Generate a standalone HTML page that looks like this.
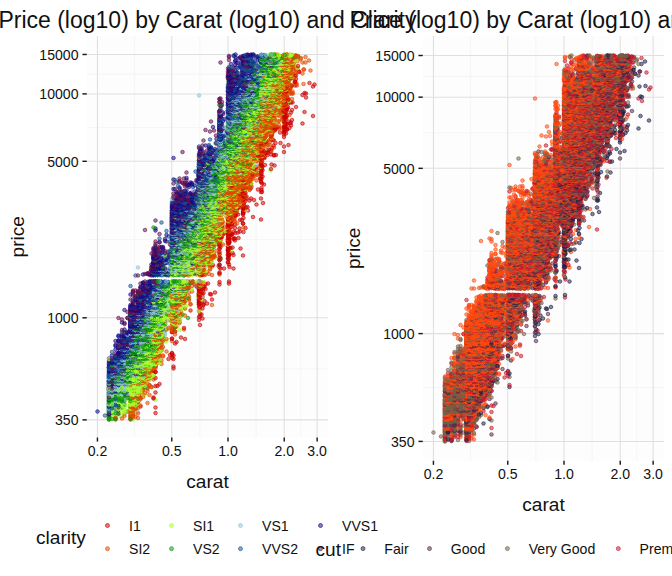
<!DOCTYPE html>
<html><head><meta charset="utf-8"><title>Price by Carat</title>
<style>
html,body{margin:0;padding:0;background:#fff;overflow:hidden}
svg{display:block;font-family:"Liberation Sans",sans-serif}
.tt{font-size:23px;fill:#111}
.ax{font-size:19.1px;fill:#111}
.tk{font-size:14.1px;fill:#111}
.lg{fill-opacity:.52;stroke-opacity:.7;stroke-width:.9}
.a0{marker:url(#a0)}.a1{marker:url(#a1)}.a2{marker:url(#a2)}.a3{marker:url(#a3)}.a4{marker:url(#a4)}.a5{marker:url(#a5)}.a6{marker:url(#a6)}.a7{marker:url(#a7)}.b0{marker:url(#b0)}.b1{marker:url(#b1)}.b2{marker:url(#b2)}.b3{marker:url(#b3)}.b4{marker:url(#b4)}.pt{fill-opacity:.52;stroke-opacity:.7;stroke-width:1.8}
</style></head><body>
<svg width="672" height="576" viewBox="0 0 672 576">
<rect width="672" height="576" fill="#fff"/>
<text class="tt" x="207.4" y="27.5" text-anchor="middle">Price (log10) by Carat (log10) and Clarity</text>
<text class="tt" x="543.8" y="27.5" text-anchor="middle">Price (log10) by Carat (log10) and Cut</text>
<rect x="87.0" y="36.0" width="241.0" height="401.5" fill="#fdfdfd"/>
<line x1="134.60" x2="134.60" y1="36.0" y2="437.5" stroke="#f0f0f0" stroke-width="0.6"/>
<line x1="199.88" x2="199.88" y1="36.0" y2="437.5" stroke="#f0f0f0" stroke-width="0.6"/>
<line x1="256.12" x2="256.12" y1="36.0" y2="437.5" stroke="#f0f0f0" stroke-width="0.6"/>
<line x1="300.68" x2="300.68" y1="36.0" y2="437.5" stroke="#f0f0f0" stroke-width="0.6"/>
<line y1="368.84" y2="368.84" x1="87.0" x2="328.0" stroke="#f0f0f0" stroke-width="0.6"/>
<line y1="239.55" y2="239.55" x1="87.0" x2="328.0" stroke="#f0f0f0" stroke-width="0.6"/>
<line y1="127.60" y2="127.60" x1="87.0" x2="328.0" stroke="#f0f0f0" stroke-width="0.6"/>
<line y1="74.19" y2="74.19" x1="87.0" x2="328.0" stroke="#f0f0f0" stroke-width="0.6"/>
<line x1="97.43" x2="97.43" y1="36.0" y2="437.5" stroke="#dfdfdf" stroke-width="1.05"/>
<line x1="97.43" x2="97.43" y1="437.5" y2="441.6" stroke="#1a1a1a" stroke-width="1.45"/>
<text class="tk" x="97.43" y="455.70" text-anchor="middle">0.2</text>
<line x1="171.77" x2="171.77" y1="36.0" y2="437.5" stroke="#dfdfdf" stroke-width="1.05"/>
<line x1="171.77" x2="171.77" y1="437.5" y2="441.6" stroke="#1a1a1a" stroke-width="1.45"/>
<text class="tk" x="171.77" y="455.70" text-anchor="middle">0.5</text>
<line x1="228.00" x2="228.00" y1="36.0" y2="437.5" stroke="#dfdfdf" stroke-width="1.05"/>
<line x1="228.00" x2="228.00" y1="437.5" y2="441.6" stroke="#1a1a1a" stroke-width="1.45"/>
<text class="tk" x="228.00" y="455.70" text-anchor="middle">1.0</text>
<line x1="284.23" x2="284.23" y1="36.0" y2="437.5" stroke="#dfdfdf" stroke-width="1.05"/>
<line x1="284.23" x2="284.23" y1="437.5" y2="441.6" stroke="#1a1a1a" stroke-width="1.45"/>
<text class="tk" x="284.23" y="455.70" text-anchor="middle">2.0</text>
<line x1="317.13" x2="317.13" y1="36.0" y2="437.5" stroke="#dfdfdf" stroke-width="1.05"/>
<line x1="317.13" x2="317.13" y1="437.5" y2="441.6" stroke="#1a1a1a" stroke-width="1.45"/>
<text class="tk" x="317.13" y="455.70" text-anchor="middle">3.0</text>
<line y1="419.88" y2="419.88" x1="87.0" x2="328.0" stroke="#dfdfdf" stroke-width="1.05"/>
<line y1="419.88" y2="419.88" x1="82.4" x2="86.8" stroke="#1a1a1a" stroke-width="1.45"/>
<text class="tk" x="78.50" y="425.08" text-anchor="end">350</text>
<line y1="317.80" y2="317.80" x1="87.0" x2="328.0" stroke="#dfdfdf" stroke-width="1.05"/>
<line y1="317.80" y2="317.80" x1="82.4" x2="86.8" stroke="#1a1a1a" stroke-width="1.45"/>
<text class="tk" x="78.50" y="323.00" text-anchor="end">1000</text>
<line y1="161.30" y2="161.30" x1="87.0" x2="328.0" stroke="#dfdfdf" stroke-width="1.05"/>
<line y1="161.30" y2="161.30" x1="82.4" x2="86.8" stroke="#1a1a1a" stroke-width="1.45"/>
<text class="tk" x="78.50" y="166.50" text-anchor="end">5000</text>
<line y1="93.90" y2="93.90" x1="87.0" x2="328.0" stroke="#dfdfdf" stroke-width="1.05"/>
<line y1="93.90" y2="93.90" x1="82.4" x2="86.8" stroke="#1a1a1a" stroke-width="1.45"/>
<text class="tk" x="78.50" y="99.10" text-anchor="end">10000</text>
<line y1="54.47" y2="54.47" x1="87.0" x2="328.0" stroke="#dfdfdf" stroke-width="1.05"/>
<line y1="54.47" y2="54.47" x1="82.4" x2="86.8" stroke="#1a1a1a" stroke-width="1.45"/>
<text class="tk" x="78.50" y="59.67" text-anchor="end">15000</text>
<text class="ax" x="207.50" y="487.70" text-anchor="middle">carat</text>
<text class="ax" transform="translate(24.00,236.75) rotate(-90)" text-anchor="middle">price</text>
<rect x="423.0" y="36.0" width="241.0" height="424.75" fill="#fdfdfd"/>
<line x1="470.60" x2="470.60" y1="36.0" y2="460.75" stroke="#f0f0f0" stroke-width="0.6"/>
<line x1="535.88" x2="535.88" y1="36.0" y2="460.75" stroke="#f0f0f0" stroke-width="0.6"/>
<line x1="592.12" x2="592.12" y1="36.0" y2="460.75" stroke="#f0f0f0" stroke-width="0.6"/>
<line x1="636.68" x2="636.68" y1="36.0" y2="460.75" stroke="#f0f0f0" stroke-width="0.6"/>
<line y1="387.50" y2="387.50" x1="423.0" x2="664.0" stroke="#f0f0f0" stroke-width="0.6"/>
<line y1="250.96" y2="250.96" x1="423.0" x2="664.0" stroke="#f0f0f0" stroke-width="0.6"/>
<line y1="132.74" y2="132.74" x1="423.0" x2="664.0" stroke="#f0f0f0" stroke-width="0.6"/>
<line y1="76.33" y2="76.33" x1="423.0" x2="664.0" stroke="#f0f0f0" stroke-width="0.6"/>
<line x1="433.43" x2="433.43" y1="36.0" y2="460.75" stroke="#dfdfdf" stroke-width="1.05"/>
<line x1="433.43" x2="433.43" y1="460.75" y2="464.85" stroke="#1a1a1a" stroke-width="1.45"/>
<text class="tk" x="433.43" y="478.95" text-anchor="middle">0.2</text>
<line x1="507.77" x2="507.77" y1="36.0" y2="460.75" stroke="#dfdfdf" stroke-width="1.05"/>
<line x1="507.77" x2="507.77" y1="460.75" y2="464.85" stroke="#1a1a1a" stroke-width="1.45"/>
<text class="tk" x="507.77" y="478.95" text-anchor="middle">0.5</text>
<line x1="564.00" x2="564.00" y1="36.0" y2="460.75" stroke="#dfdfdf" stroke-width="1.05"/>
<line x1="564.00" x2="564.00" y1="460.75" y2="464.85" stroke="#1a1a1a" stroke-width="1.45"/>
<text class="tk" x="564.00" y="478.95" text-anchor="middle">1.0</text>
<line x1="620.23" x2="620.23" y1="36.0" y2="460.75" stroke="#dfdfdf" stroke-width="1.05"/>
<line x1="620.23" x2="620.23" y1="460.75" y2="464.85" stroke="#1a1a1a" stroke-width="1.45"/>
<text class="tk" x="620.23" y="478.95" text-anchor="middle">2.0</text>
<line x1="653.13" x2="653.13" y1="36.0" y2="460.75" stroke="#dfdfdf" stroke-width="1.05"/>
<line x1="653.13" x2="653.13" y1="460.75" y2="464.85" stroke="#1a1a1a" stroke-width="1.45"/>
<text class="tk" x="653.13" y="478.95" text-anchor="middle">3.0</text>
<line y1="441.41" y2="441.41" x1="423.0" x2="664.0" stroke="#dfdfdf" stroke-width="1.05"/>
<line y1="441.41" y2="441.41" x1="418.4" x2="422.8" stroke="#1a1a1a" stroke-width="1.45"/>
<text class="tk" x="414.50" y="446.61" text-anchor="end">350</text>
<line y1="333.60" y2="333.60" x1="423.0" x2="664.0" stroke="#dfdfdf" stroke-width="1.05"/>
<line y1="333.60" y2="333.60" x1="418.4" x2="422.8" stroke="#1a1a1a" stroke-width="1.45"/>
<text class="tk" x="414.50" y="338.80" text-anchor="end">1000</text>
<line y1="168.33" y2="168.33" x1="423.0" x2="664.0" stroke="#dfdfdf" stroke-width="1.05"/>
<line y1="168.33" y2="168.33" x1="418.4" x2="422.8" stroke="#1a1a1a" stroke-width="1.45"/>
<text class="tk" x="414.50" y="173.53" text-anchor="end">5000</text>
<line y1="97.15" y2="97.15" x1="423.0" x2="664.0" stroke="#dfdfdf" stroke-width="1.05"/>
<line y1="97.15" y2="97.15" x1="418.4" x2="422.8" stroke="#1a1a1a" stroke-width="1.45"/>
<text class="tk" x="414.50" y="102.35" text-anchor="end">10000</text>
<line y1="55.51" y2="55.51" x1="423.0" x2="664.0" stroke="#dfdfdf" stroke-width="1.05"/>
<line y1="55.51" y2="55.51" x1="418.4" x2="422.8" stroke="#1a1a1a" stroke-width="1.45"/>
<text class="tk" x="414.50" y="60.71" text-anchor="end">15000</text>
<text class="ax" x="543.50" y="510.95" text-anchor="middle">carat</text>
<text class="ax" transform="translate(360.00,248.38) rotate(-90)" text-anchor="middle">price</text>
<defs>
<marker id="a0" markerUnits="userSpaceOnUse" markerWidth="16" markerHeight="16" refX="8" refY="8"><circle cx="8" cy="8" r="3.6" fill="#cc0000" stroke="#cc0000" class="pt"/></marker>
<marker id="a1" markerUnits="userSpaceOnUse" markerWidth="16" markerHeight="16" refX="8" refY="8"><circle cx="8" cy="8" r="3.6" fill="#e14a00" stroke="#e14a00" class="pt"/></marker>
<marker id="a2" markerUnits="userSpaceOnUse" markerWidth="16" markerHeight="16" refX="8" refY="8"><circle cx="8" cy="8" r="3.6" fill="#a5ff30" stroke="#a5ff30" class="pt"/></marker>
<marker id="a3" markerUnits="userSpaceOnUse" markerWidth="16" markerHeight="16" refX="8" refY="8"><circle cx="8" cy="8" r="3.6" fill="#109810" stroke="#109810" class="pt"/></marker>
<marker id="a4" markerUnits="userSpaceOnUse" markerWidth="16" markerHeight="16" refX="8" refY="8"><circle cx="8" cy="8" r="3.6" fill="#92c1d8" stroke="#92c1d8" class="pt"/></marker>
<marker id="a5" markerUnits="userSpaceOnUse" markerWidth="16" markerHeight="16" refX="8" refY="8"><circle cx="8" cy="8" r="3.6" fill="#155595" stroke="#155595" class="pt"/></marker>
<marker id="a6" markerUnits="userSpaceOnUse" markerWidth="16" markerHeight="16" refX="8" refY="8"><circle cx="8" cy="8" r="3.6" fill="#150a88" stroke="#150a88" class="pt"/></marker>
<marker id="a7" markerUnits="userSpaceOnUse" markerWidth="16" markerHeight="16" refX="8" refY="8"><circle cx="8" cy="8" r="3.6" fill="#66104f" stroke="#66104f" class="pt"/></marker>
<marker id="b0" markerUnits="userSpaceOnUse" markerWidth="16" markerHeight="16" refX="8" refY="8"><circle cx="8" cy="8" r="3.6" fill="#1c2048" stroke="#1c2048" class="pt"/></marker>
<marker id="b1" markerUnits="userSpaceOnUse" markerWidth="16" markerHeight="16" refX="8" refY="8"><circle cx="8" cy="8" r="3.6" fill="#562a48" stroke="#562a48" class="pt"/></marker>
<marker id="b2" markerUnits="userSpaceOnUse" markerWidth="16" markerHeight="16" refX="8" refY="8"><circle cx="8" cy="8" r="3.6" fill="#716249" stroke="#716249" class="pt"/></marker>
<marker id="b3" markerUnits="userSpaceOnUse" markerWidth="16" markerHeight="16" refX="8" refY="8"><circle cx="8" cy="8" r="3.6" fill="#c4182c" stroke="#c4182c" class="pt"/></marker>
<marker id="b4" markerUnits="userSpaceOnUse" markerWidth="16" markerHeight="16" refX="8" refY="8"><circle cx="8" cy="8" r="3.6" fill="#ff4a12" stroke="#ff4a12" class="pt"/></marker>
</defs>
<g fill="none" stroke="none" transform="scale(0.5)">
<path class=a2 d="M218 837l0 0 0 1 6-10 0 7 7-7 0 1 0 2 0 1 0 6 6-11 0 5 7 0 17 2 5-2 0 7 5-11"/>
<path class=a4 d="M218 827l0 1 0 3 13 6 6-9"/>
<path class=a5 d="M210 831l27-4"/>
<path class=a1 d="M218 833l13 2 0 3 0 1 6-12 7 10 5-10 0 5 12-5 0 4 0 0 0 2 0 2 0 3 0 1 5-12 0 0 0 1 0 3 0 0 0 4 5-1 5 2"/>
<path class=a3 d="M218 829l0 3 0 1 0 2 0 1 0 1 0 2 0 0 6-1 7 0 30 0"/>
<path class=a3 d="M218 818l0 3 0 3 0 0 0 0 6-6 0 2 0 2 0 4 7-8 0 1 0 2 0 5 6 0 18-3 6-2 0 4"/>
<path class=a6 d="M195 823l23-5 0 2 0 8 19-8"/>
<path class=a2 d="M218 819l0 5 6-5 0 0 0 2 0 1 0 1 13-4 7 0 0 6 5-6 0 2 0 4 12-7 0 1 0 0 0 2 0 1 0 1 0 2 5-6 0 1 0 1 0 2"/>
<path class=a4 d="M218 821l13-2 40 4 5 1"/>
<path class=a1 d="M261 819l0 2 0 2 0 3 5-5 0 2 5-5 5 9"/>
<path class=a5 d="M218 823l0 3"/>
<path class=a3 d="M218 811l0 1 0 1 0 2 0 1 0 1 6-5 0 0 0 3 7 2 6-5 0 1 0 0 7 2 17 0"/>
<path class=a4 d="M218 811l0 1 0 4 0 1 6-5 7 3 6 1 34-1"/>
<path class=a5 d="M218 815l6 2"/>
<path class=a2 d="M237 811l0 4 0 1 0 0 0 1 7-6 5 2 0 3 12-3 0 0 0 1 0 2 0 2 5-6 0 2 0 2 0 1 5 0"/>
<path class=a0 d="M281 813l30 2 0 11"/>
<path class=a7 d="M218 829l19-14"/>
<path class=a1 d="M261 813l0 1 5-3 0 2 0 1 0 1 0 2 5-5 0 1 0 4 0 0 5-1 5-5"/>
<path class=a6 d="M218 808l0 5 6-3"/>
<path class=a4 d="M218 808l13-3"/>
<path class=a3 d="M218 808l6-3 0 2 0 1 0 0 0 2 7-4 0 0 0 2 0 1 6 0 0 0 12 0 12 0 5-2"/>
<path class=a5 d="M218 807l0 2 6 2 7-2 0 1 6 1 7-6"/>
<path class=a1 d="M261 805l0 0 0 3 0 2 0 0 5-4 0 2 0 1 0 1 5-3 0 1 5-3 0 1 0 2 0 1 19-3"/>
<path class=a2 d="M218 809l6 0 13-5 7 2 0 2 11 2 6-5 0 2 0 0 0 1 0 0 0 2 5-5 0 2 0 0 0 2 5 2 5-4"/>
<path class=a5 d="M218 802l13-2 0 2 45 1"/>
<path class=a4 d="M218 800l0 0 0 0 0 3 0 1 6-4 0 1 0 1 0 1 0 1 0 0 7-2 0 0 6 0 7-1 0 2 37-4"/>
<path class=a1 d="M261 801l0 1 5-1 0 1 5 0 5 0 0 1 0 0"/>
<path class=a2 d="M224 802l13-3 0 3 0 2 24-3 0 0 0 1 5-3 0 1 0 2 0 0 0 0 5-2 0 4 5-4 0 1 35-1"/>
<path class=a3 d="M218 800l0 2 0 2 0 0 6-3 13-2 0 2 7-1 0 1 0 2 5-1 12 0 5-2"/>
<path class=a0 d="M307 795l0 2"/>
<path class=a1 d="M261 795l0 3 5-2 0 0 5-2 0 3 0 2 0 0 5-3 0 1 5 0 0 0"/>
<path class=a2 d="M231 797l0 1 13-4 0 1 11 2 6-2 0 0 0 1 0 1 0 2 5 0 5-2 0 1 5-3"/>
<path class=a4 d="M218 797l0 0 6-3 0 0 0 1 0 2 7-1 0 1"/>
<path class=a6 d="M218 794l0 6 6-3"/>
<path class=a3 d="M218 797l0 1 6-2 0 2 0 1 0 0 7-4 0 1 0 2 6-2 0 1 7-2 0 2 0 0 11-1 6 1 0 1 5-2 10 1"/>
<path class=a5 d="M218 794l13 4"/>
<path class=a5 d="M224 792l20 0 5 0"/>
<path class=a2 d="M231 790l6 3 7 1 5-4 6 3 6-1 0 0 5-2 0 1 0 1 0 2 5-1 0 1 5-3 14-1"/>
<path class=a3 d="M218 790l0 0 0 0 0 2 0 2 6-4 0 2 7 0 6-2 0 1 0 3 0 0 7 0 5-3 0 0 6 3 6-4"/>
<path class=a4 d="M218 792l6-2 0 2 13-2 24 0 5 4"/>
<path class=a1 d="M261 790l0 2 5 1 0 1 0 0 5-4 0 1 0 2 0 0 5-2 0 0 0 1 0 1 0 1 5-4 0 1 0 0 0 3 5 0"/>
<path class=a6 d="M218 786l19 1 0 2"/>
<path class=a1 d="M271 787l0 1 10-2 0 2 5 1 13 1"/>
<path class=a3 d="M218 786l0 2 0 1 6-3 0 3 7-2 0 0 0 2 0 0 6-2 0 1 0 1 7-2 5 1 0 1 6 1 11-3 5 2 0 0"/>
<path class=a2 d="M224 787l0 3 13-1 7-1 0 1 17-3 0 1 0 1 0 0 0 0 5-1 0 1 0 1 0 0 0 1 5-3 0 1 5-1 0 0 0 1 0 1 10 0"/>
<path class=a7 d="M218 786l0 8 37-5"/>
<path class=a4 d="M218 788l6-1 0 2 0 0 20-2 0 1 11 0"/>
<path class=a1 d="M255 784l6 1 5-3 5 1 0 2 5-3 0 3 0 1 5-4 0 0 9 4 5-4"/>
<path class=a4 d="M218 782l0 0 0 0 0 2 0 0 13-1 0 2 6-3 0 2 0 1 7 0 17-1 10 1"/>
<path class=a2 d="M231 785l13-2 5 0 12-1 0 3 0 1 5-4 0 0 0 2 0 0 0 1 0 1 5-1 5 0 5-3"/>
<path class=a6 d="M224 782l13 0"/>
<path class=a7 d="M224 783l0 2"/>
<path class=a3 d="M224 783l0 1 7-2 6 1 0 2 7-2 0 1 5-1 0 2 6-3"/>
<path class=a5 d="M218 784l6 1 7-2 0 1 18 4 6-6"/>
<path class=a7 d="M218 779l0 1 31-1"/>
<path class=a3 d="M224 781l13-2 0 0 0 2 7-1 0 0 5-1 6 2 6-3 5 0 0 2 10-2"/>
<path class=a5 d="M218 780l6-1 0 1 7 0 0 1"/>
<path class=a6 d="M224 779l7 2 0 0"/>
<path class=a4 d="M218 781l6-2 0 2 7-2 0 0 6 1 0 1 24-3 0 0"/>
<path class=a1 d="M266 781l5-3 0 1 0 1 0 1 10-2 5 0 0 1"/>
<path class=a2 d="M237 780l7-1 5 3 6-2 6 0 0 0 0 0 0 2 0 0 5-3 0 0 0 1 5-1 0 1 5-2 0 2 0 2 0 0 0 0 5 0"/>
<path class=a3 d="M218 775l0 0 0 3 6-1 13-2 7 0 0 1 5 1 12-1 5 0 10 0 19 0"/>
<path class=a5 d="M218 778l0 0 0 0 6-3 13 1"/>
<path class=a6 d="M218 775l6 0 42 1"/>
<path class=a1 d="M276 776l0 1 5-2 0 1 5-1 0 1 9 1"/>
<path class=a2 d="M218 778l19-3 0 1 7 1 11-2 0 2 6-1 0 0 5 1 5-2 0 0 0 1 0 0 0 0 5 0 0 0 0 1 0 1 5 0"/>
<path class=a4 d="M224 776l0 1 7-2 0 0 0 1 0 1 6-2 0 2 7-2 0 3 5 0 0 0 22-3"/>
<path class=a1 d="M261 774l5 1 15-3 5 1 13-2 4 3 0 0"/>
<path class=a3 d="M218 772l6-1 0 1 0 0 7 1 0 0 6-1 7-1 0 2 0 1 11-3 11 3 5 0 10-2 9 2"/>
<path class=a5 d="M224 772l0 1 7 1 13-4"/>
<path class=a7 d="M218 772l6 0 0 5"/>
<path class=a2 d="M218 772l19 2 7 0 5 0 0 1 6-1 6-2 0 0 0 2 0 0 5-2 0 0 0 1 0 2 5-3 0 2 5-2 0 1 0 0 5-2 0 2 0 1 9-2"/>
<path class=a4 d="M231 773l6-3 0 3 7-1 5 0 0 2 12-2"/>
<path class=a0 d="M311 772l0 13 4-13"/>
<path class=a3 d="M224 769l13 1 7-2 0 0 0 1 5-1 6 0 16 0 10 1"/>
<path class=a4 d="M218 769l13 0 0 1 0 0 0 0 6-2 0 1 7 0 5 1"/>
<path class=a5 d="M218 769l0 1 0 0 13-2 0 1 6-1 24 0"/>
<path class=a2 d="M244 770l17-2 0 0 0 2 0 0 5-2 0 0 0 0 0 2 0 0 0 0 5-2 0 0 0 2 0 0 0 0 5 0 0 0 0 0 5-1 0 0 5-1 0 1"/>
<path class=a6 d="M218 768l6 0 0 1 13 1 12-2"/>
<path class=a1 d="M261 770l15-2 0 0 0 0 23 2"/>
<path class=a6 d="M218 767l6-2 0 1"/>
<path class=a7 d="M218 770l6-4 0 1 7-1"/>
<path class=a3 d="M218 765l0 2 13-2 0 1 6-1 0 0 0 0 0 2 7-1 5-1 6 1 6 0 10-2 5 3"/>
<path class=a5 d="M231 766l18 0 0 1"/>
<path class=a2 d="M237 767l18-1 6 0 0 0 5 0 0 1 5-2 0 1 0 0 5-1 0 2 5-2 0 0 0 1 0 1 5-2 0 1 0 1"/>
<path class=a4 d="M218 767l13-1 6 1 7-2 0 2 0 0 5-3 0 3 6-1 21 0 5-1"/>
<path class=a1 d="M266 764l0 2 5 0 5-1 5 2 5-2 0 1 9 1"/>
<path class=a6 d="M218 762l0 1 0 1 6-1 0 1 7-1"/>
<path class=a4 d="M224 763l7-2 0 1 13-1 5 1 6 1 6-1 0 2 20-2 0 2"/>
<path class=a2 d="M237 762l12 0 12 0 0 2 5-2 0 0 0 2 0 0 5-2 0 0 0 0 0 2 5-2 0 0 5 0 5 1 0 1 0 0 4 0"/>
<path class=a1 d="M261 762l20 1 5-1 4-1 0 3 5-3"/>
<path class=a3 d="M218 763l6 0 7 1 6-1 7-1 0 2 5-3 0 1 6-1 0 3 6 0 5-2 10 0 5 0"/>
<path class=a5 d="M218 764l13-2 6 0 7 0"/>
<path class=a3 d="M224 760l7 1 6-2 0 1 18-1 0 0 0 1 0 1 6-3 0 2 0 0 5-2 0 2 5 0 5-2 10 3"/>
<path class=a6 d="M218 761l6 0 37-1"/>
<path class=a5 d="M218 760l0 1 6-2 0 0 0 2 7-2 0 0 0 1 6 1 7-2 0 0 0 2 5-2 0 1 22 0"/>
<path class=a1 d="M281 759l5 0 0 2 0 0 4-2 0 1 5-1 12 0"/>
<path class=a7 d="M224 764l25-4"/>
<path class=a4 d="M231 759l6 0 0 1 7 1 11-2"/>
<path class=a2 d="M266 758l0 2 0 0 5 0 5-2 0 3 0 0 0 0 5 0 9-2 5 2 4-1"/>
<path class=a5 d="M218 755l0 1 0 1 0 0 6 0 7-1 13 1 5 1"/>
<path class=a3 d="M224 757l0 1 7-2 0 1 6-1 0 0 0 1 0 1 7-2 5-1 0 3 12 0 10-1 0 1 5-1 5 0 0 1"/>
<path class=a6 d="M218 756l6 1 20 0 11-2"/>
<path class=a1 d="M276 758l5 0 9-3 0 3 5 0 4-1"/>
<path class=a0 d="M311 756l8 12"/>
<path class=a2 d="M255 757l6-1 0 0 0 2 5-2 0 0 0 1 0 1 5-2 0 0 0 2 0 0 5-1 5-1 0 1 9 1 5-2"/>
<path class=a4 d="M218 757l19-2 0 1 12 0 12 0 15 1"/>
<path class=a6 d="M218 753l6 2"/>
<path class=a7 d="M224 752l7 3 50-2"/>
<path class=a1 d="M276 753l5 1 0 1 9-3 0 2 0 0 5-2 0 1 12 1"/>
<path class=a5 d="M218 752l0 1 6-1 0 2"/>
<path class=a4 d="M231 753l6 0 7-1 0 1 0 1 17-2 5 0"/>
<path class=a3 d="M224 754l13-1 0 0 0 2 7-3 5 1 0 1 6-1 0 2 6-1 5-2 0 2 5 0 5 0 0 1 10-3 4 0"/>
<path class=a2 d="M249 753l12 1 0 0 5-2 0 2 0 0 5 0 0 0 5-2 0 1 0 1 5-2 0 3 5-3 0 2 0 1 0 0 13 0 4-2"/>
<path class=a2 d="M261 750l0 0 0 2 5-2 5 0 0 0 5 0 0 0 0 0 5 0 0 0 0 2 5 0 4-2 0 0 0 1 0 0 5 1 4-1 4 1 4-2"/>
<path class=a6 d="M218 750l6 1 0 1 7-1"/>
<path class=a3 d="M218 750l13 0 6 0 0 2 7-1 5-1 0 1 0 1 6 0 0 0 0 0 6-2 0 2 5-2 5 0 0 2 15 0"/>
<path class=a4 d="M224 750l0 2 7-2 6 0 7 0 0 1 5 1 17-2 5 2 0 0 15 0 0 0"/>
<path class=a5 d="M218 750l0 1"/>
<path class=a1 d="M281 750l14 1 0 0 4 1"/>
<path class=a4 d="M224 749l7-2 0 2 6-2 0 2 7-2 5 1 6-1 6 1 0 0 5 0 0 0 20-1 4 0"/>
<path class=a1 d="M281 749l5-2 4 1 9-1 0 2"/>
<path class=a2 d="M255 748l6-2 5 2 5-1 0 1 5-1 0 1 5 1 5-2 0 1 9 1 4 0 8 0"/>
<path class=a6 d="M224 749l7-2 13 1 5 1 32-1"/>
<path class=a5 d="M218 748l6 0 0 1 7 0 6-2 7 0 0 2 42-1"/>
<path class=a3 d="M231 748l6-1 0 1 0 1 7 0 5-2 0 2 12-3 0 2 10 0 5 0 0 0 10 1 4-1"/>
<path class=a3 d="M231 744l13 1 11 0 0 0 0 0 6-1 5 0 0 0 0 2 10-1 0 1 0 0 5-1 14 0 0 1"/>
<path class=a2 d="M249 745l12 1 5 0 5-2 0 0 0 2 0 0 5-2 0 0 5 1 0 1 0 0 0 0 0 0 5-2 0 1 4-1 0 1 5 1 12-1"/>
<path class=a6 d="M231 746l6-1"/>
<path class=a5 d="M218 746l0 0 6-2 0 2 13-1 0 1 12-1 12-1 5 2"/>
<path class=a7 d="M231 745l13 1 27 2"/>
<path class=a4 d="M224 745l20-1 0 1 5 1 12-2 5 0 5 0"/>
<path class=a1 d="M286 745l4 0 0 1 9-1"/>
<path class=a4 d="M231 742l0 1 6-2 0 0 7 1 5-1 0 2 12-1 0 0 5 0"/>
<path class=a5 d="M237 744l7-1 5-2 0 1 6-1 0 1"/>
<path class=a2 d="M266 742l5 0 0 0 0 0 5 0 0 0 0 1 5-1 0 1 5-2 0 0 0 1 0 1 4-1 0 1 5-1 4-1"/>
<path class=a3 d="M244 741l0 2 5-2 0 1 6 0 6 0 5 0 15 1 5 0 4 0"/>
<path class=a1 d="M290 741l9 0 0 1 4-1 4 0 0 1"/>
<path class=a7 d="M224 742l0 0 7 0 13 0"/>
<path class=a6 d="M218 742l0 2 6-3 0 2 7-1"/>
<path class=a0 d="M307 741l4 3 0 0"/>
<path class=a6 d="M218 740l6 0"/>
<path class=a4 d="M237 739l0 0 7-1 0 2 17-2 0 2 10-1 15 0 9 0"/>
<path class=a3 d="M249 738l0 1 0 0 6 0 0 0 6-1 0 2 0 0 5-2 0 0 0 0 0 2 0 0 5-1 0 1 5-1 0 1 5-2 0 2 5-1 4 0 5 1"/>
<path class=a2 d="M255 740l6-2 5 3 5-3 0 2 0 0 5-2 0 1 0 1 0 0 5-2 0 0 0 2 5-1 0 1 4-2 5 1"/>
<path class=a1 d="M281 740l9-1 17 0"/>
<path class=a5 d="M224 740l0 0 7-1 6 2 7-3 0 1"/>
<path class=a4 d="M218 736l13 1 6-1 12-1 6 1 35 1 5-2"/>
<path class=a2 d="M271 736l0 0 0 0 10 0 0 0 5 0 0 1 4 1 5-2 0 1 4 1 0 0 4-2 0 0"/>
<path class=a3 d="M218 735l31 0 0 2 12-1 0 0 0 0 5 0 0 0 10 0 0 0 10 1"/>
<path class=a6 d="M218 736l6-1 0 2 7-1 0 1 6-2 12 2"/>
<path class=a5 d="M218 738l6-3 0 1 0 1 7-2 0 1 0 1 6-1 0 1 7 1 22-2 15 0"/>
<path class=a7 d="M224 737l0 3 52-4"/>
<path class=a1 d="M295 737l4-2 4 2 0 0 4 0 4-1"/>
<path class=a3 d="M244 735l5-3 6 2 0 1 6-1 0 0 5-2 0 2 0 0 5 0 0 0 0 0 10 0 5-1 4 0 0 1"/>
<path class=a7 d="M231 733l6 2 12 0"/>
<path class=a6 d="M218 732l0 2 0 0 26 1 5-3"/>
<path class=a2 d="M261 734l5 0 10 0 0 1 5-1 0 0 5-2 0 2 0 1 4-2 0 2 5-2 0 1 4-1 0 1 0 1 4-2 0 0 0 1 4 0"/>
<path class=a0 d="M347 733l0 4"/>
<path class=a4 d="M237 735l7-1 5-1 6 0 31 2"/>
<path class=a5 d="M218 735l19-2 0 0 39 2"/>
<path class=a1 d="M290 735l9-2 8 0 0 2 4-2 0 0"/>
<path class=a6 d="M231 732l6-2 7 1 0 0 0 1 0 0"/>
<path class=a1 d="M295 731l0 1 0 0 4 0 4-1 4-1 4 2"/>
<path class=a5 d="M224 731l7 1 6 0 12-2 0 1 27 1 5 0"/>
<path class=a3 d="M224 730l20 1 0 1 17 0 5-2 0 2 0 0 5-2 5 0 5 2 5-2 0 1 4 1"/>
<path class=a2 d="M271 732l0 0 5-2 0 2 5-2 0 1 5 0 4-1 0 1 5-1 0 1 4-1 0 1 0 1 4-2 0 1"/>
<path class=a4 d="M231 731l18-1 6 0 6 2 0 0 5-2 0 0 5 2 5 0 5 0 5 0"/>
<path class=a7 d="M231 729l0 0"/>
<path class=a1 d="M281 730l30-2 0 2 0 0 12-2"/>
<path class=a4 d="M224 730l7-1 13 0 5 1 6 0 6 0 0 0 10-2"/>
<path class=a5 d="M218 729l6 1 13 0 7-1 17 1 5-2"/>
<path class=a6 d="M218 728l26 1 5 0 6-1"/>
<path class=a3 d="M224 730l25 0 12-2 0 0 0 0 5 0 0 0 5 0 0 2 19-2 9 2 8-1 0 1"/>
<path class=a2 d="M271 728l0 2 5-2 0 0 0 1 0 1 5-2 0 1 0 0 5 0 4-1 0 0 0 1 0 0 5-1 0 1 0 0 4-1 4 1 0 1 8-2 0 1"/>
<path class=a7 d="M218 725l48 1 20 0"/>
<path class=a6 d="M224 725l0 2 7-1 0 0 0 1 6-1 0 0 0 1 7 0 22-1"/>
<path class=a1 d="M307 725l0 1 4-1 4 1"/>
<path class=a5 d="M224 725l7 2 6-1 7 1 5-2 27 1 0 0"/>
<path class=a3 d="M255 726l6 0 0 0 10 0 5 0 5 0 9 1 5-2 0 2 4-2 0 2 0 0"/>
<path class=a2 d="M266 726l5 0 0 0 10-1 0 1 0 0 5 0 0 1 4-2 5 0 0 2 4-2 0 2 4 0 0 0 4 0 0 0 4 0 8-1"/>
<path class=a4 d="M237 725l7 0 5 0 0 2 12-1"/>
<path class=a1 d="M290 722l0 1 9 0 8-1 0 1 0 1 4 0"/>
<path class=a3 d="M249 722l6 2 0 1 6-1 0 0 10-2 0 0 0 3 0 0 5-1 0 0 0 0 5-1 0 2 14-3"/>
<path class=a5 d="M231 722l6 1 0 0 7 0"/>
<path class=a2 d="M266 724l10-2 5 1 5-1 0 0 0 2 0 0 4-2 0 2 0 1 5-2 0 2 4-3 0 1 0 2 4-1 4 0 12 0"/>
<path class=a7 d="M255 723l6 1"/>
<path class=a4 d="M237 723l12 0 17 1 5-2 0 3 5-3 5 3 5-1"/>
<path class=a6 d="M224 722l0 3 7-2 0 0 13 1 22 0"/>
<path class=a4 d="M249 722l6-1 11-1 0 2 0 0 5-1 10 0"/>
<path class=a7 d="M237 721l12 0"/>
<path class=a1 d="M281 722l5-1 17 0 8 0 0 0 0 0 4 0 8 0"/>
<path class=a6 d="M218 722l6-1 13 0 7 1"/>
<path class=a3 d="M244 721l0 0 11 1 6-2 0 0 0 2 0 0 5-2 0 0 0 2 5-2 0 0 5 0 0 0 0 2 5-2 0 0 5 1 0 1 13-2 8 1"/>
<path class=a5 d="M231 722l6-2 7 1 5 0 0 0 12-1 0 2"/>
<path class=a2 d="M276 720l10 0 4 0 0 1 0 0 5 0 0 0 0 1 4-2 0 1 8 0"/>
<path class=a6 d="M218 717l13 0 0 1 13 0 11 2 11-2"/>
<path class=a1 d="M303 718l4 2 4-2 0 1"/>
<path class=a2 d="M218 718l53 0 5 0 5 0 5 0 0 0 0 0 9 0 0 0 0 1 4-1 0 0 0 1 4-1 4 0 0 0 4 1 8-1"/>
<path class=a7 d="M237 718l7-1 32 1"/>
<path class=a4 d="M231 719l13-1 0 2 5-1 0 1 0 0 6-2 0 0 6 0 5 0 5 0 10 0"/>
<path class=a3 d="M255 720l6-2 0 0 5 0 5 0 5 0 5 0 9 0 0 0"/>
<path class=a5 d="M224 720l7-2 0 0 6 0 0 1 53-1"/>
<path class=a0 d="M337 718l10 0"/>
<path class=a7 d="M224 717l13-1 12 0"/>
<path class=a1 d="M295 715l4 0 0 2 4-1 4 0 0 1 4-1 4-1"/>
<path class=a4 d="M244 715l5 0 0 1 0 0 6 0 0 1 6-1 0 0 5 0 5 0 0 0 19-1 5 1 4 1 12-2"/>
<path class=a5 d="M244 717l5-1"/>
<path class=a2 d="M276 715l0 1 5-1 9 0 0 1 0 1 5 0 4-1 12 0"/>
<path class=a3 d="M261 716l5 0 0 0 5 0 5-1 0 1 0 0 5 0 0 0 0 0 5 0 0 1 0 0 4 0 5-2 0 2"/>
<path class=a6 d="M231 715l0 1 6-1 7-1 5 1 6 0"/>
<path class=a4 d="M244 712l17 2 0 0 5 0 0 0 5 0 5-2 0 0 5 0"/>
<path class=a3 d="M255 714l11-2 0 2 10-2 5 0 5 0 0 0 0 2 0 0 4-1 0 1 5 0 4-2 0 1"/>
<path class=a5 d="M231 714l6 0 0 0 7 0 5-2 6 2 6 0"/>
<path class=a2 d="M271 714l5 0 5 0 0 0 5 0 4-2 0 0 5 0 0 1 4 1 0 0 8-2 0 2 0 0 8-1"/>
<path class=a1 d="M295 712l12 1 0 1 4-1 0 0 0 1 8-1 7 0"/>
<path class=a6 d="M231 713l6-1 0 0 7 0 5 1 6-1 16 2"/>
<path class=a2 d="M271 712l10-2 5 0 4 0 5 1 4 0 4 0 0 1 4-2 0 2 8-2"/>
<path class=a6 d="M224 711l13 1 7 0 0 0 5-2"/>
<path class=a7 d="M231 712l13-2 17 2"/>
<path class=a5 d="M231 711l6-1 0 1 7 0 5 0 0 0 0 1 6-2 6 0 10 0 32 1"/>
<path class=a1 d="M295 711l4 1 8-1 0 1 4-2 0 1 8 0 7 0"/>
<path class=a0 d="M340 710l4 1 0 5 3-5"/>
<path class=a4 d="M255 710l6 2 0 0 5-2 5 0 0 2 5-2 5 2"/>
<path class=a3 d="M255 710l6 0 0 0 5 2 0 0 5-2 0 2 10-2 5 2 4-2 21 1"/>
<path class=a4 d="M249 710l17-2 0 0 0 2 5-2 24 2"/>
<path class=a2 d="M266 710l10-2 5 0 5 0 0 0 0 2 4-2 5 0 0 1 4-1 0 1 0 0 4-1 0 1 4 1 4-1 0 0"/>
<path class=a3 d="M249 707l12 1 0 0 15 0 0 0 0 2 0 0 5-2 0 0 0 2 5-2 0 2 4-2 0 0 0 2"/>
<path class=a7 d="M237 710l7-1 11 0 6-1 10 0"/>
<path class=a6 d="M237 709l7-2 0 3 5-3 0 3 6-3 11 1 5 0"/>
<path class=a1 d="M295 709l12-2 4 1 0 0 4-1 0 2 0 0 4 0"/>
<path class=a5 d="M237 706l7 2 5-3 6 2 6-1"/>
<path class=a4 d="M249 706l6 0 11 0 5 0 5 0 0 0 5 0"/>
<path class=a7 d="M231 707l6-1 0 0 49 0"/>
<path class=a6 d="M237 706l0 0 0 0 12-2 0 1 22 1 10-2 22 2"/>
<path class=a0 d="M344 706l0 1"/>
<path class=a1 d="M307 707l8-1"/>
<path class=a2 d="M286 704l0 2 4 0 0 1 0 0 5-2 0 1 0 0 4-2 0 2 0 0 4-1 0 0 4 1 0 0 4 0 0 0 4-1 0 0"/>
<path class=a3 d="M261 706l0 0 5 0 0 0 5 0 5 0 5-2 0 2 0 0 5-1 0 1 13 0 4-1 0 1"/>
<path class=a4 d="M249 702l12 0 0 2 0 0 5-2 0 2 10-2 0 2 0 0 5-2 0 2 5 0 4 0 5-1"/>
<path class=a7 d="M271 704l24-1"/>
<path class=a6 d="M244 703l5 1 6 0 26-2"/>
<path class=a1 d="M307 702l0 0 0 0 0 2 12-2 14 1"/>
<path class=a3 d="M261 702l0 0 0 2 5 0 5-2 0 2 5-2 0 0 5 0 9 0 9 1"/>
<path class=a2 d="M276 704l10-2 0 0 4 0 0 2 0 0 5-2 0 2 0 0 4-2 0 2 0 0 8 0 4-1 0 0 4 1 4-2 0 1"/>
<path class=a5 d="M224 704l31-2 11 2 5 0 15-2"/>
<path class=a1 d="M299 700l0 1 8-1 4-1 0 1 0 0 0 0 4 1 0 1 8-2 0 1"/>
<path class=a2 d="M276 700l14 1 0 0 5-1 4 0 0 2 4 0 4-1 8-2 0 1 4 2 4-1"/>
<path class=a6 d="M249 701l12-1 5 2"/>
<path class=a5 d="M244 700l0 0 5-1 6 3 6-2 0 0 15 0"/>
<path class=a3 d="M266 700l0 0 0 0 0 2 5-2 0 0 0 2 0 0 5-2 5 0 0 0 5 0 4 2 5-2 4-1 4 2 4 0 4-1"/>
<path class=a7 d="M244 700l5 0"/>
<path class=a4 d="M249 700l22 0 10 1 5-1 0 0 4 2 5-3"/>
<path class=a6 d="M231 699l6-2 7 0 0 0 17 1"/>
<path class=a1 d="M307 698l8 0"/>
<path class=a2 d="M266 698l10 0 5 0 5 0 4 0 0 0 5-1 0 1 4-1 0 0 0 1 4 0 0 1 4-1 4 0 0 1 12-2"/>
<path class=a7 d="M244 698l11-1 16 1"/>
<path class=a5 d="M244 697l0 1 0 0 5-1 0 1 6 0 0 0 6 0 5 0 5 0 10 0"/>
<path class=a3 d="M261 698l10 0 5 0 10-1 0 0 0 0 0 1 0 1 4-2 0 0 0 1 5 1 4-1 4-1 0 1 4 0 4-1"/>
<path class=a4 d="M255 698l11 0 10 0 5 0 26-1"/>
<path class=a5 d="M244 695l5 1 12 0 5-2 0 2 0 0"/>
<path class=a7 d="M237 696l12-2 6 0 0 1 16 1"/>
<path class=a3 d="M261 696l10 0 0 0 10-2 0 0 0 0 0 2 5-2 4 0 0 1 0 1 5 0 0 1 4-1 4-1"/>
<path class=a2 d="M281 696l9-2 5 0 0 0 4 1 4 1 4-1 4-1 0 0 8 1"/>
<path class=a4 d="M261 694l0 2 5 0 10 0 0 0 5 0 26-1 16 1"/>
<path class=a1 d="M307 694l0 2 0 0 4 0 4-1 0 1 8 0"/>
<path class=a6 d="M237 695l0 1 0 0 7-2 5 1 6 0 0 2 21-1 23-1"/>
<path class=a7 d="M237 692l0 2 12-1 12 1 15 0"/>
<path class=a4 d="M261 694l5-2 0 0 0 0 5 2 0 0 5-2 0 0 5 0 0 0 9 0 13 1 0 0"/>
<path class=a2 d="M271 692l5 2 10 0 4-2 5 0 0 1 0 0 4 0 0 1 8-1 4 0 0 0 0 1"/>
<path class=a1 d="M307 693l12-1 0 1 0 0 7 1"/>
<path class=a3 d="M261 692l0 0 5 2 5-2 5 0 0 2 5-2 5 0 0 1 0 1 9 0 4-2 0 0 4 2 4-2 4 1"/>
<path class=a5 d="M237 692l29 2 5-2 0 2 15-2 4 0"/>
<path class=a6 d="M231 692l30 0"/>
<path class=a5 d="M244 690l5-1 6 0 6 1 0 0 5 0 5 0 44-1"/>
<path class=a4 d="M255 692l11-2 5 0 10 0 0 0 0 1 5-3 0 3 9 0 4-3 4 3"/>
<path class=a6 d="M231 690l18 1 12-1 5 0 10 0"/>
<path class=a7 d="M237 689l18 1"/>
<path class=a1 d="M307 690l8 1 4 0 4-2"/>
<path class=a2 d="M290 690l0 1 5-2 0 0 0 1 0 1 4 0 4-2 0 2 4-1 0 1 4-3 0 2 0 0 4-1 0 2 0 0"/>
<path class=a3 d="M271 691l5-1 0 0 5-1 5 1 0 1 4-3 0 2 9 1 0 0 4 0 4-2 4 1"/>
<path class=a5 d="M255 687l6 1 5 0 0 0 5 0 32 0"/>
<path class=a4 d="M261 688l15-2 0 0 0 2 0 0 5 0 5-2 0 2 4-2 13 0 0 1"/>
<path class=a2 d="M271 688l15 0 4-2 9 0 0 0 0 0 0 2 0 0 8-2 0 2 4 0 8-1 4-1"/>
<path class=a6 d="M255 688l0 0 6 0 5 0 37 0"/>
<path class=a7 d="M244 688l11 0 31-1"/>
<path class=a3 d="M271 686l0 2 5 0 5 0 5-1 4 1 0 0 5-2 0 1 0 1 8-2 8 1 0 1 4-2 0 1"/>
<path class=a1 d="M307 687l0 1 4-2 0 1 4 1 8-1"/>
<path class=a3 d="M261 684l0 2 10-2 0 2 0 0 5-2 5 0 0 0 0 1 0 1 9-2 0 1 0 0 0 1 5-2 0 1 0 1 4-2 4 0 4 2 4-2 4 1"/>
<path class=a1 d="M307 684l16 0"/>
<path class=a6 d="M244 685l0 0 17-1 0 0 0 2 5-2 0 0 0 2 10 0"/>
<path class=a2 d="M286 684l9 0 4 0 0 0 4 1 4-1 0 0 4 0 0 0 4 0 0 1"/>
<path class=a5 d="M266 686l0 0 10-2 27 0"/>
<path class=a7 d="M249 686l6-2 21 0 5 2 5-1"/>
<path class=a0 d="M350 687l3-3"/>
<path class=a4 d="M261 686l5-2 5 0 0 0 10 2 5-1"/>
<path class=a3 d="M271 682l0 0 5 0 10 0 4 0 5 0 0 0 0 0 4 0 0 0 4 1 0 0 12 0"/>
<path class=a1 d="M311 682l8 1 7-2 18 1"/>
<path class=a7 d="M244 683l17-1 29 0 9 1"/>
<path class=a4 d="M261 682l5 0 5 0 5 0 5 1 0 0 0 0 5-1 0 1 4-1 13-1"/>
<path class=a2 d="M303 681l0 2 4 0 0 0 0 0 4 0 0 0 4-1 0 1 4 0 11 0 3-1"/>
<path class=a6 d="M231 682l6 0 0 1 12-1 0 0 0 2 6-3 0 3"/>
<path class=a5 d="M249 681l0 2 6-1 6 0 5 0 0 0 10 0 27-1"/>
<path class=a2 d="M299 680l0 0 4-1 0 1 4 1 0 0 0 0 4-1 4-1 8 1"/>
<path class=a4 d="M266 680l5 0 0 0 5 0 5 0 0 0 5 0 4-2 0 2 0 1 5-2 0 1 12-2 16 3"/>
<path class=a3 d="M261 680l15-1 0 1 5-2 0 0 0 1 0 1 5 0 4 0 5-2 0 2 0 0 4 0 4-1 8 0"/>
<path class=a5 d="M266 680l0 0 5 0 5 0 10 0 4-1"/>
<path class=a7 d="M244 680l11-1 6 1 0 0"/>
<path class=a1 d="M311 679l0 1 0 0 0 0 4 0 4-2 4 2 3 1"/>
<path class=a6 d="M237 681l18-1 21-2"/>
<path class=a6 d="M244 677l17 1"/>
<path class=a4 d="M266 678l10-2 5 0 14 1 4-1 4 2"/>
<path class=a2 d="M299 678l4-2 0 1 4-1 0 2 4-2 0 1 4-1 0 0 4 0 0 0"/>
<path class=a5 d="M255 678l6-2 0 2 5-2 0 2 10-2 0 0 0 2 10-1 0 0 0 0 0 1"/>
<path class=a0 d="M344 677l0 1 26 0"/>
<path class=a7 d="M249 677l0 1 12 0 5 0 15-2 5 2 9-1 4-1"/>
<path class=a1 d="M307 677l0 1 4-1 8-1 14 2"/>
<path class=a3 d="M271 676l0 2 0 0 0 0 10-2 5 2 4-2 0 0 0 2 5-1 0 1 4 0 0 0"/>
<path class=a7 d="M261 674l5 0"/>
<path class=a6 d="M255 674l0 2 6-2 0 0 0 2 5-2 0 2 5 0 10-2 34 0"/>
<path class=a5 d="M244 674l11 1 6 1 5 0 5-2 0 2 5-2 10 0"/>
<path class=a2 d="M295 674l4 0 0 0 0 2 4 0 4-2 0 2 4-2 0 0 0 0 4 2 11-1"/>
<path class=a1 d="M307 674l8 1 0 0 4-1 4 2"/>
<path class=a4 d="M266 674l5 0 0 0 5 0 5 0 9 1 5-1 8 1 16-1"/>
<path class=a3 d="M276 674l5 1 5-1 0 0 4 0 0 0 0 2 5-2 4 0 8 0 8 1 4 0 0 0"/>
<path class=a4 d="M266 673l5-1 5 0 5 0 5 0 4 0 5 1 8-1 0 0"/>
<path class=a6 d="M237 671l0 2 7-1 5-1 0 2 0 0 12-1 0 0 5 0 5 0 5 0 5 0"/>
<path class=a7 d="M295 673l12-1"/>
<path class=a1 d="M307 671l0 0 4 1 12 0 3 1"/>
<path class=a5 d="M261 672l5 0 5 0 5 0"/>
<path class=a3 d="M286 671l0 1 0 0 4 0 0 0 5 1 4-1 0 0 0 1 4-2 0 0 0 2 4-1 4 0 4 0 11-1"/>
<path class=a2 d="M281 672l22-1 4 0 0 1 4 0 4 0 0 1 4-2 0 2 0 0 4-2 0 2"/>
<path class=a5 d="M255 670l6 0 5 0 5 0 5-2 5 0 5 2 4-2 0 1"/>
<path class=a2 d="M290 670l5 0 4 0 8-2 4 0 0 3 4-3 0 1 4 1 7-1"/>
<path class=a1 d="M311 668l0 2 0 0 39-1"/>
<path class=a6 d="M244 669l11 1 6 0 0 0 5-2 0 1 0 1 5 0 10-2 14 2"/>
<path class=a4 d="M255 670l21 0 5-2 0 2 5 1 4-3 0 2 5 0 4-2 0 2 0 0 31-1"/>
<path class=a3 d="M271 670l5-2 0 2 0 1 5-1 0 0 9 0 5-2 0 0 0 1 4-1 0 0 16 1 4 1"/>
<path class=a3 d="M276 668l5-2 5 1 4-1 0 1 0 0 5-1 0 1 8 1 0 0 4-2 4 1 8 0"/>
<path class=a2 d="M299 666l0 0 0 0 8 0 0 0 0 2 4-2 0 1 4-1 0 1 4 1 0 0"/>
<path class=a1 d="M307 668l4 0"/>
<path class=a5 d="M255 666l6 0 0 2 5 0 5-2 0 0 0 2 0 0 5-1 5-1 38 0 0 2"/>
<path class=a7 d="M266 670l15-4"/>
<path class=a6 d="M255 666l0 0 6 0 0 2 5-2"/>
<path class=a4 d="M261 666l0 2 10 0 5-2 0 1 10-1 0 0 0 2 0 0 0 0 9-2 8 1 0 0 0 1 27-1"/>
<path class=a3 d="M266 666l10-2 5 0 5 0 0 0 4 0 5-1 4 1 4 0 0 0 4 0"/>
<path class=a4 d="M266 664l5 2 5-2 5 0 9 0 5 0 0 0 4 0 0 0"/>
<path class=a2 d="M295 664l8 0 4 0 4 0 0 0 4 0 0 0 0 1 0 1 4-2 0 0 4 0 0 1 0 0"/>
<path class=a5 d="M244 664l5 2 17-2 0 2 5-2 0 0 15 0 4 0"/>
<path class=a1 d="M307 664l4 0 8 0 0 2 4-2 21 0 0 0 6 0"/>
<path class=a6 d="M255 664l6 0 0 0 0 0 5 0 5 0 5 0 5 0"/>
<path class=a0 d="M344 664l18 11"/>
<path class=a5 d="M261 662l5 0 5-2 0 2 0 0 5 0 0 0 5-2 5 0 4 2 5 0 4 0"/>
<path class=a7 d="M249 665l12-5 0 2 5 0 5 0"/>
<path class=a1 d="M311 660l4 0 0 2 29-2 3 1"/>
<path class=a3 d="M286 660l0 2 4-2 0 2 0 1 5 0 4 0 31-3"/>
<path class=a4 d="M271 660l10 0 0 2 0 0 0 0 5 0 0 0 17 0 12 0"/>
<path class=a2 d="M299 663l4-1 0 1 4-1 0 0 0 0 4-2 0 2 0 0 0 0 12-2 0 2 3-1 24 2 9-3"/>
<path class=a6 d="M261 660l0 2 5 0 10 0 10-1 29 1"/>
<path class=a5 d="M266 660l0 0 0 0 10-2 5 0 5 0 4 0"/>
<path class=a7 d="M244 660l17-2 0 2 20-2"/>
<path class=a6 d="M249 659l17-1 0 0"/>
<path class=a2 d="M271 660l28-1 8 1 0 0 0 0 4 0 4-2 0 2 4-1 14 0 4-1"/>
<path class=a4 d="M266 658l5 0 5 0 0 2 5-2 9 2 5 0 8-1 0 0 12-1"/>
<path class=a3 d="M276 660l0 0 5 0 5-2 4 0 0 2 5-2 0 0 0 1 0 1 0 0 4-1 0 1 0 0 0 0 4 0 12-2"/>
<path class=a1 d="M315 660l4-1 4 1 0 0 10-1 11-1 0 2 24-1"/>
<path class=a6 d="M261 658l0 0 10-2 0 1 0 1 5 0 5-1 5 0"/>
<path class=a7 d="M261 656l10 1 19 1"/>
<path class=a2 d="M295 656l4 1 8-1 0 2 0 0 0 0 4 0 0 0 4-2 0 1 4 0 0 0 0 1 4-2 3 1 4-1"/>
<path class=a4 d="M261 656l15 0 10 2 4-2 9 0 4 1 8-1 0 0 0 2 4-2"/>
<path class=a5 d="M261 656l5 0 0 0 0 1 10 0 5-1 5 1 4-1 36 2"/>
<path class=a1 d="M319 656l25 1 0 1"/>
<path class=a3 d="M271 658l10-1 5 0 9-1 0 1 4-1 0 2 4-2 0 2 4-2 0 0"/>
<path class=a6 d="M261 654l0 0 5 0 5 0 0 1 5-1 0 2 10-2 4 1 13-1"/>
<path class=a4 d="M281 654l5 0 4 0 5 0 8 1 12-1 22 1"/>
<path class=a1 d="M323 656l14 0 13-2 0 0"/>
<path class=a5 d="M261 655l10-1 5 0 5 0 0 0 22 1 4-1"/>
<path class=a0 d="M350 663l18-7"/>
<path class=a3 d="M266 654l10 0 10 0 4 0 0 2 5-1 0 0 4-1 0 1 0 0 20-2 31 2"/>
<path class=a2 d="M303 653l4 1 0 0 4 0 0 0 0 0 0 2 4-2 0 0 0 0 4 0 0 0 0 1 0 0 4-1 0 2 0 0 3-3"/>
<path class=a7 d="M266 654l10-1 23-1 4-1"/>
<path class=a2 d="M307 652l4 0 4-1 0 2 4-2 0 0 0 1 4 1 3-2 0 1"/>
<path class=a5 d="M266 652l5 0 5 0 5-1 0 1 0 0 9 0 5 0 0 0"/>
<path class=a3 d="M286 653l4-1 5 0 0 1 4-2 0 1 4-1 0 1 4 0 0 0 4 0 4-1 4 2 4 0"/>
<path class=a4 d="M281 651l5 1 0 1 4-1 5-1 4 1 0 0 4 0 12-1 0 1"/>
<path class=a6 d="M261 651l0 1 0 0 0 0 5 0 0 1 5-1 0 0 5 1 5-1 22-1"/>
<path class=a1 d="M311 652l33 0 9 1"/>
<path class=a5 d="M266 650l0 0 5-2 0 2 5 0 0 0 10-2 0 2 4-1 0 1 5-1"/>
<path class=a1 d="M311 650l19-1 14 0 6 0"/>
<path class=a4 d="M276 648l0 2 10-2 0 2 4-1 5 2 4-1 4-1 4 1 4-1"/>
<path class=a2 d="M303 649l4 1 4 0 0 0 4-2 0 0 4 1 0 0 4-1 0 1 3-1 0 2 24-1 3 0"/>
<path class=a6 d="M261 650l0 0 5 0 5 0 0 0 10-1 0 1"/>
<path class=a7 d="M266 648l20 0 0 2"/>
<path class=a3 d="M281 649l0 1 9 0 0 0 5-2 4 0 8 0 0 2 4-1 8 0"/>
<path class=a2 d="M303 647l4 1 4 0 4-2 4 2 0 0 4-2 0 0 0 2 27-1"/>
<path class=a3 d="M271 647l19-1 9 2 8-2 0 2 4-2 4 0 0 2 8-1 7 1"/>
<path class=a5 d="M261 648l10-2 0 2 5-2 0 1 10 0 0 0"/>
<path class=a6 d="M261 646l0 1 0 0 0 1 5-2 0 0 0 0 0 2 0 0 5 0 5-1 0 1 0 0 5-1 14 1"/>
<path class=a7 d="M249 646l0 2 12 0 20-2 5 1"/>
<path class=a4 d="M271 646l10 1 9 1 5-1 0 0 0 0 4 0 0 1 4 0 8-1 4-1 4 1"/>
<path class=a6 d="M244 645l17-1 0 1 5-1 5 0 15 1 9 0"/>
<path class=a1 d="M330 645l14 0 3 0 3 1 0 0 9 0"/>
<path class=a5 d="M261 645l10-1 0 0 5 0 5 0 0 0 0 0 5 0 0 1 9-1 28 0"/>
<path class=a4 d="M290 644l9 0 0 0 0 2 4 0 8-2 8 1 0 0"/>
<path class=a2 d="M307 644l0 0 8 0 0 0 0 0 8 0 3 1 4 1 14-1 3 0 0 1"/>
<path class=a3 d="M266 644l29 1 4-1 0 2 4-1 0 1 0 0 0 0 4 0 0 0 4-2 0 0 0 2 8-2 7 2 0 0 4-1"/>
<path class=a3 d="M290 644l9-2 0 1 4-1 0 0 4 2 4-2 4 1 0 0 4-1 4 0 3 1"/>
<path class=a6 d="M261 642l0 0 5 2 5-2 10 1 0 0 0 0 9 0 0 1 17-2"/>
<path class=a4 d="M286 642l9 1 0 0 8-1"/>
<path class=a2 d="M307 642l0 0 4 0 0 0 4 1 4-1 0 1 4 0 0 0 10 1 11-1 0 0"/>
<path class=a1 d="M330 642l14 0 3 0 3 1 9 1"/>
<path class=a7 d="M261 642l5 1 0 0 5-1 5 2"/>
<path class=a5 d="M266 642l5 0 5 0 0 0 0 1 0 1 10-2 0 0 4 1 0 0 5-1 4 1 48 0"/>
<path class=a1 d="M340 640l4 0 3 2 3 0 6-2 3 0"/>
<path class=a0 d="M398 640l2 10"/>
<path class=a2 d="M307 640l4 0 0 0 8 0 0 0 0 1 4 0 0 0 3-1 0 1 18-1 9 0 6 2"/>
<path class=a7 d="M266 641l5 0 19-1"/>
<path class=a6 d="M261 640l0 1 5-1 10 0 5 0 14 0"/>
<path class=a4 d="M281 640l0 1 5-1 9 0 0 1 4-1 0 1 4 0 0 0 12-1 0 0 18 1 14-1"/>
<path class=a5 d="M261 641l5-1 5 1 0 0 5-1 0 1 10 0 0 0 9-1 4 0"/>
<path class=a3 d="M290 640l0 1 13-1 4 0 0 0 4 0 4 0 8 2"/>
<path class=a1 d="M311 638l15-1 18 1 9 0 3 0"/>
<path class=a4 d="M290 639l0 0 5 0 4-1 4 0 0 1 0 0"/>
<path class=a6 d="M261 637l0 0 0 2 5-1 0 1 5-1 0 0 0 0 5 1 0 0 10 0 13-1 31-1"/>
<path class=a5 d="M276 639l5-1 5 1 0 0 4-1"/>
<path class=a3 d="M290 639l5-2 0 2 4-1 4 0 4 0 0 1 4 0 4-1 0 1 4 0"/>
<path class=a2 d="M290 637l17 1 4 0 4 1 4 0 4 0 0 0 3-1 0 1 0 0 18-2 12 0"/>
<path class=a7 d="M244 639l17-1 0 0 0 1 5 0 15-1 0 1"/>
<path class=a3 d="M290 635l17 1 4 1 4-1 0 0 4 0 0 0 4 1 53-1"/>
<path class=a6 d="M255 636l11 0 0 1 5-2 0 1 5 0 5 1 5 0"/>
<path class=a5 d="M261 635l0 0 5 1 5 0 0 0 10 0 0 0 5 1 17-1"/>
<path class=a2 d="M311 636l4 1 4-2 0 1 4 0 0 0 0 1 3-2 4 0 0 2 7-1 3 0 4 0 6 0"/>
<path class=a7 d="M237 636l18 0 6-1 15 1 19 1 12-1"/>
<path class=a4 d="M276 637l10-1 9 1 4-1 0 0 0 1 8-1 4 1 36-1"/>
<path class=a1 d="M344 637l0 0 3-2 0 1"/>
<path class=a5 d="M266 634l10-1 0 1 5 0 0 0 5 0 17 0"/>
<path class=a7 d="M266 634l5 0 0 0 5 0 23 0 4-1"/>
<path class=a6 d="M261 633l5 1 10-1 10 1"/>
<path class=a4 d="M261 633l29 1 5 0 0 0 0 0 20 0"/>
<path class=a1 d="M323 634l24-1 0 0 0 1 3-1 0 1"/>
<path class=a3 d="M276 634l5 0 5 0 4 0 5-1 4 1 0 0 4 0 4 0 0 0 4 0 0 0 4 0 4-1 0 1 4 0"/>
<path class=a0 d="M398 634l2-1 5 4"/>
<path class=a2 d="M303 634l4 0 4 0 4 0 4 0 4 0 3 0 0 0 0 0 4 0 14 0 3-1 15 0"/>
<path class=a7 d="M261 630l0 2 10 1 5 0 5 0 14-2 4-1"/>
<path class=a1 d="M344 632l6 0 12-1 8 0"/>
<path class=a6 d="M261 631l5 0 0 2 0 0 5-2 0 0 0 2 10-1 5 0 0 0 4 0 5 1 4-1"/>
<path class=a3 d="M290 632l9 0 4-1 4 1 0 0 0 0 4 0 0 0 0 0 4 0 4-1 0 1 0 1 4-2 3 0 27 1"/>
<path class=a4 d="M295 633l4-1 4-1 0 1"/>
<path class=a5 d="M266 632l5 0 10 1 5-1 4 0 5-1"/>
<path class=a2 d="M303 633l12-3 0 1 0 2 0 0 15-1 0 0 3 0 11 0 21-1"/>
<path class=a2 d="M281 629l26 1 12 0 7-1 0 0 7 0 0 0 11 1"/>
<path class=a3 d="M290 630l0 0 9 0 8 0 0 0 4 0 0 0 0 0 4-1 0 1 4-1 0 0 0 1 4-1 0 1 24 0 3-1"/>
<path class=a5 d="M276 629l0 1 5 0 0 0 5 0 9 0 8-1"/>
<path class=a7 d="M261 630l20 0"/>
<path class=a4 d="M276 630l14-1 0 1 5-1 4 0 0 1 4 0 16-1"/>
<path class=a6 d="M261 629l5 0 0 1 0 0 5-1 0 1 5 0 10-1 0 0 0 1 0 0 13-1"/>
<path class=a1 d="M323 629l14 1 7 0 3-1 3 0"/>
<path class=a7 d="M261 627l5 1 5 0 0 0 5-1 5 1 9-1"/>
<path class=a6 d="M261 629l5-2 0 2 10 0 19-2 0 0"/>
<path class=a1 d="M344 626l6 1 6 0"/>
<path class=a4 d="M276 628l5 0 14-1 4 0 4 1 0 0 12-2"/>
<path class=a2 d="M311 626l0 2 8-2 4 1 0 1 0 0 3-1 0 1 4-1 0 0 14 0 0 1 3-2 3 1"/>
<path class=a3 d="M261 628l34 0 4 1 8-1 0 0 0 0 4 0 0 0 4-2 0 2 18 0 32 1"/>
<path class=a5 d="M266 627l5-1 15 1 0 1 4-2 0 1 0 1 9-1 16-1 0 2"/>
<path class=a0 d="M400 628l3 1"/>
<path class=a2 d="M319 625l4 0 0 0 3 1 0 0 18-1 3 0 0 0 3 0 3 0"/>
<path class=a3 d="M286 626l17 0 4 0 4 0 0 0 4-1 0 0 4 0 28 1 0 0"/>
<path class=a6 d="M276 626l0 0 5-2 0 2 0 0 14-1 16 0 8 1"/>
<path class=a1 d="M319 624l18 2 7-1 0 1 3-1 9-1 0 1 3 1 0 0"/>
<path class=a4 d="M290 625l5 0 4 1 4 0 4 0 0 0 8 0 4 0 7 0 18-2"/>
<path class=a5 d="M271 625l0 1 10-2 42 1"/>
<path class=a7 d="M261 625l5 0 0 1 5 0 5-2 5 2 5 0 4-2 9 1"/>
<path class=a6 d="M266 622l0 0 5 2 0 0 5 0 0 0 5 0 5-1 0 0 0 1 4-2 13 0 4 2"/>
<path class=a1 d="M344 623l6 0 12 0"/>
<path class=a5 d="M266 623l0 1 0 0 10 0 0 0 5-2 0 2 5-1 0 1 0 0 4-1 0 1 5-2 0 2 4 0 0 0 4-2 16 1"/>
<path class=a3 d="M307 624l4-1 15-1"/>
<path class=a2 d="M311 624l15-2 11 1 0 1 16-1 0 0"/>
<path class=a7 d="M255 624l6 0 0 0 10-2 0 1 0 0 10 0 9-1"/>
<path class=a4 d="M295 623l8 0 0 1 4 0 4-1 0 1 15-1 11 0 19 1"/>
<path class=a0 d="M381 621l17 1"/>
<path class=a1 d="M344 621l0 1 0 0 3-2 0 1 6 0 0 0 0 1"/>
<path class=a7 d="M261 622l5-2 0 1 5-1 5 1 5-1"/>
<path class=a5 d="M281 621l5-1 4 1 0 0 0 0 5 1 4-1 16 1"/>
<path class=a3 d="M307 622l4 0 4-1 0 1 4-2 0 2 4-1 0 1 7-1 17 1"/>
<path class=a6 d="M266 621l5 0 5 0 0 1 5 0 14-1 4 1 4-1 12 1"/>
<path class=a2 d="M319 622l7-1 0 1 18 0 3 0 0 0 9-1 42 1"/>
<path class=a4 d="M295 622l4 0 0 0 4-1 4 1 0 0 8-1 11 0 4 0"/>
<path class=a2 d="M307 620l0 0 0 0 8-2 0 2 4 0 7-1 4 1 14-2 0 2 3-1 0 0 0 1 3-1 0 1 12-1 8-1"/>
<path class=a5 d="M281 619l5 0 17 0 0 1"/>
<path class=a3 d="M299 620l12 0 0 0 4-2 0 0 4 1 0 1 4-1 0 1 0 0 0 0 14-1"/>
<path class=a4 d="M286 620l4-1 5 0 4 0 12 1 33-1"/>
<path class=a7 d="M261 619l0 1 15-1 5 0 5 1 4-1"/>
<path class=a6 d="M249 620l12-1 5 0 5-1 0 2 5-1 0 0 5 0 5 0 13-1 0 1 0 1"/>
<path class=a1 d="M347 619l3 0 3 0"/>
<path class=a1 d="M344 617l3 0 0 1 6-1 17 0"/>
<path class=a0 d="M359 617l46 0"/>
<path class=a5 d="M286 617l13-1 4 1 4 1 4-2 15 2"/>
<path class=a3 d="M303 618l4 0 8-1 4 0 0 0 0 1 7 0 18 0 6 0"/>
<path class=a6 d="M261 618l10-1 0 0 0 1 5-2 5 1 5 0 4 1 5-1 4 0"/>
<path class=a7 d="M271 618l5-1 5 0 5 0 4 0"/>
<path class=a2 d="M307 618l4 0 4-1 8 1 3-2 0 1 0 1 4-1 7 0 7 0 3-1 3 2"/>
<path class=a4 d="M295 616l0 2 4-1 4 1 8 0 0 0 8 0 4-2 0 1 30 0 3 1"/>
<path class=a7 d="M261 615l0 1 5-1 5 1 0 0 5-1 0 0 5-1 5 1 4 0 5 1"/>
<path class=a5 d="M276 614l5 1 9 1 5-1 4 1 8-1 0 1"/>
<path class=a2 d="M315 614l4 1 4 1 3 0 4-1 0 1 3-1 0 1 11 0 3-2 9 0 3 1 3 0 0 0"/>
<path class=a6 d="M276 616l5-1 0 1 5-2 0 1 4 1 5-1 4 0 0 0 20 1"/>
<path class=a4 d="M290 616l13-1 4-1 0 2 8 0 4-1"/>
<path class=a0 d="M398 614l2 1"/>
<path class=a1 d="M344 614l0 1 3-1 6 2"/>
<path class=a3 d="M307 616l4 0 0 0 8-1 4-1 0 1"/>
<path class=a3 d="M303 614l8 0 4-2 0 0 0 2 4-2 0 1 4 1 30-1"/>
<path class=a7 d="M266 613l5 1 5-2 5 1 18-1 12 0"/>
<path class=a4 d="M295 614l4-1 4 0 8 1 12-1 10 1 11 0"/>
<path class=a2 d="M319 613l7-1 0 2 14-1 4 0 0 0 3 0 0 1 3-1 12 0"/>
<path class=a1 d="M344 613l3 1 3-1 3 0 0 1"/>
<path class=a5 d="M261 613l10 1 5-1 5 0 0 0 5 1 4-2 0 1 0 1 9 0 4-1 4 1 4 0 4 0"/>
<path class=a6 d="M261 613l5 0 5 1 5-2 10 2 0 0 4 0 5-1 8 0"/>
<path class=a6 d="M271 610l5 1 0 1 0 0 5 0 14 0 8-1"/>
<path class=a4 d="M303 611l4-1 0 0 4 2 4-2 4 1 0 0 7 0 11 1"/>
<path class=a1 d="M344 610l3 0 0 2 9-1 6-1 62 0"/>
<path class=a7 d="M266 610l0 0 0 2 5-1 0 0 24 1"/>
<path class=a5 d="M266 610l15 1 9 0 0 0 5 0 0 0 4 0 27 0"/>
<path class=a2 d="M315 610l4 0 4 1 0 1 3-2 4 0 0 1 14-1 3 1 3 1 6-2 0 1 6 1 8-1 3 1"/>
<path class=a3 d="M307 612l0 0 0 0 4 0 4-2 0 2 8 0 7 0 0 0"/>
<path class=a5 d="M266 609l15 0 5-1 0 0 0 2 9-1 0 1 28-1"/>
<path class=a0 d="M398 609l0 0 9 0 0 1"/>
<path class=a7 d="M271 609l10 0 5 1 4 0 54-1"/>
<path class=a2 d="M326 609l21 1"/>
<path class=a3 d="M311 610l4-2 4 1 0 0 4-1 7 1 14 0 0 0 3 0 0 1 9-1"/>
<path class=a1 d="M344 610l3 0 3 0 0 0 0 0 0 0 3-2 6 2 22-2 0 1"/>
<path class=a4 d="M290 608l13 1 4 1 4 0 0 0 45-2"/>
<path class=a6 d="M261 610l5-1 0 0 5 0 5 0 0 1 5-1 5-1 0 2 4-2 5 1 4 1 0 0 4-1"/>
<path class=a2 d="M307 608l4 0 8-1 11 0 14 0 3 0 0 0 3 0 3 0 12 1"/>
<path class=a1 d="M353 607l3 0 0 1 3 0 3-1"/>
<path class=a6 d="M276 607l10 0 0 1 4 0 5 0 4 0 4-2"/>
<path class=a7 d="M271 607l0 1 5-1 14 1 9 0 4-1"/>
<path class=a4 d="M295 608l4-1 0 1 8 0 0 0 4-2 0 0 0 2 0 0 4 0 4-1 14 1"/>
<path class=a5 d="M281 607l0 0 22 1 12-2 4 2"/>
<path class=a3 d="M299 608l16-2 0 2 4 0 4-2 0 1 0 1 3 0 0 0 18-1 0 0 6 1"/>
<path class=a0 d="M398 607l5 0 11 0"/>
<path class=a2 d="M295 606l12 0 30-2 7 1 0 0 3 0 0 0 15 0 3 0"/>
<path class=a7 d="M266 606l5-1 10-1 5 0 0 2 4-1 9 1 8 0 4 0"/>
<path class=a4 d="M271 605l24 1 16-2 12 1 7-1 35 2"/>
<path class=a5 d="M276 606l5-1 9 0 5-1 0 1 4 0 0 0 0 0 4 0 0 1 12 0"/>
<path class=a6 d="M266 605l10-1 0 0 0 2 5 0 9-1 5-1 8 1 0 0 50 0"/>
<path class=a0 d="M398 605l0 0"/>
<path class=a1 d="M344 605l3 0 3-1 0 1 9 0 9 1"/>
<path class=a3 d="M307 606l12-1 0 0 7 0 0 0 21 1 3-1"/>
<path class=a3 d="M307 604l0 0 4-2 0 1 0 1 0 0 4-1 0 1 4-1 0 1 4-1 0 1 3-1 0 1 4-1 0 0 10 0 4 0"/>
<path class=a0 d="M398 602l0 1 2 1"/>
<path class=a6 d="M276 603l0 1 5 0 5-1 0 0 0 1 13-1 4 1 20-1"/>
<path class=a2 d="M307 604l8 0 29-1 6-1 0 1 15 1"/>
<path class=a4 d="M290 603l9 0 27 0"/>
<path class=a5 d="M290 603l5 0 20 1"/>
<path class=a7 d="M266 603l10 0 5-1 0 1 9 0 9 0 16 1 8 0 30-1"/>
<path class=a1 d="M353 603l0 0 0 1 3-2 0 1 0 1 3-1 3 1 8-1"/>
<path class=a6 d="M276 600l0 0 10 1 9 0 4 0"/>
<path class=a7 d="M276 601l10 0 0 0 13 0 0 0"/>
<path class=a5 d="M281 601l9 1 5 0 24-1 11-1"/>
<path class=a1 d="M347 602l3-1 0 0 0 1 6 0 3-2 3 2 3-1 5 1 8-1"/>
<path class=a3 d="M311 602l4-1 0 1 4-1 4 1 7-1 14 0 0 1"/>
<path class=a4 d="M307 601l0 0 0 1 0 0 4-2 8 1 0 1 4-1 0 0 24 0 9 1"/>
<path class=a2 d="M307 602l12 0 4-1 3 0 18 0 3 1 0 0 0 0 3-2 3 0 0 1 0 1 3-2 3 2 3 0"/>
<path class=a4 d="M295 599l8 0 4-1 0 0 4 2 4-2 8 1 21-1 3 1 9 0"/>
<path class=a3 d="M295 600l16 0 4 0 11 0 4-1 29-1"/>
<path class=a5 d="M266 599l20 0 13 0 4 1 12-2 0 2 4-2 7 1 4 0 10-1"/>
<path class=a0 d="M398 599l0 0 0 1 11 2 15-3"/>
<path class=a2 d="M319 598l11 1 3 1 11 0 3-1 3-1 0 1 6 0 6 0 3 0 11 0 27 0"/>
<path class=a1 d="M350 599l6 0 6-1 0 2 6-1 0 0 10-1"/>
<path class=a6 d="M271 599l0 1 10-1 5 0 0 0 9 0 0 1 12 0"/>
<path class=a7 d="M261 599l20 0 22 0"/>
<path class=a6 d="M276 597l5-1 5 2 9-1 4 0 0 1 8-2 4 1 0 1"/>
<path class=a4 d="M307 597l4 1 4 0 8 0 14-1"/>
<path class=a1 d="M344 596l0 2 6-2 3 2 0 0 3-1"/>
<path class=a2 d="M319 598l7-1 11 1 7-2 0 2 3-1 0 1 3-2 3 0 0 2 3-1 0 1 9-1"/>
<path class=a7 d="M290 597l0 0 9 0 4-1 62 2"/>
<path class=a3 d="M281 598l26-2 4 0 8 0 0 0 0 1 4 0 0 0 7-1 0 1 17 0"/>
<path class=a5 d="M281 596l14 1 4 0 0 1 4-1 0 1 4 0 4 0 4-2 38 2"/>
<path class=a7 d="M271 595l0 1 5-1 0 1 10-1 9 1 8-1"/>
<path class=a2 d="M340 595l4 0 0 1 3-2 0 0 0 1 0 1 3-2 6 1 0 0 9 1"/>
<path class=a0 d="M398 596l2 1"/>
<path class=a5 d="M276 595l5-1 0 2 5-2 0 2 4-1 0 1 5-2 0 1 4 0 0 1 12-2"/>
<path class=a4 d="M295 596l8-1 16 0 4 0 0 1 10 0"/>
<path class=a1 d="M344 594l0 0 6 2 3-2 0 1 0 0 3 0 3 1 39-1"/>
<path class=a3 d="M311 594l0 2 4 0 0 0 4-2 0 1 4 0 3-1 0 1 0 1 50 0"/>
<path class=a6 d="M286 595l4 1 9 0"/>
<path class=a3 d="M290 593l17 1 0 0 4 0 4-2 0 2 4-1 4 0 3 0 7 0 29 0"/>
<path class=a4 d="M307 594l4-2 8 1 7 0 7 1 14-1"/>
<path class=a2 d="M323 593l24 0 3 1 3-1 6 1 3 0 34-1"/>
<path class=a0 d="M398 594l2-1 5 1"/>
<path class=a7 d="M271 592l0 1 44 0 0 1"/>
<path class=a5 d="M286 594l17-2 4 0 4 0 45 1 3-1 3 1"/>
<path class=a6 d="M276 594l5 0 0 0 5-1 4 0 9-1 0 1 4 0 12 1"/>
<path class=a1 d="M347 592l3 1 0 0 0 0 0 1 3-2 0 0 3 0 3 1 0 0 9 0 0 0 10 0"/>
<path class=a5 d="M281 591l9 0 9 0 0 0 4 1 41-2"/>
<path class=a6 d="M281 592l5-1 0 1 0 0 4-2 17 0 0 2 0 0 12-2"/>
<path class=a3 d="M303 591l0 1 8-2 4 1 4 0 4 0 3-1 0 2 4-2 3 1 7 0 4 1 21-1"/>
<path class=a2 d="M319 591l4 1 3-2 18 0 0 0 0 2 3-2 3 0 0 1 3 0 3 0 3-1"/>
<path class=a7 d="M266 591l24-1 5 0 12 0 16 0"/>
<path class=a4 d="M311 590l0 2 4-1 0 0 4 1 28-2 58 2"/>
<path class=a1 d="M344 592l9-1 9-1 0 1 3 1 33 0 0 0"/>
<path class=a0 d="M398 589l0 1 2-1 0 3 22-3"/>
<path class=a3 d="M276 589l39 0 4 0 4 1 3-1 39 0 5 0"/>
<path class=a4 d="M311 588l0 2 4-1 4 1 4-1 3 0 0 0 4-1 29 1"/>
<path class=a7 d="M276 589l10 1 17-1 20 1"/>
<path class=a2 d="M347 589l0 0 0 1 3-2 0 2 3-1 0 0 0 0 3 0 0 0 0 1 3 0 3-1 3 0 8 0"/>
<path class=a6 d="M261 589l20 0 5 0 0 0 4 1 5 0 0 0 4-2 4 2 12-1"/>
<path class=a1 d="M344 588l6 0 0 0 12 1 8 0 0 1"/>
<path class=a5 d="M299 590l8 0 4-2 8 1 34 1"/>
<path class=a2 d="M323 587l17 0 4 0 0 0 0 0 0 1 3 0 3-2 3 1 0 1 3-2 0 2 3 0 3-1 3 1 3 0"/>
<path class=a1 d="M344 588l15-1 39 0 5 0 2 1"/>
<path class=a0 d="M398 587l0 0 0 1 2-1 20 1"/>
<path class=a4 d="M307 588l4 0 8-1 7 0 0 0"/>
<path class=a6 d="M290 587l5 0 0 1 4 0 4-1 27 1"/>
<path class=a5 d="M290 587l0 0 9-1 0 1 0 0 0 1 4-1 0 1 4 0 19 0"/>
<path class=a3 d="M307 588l8-1 4 0 4-1 0 1 7 0 3 1 26-2"/>
<path class=a7 d="M266 587l15-1 0 1 34-1 18 1"/>
<path class=a2 d="M344 585l3 0 3 0 0 1 3-1 0 0 3 1 0 0 9-1 0 0"/>
<path class=a1 d="M347 586l0 0 0 0 3-1 0 0 6 0 0 1 3 0 3-1 16 0 20 0 2 1 3 0"/>
<path class=a6 d="M276 585l19 0 0 1 4-1 12 1"/>
<path class=a0 d="M403 585l4 1 23-1"/>
<path class=a5 d="M286 586l21 0 4 0 4 0 38-1"/>
<path class=a4 d="M307 585l0 0 0 1 8-1 0 0 4 0 0 0 0 1 14 0 14-1 15 1"/>
<path class=a7 d="M281 585l0 1 26 0"/>
<path class=a3 d="M311 586l12-1 0 0 3 0 0 0 7 1 4 0 13 0 12 0 8-1"/>
<path class=a7 d="M266 583l0 1 10 0 0 0 10 0 0 0 9 0 0 0 8 0"/>
<path class=a4 d="M307 582l0 2 4 0 0 0 4 0 8-1 7 0 29 0 0 1"/>
<path class=a3 d="M319 584l4 0 3-2 4 1 10 0 4 1 18-2 0 1"/>
<path class=a1 d="M350 583l6 1 6 0 3-1 19 0"/>
<path class=a2 d="M323 583l21 1 3 0 3-2 0 1 3-1 0 1 3-1 0 2 3-1 3 1 3-1 0 2 3-2 2 1"/>
<path class=a5 d="M295 584l4 0 0 0 8-2 4 0 0 2 8 0 4-1 10-1"/>
<path class=a6 d="M295 584l4-1 0 1 20-1"/>
<path class=a6 d="M290 581l9 0 0 0 0 0 16 0 8-1 3 2 0 0 21-2 0 2"/>
<path class=a2 d="M319 581l25 1 3-1 0 1 3-2 6 1 3 1 3-1 0 1 3-1"/>
<path class=a3 d="M311 582l0 0 4 0 0 0 4 0 11-1 3 0 11 0 0 1 21-1 0 1 5 0"/>
<path class=a1 d="M356 581l3 0 0 0 9 0 0 0 32 0 5 0"/>
<path class=a0 d="M398 582l2-1 0 3"/>
<path class=a5 d="M299 582l12-2 8 1 4 0 3-1 18 2"/>
<path class=a7 d="M266 581l5 0 5 1 19 0 31-1"/>
<path class=a4 d="M307 580l0 2 4-1 4-1 0 2 11-2 4 2 17 0"/>
<path class=a4 d="M307 578l0 2 0 0 8-1 4 1 4-2 0 2 36-1 6 1"/>
<path class=a7 d="M286 580l4 0"/>
<path class=a1 d="M350 580l3 0 3-1 3 0 6 0 0 1 33-2 2 1 0 1"/>
<path class=a0 d="M398 579l0 1 5-1"/>
<path class=a3 d="M323 578l0 1 7 1 3 0 11 0 3-2 0 0 3 0 9 1"/>
<path class=a2 d="M330 579l3 1 11 0 3 0 3-2 3 2 0 0 3-1 0 1 6-2 0 1 0 1 8 0 0 0 11-1"/>
<path class=a6 d="M286 579l9 0 4 0 0 0 0 1 4-1 4-1 4 2"/>
<path class=a5 d="M303 579l12 1 4-1 0 1 31 0"/>
<path class=a0 d="M407 577l4 1"/>
<path class=a4 d="M315 578l4-1 4 0 0 1 7-1 3 0"/>
<path class=a1 d="M353 578l6 0 9-1 0 1"/>
<path class=a2 d="M344 577l0 1 0 0 3-1 0 1 3-1 0 1 3 0 3-1 3 0 0 1 3-1 0 1 0 0 3-1 19 1"/>
<path class=a7 d="M281 577l14 1 4 0 4-1 8 1 4-1"/>
<path class=a3 d="M326 577l0 0 4 0 3 0 11 1 6-1 3-1 0 2 9 0 3-1 8 0"/>
<path class=a5 d="M307 578l4-1 0 1 4-1 0 0 0 1 4 0 37 0 12 0 8-1"/>
<path class=a6 d="M286 578l9-1 4 0 12 1 33-1"/>
<path class=a3 d="M299 574l12 2 4-1 11 0 4 1 14-1 0 0 6 1 9-2"/>
<path class=a6 d="M299 574l0 1 4 1 4 0 4-1 0 0 33 1 21 0"/>
<path class=a1 d="M362 574l8 2 8 0"/>
<path class=a5 d="M307 576l0 0 4-1 0 1 4-1 4 0 0 1"/>
<path class=a0 d="M398 576l0 0 2-2"/>
<path class=a4 d="M315 575l4 0 0 1 0 0 7 0 4-1 3 0 0 1"/>
<path class=a7 d="M281 575l9 0 33-1 3 0"/>
<path class=a2 d="M326 575l11 1 7-1 3 1 0 0 3-1 0 0 0 0 3-1 0 2 0 0 0 0 0 0 3 0 3-1 3 0 0 0 6 1"/>
<path class=a2 d="M344 572l3 1 0 0 0 1 3-2 6 1 0 0 0 0 3-1 0 1 0 1 14-1"/>
<path class=a7 d="M290 573l9 0 4 0 4 1 86-1"/>
<path class=a0 d="M398 573l0 0 9 0 2 0"/>
<path class=a3 d="M323 573l0 0 3 1 4 0 0 0 7-1 13-1 18 2"/>
<path class=a1 d="M353 572l6 1 3 0 0 0 3 1 3 0 5-1 0 1 3-1 22 1 0 0"/>
<path class=a5 d="M295 573l4 1 4-1 4 1 8-1 4 1"/>
<path class=a4 d="M315 573l4 0 7-1 21 2 15-1"/>
<path class=a6 d="M281 574l9-1 9 0 4 0 0 1 4 0 12-1 7-1 21 2"/>
<path class=a2 d="M344 570l0 2 3 0 3-1 3 0 0 1 0 0 3-1 3 0 3 0 3 0 0 1 3 0 30 0"/>
<path class=a6 d="M295 571l4 1 8-2 0 2 16 0 10-1"/>
<path class=a3 d="M315 572l8-1 7 0 7 0 10-1 3 2 9-1 6 0 0 0 35 1"/>
<path class=a1 d="M362 570l8 2 6-1 8 1 14-1"/>
<path class=a4 d="M315 571l4 0 25 1 6-1 3-1 3 0 47 1"/>
<path class=a7 d="M286 571l9 1 4-1 8-1 0 2 4-2 0 2 4-1"/>
<path class=a5 d="M261 572l34 0 4-1 8 1 4-1 0 0 0 1 0 0 12 0"/>
<path class=a4 d="M315 569l8-1 7 1 10 0"/>
<path class=a6 d="M286 570l13-1 0 0 4 0 0 1 4 0 19-1"/>
<path class=a3 d="M307 568l8 2 8-1 3 0 0 0 4-1 3 1 0 1 4-1 3 0 4 1 3 0 3-2 9 0 17 0"/>
<path class=a1 d="M362 568l14 1 2 0 11-1 11 1 3 1"/>
<path class=a7 d="M299 569l60-1"/>
<path class=a0 d="M398 572l13-4 28 1"/>
<path class=a2 d="M344 568l0 2 3 0 3-2 0 2 3-1 0 1 3-2 0 1 0 1 3 0 3 0 3-2 3 1 0 0 32 1"/>
<path class=a5 d="M295 568l16 0 0 0 4 0 0 0 4 1 4 1 10-1"/>
<path class=a4 d="M323 566l10 1 4 1 10 0 15-2 6 1 8-1 24 1"/>
<path class=a1 d="M344 568l15-2 0 2 6-1 3 0 10 0 11 1 9-1 0 0 2 0 0 1 3-1 2 1"/>
<path class=a3 d="M319 567l0 0 4-1 10 1 4 1 0 0 7 0 9 0 9-1 6 1 5-2 5 1"/>
<path class=a7 d="M281 567l5 0 4 1 9 0"/>
<path class=a2 d="M347 568l0 0 3 0 3 0 3-2 3 0 6 0 5 1 0 0 0 0 6 0"/>
<path class=a6 d="M295 567l4 0 16-1"/>
<path class=a5 d="M307 566l0 2 0 0 4 0 8-1 4-1 42 1"/>
<path class=a0 d="M416 567l42 0"/>
<path class=a6 d="M286 565l0 1 13-1 0 0 0 1 4-1 0 0 0 1 8 0"/>
<path class=a1 d="M362 566l6-1 2-1 8 2 20 0 5-1 0 0 0 1 0 0 4 0"/>
<path class=a2 d="M344 566l3 0 3 0 3 0 0 0 3 0 0 0 9-1 5 0 0 1 6 0"/>
<path class=a3 d="M326 566l18 0 0 0 3 0 0 0 6 0 6 0 3-2 6 1 5 1 5-1 3 1"/>
<path class=a5 d="M307 566l4 0 4-1 0 1 4-1 7 0 11 0"/>
<path class=a4 d="M307 566l8-2 8 1 7 0 3 0 17 1 0 0 15-2"/>
<path class=a7 d="M311 566l4 0"/>
<path class=a2 d="M344 564l0 0 0 0 3 0 0 0 3 0 6 0 0 0 6 0 3-1 0 1 42 0"/>
<path class=a7 d="M299 563l4 0 4 1 8-1 4 1"/>
<path class=a4 d="M307 564l8 0 11-1 24 1 9 0 3 0"/>
<path class=a1 d="M353 564l3 0 3 0 0 0 9 0 18 0 12 0 0 0 2 0 0 0 0 0"/>
<path class=a0 d="M398 563l0 1 0 1 41-1"/>
<path class=a3 d="M319 564l31 0 3 0 0 0 20 0 13-1"/>
<path class=a6 d="M299 564l4-1 0 1 4 0 16 0 0 0"/>
<path class=a5 d="M295 564l8 0 8 0 0 0 0 0 12 0 0 0 7 0 3 0 4 0 10 0"/>
<path class=a6 d="M299 563l8 0 4 0 0 0 8 0"/>
<path class=a5 d="M271 551l36 0 0 12 8 0 4 0 11 0"/>
<path class=a1 d="M344 563l6 0 9 0 6 0 8 0 3 0 2-12 3 12 5 0 12 0 2 0"/>
<path class=a4 d="M319 563l4-12 10 12 11 0 21 0 8 0 27 0"/>
<path class=a7 d="M276 551l14 12 13-12 4 12 4 0"/>
<path class=a2 d="M344 563l3 0 3 0 3 0 0 0 3 0 0 0 0 0 3 0 3 0 0 0 0 0 6-12 0 12 0 0 0 0 5 0 20 0"/>
<path class=a3 d="M315 563l22-12 10 12 0 0 3 0 3 0 6 0"/>
<path class=a6 d="M315 550l8-1 55 0"/>
<path class=a2 d="M344 550l0 0 0 0 3 0 3 0 3 0 0 0 0 0 3 0 0 0 3 0 3 0 0 0 14-1 0 2 2-1 6 0 21 0"/>
<path class=a7 d="M299 550l16 0"/>
<path class=a1 d="M347 550l21 0 2 0 23-1 7 0 0 2 3-1 2 0 4 0 15 0"/>
<path class=a4 d="M326 550l0 0 4 0 20 0 9 0 3 0"/>
<path class=a3 d="M311 550l0 0 19-1 17 1 3 0 6 0 3 0 6 0 3 1"/>
<path class=a0 d="M403 550l2-1 53 14"/>
<path class=a5 d="M307 550l0 0 4 0 4 0 4 0 4 0 3-1 0 1 7 0 0 0"/>
<path class=a4 d="M319 548l4 0 3 1 33-1 3 0 6 0"/>
<path class=a3 d="M330 548l10 0 13 0 12 1 3-1 10 0"/>
<path class=a2 d="M347 548l3 0 0 0 3 0 0 0 3 0 0 0 3 0 3 0 0 1 3 0 5-1 0 0 3 0 0 1 3 0 2-1 6 1 5-1 9 0 0 0 2 1"/>
<path class=a5 d="M307 549l8-1 0 0 18 1 4 0 28-1 3 0"/>
<path class=a7 d="M290 548l25 0"/>
<path class=a1 d="M359 548l14 1 3 0 22-1 2 1 11 0 7-1 21 1"/>
<path class=a6 d="M286 549l13-1 4 1 4 0 0 0 4-1 0 0 26 1"/>
<path class=a2 d="M347 548l0 0 3 0 3-2 3 0 9 1 3 0 2-1 0 1 6 0 10 0"/>
<path class=a5 d="M315 547l0 0 4 1 7-2 0 1 36-1"/>
<path class=a6 d="M295 547l4 1 16-1 4 0 4 0 7 1 38-2 2 2 19-1"/>
<path class=a4 d="M323 547l0 0 21 1 9-2 6 0 6 0 5 1"/>
<path class=a1 d="M359 547l6 0 8 0 0 1 8-2 0 2 17-2 0 0 2 0 0 1 3-1 0 1 2-1 0 1 0 0"/>
<path class=a3 d="M337 548l7 0 0 0 12 0"/>
<path class=a7 d="M295 547l0 1 16 0 8-1 0 1 11-2"/>
<path class=a0 d="M398 546l5 2 36-1"/>
<path class=a3 d="M344 546l3 0 0 0 0 0 3 0 6-1 0 1 3 0 0 0 3 0 6-1 0 1 0 0 8 0 2 0 20 0"/>
<path class=a7 d="M299 545l24 0 3 1 47 0"/>
<path class=a4 d="M326 546l7-1 4 1 13 0 9 0 14 0"/>
<path class=a6 d="M307 546l4 0 8 0 25 0 29 0"/>
<path class=a1 d="M365 545l0 1 11-1 24 1 3 0 2-1"/>
<path class=a5 d="M307 546l0 0 4 0 0 0 8-1 0 1 4-1 7 0 7 0 25 1"/>
<path class=a2 d="M344 546l6 0 3 0 3 0 6-1 8 1 6-1 5 1 3 0 14-1 2 0 0 0"/>
<path class=a6 d="M311 544l0 0 4 0 4 0 11 0"/>
<path class=a4 d="M307 544l16 0 30 0 9 0"/>
<path class=a3 d="M330 545l7-2 7 1 0 0 3 0 0 0 0 0 6-1 0 1 3 0 0 0 6 0 3-1 5 1"/>
<path class=a5 d="M311 543l0 2 4-2 0 1 58-1 5 0"/>
<path class=a1 d="M370 545l28-2 0 0 2 0 3 0 0 0 0 1 2 0 9 0"/>
<path class=a7 d="M307 544l0 1 8-1 11-1 24 0"/>
<path class=a2 d="M344 544l6 0 0 0 0 0 3 0 3-1 3 1 3-1 0 0 0 0 3 1 3-1 0 1 5 1 8-1 3 0 14 0"/>
<path class=a3 d="M353 543l6-1 0 1 9-1 5 0"/>
<path class=a5 d="M307 542l8-1 0 1 4-1 0 2 4 0 3 0 7-2 14 1"/>
<path class=a7 d="M307 543l26 0"/>
<path class=a2 d="M344 542l3 0 3 1 6 0 0 0 14 0 6-1 2 1 15 0 10-1 2 0 6 0"/>
<path class=a0 d="M400 541l39 4"/>
<path class=a1 d="M376 542l22 0 2 0 0 0 0 1 3-1"/>
<path class=a6 d="M307 542l4 0 0 1 0 0 4-1 0 0 4 0 0 0 0 1 4-1 7 0 7 0 22 1 11-1"/>
<path class=a4 d="M344 542l0 0 3 0 3 1 3 0 12 0 5-2 0 0 6 1 2-1 3 0"/>
<path class=a6 d="M303 540l0 0 4 1 8-1 4 0 7 0 30 1 30-2"/>
<path class=a3 d="M344 540l0 1 6-1 3 0 3 0 3 0 3 1 6 0 8-1 8-1"/>
<path class=a5 d="M307 540l16 1 3 0 4-2 3 1 17 0 9 0"/>
<path class=a4 d="M311 540l8 0 7-1 4 2 10 0 7-1 12 0 6 0 3-1"/>
<path class=a7 d="M311 541l36-1 3 0 6 0"/>
<path class=a1 d="M376 540l29-1 0 1 2 0"/>
<path class=a2 d="M344 540l3 0 3-1 3 1 0 1 3-1 6 0 0 0 3 0 0 0 8 0 5 0 3 0 8 1 9-1 0 1 0 0 2 0"/>
<path class=a1 d="M384 538l14 0 0 0 2 1 0 0 5-1 2 1 13 0"/>
<path class=a7 d="M303 538l0 1 4-1"/>
<path class=a3 d="M344 538l3 0 6 0 3 0 0 1 9-1 5 0 0 1 6-1 5 0 0 1 3 0"/>
<path class=a6 d="M307 538l0 1 4-1 0 0 0 1 4-1 4 0 11 1"/>
<path class=a2 d="M344 538l0 0 6 0 3 0 6 0 3 0 0 0 3 0 0 1 3-1 2 1 6-1 2 1 3-1 3 0 14 1 2 0"/>
<path class=a4 d="M333 538l14 0 3 0 3 0 6 1 0 0 9 0"/>
<path class=a5 d="M311 538l12 0 3 0 21 0 15 0"/>
<path class=a3 d="M315 537l29-1 0 0 9 0 3 0 0 1 3-1 0 1 3 0 0 0 3 0 35-1 0 1"/>
<path class=a0 d="M441 537l7 0 19 0"/>
<path class=a4 d="M330 536l17 0 3 0 3 1 17-1"/>
<path class=a6 d="M307 537l0 0 4 0 0 0 4-1 4 1"/>
<path class=a1 d="M373 536l11 0 12 1 2-1 0 1 2-1 3 0 0 1 17 0"/>
<path class=a7 d="M307 537l8 0 15 0 17-1 26 1"/>
<path class=a5 d="M323 536l17 1"/>
<path class=a2 d="M344 536l6 0 3 0 3 1 3 0 3-1 3 1 0 0 3-1 0 1 2 0 3 0 3 0 2 0 3-1 17 0 5 1"/>
<path class=a3 d="M347 536l3-2 0 0 3 0 6 0 3 0 6 0"/>
<path class=a6 d="M307 534l4 0 0 1 4 0 4 1 0 0 4-1 3 1 0 0 52-1"/>
<path class=a2 d="M350 536l3-2 6 1 3-1 3 0 0 1 0 0 3 0 2 1 3-2 0 0 5 2 6-1 14-1 0 1 5 0 0 1 4-1"/>
<path class=a4 d="M276 535l68-1 6 0 6 0 0 0 3 0 3 1 11 1"/>
<path class=a5 d="M311 534l33 0 12 0 14 1"/>
<path class=a1 d="M384 535l0 1 2-1 12-1 2 0 0 1 3 0 2 1 2-1 2 0"/>
<path class=a7 d="M303 534l4 1"/>
<path class=a7 d="M303 534l4 0 4-1 8 0"/>
<path class=a2 d="M344 534l3 0 0 0 6 0 3-2 6 0 3 1 0 0 3 0 0 0 2 0 0 0 8 0 15-1 7 2 3-1 0 1 2-1 0 0 13 0"/>
<path class=a6 d="M311 533l4 0 4 0 0 1 4-1 0 1"/>
<path class=a1 d="M381 532l19 0 5 1 2 0 0 1 17-1"/>
<path class=a4 d="M340 533l7 0 56 0"/>
<path class=a0 d="M439 535l20-1"/>
<path class=a5 d="M323 533l3-1 27 1 17 0 21 0"/>
<path class=a3 d="M326 534l21-1 0 0 0 1 3-2 6 1 0 0 3-1 3 0 0 1 3 0 8 0 23 0 2-1 0 0"/>
<path class=a6 d="M307 530l0 1 0 1 0 0 0 0 4-2 4 1 4 1 49-1"/>
<path class=a3 d="M344 532l9-2 0 2 0 0 6-2 0 0 0 2 6-1 11 0 2-1"/>
<path class=a1 d="M373 531l11 0 9 0 5-1 2 1 0 0 0 1 0 0 3-2 0 1 17 1 4-2 13 2"/>
<path class=a4 d="M344 532l0 0 6 0 20-2 6 1 8 1"/>
<path class=a7 d="M311 530l0 0"/>
<path class=a2 d="M359 532l3-2 3 1 3 0 0 0 0 1 2-1 0 0 3 0 0 0 8 1 3 0 5-1 0 0 9-1 0 2 5-1 2 1 6 0"/>
<path class=a6 d="M303 529l12 0 4 1 4 0 21 0"/>
<path class=a5 d="M307 529l4 0 0 0 4 1 32-1 0 1 3 2"/>
<path class=a3 d="M344 530l0 0 3-1 3 1 3-1 0 0 0 1 3 0 9-1 5 0 11 0"/>
<path class=a7 d="M307 530l4 0 8-1 7 0 81 1 32 0"/>
<path class=a4 d="M347 529l3 1 3 0 3 0 9 0 16 0 3 0"/>
<path class=a0 d="M426 530l13-1 19 0"/>
<path class=a2 d="M347 530l0 0 3 0 6 0 3-1 0 0 0 1 3 0 0 0 3-1 3 0 5 0 0 1 11-1 16 1"/>
<path class=a1 d="M384 529l9 1 0 0 5-1 0 1 11-1 9 1"/>
<path class=a7 d="M307 527l0 1 4 0 15-1"/>
<path class=a3 d="M344 528l9 0 3 0 6-1 0 1 6-1 5 1"/>
<path class=a2 d="M344 528l6 0 0 0 6 0 3-1 3 2 8-2 3 0 0 0 3 0 0 2 2-1 0 0 22 0 5-1 2 1 17-1"/>
<path class=a1 d="M368 529l28-2 2 0 0 1 0 1 2-2 0 1 0 0 3 0 2 0 0 0 2 0 9-1 4 0"/>
<path class=a5 d="M315 527l0 1 0 0 8 0 7-1 10 0 22 1 24-1"/>
<path class=a6 d="M307 528l12-1 4 0 47 0"/>
<path class=a4 d="M344 529l6-1 6 0 3 0 9 1 2 0"/>
<path class=a1 d="M368 525l30 1 2 0 0 1 3-2 0 1 0 1 2-2 2 0 0 1 2 0 9 0"/>
<path class=a4 d="M344 526l0 0 3 0 6-1 0 1 0 0 3 0 17 1 30 0"/>
<path class=a3 d="M347 526l3 0 0 0 3 0 9 0 3 0 33 0"/>
<path class=a5 d="M311 525l12 1 21 0 3 0 9 0"/>
<path class=a2 d="M350 526l6 1 6-1 3-1 0 1 0 0 3 0 0 1 8-1 15-1 9 1 0 0 5 0 4-1 5 1 0 0 6 0"/>
<path class=a7 d="M315 527l4-1 0 0 4-1"/>
<path class=a6 d="M311 525l22 1 32-1 5 0 14 1"/>
<path class=a1 d="M376 524l24 0 0 0 3-1 0 1 2 0 2 0 0 0 9 0"/>
<path class=a5 d="M315 525l32-1 12 0"/>
<path class=a3 d="M344 524l0 0 3 0 0 0 3 0 3 1 0 0 9 0 3-1 11 0 13 1 9-1"/>
<path class=a4 d="M330 524l20 0 6 1 0 0 6 0 6-1 2-1 3 2"/>
<path class=a0 d="M456 524l0 1"/>
<path class=a6 d="M307 525l0 0 0 0 4 0 4-1 0 0 4 0 0 0 4 0 7 1 14-1 12 1 3-1"/>
<path class=a2 d="M350 524l9 0 3 0 6 0 0 1 2-1 3 0 3 1 2-1 8 0 12 0 0 0 5 0"/>
<path class=a1 d="M398 522l0 0 0 0 2 1 3 0 2-1 0 0 2 1 2 0 7 0"/>
<path class=a5 d="M311 522l4 0 29 0 3 0 3 0 9 0"/>
<path class=a4 d="M330 523l17-1 6 0 9 0 0 0 0 0 0 0 8 1 3 0"/>
<path class=a6 d="M315 522l4 1 65 0"/>
<path class=a3 d="M344 522l3 0 3 0 0 0 3 0 0 0 3 0 0 1 3-1 6 1 0 0 3 0 2-1 6 1"/>
<path class=a7 d="M307 522l8 1 8 2 36-2"/>
<path class=a2 d="M344 522l12 0 6 1 3 0 3-1 5 0 0 1 0 0 3-1 0 1 2 0 6 0 21 0 6-1 0 1"/>
<path class=a7 d="M311 521l0 0 15 0 27-1 6 0 6 0"/>
<path class=a1 d="M400 520l0 0 0 0 5 0 0 0 17 2"/>
<path class=a5 d="M319 521l11 0 7 0 33 0 16 0"/>
<path class=a6 d="M315 521l0 1 4-2 0 0 4 1 7-1 17 1"/>
<path class=a2 d="M359 521l9 0 0 0 10-1 6 1 7 0 0 1 7-2 0 1 5-1 2 0 2 1 0 0 17 1"/>
<path class=a3 d="M311 521l33-1 3 1 3-1 0 1 3-1 0 0 3 0 9 1 3 0 8-1 5 1 22-1 4 1"/>
<path class=a4 d="M347 520l9 1 0 0 6 1 8-2 0 1 6 0"/>
<path class=a6 d="M315 519l4-1 4 1 10 0 48-1"/>
<path class=a2 d="M359 519l0 0 0 1 3-2 3 1 3-1 2 2 6-1 0 0 2-1 0 1 0 0 3 0 5 1 12 0 5-2 0 1 0 0 4 1 7 0 25-1"/>
<path class=a0 d="M439 520l0 0 19-2"/>
<path class=a4 d="M344 519l0 0 15 0 3 0 49 0"/>
<path class=a1 d="M398 518l2 0 3 2 2 0 2-1 9 1"/>
<path class=a7 d="M311 519l0 1"/>
<path class=a3 d="M344 518l0 2 0 0 3-1 0 0 9-1 0 0 0 1 6 0 3 0 0 1 5 0 3-1 32 0 4-1"/>
<path class=a5 d="M307 519l4 1 29-2 10 2"/>
<path class=a6 d="M307 517l4 1 15-1 55 0"/>
<path class=a7 d="M307 517l4 1 4 0"/>
<path class=a3 d="M347 517l0 0 0 1 3 0 15-1 3 1 2-1 3 1 3-1 22 1 11-1"/>
<path class=a5 d="M315 517l11 1 24-1 0 1 0 0 3 0 15-1"/>
<path class=a2 d="M365 517l0 1 3 0 2-1 0 1 3-1 3 1 2 0 3-1 5 0 3 0 0 0 2 0 2 0 7 1 7-1 9 1"/>
<path class=a1 d="M393 518l7 0 5-1 0 0 2 1 4-1 11 1"/>
<path class=a4 d="M350 517l0 0 3 1 0 0 6-1 3 0 16 1 20 0"/>
<path class=a0 d="M441 518l15-1 0 0"/>
<path class=a4 d="M344 516l0 0 3 0 6 0 0 0 3-1 0 1 0 0 12 0 5 0 0 0 5-1 3 1"/>
<path class=a2 d="M344 516l18-1 0 0 8 1 3-1 8 1 0 0 3-1 5 1 11 0 7 0 9 0 14 0"/>
<path class=a3 d="M359 516l6-1 0 1 3 0 2-1 0 1 6 0 2 0 6 1 14-1 0 0 43 0"/>
<path class=a1 d="M386 516l12 0 2 0 0 0 3 0 0 0 0 0 4 0 0 0 19 0"/>
<path class=a6 d="M307 516l4 0 0 0 0 0 12 0 10 0 29 0"/>
<path class=a5 d="M319 516l34 0 3 0 3 0"/>
<path class=a6 d="M307 514l0 1 4-1 4 0 0 1 15-1 10 0 13 0 12 1"/>
<path class=a1 d="M381 515l15-1 0 0 2 0 2 0 0 0 3 0 0 0 2 1 0 0 4-1 0 0 2 0 9 0"/>
<path class=a5 d="M311 514l45 1"/>
<path class=a2 d="M347 514l6 0 9 0 3 0 3 0 0 0 0 1 5-1 3 0 0 0 17 0 3 1 2 0 0 0 2-1 3 1 2 0"/>
<path class=a4 d="M344 514l0 0 6 0 28 0 0 0"/>
<path class=a3 d="M344 514l3 0 0 0 3 0 0 0 3 0 3 1 3-1 0 0 0 1 6-1 13 1"/>
<path class=a2 d="M359 512l6 0 5 0 0 0 6 1 2-1 3 0 0 1 19-1 3 1 2-1 0 0"/>
<path class=a1 d="M398 512l2 0 0 0 5 1 6 0 5 0 4-1 2 0 4 0 0 1 2 0 2 0"/>
<path class=a7 d="M311 513l0 0 39 0 36 2"/>
<path class=a4 d="M330 513l14-1 3 1 3-1 0 1 6-1 3 0 9 0 0 0 2 0 3 1 13 0"/>
<path class=a6 d="M315 513l0 0 32 0 26 0"/>
<path class=a5 d="M333 513l20-1 9 0 0 1"/>
<path class=a3 d="M344 512l3 1 6-1 0 0 3 0 6 0 6 0 5 1 5-1 3 1 5 0 12-1 5 0"/>
<path class=a5 d="M330 510l3 1 56 1 25-1"/>
<path class=a2 d="M311 511l57 0 2 0 0 0 0 0 11 0 0 0 17 1 2-2 0 0 5 1 0 1 4-1 2 0"/>
<path class=a0 d="M439 515l17-4 2 0 0 0 28 0"/>
<path class=a4 d="M350 511l6-1 3 1 0 1 6-1"/>
<path class=a7 d="M311 510l4 1 4 1"/>
<path class=a6 d="M307 512l0 0 4-1 29 0 53 0"/>
<path class=a1 d="M400 510l3 0 0 0 0 2 4-1 2 0 2-1 0 0 9 1 2 1 6-1"/>
<path class=a3 d="M344 510l0 2 6-1 3-1 0 0 3 0 0 2 3-1 3-1 0 1 0 0 6 0 5 1 30-2"/>
<path class=a0 d="M439 509l17 0 2 0 9 1"/>
<path class=a5 d="M330 510l10-1 16 0 9 1 0 0 8-1"/>
<path class=a4 d="M347 510l21 0 23 0 16 0 4-1 5 1"/>
<path class=a7 d="M307 509l4 1 26 0"/>
<path class=a1 d="M376 509l17 1 5 0 0 0 7 0 19 0 4-1"/>
<path class=a2 d="M330 510l29 0 11-1 0 0 3 1 0 0 3-1 0 1 8-1 0 0 5 0 4 0 5 1 7-1 2 0 7 0 0 1"/>
<path class=a3 d="M344 510l3 0 6 0 3 0 9-1 8 0 0 0 3 0 0 1 2-1 0 0 13 1 31-1"/>
<path class=a6 d="M311 509l33 1 3 0 3 0"/>
<path class=a2 d="M356 507l6 1 0 0 6 0 2-1 6 1 2 1 3-1 5 0 5 0 12-1 0 1 0 0 2 0 11 0"/>
<path class=a1 d="M365 508l5 0 23 0 5 0 0 0 2 0 0 0 0 0 3 0 4 0 0 0 13 0 2 0 17-1"/>
<path class=a6 d="M353 508l0 0 54 1"/>
<path class=a5 d="M347 508l9 0 3 0 3-1 36 1"/>
<path class=a4 d="M344 508l3 0 3 0 0 0 9 1 22-1"/>
<path class=a3 d="M344 509l0 0 6-1 3 0 3 1 3-1 3-1 0 2 3-2 0 1 16 0 15-1 9 1 2 0"/>
<path class=a7 d="M311 507l8 1 28 0"/>
<path class=a3 d="M344 506l0 0 3 0 0 1 3-1 3 0 6 0 9 1 5 0 5 0 27 0 4-1"/>
<path class=a0 d="M456 505l9 1"/>
<path class=a2 d="M353 506l6 0 14 1 11 0 16-1 0 0 3 1 0 0 2-1 0 1 2-1 0 0 0 1 2-1"/>
<path class=a5 d="M319 507l4 0 33-1 3 0 6-1 5 2"/>
<path class=a6 d="M330 506l17 0 15 0 3 1"/>
<path class=a1 d="M391 507l7-1 0 0 2 0 5 0 4 1 5-1 6-1 6 1"/>
<path class=a7 d="M303 507l8-2 54 2"/>
<path class=a4 d="M344 506l6 0 0 0 3 0 3 1 12-1 0 0 2 1 3-1 25 0"/>
<path class=a5 d="M353 505l28 0"/>
<path class=a2 d="M356 504l6 0 3 1 3 0 5-1 3 1 15 0 5-1 2 0 2 0 5 1 0 0 4 0 13 0 4-1"/>
<path class=a6 d="M311 504l12 1 21-1 0 0 18 0 6 0 32 0"/>
<path class=a1 d="M398 504l0 0 2 0 3 0 0 0 0 0 4 1 4 0 3-1 2 1 2-1"/>
<path class=a3 d="M344 504l6 0 0 0 6 0 6 0 6 1 2 0 3 0 8 0"/>
<path class=a4 d="M347 504l0 0 0 1 3-1 3 0 0 1 3 0 3 0 6-1 5 0 0 1 3 0"/>
<path class=a0 d="M439 504l19 1 1-1"/>
<path class=a4 d="M347 502l0 1 3-1 0 1 3-1 3 0 3 1 3 0 0 0 11-1 3 1 0 0 8-1 19 0 2 1"/>
<path class=a6 d="M337 503l7-1 0 1 3-1 6 1 15-1"/>
<path class=a2 d="M359 503l3-1 3 0 0 1 5-1 0 1 3 0 3 0 2 0 8-1 0 2 12-2 5 1 0 0 4 0 2 0 5 0 8 0"/>
<path class=a1 d="M389 502l11 0 5 2 2-1 2-1 2 1 3 0 6 0 13-1"/>
<path class=a7 d="M307 505l12-2 0 1"/>
<path class=a3 d="M344 503l9-1 3 1 3-1 9 1 5 0 5 0 31-1 2 1"/>
<path class=a7 d="M307 501l23 1"/>
<path class=a6 d="M311 501l39 0"/>
<path class=a2 d="M368 501l5 1 3 0 2-1 0 1 6 0 2-1 3 0 0 0 2 1 9-1 3 0 0 0 4 1 0 0 2-1 53 0"/>
<path class=a3 d="M350 501l0 1 0 0 6-1 3 0 6 0 3 0 0 1 2-1 3 1 5-1 13 0 7 1 7 0 2-1 4 0 7 0"/>
<path class=a5 d="M340 503l16-1 51 0"/>
<path class=a4 d="M347 501l9 1 6-1 3 1 5 0 11-1 5 0 12 1"/>
<path class=a1 d="M389 501l11 1 0 0 3-1 2 0 0 1 4-1 5 0 0 0 8 1 2-1"/>
<path class=a3 d="M353 499l0 1 3 0 3-1 0 1 0 0 3-1 3 0 0 1 3-1 0 1 2-1 3 1 3-1 24 1 7-1"/>
<path class=a4 d="M344 500l0 0 3 0 15 0 6-1 2 1 3 0 5-1 3 1 15 0 2 0 18 0"/>
<path class=a1 d="M398 500l2 1 5-1 2-1 17 1"/>
<path class=a5 d="M353 500l17 0"/>
<path class=a7 d="M315 499l0 0 11 1 18 0 18 0 6-1"/>
<path class=a2 d="M347 500l18-1 0 1 5-1 0 0 6 1 2-1 3 1 5-1 5 1 2-1 3 0 2 1 7-1 2 1 15 0"/>
<path class=a0 d="M456 500l0 0 0 1"/>
<path class=a4 d="M344 498l3 0 0 0 3 0 0 0 3 0 3 0 3 0 3 0 0 1 16-1 8 0"/>
<path class=a3 d="M356 498l0 0 17 0 3 0 5 0 8 0 0 0 11 0 3 0"/>
<path class=a1 d="M398 498l2 0 3 0 0 0 2 0 0 0 9 0 6-1 0 1 2 0 0 0 17-1"/>
<path class=a6 d="M307 498l19 0 18 0 0 0 9 0 0 2 6-2 6 0"/>
<path class=a0 d="M439 498l17 0 25-1"/>
<path class=a2 d="M370 498l6 0 2 0 0 0 6 0 5 0 0 0 2 0 0 0 5 0 2 0 0 0 2 0 7-1"/>
<path class=a5 d="M347 498l3 0"/>
<path class=a1 d="M398 496l2 0 0 0 3 0 0 0 2 0 0 0 2 0 0 1 2-1 0 1 2-1 3 1 2-1"/>
<path class=a7 d="M307 496l4 2"/>
<path class=a4 d="M344 497l3-1 0 1 3 0 3 0 3-1 0 0 3 1 3-1 3 0 5 1 3 0 5-1"/>
<path class=a5 d="M353 497l12 0 5-1"/>
<path class=a6 d="M347 496l6 1 3-1"/>
<path class=a3 d="M344 497l0 0 6 0 0 0 9 0 3-1 0 0 6 0 8 1 0 0"/>
<path class=a2 d="M359 497l6 0 3 0 0 0 5 0 8-1 15 0 2 0 0 0 2 0 3 0 2 0 6 0 0 0 7 0"/>
<path class=a5 d="M311 494l33 0 65 2"/>
<path class=a4 d="M350 494l3 0 0 0 9 0 16 1 42 0"/>
<path class=a3 d="M347 495l12-1 0 1 0 0 3 0 6 0 8-1 10 2 5-1 9-1 9 1"/>
<path class=a0 d="M458 495l0 1 3 0 4-1"/>
<path class=a1 d="M403 495l2-1 0 1 2 0 4-1 3 1 2 0 4 0 2 0 0 1"/>
<path class=a6 d="M311 496l15-2 30 2 6-1 3 0"/>
<path class=a7 d="M319 494l0 2 7 0 27-2 15 0"/>
<path class=a2 d="M365 495l5 0 0 0 6 0 13-1 4 1 5-1 0 0 5 1 4 0 0 0 7-1 0 1 2 1 2-2 4 0 2 1"/>
<path class=a6 d="M323 494l21-1 24 1"/>
<path class=a0 d="M441 494l15-1 0 0"/>
<path class=a4 d="M347 494l3 0 9-1 0 0 6 1 3-1 0 0 2 0 21 0 9 1"/>
<path class=a7 d="M350 494l34 0"/>
<path class=a1 d="M398 494l5-1 2-1 0 2 2 0 2 0 2-1 3 0 4 0 2 0 0 0 6-1"/>
<path class=a2 d="M381 493l3 1 5-1 0 1 11 0 3-1 0 1 4-1 2 1 5-1 2 0 2-1 2 1 4 0"/>
<path class=a3 d="M344 493l0 1 3-2 0 1 0 1 18-1 3 0 2-1 0 1 6 0 2 0 0 0 29 0 7 0 14 1"/>
<path class=a6 d="M344 492l6 0 3 0"/>
<path class=a7 d="M311 491l89 1"/>
<path class=a2 d="M356 492l17-1 3 1 8 0 14 0 2 0 0 0 5 0 2-1 11 0 2 1 2 0 4-1"/>
<path class=a4 d="M347 492l3 0 0 0 3 0 3 0 0 0 3 0 3-1 0 1 11-1 3 0 2 0 0 1 20 0"/>
<path class=a3 d="M353 491l0 1 12 0 0 0 3 0 2-1 0 0 6 0 0 1 10-1 7 1 5 0 5-1 11 0 8 0"/>
<path class=a1 d="M403 492l2 0 0 0 11-1 2 1 2-1 0 0 4 1"/>
<path class=a5 d="M344 494l3-3 6 0 9 0 27 0"/>
<path class=a1 d="M378 490l6 0 14 0 5 0 0 1 2-1 2 0 2 0 2 0 0 0 3 0 4 0 2-1 2 1 2 0"/>
<path class=a3 d="M356 490l0 0 3 0 3 1 3-2 0 1 0 0 8 0 5 0 6-1 2 1 10 1 4-1 9 0"/>
<path class=a4 d="M344 490l3 1 3-1 0 1 9-1 11 0 0 0 8 0 18 0 11 1 4-1"/>
<path class=a5 d="M344 491l0 0 6-1 3 0 3 0 3 0 14 1"/>
<path class=a2 d="M396 490l2 0 0 0 2 0 0 0 5 1 4-1 2-1 0 1 3 0 10 0 6 0"/>
<path class=a5 d="M344 488l3 0 3 0 0 0 6 0 0 1 0 0 6-1 3 0 26 0"/>
<path class=a2 d="M365 489l26-1 7 0 2 0 5 0 2 0 2 1 2-1 24 0 21 1"/>
<path class=a4 d="M350 488l3 0 0 0 6 0 3 0 6 1 2 0 3 0 8 0 41 0"/>
<path class=a7 d="M340 489l13-1 23 0 52 1"/>
<path class=a1 d="M400 488l3 0 2 1 2-1 2 1 7 0 14 0 7 0 5 0 4 0"/>
<path class=a3 d="M347 488l12 0 0 1 9-1 0 1 2 0 3-1 3 0 2 1 6-1 9 1 14 0 2 0"/>
<path class=a6 d="M344 488l3 0 0 2 58-1"/>
<path class=a5 d="M344 486l0 0 6 1 23 0"/>
<path class=a6 d="M347 486l58 1"/>
<path class=a4 d="M344 488l6-1 3 0 0 0 0 1 6-1 3 0 0 1 6-2 13 1 3 1 14 0 2-1"/>
<path class=a1 d="M400 487l0 1 5-1 0 1 4-1 2 0 3 0 6 0 2 0 8 0 9 0 0 1"/>
<path class=a2 d="M389 487l9 1 5 0 0 0 4-2 0 1 2 0 13-1 10 0 9 0"/>
<path class=a3 d="M365 487l0 0 0 0 3 0 2-1 3 2 3 0 5-1 3 1 2 0 5-1 2 0 7 0 11 0 0 1"/>
<path class=a7 d="M311 488l59-1"/>
<path class=a0 d="M439 488l0 4 17-5"/>
<path class=a2 d="M365 485l8 1 3-1 2 1 3 0 3 0 2-1 7 0 5 1 5 0 6-1 0 1 5 0"/>
<path class=a6 d="M344 486l3-1 0 1 3-1 9 1"/>
<path class=a5 d="M347 486l6-1 9 0 11 0 18 0 18 0"/>
<path class=a7 d="M350 486l3-1 0 0"/>
<path class=a4 d="M356 486l3 0 3-1 0 1 0 0 3-1 5 0 3 0 5 1 3 0"/>
<path class=a3 d="M356 486l0 0 12 0 2-1 0 1 6 0 8-1 0 0 5 0 0 1 14 0 8-1"/>
<path class=a1 d="M398 486l0 0 5 0 4 0 13 0 6-1 13 0"/>
<path class=a0 d="M439 485l19 0 0 1 0 0"/>
<path class=a3 d="M344 485l12-1 3 0 9 0 5 0 0 0 0 0 20 1 7-1"/>
<path class=a2 d="M378 484l20 0 0 0 2 0 0 0 3 0 0 0 0 0 2 0 2 0 2 0 2 0 9 0 6 1"/>
<path class=a4 d="M350 484l6 0 0 0 3 0 0 1 3-2 0 2 3-1 0 0 3 0 2 0 8 0 20 0 7 0"/>
<path class=a1 d="M403 484l2 1 2-1 7 0 2 0 2 0 4 0 17-1"/>
<path class=a6 d="M319 484l25 1 0 0 3-1 3 0 36 1 3-1"/>
<path class=a5 d="M347 484l18-1 3 1 46 0 4 0"/>
<path class=a0 d="M456 484l3 0"/>
<path class=a2 d="M398 482l0 0 2 1 5-1 2 0 2 1 13 0 6 0"/>
<path class=a7 d="M311 483l8 2 14-2 26-1 44 1 2 0"/>
<path class=a4 d="M344 482l9 1 3 0 0 0 3 0 3 0 0 0 6-1 0 0 2 0 8 0 3 0 5 0 0 1 14 0 16 0"/>
<path class=a5 d="M340 483l4 0 3-1 9 1 9-1 28 0 31 1"/>
<path class=a3 d="M347 482l0 0 3 0 9 1 11 0 8 0 3-1 0 1 5-1 19 1"/>
<path class=a1 d="M398 482l5 0 6 1 11 0 0 0 6-1 9 1 4 0 17 0"/>
<path class=a0 d="M456 483l2-1"/>
<path class=a6 d="M353 482l0 1 25-1"/>
<path class=a6 d="M330 482l14-2 3 1 6-1 0 0 6 0 9 1 0 1 16 0 16 0"/>
<path class=a2 d="M373 481l5 1 8 0 5 0 14-2 0 1 4 0 2 0 0 0 0 0 7 0 14 1"/>
<path class=a0 d="M439 481l17 0 0 1 2-1 12 0"/>
<path class=a4 d="M344 481l6-1 3 1 12 0 0 0 11 0 31 0"/>
<path class=a3 d="M344 482l21 0 3-1 2 0 3 1 3-1 0 0 2 1 8-1 19-1 9 1 2 0 4 1 2 0 2-1 9 0"/>
<path class=a5 d="M344 481l12 0 64 0"/>
<path class=a1 d="M403 481l6 0 2 1 28-1 2 0"/>
<path class=a7 d="M350 481l9-1"/>
<path class=a0 d="M441 480l15-1 0 0"/>
<path class=a5 d="M347 480l3-1 18 0 30 1 0 0"/>
<path class=a1 d="M400 480l3 0 2-1 0 0 4 1 2-1 3 0 2 1 0 0 2-1 2 0 2 0 4 0 2 0 0 0 4 0 24 0"/>
<path class=a2 d="M398 480l2 0 0 0 3 0 2-1 4 1 5-1 6 0 2 0 0 1 4 0 2-1 13 1"/>
<path class=a3 d="M347 480l6-1 3 1 0 0 3 0 3 0 6-1 5 1 5 0 36 0"/>
<path class=a4 d="M350 479l6 0 9 0 3 0 2 0 0 1 3-1 41 1"/>
<path class=a6 d="M350 480l6-1 6 1"/>
<path class=a4 d="M344 479l3-1 6 1 6-1 0 0 3 1 22-1 0 0 0 1 19-1"/>
<path class=a6 d="M330 478l20 1 9-1 14 0 3-1"/>
<path class=a7 d="M344 479l3 0 29 0 5-1"/>
<path class=a1 d="M398 478l5 0 4-1 0 1 4 0 3 0 0 0 2-1 0 2 2 0 2-2 6 0"/>
<path class=a3 d="M362 478l3 0 0 1 5-1 0 0 19-1 11 1 3 0"/>
<path class=a0 d="M459 478l8 0"/>
<path class=a2 d="M381 477l5 1 3 1 9-1 0 0 2 0 0 0 7-1 0 1 0 0 4 0 5-1 2 1 2 1 6 0 13-1"/>
<path class=a5 d="M344 478l3 1 6-1 12 0"/>
<path class=a1 d="M407 477l2-1 2 1 3 0 6 0 0 0 8 0 2 0 2 0 7-1 19 0"/>
<path class=a3 d="M356 477l9 0 3 0 0 0 2 0 0 0 0 0 3-1 0 1 5-1 0 1 3 0 45-1 2 1"/>
<path class=a2 d="M381 476l15 1 13 0 0 0 2 0 3 0 8 0"/>
<path class=a6 d="M344 476l0 1 3-1 0 1 6 0 3 0 68-1 0 1"/>
<path class=a5 d="M319 477l31 0 3 0 3-1 47 0"/>
<path class=a0 d="M456 476l12 1 2 0 7-1"/>
<path class=a4 d="M350 477l3 0 6-1 0 0 0 0 14 0 3 0 2 0 11 1 35 0"/>
<path class=a1 d="M409 475l2 1 7-1 4 1 0 0 2 0"/>
<path class=a5 d="M344 475l0 1 6 0 6 0 6 0"/>
<path class=a0 d="M458 475l0 1 0 0"/>
<path class=a2 d="M365 476l21 0 5 0 7 0 2 0 3 0 2 0 0 0 2-1 2 0 7 1 2-1 2 1 6 0 11-1"/>
<path class=a3 d="M359 475l3 0 3 0 3 0 8 1 5 0 3-1 5 1 9 0 2 0 0 0 3-1 0 1 2 0 6-1 5 1"/>
<path class=a6 d="M347 476l3-1 12 0 14 0 17 0"/>
<path class=a4 d="M350 475l3 0 0 0 3 0 0 0 6 1 3 0 21-1 12 1 22-1"/>
<path class=a1 d="M400 475l5-1 9-1 6 1 2-1 4 0 7 1 6 1 0 0 3-1"/>
<path class=a2 d="M353 474l28 0 3 0 5 1 7-1 2 0 0 1 2-1 3 1 2-1 2 0 0 0 13-1 2 0 2 1 0 0"/>
<path class=a0 d="M439 474l3 1 2-1"/>
<path class=a6 d="M344 474l3 0 3 0 9 1 14-1 27 0"/>
<path class=a3 d="M370 474l3 0 3 0 2 0 0 0 8 0 3 0 9 0 5 0 2 0 4 0 5-1 16 1"/>
<path class=a4 d="M373 474l5 0 15-1"/>
<path class=a7 d="M347 474l12 0 9 3 46-3"/>
<path class=a5 d="M344 474l3 0 18 0 3 0 2-1 6 1"/>
<path class=a6 d="M344 473l9 0 12-1"/>
<path class=a4 d="M347 473l9 0 3 0 0 0 3 0 6-1 5 0 13 0 12 0 24 0"/>
<path class=a1 d="M398 472l7 1 4 0 2-1 0 1 5 0 8 0 2 0 6 0 5 0"/>
<path class=a3 d="M344 473l9-1 0 1 20-1 0 1 3-1 5 1 24-1 2 0 0 1 19-1"/>
<path class=a0 d="M458 473l0 0"/>
<path class=a7 d="M359 473l22-1"/>
<path class=a5 d="M337 473l7 0 3-1 3 1 0 0 0 0 18-1 0 0 2 1"/>
<path class=a2 d="M370 473l8 0 25-1 0 1 0 0 4-1 2 0 0 1 5 0 2-1 4 1 0 0 8 0"/>
<path class=a7 d="M350 471l3-1 20 1"/>
<path class=a6 d="M356 471l3 0 14 0"/>
<path class=a1 d="M400 470l0 2 9 0 2 0 7-1 2 0 2 0 6 0 0 0 5 1 6-1 0 1"/>
<path class=a4 d="M347 470l0 2 3-1 3-1 0 2 3-1 9-1 16 1 24 1"/>
<path class=a2 d="M386 471l7 0 0 0 5 1 2 0 11-1 9-1 2 2"/>
<path class=a3 d="M350 471l9 0 3 0 0 0 3 1 3-1 2 0 3-1 3 1 2 1 3-1 3 0 0 0 16 1 11-1 13 1"/>
<path class=a0 d="M456 472l2-2"/>
<path class=a5 d="M356 471l3 0 3 0 3 0 42 0 2 0 28 0"/>
<path class=a0 d="M439 470l17 0 5 0 3 0"/>
<path class=a1 d="M403 470l2 0 4 0 5 0 0 0 4 0 4-1 2 1 15 0 2 0 3-1 14 1"/>
<path class=a4 d="M359 469l9 1 0 0 10 0 3-1 3 0"/>
<path class=a2 d="M378 470l11 0 4 0 5 0 0 0 2 0 3 0 2 0 0 0 11 0 17 0 2 0 4 0 0 0"/>
<path class=a6 d="M333 470l11 0 0 0 3 0 3-1 6 1"/>
<path class=a3 d="M368 469l8 1 13-1 0 1 0 0 9 0 2 0 3 0 17 0 6 0 2-1"/>
<path class=a5 d="M344 470l3 0 18-1 0 1 3 0 8 0"/>
<path class=a6 d="M344 469l3-1 9 0 3 0 11 1 0 0 11 0"/>
<path class=a5 d="M344 468l3 0 0 0 3 0 0 0 3 1 0 0 3-1 3 1 3-1 8 0 3 0"/>
<path class=a1 d="M400 468l9 0 2 1 5 0 8 0 22 0"/>
<path class=a0 d="M458 469l1-1"/>
<path class=a2 d="M398 468l2 0 0 0 3 1 2-1 2 0 0 0 0 1 2-1 0 0 2 1 5 0 8 0 2-1 2 0 7 1 6-1"/>
<path class=a3 d="M362 468l3 0 0 0 8 0 3 0 0 1 5 0 22 0 11 0 21-1"/>
<path class=a7 d="M319 468l34 1"/>
<path class=a4 d="M368 468l5 0 3 1 29-1 11 0"/>
<path class=a3 d="M362 467l3 0 0 0 3 0 2 0 3 1 3-1 2 0 8 1 3-1 14 1 2 0 6-1 11 1"/>
<path class=a7 d="M350 467l26 0"/>
<path class=a5 d="M344 467l3 0 0 0 3 0 6 0 6 1 16 0 55-1"/>
<path class=a1 d="M418 467l0 0 0 1 2 0 0 0 2-1 8 0 2 1 3-1 4 1"/>
<path class=a6 d="M356 467l3 0 3 0 8 0"/>
<path class=a0 d="M448 467l8 0 0 0 6 1 2 0"/>
<path class=a4 d="M344 468l6-1 3 0 6 0 14 0 8 0 8 1 7-1"/>
<path class=a2 d="M381 467l17 1 0 0 9-1 0 0 0 0 2 0 2 0 3 0"/>
<path class=a5 d="M344 465l0 1 0 0 9 0 3 0 3 0 11-1"/>
<path class=a4 d="M359 465l0 1 3 1 8-2 8 1 6-1 0 1 0 0 14 0 26 0 8 0"/>
<path class=a0 d="M456 465l0 1 15 0 5-1"/>
<path class=a2 d="M398 466l0 0 2 0 3 0 0 0 0 0 2 0 2-1 9 1 0 1 16-1 10-1"/>
<path class=a1 d="M409 466l7-1 6 1 6-1 0 1 11-1"/>
<path class=a6 d="M347 466l6 0 6 0 6 0"/>
<path class=a7 d="M350 465l41 1"/>
<path class=a3 d="M350 465l20 1 6 0 0 1 8-2 2 1 14 0 0 1 5-1 0 0 4 0 7 0 2-1 6 1"/>
<path class=a3 d="M368 465l13 0 3 0 5 0 9-1 0 0 5 0 2 1 4 0 2-1 7 0"/>
<path class=a7 d="M344 464l0 1 3-1"/>
<path class=a1 d="M407 464l9 1 4 0 19-1 0 1"/>
<path class=a5 d="M347 464l0 0 0 0 3 1 3-1 0 0 3 1 6-1 11 1 53-1"/>
<path class=a2 d="M391 465l5 0 2-1 2 0 0 0 3 0 0 0 2 0 0 0 2 0 2 0 0 0 2 1 0 0 3-1 14 1 4 0"/>
<path class=a0 d="M458 465l1-1 28 0"/>
<path class=a4 d="M353 464l3 1 6-1 0 1 6 0 8 0 20 0 4-1"/>
<path class=a6 d="M356 464l12 1 50 0"/>
<path class=a0 d="M456 463l2 0 10 0 12 0"/>
<path class=a6 d="M344 463l3 0 0 0 6 0 6-1 6 1 0 0 16 0 26 0"/>
<path class=a4 d="M353 464l6-1 11 0 14 1 12-2"/>
<path class=a7 d="M344 463l18 1 14-2"/>
<path class=a1 d="M405 463l6 0 3 0 0 0 4 0 2 0 8 0 13-1 17 1"/>
<path class=a3 d="M356 463l12-1 5 2 5-1 0 0 6-1 0 1 12 0 7 0 2-1 2 2 13-2"/>
<path class=a5 d="M350 463l0 0 0 0 6-1 6 1"/>
<path class=a2 d="M370 464l11 0 22-1 2-1 2 1 2-1 0 0 2 0 7 0 2 0 10 2 2-1 9 1"/>
<path class=a7 d="M356 462l12-1 5 1 18 0"/>
<path class=a6 d="M311 461l54 0 3 1 8-1 5 0 5 1 23 0"/>
<path class=a1 d="M409 461l9 1 6 0 6-1 5 1 4 0 0 0 12-1 8 1"/>
<path class=a3 d="M378 462l3 0 5 0 3-1 14 1 15 0 21 0"/>
<path class=a2 d="M391 462l7 0 0 0 2 0 0 0 0 0 9-1 2 1 3 0 4 0 2-1 0 1 6-1 0 0 4 0 11 1 10 0"/>
<path class=a5 d="M333 462l20-1 0 1 6 0 0 0 0 0 14 0 8-1 17 1"/>
<path class=a4 d="M353 461l12 0 3 1 2-1 8 1 3 0"/>
<path class=a6 d="M344 460l0 0 3 0 0 1 3-1 0 1 6-1"/>
<path class=a7 d="M290 460l57 0 3 1 3-1 12 0"/>
<path class=a1 d="M398 460l5 0 19 0 2 0 8 0 0 0 7 1 19-1 0 0"/>
<path class=a4 d="M356 460l6 0 0 1 6-1 37 1 4-1"/>
<path class=a5 d="M344 460l3 0 0 0 12 0 3 1 3-1 0 0 13 0 22 0"/>
<path class=a2 d="M384 460l14 0 0 0 2 0 0 0 5 0 0 1 2 0 0 0 2 0 2-1 0 0 0 1 5-1 4 0"/>
<path class=a0 d="M456 461l2-1"/>
<path class=a3 d="M356 460l20 0 8 1 2 0 5 0 12-1 0 0 4 0"/>
<path class=a2 d="M384 459l2 0 5 0 14 0 2 0 2-1 5 1 2 0 2 0 2 1 2 0 2 0 8-2 0 1 7 0"/>
<path class=a3 d="M359 458l6 1 3 0 13 1 5-2 0 1 10 1 9-2 2 0 0 1 2 0 11-1 4 2"/>
<path class=a1 d="M405 458l6 0 0 0 3 2 2-1 8 0 2-1 13 1 2 0 1 1 2-1 14 0"/>
<path class=a4 d="M356 459l17 1 3-2 27 0"/>
<path class=a7 d="M353 459l17 0 3 0"/>
<path class=a5 d="M344 458l9 0 0 1 3 0 12 0 5-1"/>
<path class=a6 d="M344 458l3 0 9 0 3 0 3 1 0 0 0 0"/>
<path class=a6 d="M311 457l45 0 3 0 0 1 3 0 3-1 0 0 11 1 48-1"/>
<path class=a5 d="M344 457l6 1 12 0 6-1 2 0 3 0"/>
<path class=a4 d="M350 458l0 0 18-1 5 0 3 0 2 0 8 1 5-1 5 0 22 1"/>
<path class=a1 d="M398 458l18-1 6 1 0 0 2-1 2 0 13 1 19-1"/>
<path class=a0 d="M439 457l17 1"/>
<path class=a2 d="M386 457l12 1 0 0 2 0 0 0 3 0 2-1 4 0 9 0 0 1 0 0 4-1 2 1 2-1 11 0 4 0"/>
<path class=a3 d="M370 457l11 0 5 0 14 1 3 0 8 0 3-1 6 0"/>
<path class=a5 d="M344 456l0 0 3 0 0 0 3 0 3 0 0 0 3 0 0 1 3-1 19 0 20 0"/>
<path class=a4 d="M350 456l0 1 3-1 12 0 11 0 5 0 0 1 3 0 21 0"/>
<path class=a2 d="M398 456l2 0 0 0 3 0 0 0 2 1 2 0 0 0 2-1 5 0 2 1 4-1 6 0 7 1"/>
<path class=a6 d="M347 456l12 0 3 0 29 1"/>
<path class=a1 d="M403 456l8 1 3 0 2 0 23-1 0 0 2 1 1-1 16 0"/>
<path class=a7 d="M344 458l32-2"/>
<path class=a3 d="M368 457l21-1 9 0 2 0 7 0 2 1 11 0 12-1"/>
<path class=a0 d="M470 456l9 1 12-1"/>
<path class=a5 d="M344 455l0 1 37-1 10 0 16 0"/>
<path class=a4 d="M359 455l3 0 3-1 0 1 3-1 0 1 0 1 8-1 5 1 0 0 8-2 25 0"/>
<path class=a1 d="M407 455l0 0 2 0 7 0 0 1 2-1 4-1 10 2 22 0 2-1 0 0 31 0"/>
<path class=a3 d="M307 455l66 1 11-1 25 0 11 1 4-1"/>
<path class=a6 d="M344 456l3 0 3-2 3 1 6 0"/>
<path class=a7 d="M350 455l6 0 0 0 0 1 49-1"/>
<path class=a2 d="M393 455l12-1 0 1 4 0 2 0 0 0 0 0 7 0 2 1 4-2 13 2 2-1 2 0 12 1"/>
<path class=a4 d="M353 454l6 0 11-1 11 1 12 0 7 0"/>
<path class=a5 d="M344 453l9 1 0 0 3-1 14 0 3 1 11 0 2-1 14 1"/>
<path class=a6 d="M347 454l0 0 3-1 0 1 6-1 17 1 11 0"/>
<path class=a1 d="M414 453l0 1 8 0 2-1 4 0 2 1 12-1 22 0"/>
<path class=a3 d="M362 453l3 0 11 0 10 0 17 1 0 0 0 0 11-1 2 0 2 0 2 0"/>
<path class=a7 d="M356 453l6 0 6 0 0 1"/>
<path class=a2 d="M376 453l22 1 0 0 0 0 2 0 7-1 9 1 4 0 2-1 0 1 0 0 8-1 9 1 2 0"/>
<path class=a0 d="M456 455l6-1"/>
<path class=a2 d="M398 452l0 0 0 0 2 0 3 0 0 0 2 0 0 0 2 0 2 0 0 1 2-1 5 0 2 0 0 1 2-1 2 0 2 0 13 1 4 0"/>
<path class=a6 d="M344 452l3 0 0 0 3 0 26 0"/>
<path class=a1 d="M400 452l5 0 2 1 9-1 0 0 8 0 6 1 7-1 2 0 0 0 0 0 2 0 8 1 9-1 0 1 4-1"/>
<path class=a3 d="M400 452l9 1 2-1 0 0 3 0"/>
<path class=a4 d="M353 453l6-1 3 0 31 0 3 1 7-1 17 1"/>
<path class=a5 d="M344 453l3-1 3 0 3 1 12-1 13 1"/>
<path class=a1 d="M407 452l4-1 15 1 7-1 25 0 3-1 0 1 3 0"/>
<path class=a0 d="M444 452l12-1 2 0"/>
<path class=a3 d="M350 451l23 0 3 0 8 0 7 0 0 1 20-2 3 1 10 1 17 0"/>
<path class=a2 d="M400 450l3 0 2 0 2 1 0 0 2-1 0 0 2 0 3 1 2 0 2 0 0 0 2 0 2 0 10-1 7 1 2 0"/>
<path class=a4 d="M353 451l15 0 2 0 3-1 0 1 3 0 2 1 3 0 58-1"/>
<path class=a6 d="M353 451l0 0 6 0 3 0 24 0"/>
<path class=a5 d="M344 450l0 1 6-1 0 1 6 0 9-1 3 2"/>
<path class=a7 d="M368 451l2 1"/>
<path class=a1 d="M400 450l9 0 5-1 4 0 0 1 4-1 8 0 3 1 6 0 3 0"/>
<path class=a2 d="M398 450l2 0 3 0 0 0 2-1 0 1 2-1 0 1 4-1 0 0 3 0 2 0 4 0 4 1 2-1 4 0 0 1 5-1 7 0"/>
<path class=a3 d="M359 449l34 0 12 1 15-1 8 1"/>
<path class=a7 d="M344 449l0 1 3 0 9 0 12 0 2-1"/>
<path class=a6 d="M344 449l3 0 3 0 3 0 0 1 3 0 28-1"/>
<path class=a4 d="M368 449l28 0 2 1 0 0"/>
<path class=a5 d="M347 449l3 0 0 0 3 1 3-1 6 0 3 0 0 0"/>
<path class=a0 d="M456 448l2 0 0 1 6-1 6 1"/>
<path class=a4 d="M370 447l11 1 19 0"/>
<path class=a7 d="M344 448l3 0 9-1 3 0 11 1"/>
<path class=a2 d="M391 447l2 0 5 1 0 0 2 0 3 0 2 0 4 0 2 0 5 0 2-1 0 1 2-1 0 1 2-1 4 0 0 2 13-2 0 1 2 0 3 0"/>
<path class=a6 d="M356 448l0 0 9 0 8 0 30 0"/>
<path class=a3 d="M365 447l8 2 8 0 8-1 9 0 5 1 2-1 2 0 2 0 13 0"/>
<path class=a1 d="M414 448l8 1 2-1 6 0 5 0 4 0 0 1 2-1"/>
<path class=a5 d="M362 448l3-1 24 0 11 1"/>
<path class=a5 d="M344 446l3 1 6-1 6 1 3 0 3 0 8 0 8 0 3 0 23-1"/>
<path class=a2 d="M368 447l32-1 0 0 0 1 5 0 4 0 9 0 2-1 6 1 2 0 0 0 4 0 0 0 7 0"/>
<path class=a7 d="M344 447l3 0 15-1 6 0 30 0"/>
<path class=a6 d="M344 447l6 0 3-1 0 1 9-1 11 1 8 0"/>
<path class=a1 d="M420 446l6 1 2 0 4 0 7 0 2 0 33 0"/>
<path class=a0 d="M456 447l2-1 28 1 0 0"/>
<path class=a3 d="M370 447l3 0 3 0 0 0 8 0 19-1 4 1 2 0"/>
<path class=a4 d="M376 446l10 1 12-1 20 1 15 0"/>
<path class=a4 d="M378 446l20 0"/>
<path class=a2 d="M403 446l2 0 2-1 0 0 2 0 11 0 2 0 0 0 6 0 2-1 0 1 11 1"/>
<path class=a6 d="M347 446l9 0 0 0 0 0 14 0 3-1 5 1 0 0 15-1 0 1 10 0 4-1"/>
<path class=a7 d="M350 445l0 1 3-1 6-1 3 1 6 1"/>
<path class=a1 d="M428 445l4 0 7 0 0 0 5 0 0 1 14-1"/>
<path class=a0 d="M456 445l2 1"/>
<path class=a5 d="M323 445l27 0 0 0 0 1 3-1 6 0 3 0 27 1 22 0"/>
<path class=a3 d="M376 445l2 0 6 1 0 0 21-2 0 2 2 0 2 0 7-1 4-1"/>
<path class=a5 d="M344 444l15 0 3 0 3 0 5-1 6 1 0 0 10 0"/>
<path class=a6 d="M344 444l0 0 3 0 0 0 0 0 0 0 3 0 3-1 3 1 3-1 22 0"/>
<path class=a3 d="M398 444l2 0 0 0 3 0 0 0 0 0 2 0 0 0 6 0"/>
<path class=a1 d="M414 444l27 0 5 0 12 0 0 0 4-1"/>
<path class=a2 d="M398 444l0 0 2 0 9-1 0 1 0 0 2 0 0 0 0 0 3 0 0 0 8 0 0 0 2 0 15 0"/>
<path class=a7 d="M344 443l0 1 9 0 3 0 6 0 6 0"/>
<path class=a4 d="M350 444l31 0 5 0 25-1 11 1"/>
<path class=a4 d="M370 443l14-1 2 0 0 1 14-1 7 0 15 1 17 0"/>
<path class=a7 d="M344 442l12 1"/>
<path class=a1 d="M414 442l2 1 21 0 2 0 2-1 0 1 1 0 16 0 10-1"/>
<path class=a5 d="M350 443l6-1 3 1 9-1 0 0"/>
<path class=a2 d="M398 442l2 0 0 0 5 0 0 1 2-1 4 1 3-1 4 1 2 0 4 0 2 0 2-1 0 1 2 0 9-1 17 0"/>
<path class=a3 d="M391 443l2 0 3-1 2 0 0 0 5 0 0 0 2 1 9-1 6 1 0 0 4 0"/>
<path class=a6 d="M353 443l0 0 3 0 6 0 3-1 8 1"/>
<path class=a1 d="M416 442l6-1 2 0 0 1 9-1 2 0 0 0 6 0 3 0 17 0 9 1"/>
<path class=a0 d="M458 441l3 1 1 0"/>
<path class=a7 d="M311 441l33 1 34-1 29 1"/>
<path class=a2 d="M403 442l2-1 9 0 0 0 2 0 0 0 4 1 4 0 4-1 0 1 2-1 5 1 6-1 17 0"/>
<path class=a5 d="M344 442l9-1 3 0 17 0 3 0 0 0"/>
<path class=a4 d="M356 441l3 1 27-1 23 0"/>
<path class=a6 d="M344 441l3 0 6 0 0 1 3-1 3 1 0 0 3-1 0 0 6 0 0 1 5 0 66-1"/>
<path class=a3 d="M370 442l8-1 33 0 0 1 3-1 6 1"/>
<path class=a5 d="M344 439l18 1 6-1 10 1"/>
<path class=a1 d="M420 440l6 0 15 0"/>
<path class=a2 d="M398 440l0 0 2 0 3 0 4 0 0 0 2 0 2 0 3 0 2-1 2 0 0 1 4-1 0 1 6-1 11 1 0 0 2-1 3 1 15 0"/>
<path class=a6 d="M347 440l0 0 3-1 3 0 6 0 6 0 3 0 2 1 6 0"/>
<path class=a4 d="M365 439l24 1 0 0 4-1 7 1 3 0 2 0 13-1"/>
<path class=a3 d="M381 440l17 0 2 0 3 0 2 0 2 0 2 0 7 0 2 0 12-1"/>
<path class=a0 d="M456 440l2-1 22 1 4 0"/>
<path class=a7 d="M350 440l28-1"/>
<path class=a5 d="M347 438l0 0 3 0 6 1 6-1 6 0 2 0 14 1 30 0 6-1"/>
<path class=a6 d="M344 438l0 1 3 0 9 0 6-1 0 0 11 1 5-1"/>
<path class=a2 d="M398 438l0 0 2 0 0 1 7-1 4 0 0 1 5-1 4 1 6 0 7 0 6-1 0 0 2 0 1 0 0 1"/>
<path class=a7 d="M353 439l3-1"/>
<path class=a3 d="M373 439l23 0 4-1 3 0 0 0 2 0 0 1 2-1 0 0 2 1 0 0 2-1"/>
<path class=a4 d="M373 438l25 0 7 1 21-1"/>
<path class=a1 d="M403 438l19 0 17 0 17 1 2-1 4 1 5 0"/>
<path class=a4 d="M365 438l16 0 3 0 7-2 2 2 18-1 22 0"/>
<path class=a6 d="M344 437l0 0 6 0 3 1 6 0 37-1"/>
<path class=a7 d="M347 438l3-1 6 0 3 0 6 0 3 0 0 1 10 0 3-1 5 1"/>
<path class=a3 d="M409 437l0 0 2 0 3 0 0 1 4-1 15 0"/>
<path class=a1 d="M422 437l8 0 5 0 7 0 0 0 2 1 14-1 0 1 3-1 3 0 1 0 2 0"/>
<path class=a2 d="M405 437l0 0 6 0 3 0 2 0 2 0 2-1 2 1 2 0 0 0 0 0 6 1 9-1 3 0"/>
<path class=a5 d="M353 437l9 0 14 0"/>
<path class=a0 d="M456 437l66 2"/>
<path class=a2 d="M398 436l0 0 7 0 2 0 2-1 5 0 0 1 0 0 2-1 4 1 0 0 10-1 0 1 2 0 0 0 9 0"/>
<path class=a6 d="M344 435l3 0 3 0 9 1 6 0 3 0"/>
<path class=a1 d="M409 435l17 1 13-1 0 1 2 0 0 0"/>
<path class=a5 d="M347 435l6 1 3-1 14 1 3-1 25 1"/>
<path class=a4 d="M356 436l0 0 9 0 3-1 8 0 31 1 21 0"/>
<path class=a3 d="M373 435l16 1 2 0 9 0 0 0 3 0 0 0 0 0 4 0 2 0 9 0 4-1 0 1 17 0"/>
<path class=a7 d="M344 436l9 0 47 0"/>
<path class=a0 d="M462 435l25 1"/>
<path class=a3 d="M391 434l7 0 2 0 0 0 5 0 0 0 2 0 0 0 2 0 2 0 9 0 13 1"/>
<path class=a2 d="M398 434l0 0 5 0 0 0 2 0 2 0 4 0 5 1 2 0 0 0 2 0 2-1 0 1 6-1 0 1 0 0 11 0 2 0 15 0"/>
<path class=a7 d="M344 435l6-1 0 0"/>
<path class=a1 d="M424 434l4 0 11 0 2 1 0 0 15-1 2 0 4 0"/>
<path class=a6 d="M344 434l3 1 12 0 14-1"/>
<path class=a4 d="M403 434l8 1 5-1"/>
<path class=a5 d="M344 434l12 0 0 1 3-1 0 0 3 0 3 1 3 0 10 0 22-1 20 1"/>
<path class=a3 d="M391 432l14 0 0 1 0 0 2-1 2 1 5-1 4 1 8 0 2 0 2 0"/>
<path class=a1 d="M428 433l4 0 3 0 2 0 4-1 0 1 12 0 6 0 3 0 3 0 5 1"/>
<path class=a6 d="M347 433l0 0 6-1 0 1 20 0 3 0"/>
<path class=a0 d="M461 433l45 1"/>
<path class=a2 d="M350 434l50-2 7 0 4 0 0 1 7 0 2 0 0 0 2 0 2-1 0 1 2 0 0 0 7-1 2 0"/>
<path class=a4 d="M386 433l28-1 4 0"/>
<path class=a5 d="M362 433l8 0 0 0 0 0 6-1 2 1 36 1 6-1"/>
<path class=a7 d="M347 433l9 0 6 0 3 1"/>
<path class=a4 d="M376 432l22 0 2 0 3 0 8-1 11 1 17-1 0 1 0 0"/>
<path class=a3 d="M386 432l3 0 9 0 2 0 3 0 4 0 2 0 2-1 0 1 3-1 2 1 2 0 6 0 11 0"/>
<path class=a5 d="M356 432l17 0 0 0 11 0 14 0"/>
<path class=a1 d="M422 432l4 0 15 0 17 0 0 0 3 0 10 0"/>
<path class=a2 d="M403 432l6 0 0 0 0 0 13-1 2 1 0 0 8 0 5 0 2 0 3 0 0 0 0 0 16 0"/>
<path class=a6 d="M344 432l0 0 6 0 3-1 0 1 3 0 35-1"/>
<path class=a7 d="M350 431l0 0"/>
<path class=a0 d="M461 431l9 0"/>
<path class=a1 d="M424 430l0 1 15 0 19-1 0 1 7-1"/>
<path class=a7 d="M344 431l9-1 6 0 11 0 71 0"/>
<path class=a6 d="M344 430l9 0 6 0 0 1"/>
<path class=a4 d="M373 430l8 1 17-1 2 0 0 0 7 0 13 0 15-1 4 1"/>
<path class=a3 d="M398 430l5 1 0 0 2-1 0 0 2 0 0 0 2-1 0 1 21 0"/>
<path class=a0 d="M456 431l15-1 15-1"/>
<path class=a2 d="M400 430l3 1 2-1 9-1 0 1 6 0 0 0 0 1 2 0 0 0 6-1 2 1 2-1 0 1 9 0 12-1"/>
<path class=a5 d="M347 431l9 0 6 0 8-1 0 0 8 0 20 0"/>
<path class=a2 d="M407 429l2 0 2 0 5 0 0 0 2 0 0 0 2-1 0 1 2-1 6 0 2 1 0 0 3 0 6 0 3-1 0 1"/>
<path class=a6 d="M347 429l0 0 6 0 0 0 3-1 0 1 3 0 0 0 6 0 8 0 13-1 23 1"/>
<path class=a7 d="M344 429l12 0 6 0 8 0"/>
<path class=a3 d="M389 428l11 1 5-1 9 1 8 0 2 0"/>
<path class=a4 d="M381 428l3 1 2-1 17 0 0 1"/>
<path class=a1 d="M424 429l13 0 2-1 0 1 2 0 0 0 3 0 12-1 2 0"/>
<path class=a5 d="M350 428l0 1 15 0 11 0 27 0 4 0"/>
<path class=a4 d="M376 428l5-1 10 1 7 0 13 0 30-1"/>
<path class=a1 d="M428 427l13 0 1 1 14-1 0 0 0 0 2 1 1-1 0 1 2 0 6 0 3 0"/>
<path class=a6 d="M347 427l9 0 3 0 6 1 3-1 5 0 0 1"/>
<path class=a5 d="M347 427l0 1 3-1 15 0 26 1 9 0 18-1 14 0"/>
<path class=a3 d="M389 427l9 1 0 0 2 0 5 0 6 0 3-1 2 0 0 1 4 0 6-1 6 0 1 1 0 0 6-1"/>
<path class=a2 d="M405 428l2 0 2-1 2 0 5 1 6-1 22 1 7 0"/>
<path class=a7 d="M344 427l3 0 12 0 30 0"/>
<path class=a1 d="M420 426l19 0 2 0 1 0 12 0 5 0 14 1"/>
<path class=a2 d="M407 426l4 0 9 0 2 1 11-1 2 1 4 0 2-1 18 1 3-1"/>
<path class=a7 d="M344 426l9 0 12 0 8 0 18 0"/>
<path class=a5 d="M350 426l3 0 17 0 0 0 11 0 10 0 12 0"/>
<path class=a0 d="M471 427l5 2 10-3 0 1"/>
<path class=a3 d="M398 426l0 0 2 0 3 0 2 0 0 0 2 0 2 0 0 1 2-1 15 0 4 1 2-1"/>
<path class=a4 d="M398 426l2 0 0 0 3 0 2 0 2 0 4 0 11 0 4 0"/>
<path class=a6 d="M344 427l3-1 0 0 12 0 6 0 3 0"/>
<path class=a2 d="M403 424l2 0 9 1 6-1 2 0 2 0 0 1 0 0 2 0 2 0 2 1 2-1 0 1 1-1 6-1 0 1 5 0"/>
<path class=a4 d="M400 424l18 1 4 0 10 0"/>
<path class=a1 d="M418 425l33 0"/>
<path class=a7 d="M353 425l9 0 8 0 3 0 11-1 21 1"/>
<path class=a6 d="M344 425l3 0 3 0 6 0 0 1 30-1"/>
<path class=a3 d="M378 425l15 0 0 0 7 0 3-1 2 0 2 1 2 0 0 0 2 0 3-1 0 1 4 0"/>
<path class=a5 d="M356 424l3 1 3 0 3 0 5 0 0 0 3 0 8 0 3 0 25-1 2 1"/>
<path class=a0 d="M461 423l25 0 1 0 0 0 0 2"/>
<path class=a2 d="M420 423l0 1 4-1 0 1 4 0 9 0 25 0"/>
<path class=a6 d="M344 423l3 1 0 0 15 0 3-1 0 0 5 0 3 1 0 0 8 0"/>
<path class=a5 d="M359 424l3 0 14 0 29-1 13 0"/>
<path class=a4 d="M362 423l43 0 15 1 8-1 0 0"/>
<path class=a3 d="M353 423l36 1 9 0 0 0 0 0 2 0 3 0 4 0 0 0 13-1 2 1 4-1 15 1 1 0"/>
<path class=a1 d="M426 424l13 0 2-1 0 1 0 0 1-1 2 1 2-1 10 1 2 0 0 0 6 0 3-1 3 1"/>
<path class=a3 d="M398 422l0 0 0 0 2 0 3 0 2 0 2 1 0 0 2-1 0 0 2 1 11 0 13 0"/>
<path class=a7 d="M344 424l12-2 6 0 6 1 10 0"/>
<path class=a6 d="M356 422l0 1 3 0 25-1"/>
<path class=a1 d="M430 422l3 0 6 0 3 0 2 0 14 0 0 0 0 1 1-1 0 0 0 0 0 0 0 1 11-1"/>
<path class=a4 d="M391 423l9-1 0 0 3 0 0 0 4 0 4 1 0 0 30 0 7-1"/>
<path class=a5 d="M350 422l0 1 12-1 3 0 19 1"/>
<path class=a2 d="M409 422l7 1 4-1 2 1 8-1 0 0 3 0 4 0 2 0 0 0"/>
<path class=a1 d="M435 421l4 0 0 0 3 0 4 0 8 0 4 0 3 1 3-1 0 0 4 0 3 0 2 0 1 1"/>
<path class=a3 d="M384 421l27 0 3 0 2 1 6-1 8 0"/>
<path class=a0 d="M487 421l9 0"/>
<path class=a4 d="M381 421l10 0 16 0 7 0 2 0 0 0 2 1 23-1 0 0"/>
<path class=a7 d="M353 422l17-1 0 0"/>
<path class=a2 d="M407 421l2 0 5 0 8 0 0 1 2-1 0 1 2-1 4 0 7 1 21-1"/>
<path class=a6 d="M344 421l0 0 3 0 6 0 3 0 3 0 11 0"/>
<path class=a5 d="M344 421l6 0 3 0 6 0 0 1 22 0 5-1 10 0"/>
<path class=a3 d="M373 420l23-1 2 1 0 0 2 0 0 0 3 0 2 0 0 0 4 0 0 0 2-1 0 0 17 1 5-1 8 1"/>
<path class=a2 d="M403 420l6-1 2 0 3 0 10 1 4-1 0 1 5 0 9 0 19 0 4 0 3 0 0 0 24 0"/>
<path class=a6 d="M353 419l3 1 6-1 11 1 3 0"/>
<path class=a5 d="M368 420l2-1 0 0 8 1 22 0 5 0"/>
<path class=a4 d="M373 420l18 0 7 0 5 0 19-1 4 1 0 0"/>
<path class=a1 d="M435 419l2 0 2 1 3 0 14 0 3-1 0 1 8 0 19-1"/>
<path class=a0 d="M459 419l8 0 3 1"/>
<path class=a5 d="M347 419l0 0 42-1"/>
<path class=a7 d="M344 418l26 0"/>
<path class=a1 d="M439 418l0 0 3 0 0 1 14 0 2 0 4-1 0 1 2 0"/>
<path class=a2 d="M405 418l2 1 7-1 0 1 2-1 2 0 8 0 0 0 7 1 4-1 4 0 0 1 13-1 4 1 1-1 15 0"/>
<path class=a6 d="M347 418l3 0 0 0 3 1 0 0 6 0 3 0 3-1 0 1"/>
<path class=a4 d="M386 419l12-1 7 1 4 0 9 0 4 0 4 0"/>
<path class=a3 d="M398 418l2 0 0 0 0 0 3 0 0 0 0 0 4 0 0 0 9 1 0 0 4-1 15 0 6 0"/>
<path class=a7 d="M356 417l12 0 10 0 6 0 5 1"/>
<path class=a4 d="M381 417l24 0 0 0 6 0 9 0 2 1"/>
<path class=a2 d="M405 417l2 0 2 0 9 1 6 0 2 0 2-1 2 0 0 1 2 0 0 0 12-1 5 1 21-1"/>
<path class=a6 d="M347 417l0 0 3 1 6-1 0 1 12-1 2 0 3 0 5 0 36 0"/>
<path class=a1 d="M439 418l5-1 0 0 15 0 0 1"/>
<path class=a3 d="M398 418l7 0 4-1 7 0 0 0 4 0 4 0 0 1 2 0 2-1 7 0 7 1"/>
<path class=a5 d="M370 417l6 0 2 0 44 0 11 1"/>
<path class=a0 d="M474 417l12 0 1 0"/>
<path class=a2 d="M409 416l0 0 5 0 6 0 6-1 0 1 2-1 2 1 3-1 0 1 6 0 12 0"/>
<path class=a0 d="M467 416l19-1 6 0"/>
<path class=a1 d="M439 416l5 0 12 0 0 0 2 0 1 0 3 0 2 0 6 0"/>
<path class=a5 d="M350 415l9 2 6-2 21 0 3 1 14 0 13 0"/>
<path class=a6 d="M344 416l3 0 9-1 9 1 11 0 0 0 27 0"/>
<path class=a4 d="M398 416l0 0 2 0 0 0"/>
<path class=a3 d="M350 416l36 0 12 0 5 0 2 0 2 0 0 0 2-1 0 1 5 0 16-1 7 1 2 0"/>
<path class=a7 d="M347 416l3 0 6-1 22 1 22 0"/>
<path class=a7 d="M347 414l0 0 42 1 14-1"/>
<path class=a3 d="M398 414l5 0 0 1 2-1 2 1 4 0 5-1 0 1 0 0 4-1 6 1 20 0 5 0"/>
<path class=a5 d="M359 415l3 0 6 0 23-1"/>
<path class=a6 d="M344 414l9 1 3 0 14 0 21-1 2 1 42 0"/>
<path class=a2 d="M407 415l7-1 6 0 2 1 2 0 0 0 4-1 0 0 11 0 2 1 1-1 23 1"/>
<path class=a1 d="M439 414l0 1 2-1 0 0 17 1 1 0 0 0 2 0 19 0"/>
<path class=a0 d="M477 414l0 1 9-1 0 1 9-1"/>
<path class=a4 d="M396 415l11 0 4 0 3 0 0 0 10 0"/>
<path class=a0 d="M468 414l18-1"/>
<path class=a4 d="M400 413l0 1 14 0 8-1 4 0 9 0 30 0"/>
<path class=a6 d="M353 413l3 0 0 1 3-1 3 1 3 0 5-1 14 0"/>
<path class=a3 d="M398 414l2 0 5-1 2 0 2 0 5 0 4-1 0 1 4 0 8 0"/>
<path class=a5 d="M368 414l2-1 19 1 9 0 13-1 9 1"/>
<path class=a7 d="M356 413l6 0 54 1"/>
<path class=a1 d="M441 412l15 2 2-2 1 1 0 0 0 1 2-2 4 1 2 1 1-1 8-1"/>
<path class=a2 d="M400 414l3-1 4 0 2 0 13 0 2 0 0 0 2 1 2-1 2 0 12 0 16 1 15 0"/>
<path class=a3 d="M400 412l3 0 0 0 2 0 4 0 2 0 7 0 2-1 0 1 0 0 6 0 13 0 0 0"/>
<path class=a6 d="M344 412l3-1 3 0 6 1 3 0 3 0 14-1 0 0 29 1"/>
<path class=a5 d="M386 412l3 0 2 0 7 0 13 0"/>
<path class=a1 d="M441 412l0 0 1 0 14 0 8 0 1 0 14 0 4 0"/>
<path class=a0 d="M467 411l20 1"/>
<path class=a4 d="M398 412l0 0 2 0 5-1 2 1 19-1 2 1 13 0"/>
<path class=a2 d="M414 412l4 0 2 0 6 0 6 0 5 0 2 0 2 0 1-1 0 1 16 0 12 0 3 0 1 0"/>
<path class=a6 d="M344 410l9 0 3 1 3 0 11 0 11-1"/>
<path class=a3 d="M398 410l2 0 0 0 0 0 5 1 2-1 2 0 2 0 3 1 6-1 0 1 2-1 0 0 13 0"/>
<path class=a1 d="M439 410l0 1 17-1 2 0 1 1 0 0 2-1 0 1 6 0 4 0 8 0"/>
<path class=a5 d="M359 411l3-1 3 0 13 1 31-1"/>
<path class=a2 d="M403 410l0 1 6-1 13 1 2 0 4-1 0 1 4-1 1 1 0 0 6-1 7 0 12 0 1 1 2 0"/>
<path class=a4 d="M405 411l6 0 3-1 0 1"/>
<path class=a7 d="M350 411l3 1 15-2 2 1 33-1"/>
<path class=a5 d="M393 410l3-1"/>
<path class=a3 d="M398 410l2-2 3 1 2 0 0 0 2 1 2-1 2 1 3-1 2 1 2 0 2-1 2 1 10-1 9 0"/>
<path class=a0 d="M483 410l5-1 25 0"/>
<path class=a4 d="M398 410l2-2 3 1 15 0 0 0 4 1 4-1 4 0 12 0"/>
<path class=a2 d="M407 410l11 0 6-1 13 1 4-1 1 0 6 0 14 1"/>
<path class=a7 d="M350 409l18 0 43 1"/>
<path class=a6 d="M353 409l6 0 6 1 5-1 8 1 11-1"/>
<path class=a1 d="M430 409l11 0 1 0 2 1 15-1 0 0 2 0 1 0 3 0 0 0 2 1 1-2 0 2 3-1 15 1"/>
<path class=a3 d="M398 408l5 0 6 0 0 0 5 0 0 0 6 0 0 0 0 0 2 0 2 0 4 0 5-1 6 1"/>
<path class=a5 d="M353 408l20 0 3 0 24 0 14-1 21 1"/>
<path class=a2 d="M405 408l2 0 0 0 15 0 6 0 0 0 2 0 9 0 5 0 37-1"/>
<path class=a6 d="M347 408l6 0 15 0 5 0 3 0 22 0 13 0"/>
<path class=a7 d="M370 408l11-1"/>
<path class=a4 d="M398 408l9 0 15-1 4 1 13 0"/>
<path class=a1 d="M442 407l6 1 8 0 2 0 1 0 0 0 2-1 0 1 1 0 2 0 1 0 3 0 2 0 1 0 3-1"/>
<path class=a7 d="M344 407l3-1 77 1"/>
<path class=a0 d="M456 406l2 2 29-2"/>
<path class=a3 d="M384 406l14 0 2 0 0 0 3 0 2 0 0 1 2 0 0 0 7-1 4 0 0 1 2 0 4-1 2 1 13 0 2-1 0 0"/>
<path class=a4 d="M398 406l5 1 2-1 11 0 12 1"/>
<path class=a1 d="M428 407l11 0 19-1 0 1 1 0 2-1 3 1 1-1 0 1 6 0 2-1 1 1"/>
<path class=a5 d="M350 407l50 0 3-1 6 1 0 0"/>
<path class=a6 d="M347 406l15 1 36-1"/>
<path class=a2 d="M407 407l7 0 2 0 2 0 2 0 6 0 0 0 4-1 5 1 4 0 2-1 10 1"/>
<path class=a4 d="M403 405l2-1 0 1 4 0 2 1 13-1"/>
<path class=a3 d="M400 405l3 0 2 0 2 0 0 0 7 1 6-1 6 0 4 0 0 0 5 0 0 0"/>
<path class=a7 d="M347 405l0 1 6-1 23 1 56-2"/>
<path class=a2 d="M403 404l6 0 7 0 4 1 0 0 2 0 0 1 8-1 3 1 8-1 0 0 0 0 1 0 6 0 1 0 10 0 9 1 2-2"/>
<path class=a1 d="M442 404l0 1 19 0 6 0 10-1"/>
<path class=a6 d="M347 406l6-1 3 1 20 0 5-1 5 0 0 0 23 1"/>
<path class=a5 d="M365 405l3-1 2 2 30-2 26 1"/>
<path class=a3 d="M398 404l9-1 4 0 9 1 19 0"/>
<path class=a0 d="M467 403l59 3"/>
<path class=a6 d="M384 403l23 1 17-1"/>
<path class=a2 d="M398 404l22-1 4 0 0 0 6 0 11 0 1 1 2-1 12 1 3 0 0 0 2-1 7-1 5 2"/>
<path class=a5 d="M344 404l9-1 20 0 20 1 21 0"/>
<path class=a4 d="M398 403l2 1 3-1 4 0 2 0 0 0 0 1 2-1 0 1 0 0 11 0 6-2"/>
<path class=a1 d="M439 404l0 0 3-1 6 0 6 0 0 0 4 1 0 0 1 0 2-1 6 1 1-1 2 0 1 1 9-1 6 1"/>
<path class=a7 d="M356 403l22 1 20 0 11-1"/>
<path class=a7 d="M356 402l6-1 38 1"/>
<path class=a3 d="M400 402l7 0 2-1 5 1 2 0 4 0 2 0 2-1 4 1 5-1 6 1 3 0 2-1"/>
<path class=a6 d="M365 402l38 0 19-1"/>
<path class=a0 d="M491 402l8-1"/>
<path class=a4 d="M398 402l0 0 2 0 3 0 2 0 0 0 0 0 6 0 5 0 4 0 2 0 6 0 11 0"/>
<path class=a1 d="M439 402l2 0 0 0 5-1 10 1 2 0 1 0 0 0 2 0 0 0 3 0 3 0 3-1 6 1 12-1"/>
<path class=a5 d="M370 402l41 0"/>
<path class=a2 d="M420 401l0 1 2 0 11 0 9 0 16 0 3 0 9 0 3 0"/>
<path class=a3 d="M396 400l2 0 7 0 2 0 0 0 15 0 6 0 13 0 1 0 2 1"/>
<path class=a1 d="M439 400l2 1 1 0 6 0 8-1 3 1 0 0 5-1 3 0 1 0 3 0 2 0 8 0"/>
<path class=a0 d="M486 400l22 0"/>
<path class=a4 d="M400 400l3 0 0 1 2-1 2 0 0 0 4 0 5 1 2 0 4-1"/>
<path class=a2 d="M400 400l11 0 22 0 6 0 0 0 2 0 15 0 2 0 1 0 2 0"/>
<path class=a6 d="M362 400l16 0 59 1"/>
<path class=a7 d="M353 400l3 0 14 0 6 0 0 1 22 0"/>
<path class=a5 d="M398 400l2 0 3 0 2 0 2 0 11 0"/>
<path class=a3 d="M400 399l3 0 2 0 0 0 2-1 2 1 2 0 3 0 2 0 2 0 0 0 2-1 0 1 0 0 4 0 15-1 26 1"/>
<path class=a6 d="M353 399l17 0 3 0 8 0 8 0 20 0"/>
<path class=a7 d="M376 399l68 0"/>
<path class=a5 d="M359 399l30 0 11 0 5-1 4 1"/>
<path class=a0 d="M464 399l12 0 10-1 0 1"/>
<path class=a2 d="M403 399l13-1 6 1 2 0 6 0 7 0 0 0 5 0 19 0"/>
<path class=a1 d="M439 398l2 0 0 0 15 0 3 1 0 0 0 0 2-1 0 1 1 0 0 0 3 0 8 0 1 0 9 0"/>
<path class=a4 d="M400 399l24 0"/>
<path class=a4 d="M344 398l65-1 2 0 0 0 11 0 15 1"/>
<path class=a0 d="M473 398l20-1 9 0 20 0"/>
<path class=a3 d="M398 398l0 0 5-1 0 1 2-1 2 0 0 1 7 0 0 0 2 0 2-1 0 1 4-1 2 1 4 0 2-1 2 0 3 0 7 0 0 1"/>
<path class=a6 d="M359 398l25 0 23-1"/>
<path class=a7 d="M353 397l0 0 12 1"/>
<path class=a2 d="M411 398l13 0 9-1 8 0 8 0 18 1"/>
<path class=a1 d="M439 398l2 0 3-1 14 1 0 0 1-1 0 0 2 0 0 0 0 0 1 0 2 0 1 0 2 1 1 0 2 0 3 0"/>
<path class=a6 d="M350 396l3 0 33-1 7 1"/>
<path class=a4 d="M398 396l5 1 2-1 4-1 0 1"/>
<path class=a1 d="M448 396l11-1 0 0 0 1 3 0 3 0 9 0 2 0 3 0 8 0"/>
<path class=a7 d="M347 396l18-1 21 1 12 0"/>
<path class=a5 d="M391 395l7 3 5-3 2 0 0 1 6 0 3 0"/>
<path class=a3 d="M398 396l2 0 0 0 0 0 7 0 7-1 0 1 0 0 6 0 0 0 0 0 2 0 0 0 2 0 4-1 9 1 2 0 0 0"/>
<path class=a2 d="M403 396l34-1 0 1 2 0 2 0 0 0 1 0 4 0 10 0 0 0 2 0 9 0 4 0"/>
<path class=a1 d="M422 395l19-1 3 1 14-1 0 0 1 0 2 0 0 0 1 1 2 0 1-1 0 0 0 1 3 0 2 0 7-1 6 1"/>
<path class=a7 d="M359 394l6 0"/>
<path class=a5 d="M398 394l9 0"/>
<path class=a3 d="M400 394l0 0 3 1 2 0 2 0 4-1 0 1 7 0 0 0 4 0 2-1 2 0 4 0 9 0 0 0 3 1 22 0"/>
<path class=a2 d="M416 395l4-1 4 0 0 1 2-1 13 0 2 0 0 0 1 1 0 0 2 0 2 0 15 0 7 0"/>
<path class=a4 d="M398 394l2 0 3 0 2 0 4 0 2 0 5 0"/>
<path class=a4 d="M347 393l56 0 2 0 2 0 4 0"/>
<path class=a6 d="M368 394l13-1 3 1 0 0 2-1 12 1 2-2"/>
<path class=a2 d="M400 393l11 0 9 0 6 0 0 0 2 1 20-1 0 0 1 1 12 0"/>
<path class=a7 d="M347 393l9 1 9 0 13 0"/>
<path class=a3 d="M403 393l2 1 2-1 2 0 5 0 4 1 4-1 2 1 6-1 0 1 40-1"/>
<path class=a5 d="M391 393l12 1 4-1 2 0 5 1 10-1"/>
<path class=a0 d="M486 393l2 0 2 0 3 0"/>
<path class=a1 d="M433 393l25 1 1-1 0 0 2 1 0 0 1-1 3-1 0 2 2-1 0 0 6 0 7 0 12 0"/>
<path class=a4 d="M405 392l6-1 9 0 2 0 2 1"/>
<path class=a5 d="M398 392l2 0 5-1 17 0 8 1"/>
<path class=a6 d="M359 392l39 0 13 0"/>
<path class=a7 d="M359 391l6 1"/>
<path class=a2 d="M422 392l15-1 2 1 2 0 0 0 1-1 0 1 2 0 12 0 2 0 0 0 1 0 3-1 0 1 12-1"/>
<path class=a3 d="M398 392l7-1 2 0 2 0 2 0 3 0 0 0 10 0 4 1 4 0 7 0 2-1 18 0"/>
<path class=a1 d="M439 392l2-1 0 0 0 1 1-1 7 1 12-1 1 1 5 0 1 0 0 0 9-1 0 1 4-1 0 1 0 0"/>
<path class=a5 d="M373 390l11 0 0 1 9-1 5 0 0 0 0 0 2 0 3 0 6 0 5-1"/>
<path class=a2 d="M420 390l2 0 8 0 12 1 7 0 9-1 4 1"/>
<path class=a4 d="M403 390l0 0 4 0 4 0 3 0 0 0 42 0"/>
<path class=a7 d="M353 390l3 0 17 1"/>
<path class=a1 d="M439 390l0 0 0 1 5-1 0 0 5 0 10 0 0 1 2-1 1 0 3 0 12 1 2-1"/>
<path class=a6 d="M362 391l3-1 51 0 8 0"/>
<path class=a0 d="M486 392l1-1"/>
<path class=a3 d="M400 390l0 1 5-1 2 0 2 0 11 0 2 0 6 0 0 0 5 0 0 0 0 1 11-1 12 0"/>
<path class=a5 d="M398 388l5 1 4 0 7 0 12-1 28 1"/>
<path class=a2 d="M420 389l4-1 8 0 5 1 4 0 1 0 0 0 0 0 9 0 5-1 3 1 6 0 3 0 6 0"/>
<path class=a6 d="M370 389l14 0 2 0 7 0 12 0 0 0 11 0"/>
<path class=a1 d="M441 388l5 1 10-1 3 0 2 0 1 0 0 0 0 1 9 0 2-1 1 0 0 1 5 0 11 0"/>
<path class=a4 d="M400 389l0 0 3 0 2 0 4 0 21 0"/>
<path class=a3 d="M400 389l7 0 2 0 2 0 7 0 2 0 2 0 4-1 0 1 15-1 20 1"/>
<path class=a2 d="M407 387l4 1 11 0 10-1 0 1 3-1 6 0 1 0 16 1 1 0 2-1 0 1 4 0 2-1 1 0 5 0"/>
<path class=a7 d="M347 387l26 0 3 2 10-2 17 1 4-1 9 0"/>
<path class=a5 d="M368 388l5-1 34 0 0 1 7-1 23 1"/>
<path class=a6 d="M359 387l0 0 11 1 11-1 17 1"/>
<path class=a3 d="M403 387l21 0 2 0 6 1 7 0 26-1"/>
<path class=a1 d="M442 388l4-1 3 1 12 0 4-1 5 0 1 1 0 0 6 0 7-1 4 1"/>
<path class=a4 d="M398 388l18-1 4 0 0 0 2 0 2 0 2 0 2 1 11 0 0 0"/>
<path class=a5 d="M403 387l6 0 5-1"/>
<path class=a2 d="M414 386l12 0 2 1 5-1 6 0 3 1 17 0 2-1 4 0 5 1"/>
<path class=a7 d="M353 387l31-1 16 0 22 0"/>
<path class=a6 d="M381 386l17 0 5 0 0 0 13 0 23 0"/>
<path class=a3 d="M398 386l0 0 2 0 0 1 5-1 2 0 4 1 0 0 9-1 2 1 2-1 4 0 7 0 6 0 0 1 3 0 2-1"/>
<path class=a4 d="M405 386l0 0 0 1 6 0 9 0 2-1"/>
<path class=a0 d="M480 388l6-2 5 0"/>
<path class=a1 d="M439 386l9 0 8 0 2 0 0 0 1 0 0 1 5-1 0 0 0 0 3 0 4 0"/>
<path class=a1 d="M441 384l1 1 4 0 7 0 1-1 2 0 0 0 3 1 2-1 0 1 1-1 5 1 4-1 3 0 5 1 7 0"/>
<path class=a2 d="M420 384l4 1 4 1 9-1 2-1 2 0 1 0 4 1 13-1 8 0 1 1 2 0 1 0"/>
<path class=a4 d="M400 384l7 1 2 0 15 1 4-1 2 0 5 0"/>
<path class=a5 d="M391 385l7-1 0 1 2-1 3 0 0 1 11-1 30 1"/>
<path class=a6 d="M405 385l9-1"/>
<path class=a3 d="M407 385l2-1 0 1 2 0 5-1 2 0 4 1 13 0"/>
<path class=a7 d="M356 384l6 1 3 0 26-1 7 1"/>
<path class=a6 d="M353 384l9 0 27-1"/>
<path class=a4 d="M398 383l13 1 5-1 2 1 4-1 11 1 4 0"/>
<path class=a2 d="M400 384l28 0 11 0 0 0 2 0 1-1 4 0 18 0 6 0 3 0 6 0"/>
<path class=a0 d="M459 384l27-1 1 1 1 0 34 0 2 0"/>
<path class=a5 d="M362 383l41 0 2 0 4 0 2 0"/>
<path class=a1 d="M448 383l10 1 3-1 0 0 0 1 0 0 1 0 2-1 0 1 3-1 0 0 3 0 3 1 3-1 0 0 5 1 5-1 1 0"/>
<path class=a3 d="M398 383l9 1 0 0 4-1 0 1 3-1 0 0 6 0 8 0 14 1 26 0"/>
<path class=a6 d="M370 382l30-1 0 1 3 0 4 0 9-1"/>
<path class=a3 d="M405 382l2 0 2 1 5-1 14 0 5 0 2 0 4 0 2 0 5 0"/>
<path class=a7 d="M365 382l35 0 59 0"/>
<path class=a4 d="M398 382l2 0 0 0 3-1 2 0 0 1 15 0 2 0 2-1 0 2"/>
<path class=a2 d="M424 382l15 0 2 0 0 0 1 1 2-1 2-1 24 1 7 0"/>
<path class=a1 d="M439 382l3 0 14 0 0 0 2 0 1 0 0 0 5 0 1 1 3 0 3-1 9 0 10 0"/>
<path class=a0 d="M483 383l3-1 0 0"/>
<path class=a5 d="M403 382l6-1 0 1 0 0 7 0 6 0"/>
<path class=a3 d="M405 380l23 0 11 0 0 0 0 0 2 0 7 1"/>
<path class=a5 d="M398 380l0 0 2 0 3 1 8 0 3 0 6-1"/>
<path class=a4 d="M386 381l17 0 2-1 9 1 0 0 2 0 2 0 2-1 8 0 4 0 14 1 5-1"/>
<path class=a2 d="M442 380l0 1 4 0 12-1 0 0 1 0 14 0 4 1 4-1"/>
<path class=a1 d="M441 380l0 0 1 1 16-1 1 1 0 0 2-1 0 0 0 0 1 0 2 0 0 1 1 0 0 0 2 0 1-1 2 0 7 0 22 0"/>
<path class=a6 d="M373 381l25-1 20 0 8 1"/>
<path class=a5 d="M398 379l0 0 2 0 3 0 4-1 25 1"/>
<path class=a0 d="M488 379l28 0 7 1"/>
<path class=a7 d="M400 379l5 1 6 1"/>
<path class=a1 d="M441 379l3 0 15 0 2 0 1 0 3 0 0 0 2 1 1-1 2 0 4 0 10 0 0 0 6 1 9-1"/>
<path class=a6 d="M396 379l4 0 20-1"/>
<path class=a2 d="M426 380l15-1 1-1 17 1 17 0"/>
<path class=a4 d="M405 379l6-1 9 0 21 1 7 0 1 0"/>
<path class=a3 d="M398 379l5-1 0 1 2 0 2-1 0 0 2 1 5 1 6-1 2 0 0 0 2 0 2 0 0 0 2 1 2-2 3 1 15 1 11-1 3 0 12 0"/>
<path class=a1 d="M442 377l16 1 0 0 0 0 1-1 0 0 0 0 2 0 0 1 0 0 4-1 0 0 2 0 0 0 3 1 1-1 2 1 4 0 4-1 5 0 5 0"/>
<path class=a3 d="M409 378l0 0 7 0 6-1 2 1 0 0 11 0 4 0 0 0 0 0 10-1 12 0"/>
<path class=a5 d="M403 377l4 0 2 0"/>
<path class=a7 d="M350 378l9-1 39 0 0 0 5 0 11 0"/>
<path class=a4 d="M400 377l9 0 0 0 11 1 8 0"/>
<path class=a2 d="M435 377l7 1 0 0 0 0 9-1 10 1 1 0 0 0 3 0 2 0 12-1 11 1"/>
<path class=a4 d="M398 376l9 0 13 0 2 0 15 0"/>
<path class=a5 d="M400 376l0 0 3 0 2-1 0 1 0 0 2 1 2-1 26 1"/>
<path class=a2 d="M416 376l6 0 2 0 15 0 0 0 0 0 2 0 1 0 2 0 0 0 2-1 0 2 10-1 2 0 3 0 9 0 1 0"/>
<path class=a0 d="M486 377l16-1 21 0"/>
<path class=a1 d="M444 376l12 0 6 0 0 0 3 0 3 0 0 0 0 1 5-1 0 0 4 0 9 0 1-1 12 1"/>
<path class=a6 d="M347 378l12-3 82 1"/>
<path class=a3 d="M416 376l2 0 2 0 6-1 0 1 7 0 8 1 1-1 2-1"/>
<path class=a7 d="M398 374l20 1"/>
<path class=a0 d="M486 375l6 0"/>
<path class=a6 d="M398 375l2-1"/>
<path class=a4 d="M398 374l5 1 0 0 2-1 0 1 2 0 7 0 6 0 2 0 4-1 0 1 23 0 22-1"/>
<path class=a3 d="M400 374l14 1 2 0 6 0 19-1 23 1"/>
<path class=a2 d="M439 374l2 1 7 0 3-1 3 1 4-1 1 0 3 0 5 1 0 0 4-1 5 1"/>
<path class=a1 d="M441 374l17 0 0 0 1 0 0 0 2 0 0 0 1 1 3-1 0 0 0 1 3-1 0 1 5 0 0 0 3 0 1 0 3 0 8-1"/>
<path class=a5 d="M400 374l3 0 6 0 7 0 2 1"/>
<path class=a5 d="M386 374l14-1 0 0 5 1 21-1"/>
<path class=a6 d="M378 374l18-1 7 0"/>
<path class=a3 d="M405 373l4 1 7-1 4 0 2 0 4 0 4 0 3-1 8 0 3 1 15 0"/>
<path class=a7 d="M370 373l41 0"/>
<path class=a4 d="M403 374l2-1 2 0 0 0 9 1 16 0"/>
<path class=a2 d="M435 372l4 2 0 0 3 0 6-1 5 0 9-1 3 1 2 0 1-1 19 1"/>
<path class=a0 d="M486 374l6-1"/>
<path class=a1 d="M461 373l4 0 0 0 2 0 0 0 3 0 1 1 5-1 1 0 2-1 1 1 1 0 2 0 0 0 3 0 0 0 2 0 3 0 2-1 10 1"/>
<path class=a5 d="M356 372l42 0 5-1 0 1 17 0 2 0 2 0 17-1 0 1"/>
<path class=a4 d="M398 372l2 0 9-1 0 1 2 0 3 0 6 0 4 0 0 0 15 0 3-1 0 1"/>
<path class=a1 d="M446 372l10 0 2 0 1 0 0 0 2 0 4-1 3 1 3-1 0 1 6 0 2 0 7-1 11 1"/>
<path class=a2 d="M439 372l2 0 12 0 5 0 6 0 3 0 1-1 5 1"/>
<path class=a3 d="M405 372l4-1 7 0 0 1 2 0 12 0 2-1 1 0 6 1 3 0 19 0"/>
<path class=a6 d="M389 371l9 1 5 0 4-1"/>
<path class=a5 d="M376 371l22 0 0 0 2-1 0 1 0 0 3-1 2 0"/>
<path class=a7 d="M373 371l5-1 31 0"/>
<path class=a2 d="M398 371l41-1 0 0 0 0 2 1 3-1 0 0 0 1 5-1 5 0 4 0 4 0 3 0"/>
<path class=a4 d="M405 371l4-1 15 0 8 0"/>
<path class=a6 d="M403 371l4 0 7 0"/>
<path class=a1 d="M442 370l14 0 2 0 1 0 0 0 0 1 2-1 0 0 0 1 1 0 2 0 3-1 0 1 1 0 2-1 1 1 3 0 0 0 2-1 10 0 2 1 4-1"/>
<path class=a3 d="M407 370l7 1 14 0 2-1 0 1 2 0 1-1 8 0"/>
<path class=a2 d="M426 369l0 0 16 1 6-1 14 0 3 1 3-1 2 1 1-1 8 0 7 0"/>
<path class=a1 d="M461 369l0 0 3 0 0 0 1 0 2 0 1 1 3-1 0 0 2 0 1 0 5 0 1 0 1 1 3-1 4 0 3 0"/>
<path class=a6 d="M376 370l8-1 36 0"/>
<path class=a5 d="M398 369l2 0 0 1 3-1 0 1 4-1 2 0 2 0 11 0 0 0 4 1 2 0 4-1 10 0"/>
<path class=a3 d="M398 369l22 0 2 0 2 0 0 0 6 0 9 0 3 0"/>
<path class=a7 d="M373 369l36 1"/>
<path class=a4 d="M420 369l4 0 11 0"/>
<path class=a0 d="M464 372l24-3 40 0"/>
<path class=a7 d="M368 368l39 0"/>
<path class=a6 d="M381 368l17 0 5 0 2 0 28-1"/>
<path class=a5 d="M400 368l3-1 8 0 31 0"/>
<path class=a3 d="M426 367l6 1 10-1 16 1 3 0"/>
<path class=a0 d="M502 368l22-1"/>
<path class=a1 d="M439 368l2 0 5 0 10 0 3-1 0 1 0 0 11 0 3-1 0 0 3 0 5 0 2 0 4 0 1 1 7 0 6 0"/>
<path class=a4 d="M398 367l2 1 7-1 0 0 4 1 3-1 6 1 6 0 4-1 5 0 6 1 3 0 4 0 10 0"/>
<path class=a2 d="M439 368l2 0 3 0 9 0 6 0 5-1 1 0 6 0 17 0 5 1 10-1"/>
<path class=a1 d="M458 366l0 0 1 0 2 0 6 0 0 0 1 0 6 0 3 0 0 0 2 0 0 0 0 1 7-1 6 0 0 1"/>
<path class=a6 d="M373 366l11 0 14 0 2 1"/>
<path class=a2 d="M439 366l0 0 0 0 2 1 3 0 5 0 9-1 1 0 2 0 0 1 1 0 2-1 1 0 0 1 5-1 4 0 5 0 9 1"/>
<path class=a4 d="M398 366l13 0 0 0 19 0"/>
<path class=a3 d="M414 367l2-1 17 0 8 0 0 1 1-1 2 0 2 0 19 0 2 0 6 0"/>
<path class=a7 d="M347 367l18-1 5 0 37 0 2 0"/>
<path class=a1 d="M459 364l0 1 3 0 2-1 1 1 2-1 0 0 0 1 3-1 0 1 1 0 5 0 0 0 1 1 3-2 0 1 6 0 4 0 2 1"/>
<path class=a2 d="M441 364l1 1 4 0 3 0 12-1 0 1 4-1 5 1 1-1 0 1 16 0"/>
<path class=a0 d="M488 367l3-3"/>
<path class=a6 d="M381 365l17 0 2 0 0 0 3 1 4-1 2 0 2 1 5-1 4 0"/>
<path class=a7 d="M365 365l40 0"/>
<path class=a3 d="M422 365l2 0 2-1 6 1 10 0 2 0 5 0"/>
<path class=a5 d="M398 365l0 1 5-1 6 1"/>
<path class=a4 d="M420 365l2 1 2-1 0 0 2 0 2 0 21 0"/>
<path class=a3 d="M411 363l11 0 4 1 2 0 13 0 1-1 2 0 0 1"/>
<path class=a2 d="M439 364l0 0 2 0 1-1 2 0 0 1 7 0 13 0 10-1"/>
<path class=a1 d="M456 364l0 0 2 0 1 0 2-1 0 1 4 0 2-1 3 0 3 0 3 1 4-1 1 1 2 0 4-1 0 0 0 1 0 0 0 0 5-1 5 1 2-1"/>
<path class=a6 d="M400 363l30 0 9 1"/>
<path class=a5 d="M353 364l45-1 2 0 0 1 0 0 3-1 0 0 4 1 9 0 2-1 4 1"/>
<path class=a7 d="M359 364l44 0"/>
<path class=a4 d="M414 364l10 0 9-1 9 1"/>
<path class=a5 d="M398 362l0 0 5 0 0 0 6 1 17-1"/>
<path class=a4 d="M407 362l4 0 9 0 29 0 7 0"/>
<path class=a1 d="M439 362l10 1 9-1 0 0 1 0 0 0 2 1 1-1 0 1 3-1 0 0 6 1 0 0 3-1 3 0 2 0 7 0 0 0 0 1 10-1"/>
<path class=a2 d="M424 362l17 0 0 0 0 0 10 0 2 1 8 0 1-1 5 0 0 0 7 0 6 1 0 0 6 0 2-1"/>
<path class=a0 d="M522 363l0 1"/>
<path class=a6 d="M393 363l14-1 4 0 0 0"/>
<path class=a3 d="M405 363l15 0 13-1 2 1 4-1 0 0 3 0 17 0"/>
<path class=a4 d="M407 361l4 0 0 0 5 0 6 0 2 0 0 0 17-1 20 1 15 0"/>
<path class=a7 d="M359 362l34-2 7 1 5 0"/>
<path class=a5 d="M398 361l0 0 5 0 4-1 2 1 5 0 2 0 21 0"/>
<path class=a3 d="M422 361l4 0 0 0 4-1 11 0 3 0 2 0 0 1"/>
<path class=a6 d="M398 360l2 0 5 0"/>
<path class=a2 d="M442 360l0 1 19-1 1 0 0 0 9 1 6-1 3 1 10 0"/>
<path class=a1 d="M442 360l14 0 3 0 0 0 0 0 6 1 0 0 5 0 1-1 0 1 5 0 3 0 1 0 4-1 13 0 0 1 4 0 12 0"/>
<path class=a6 d="M347 359l49 1 2 0 5 0 2-1 2 1 7-1"/>
<path class=a5 d="M350 360l48-1 2 1 5-1 2 0 17 1 8-1"/>
<path class=a7 d="M373 360l30-1 11 0"/>
<path class=a2 d="M446 359l0 0 12 1 3-1 4 0 2 0 0 1 3-2 1 1 3 0 6 0"/>
<path class=a3 d="M418 359l0 1 14 0 7 0 0 0 0 0 2 0 36 0 9 0"/>
<path class=a1 d="M441 359l12 0 5 1 3-1 0 1 3-1 0 1 1-1 5 1 0 0 4-1 2 0 1 0 3 1 3-1 4 0 1 0 0 0 3 0 0 1 9 0 3-1"/>
<path class=a2 d="M439 358l3-1 9 1 5 0 2 0 1 0 2 0 1 0 3 0 2 0 12-1"/>
<path class=a5 d="M405 358l4 0 2 0 5 0 4 0 0 0 19 0 7 0"/>
<path class=a4 d="M400 360l20-2 2 0 15-1 4 1 1-1 45 0"/>
<path class=a1 d="M453 357l6 1 0 0 3 0 8 0 6-1 3 0 0 1 0 0 2 0 3 0 4 0 3-1 2 1"/>
<path class=a3 d="M420 358l10 0 9 0 2 0 1-1 0 1 2 0 5-1 7 1 3 0 9 0"/>
<path class=a0 d="M486 361l35-3 2 0"/>
<path class=a6 d="M398 358l2 0 9 0"/>
<path class=a7 d="M359 357l9 0 32 1 5 0 19 0"/>
<path class=a5 d="M400 356l3 0 0 0 0 1 0 0 6 0 2 0 7-1 4 1 10 0 1-1"/>
<path class=a2 d="M439 356l22 0 1 0 3 1 2-1 0 1 1-1 3 0 0 1"/>
<path class=a1 d="M456 356l0 0 2 0 1 0 0 0 2 0 0 0 1 0 2 0 1 1 0 0 2 0 1-1 2 0 1 1 3 0 2 0 5-1 2 1 8 0 1 0 4-1 10 1"/>
<path class=a6 d="M373 356l25 0 0 1 18-1 25 0"/>
<path class=a4 d="M403 356l17 1 19-1 2 1"/>
<path class=a3 d="M420 356l2 1 17-1 2 0 3 1 4-1"/>
<path class=a6 d="M398 355l11 0 9 0 26-1"/>
<path class=a5 d="M400 355l3 1 2-1 11 0 25-1"/>
<path class=a2 d="M441 354l0 1 1 1 2-1 5 0 0 0 12 0 4 0 2 0 6 0 3 0 10-1 1 0 5 0 0 1"/>
<path class=a3 d="M420 356l4 0 2-1 0 1 6-1 3 1 4-2 0 1 3 1 4-1 8 1"/>
<path class=a4 d="M405 356l15-1 4-1"/>
<path class=a1 d="M461 355l3-1 1 1 2-1 0 2 1-1 2-1 0 1 1 0 2 0 3-1 0 1 1 0 0 0 4 0 0 1 6-2 0 1 1 0 2-1 0 1 5 0"/>
<path class=a0 d="M503 354l17 3 5-4"/>
<path class=a4 d="M420 353l2 1 6 0 21 0"/>
<path class=a2 d="M442 353l0 1 0 0 2-1 2 0 5 0 0 0 5 1 3 0 5 0 1 0 12 0 7 0 8-1"/>
<path class=a7 d="M398 357l2-4"/>
<path class=a6 d="M398 354l0 0 2-1 5 1 13-1 12 1 2 0"/>
<path class=a3 d="M428 354l0 0 5 0 2-1 0 1 4 0 3-1 6 1"/>
<path class=a1 d="M456 354l0 0 3 0 0 0 2 0 3 0 1-1 2 0 3 0 1 0 2 0 0 1 6-1 7 1 4-1 6 0 9 1"/>
<path class=a5 d="M398 353l2 0 3 1 6 0 2 0 5 0 16 0"/>
<path class=a4 d="M405 352l13 1 2-1 21 0 3 0 17 0 1 0"/>
<path class=a2 d="M435 352l4 0 0 0 2 0 0 1 8-1 9 0 1 0 2 0 4 0 0 1 2-1 7 0 2 0 5 0 14 0"/>
<path class=a3 d="M433 353l4-1 22 0 2 0 1 0 26 0"/>
<path class=a1 d="M451 352l5 0 0 0 3 1 2 0 1-1 6 1 2-1 1 0 0 1 2 0 3-1 10 1 1-1 3 1 3-1 0 0 4 0 6 1 3-1 3 0"/>
<path class=a7 d="M398 352l7 1 2-1"/>
<path class=a5 d="M407 352l0 0 9 1 16 0 7-1"/>
<path class=a2 d="M441 351l0 0 1 0 2 0 9 0 5-1 1 0 2 1 0 0 3-1 7 1"/>
<path class=a3 d="M400 351l24-1 2 1 6 0 22 0 8-1 3 1 2-1 0 1 1-1"/>
<path class=a0 d="M477 351l45 2"/>
<path class=a5 d="M396 350l4 0 5 0 2 1 13 0 4 0 4-1 0 1 14 0"/>
<path class=a4 d="M416 351l8 0"/>
<path class=a7 d="M403 351l2-1"/>
<path class=a6 d="M398 350l0 1 0 2 5-2 0 0 43 0"/>
<path class=a1 d="M442 351l2 0 15-1 0 1 6 0 3-1 3 1 0 0 2 0 1-1 2 1 1 0 2-1 0 0 7 0 0 1 4-1 1 1 5 0 7 0"/>
<path class=a5 d="M407 349l0 1"/>
<path class=a7 d="M398 349l5 1"/>
<path class=a2 d="M439 350l0 0 2 0 3 0 4-1 11 1 2-1 0 0 3 0 1 1 0 0 6-1 2 0 6 0 1 0 4 0 3 1 1 0 0 0"/>
<path class=a3 d="M418 350l14 0 7 0 20-1 0 0 11 1"/>
<path class=a4 d="M418 350l49 0"/>
<path class=a6 d="M398 349l20 1 4 0 8 0"/>
<path class=a1 d="M456 350l2 0 6-1 0 1 1-1 0 1 2-1 1 0 3 1 5-1 4 0 0 1 1 0 2-1 0 1 4-1 1 0 0 0 3 0 6 1 3-1 2 1 12-1 0 1"/>
<path class=a3 d="M426 348l2-1 11 1 0 0 2 0 1 0 28-1 17 2"/>
<path class=a2 d="M439 348l2 1 1-1 2-1 12 1 2 0 6 0 4 0 5 0 0 0 1 0 13 0 8 0 0 0 2 0"/>
<path class=a4 d="M405 349l36-1 1 0"/>
<path class=a6 d="M405 348l2 0 9 0 45 0"/>
<path class=a7 d="M398 348l13-1 3 1"/>
<path class=a0 d="M505 349l17-1"/>
<path class=a5 d="M398 347l5 1 4 0 4 0 5 1 4-1"/>
<path class=a1 d="M456 348l11-1 0 1 0 1 3-2 0 1 1 0 2 0 1 0 0 0 5-1 0 1 0 0 1-1 6 1 0 0 2 0 7 0 0 0 16 0"/>
<path class=a1 d="M458 346l1 1 3 0 3-1 0 1 2-1 0 0 3 1 1-1 0 0 2 0 0 0 4 0 6 1 3-1 0 0 0 0 1 1 0 0 3-1 2 0 5 1 19-1"/>
<path class=a5 d="M398 346l5 1 17-1 21 0"/>
<path class=a6 d="M398 347l7-1"/>
<path class=a2 d="M439 346l3 0 0 0 2 0 14 0 1 0 0 1 2 0 0 0 1 0 0 0 9 0 6-1 6 0 5 1 0 0"/>
<path class=a4 d="M420 347l17-1 7 1 4 0 1 0 30 0"/>
<path class=a3 d="M426 346l13 0 0 0 2 0 0 0 17 0 3 0"/>
<path class=a4 d="M398 345l2 0 20 0 15-1 6 0 1 2 7 0 12-1 6 0 1-1"/>
<path class=a7 d="M373 345l30 0 62 1"/>
<path class=a5 d="M403 344l0 2"/>
<path class=a0 d="M522 346l1 1"/>
<path class=a1 d="M459 344l2 1 6 0 3-1 1 1 5-1 0 1 1-1 7 0 2 0 1 1 0 1 5-2 7 1 4 1 8 0"/>
<path class=a2 d="M441 344l1 1 9 0 2 0 8 0 1-1 0 1 0 0 5 1 1-2 5 1 6 0 7-1 1 1 3 0 0 0 2 0 1 0"/>
<path class=a6 d="M398 345l7 0 15 0 24 0"/>
<path class=a3 d="M432 346l7-2 3 1 2-1 15 0 12 0 16 1"/>
<path class=a5 d="M391 343l9 0 9 1"/>
<path class=a2 d="M439 344l2 0 1-1 2 0 2 0 12 1 1-1 0 1 8-1 9 1 1 0 2 0 0 0 5-1 2 0 1 0 1 1 0 0 3-1 4 0"/>
<path class=a1 d="M442 344l16 0 3-1 6 0 6 0 0 1 0 0 1-1 2 0 1 0 2-1 8 1 4 1 1-1 1 0 7 1 11-1 12 1"/>
<path class=a7 d="M405 344l36-2"/>
<path class=a4 d="M411 344l13 0 24-1 13 0 4 0"/>
<path class=a6 d="M398 343l18 1"/>
<path class=a3 d="M439 344l3-1 0 0 4 1 2 0 8 0 9-1 22 1 3-1"/>
<path class=a2 d="M439 342l2-1 3 1 15 0 5 0 10-1 6 0 13 1 8-1 10 1 30-1"/>
<path class=a4 d="M416 341l6 1 43-1"/>
<path class=a6 d="M398 342l2 0 5 0 15-1 38 1"/>
<path class=a5 d="M398 342l28-1 13 1 2 0 39 0"/>
<path class=a1 d="M456 342l5 0 1 0 0 0 3-1 0 1 2 0 1 0 2 0 1-1 2 0 0 1 1 0 5-1 1 0 6 0 1 0 1 0 0 0 7 0 0 0 0 1"/>
<path class=a7 d="M398 342l2-1 0 1 3-1"/>
<path class=a3 d="M439 342l2 0 1-1 0 0 2 0 4 1 8 0 3 0 9 0 19-1"/>
<path class=a5 d="M411 340l48 0"/>
<path class=a2 d="M439 340l2 0 0 1 1-1 14 0 2 0 1 0 2 0 0 0 1 1 3 0 23-1 3 1 0 0"/>
<path class=a3 d="M439 340l0 0 5 0 4 0 10 0 4 1 5-1"/>
<path class=a1 d="M459 340l2 0 1 1 5-1 0 0 1 0 0 0 3 0 2 0 0 1 3-1 3 0 0 0 2 0 2 0 1 1 3-1 5-1 0 1 0 0 0 0 3 0 6 0 12 0"/>
<path class=a4 d="M403 340l0 0 19 0 2 0 6 0 40 0 4 0 17 0"/>
<path class=a0 d="M486 341l36 2 3-3"/>
<path class=a6 d="M407 339l9 1 21 0"/>
<path class=a6 d="M398 338l0 1 5-1"/>
<path class=a3 d="M426 339l15 0 0 0 1 0 2 0 2-1 3 1 12 0 13 0 12-1 1 1"/>
<path class=a2 d="M439 338l0 0 3 1 14-1 3 1 0 0 5 0 1 0 2-1 3 1 3 0 3-1 3 0 0 1 1 0 1-1 2 0 5 1 11 0 1-1"/>
<path class=a4 d="M416 339l4 0 22-1 16 0"/>
<path class=a1 d="M405 339l56 0 1 0 2 0 4-1 2 0 1 0 2 0 3 1 1 0 6 0 3 0 0 0 1-1 0 1 1-1 0 0 3 0 4 1"/>
<path class=a3 d="M407 338l19-1 9 0 6 0 0 0 0 1 1-1 12 1 11-1 6 0"/>
<path class=a4 d="M414 338l25 0 20-1 2 1 18-1 1 0"/>
<path class=a1 d="M464 337l1 1 0 0 8-1 0 0 0 1 6-1 1 1 3-1 0 0 7 0 1 0 0 0 1 1 1 0 3 0 3-1 1 0"/>
<path class=a2 d="M446 337l0 0 2 1 1-1 9 1 1 0 2 0 0 0 7 0 0 0 18-1 0 1 1-1 0 0 3 0 3 0 2 1"/>
<path class=a0 d="M509 338l14 0 0 0 19 0"/>
<path class=a5 d="M400 337l11 0 9 0 4 0 6 1 14-1"/>
<path class=a1 d="M458 336l7-1 2 1 1-1 0 1 2-1 4 1 0 0 2 0 4 0 0 0 6 0 1-1 4 0 2 0 6 0 7 1 11-1"/>
<path class=a3 d="M430 336l9 0 0 0 2 0 5-1 8 1 4 0 3 0 4 0"/>
<path class=a4 d="M398 335l41 1 3 0 17 0"/>
<path class=a5 d="M400 336l5 0 11 0 12-1 4 1 30 0"/>
<path class=a7 d="M416 335l2 4"/>
<path class=a2 d="M442 336l6-1 10 1 1 0 3-1 0 2 3-2 0 1 2 0 0 0 3-1 1 1 0 0 6 0 3-1 0 2 10-2 7 1"/>
<path class=a6 d="M398 335l0 3 24-2 10 0"/>
<path class=a0 d="M512 334l10 2"/>
<path class=a4 d="M426 334l7 0 2 0 7 0 6 0 8 0 5 0 1 1"/>
<path class=a6 d="M414 334l0 1"/>
<path class=a7 d="M403 334l2 0"/>
<path class=a2 d="M439 334l0 0 3 0 0 0 16 0 1 0 0 0 5 1 3-1 0 0 4 1 2-1 13 0 6 0 1 1 29-1"/>
<path class=a5 d="M398 334l2 0 16 0 4 1 2-1 19 0 33 0 2 0"/>
<path class=a1 d="M441 334l18 0 12 0 2 0 0 1 3 0 1-1 4 1 3-1 2 0 2 0 2 0 0 0 6 0 3 0"/>
<path class=a3 d="M424 334l15 0 2 0 17 0 7 0 2 0 4 1 0 0"/>
<path class=a6 d="M403 333l6-1 5 0 40 0"/>
<path class=a7 d="M400 333l0 0 14 0"/>
<path class=a1 d="M476 333l1 1 4-1 2 0 0 0 0 1 3-1 1 0 0 0 3 1 2-1 0 0 4-1 1 2 2-1 8 0 17 0"/>
<path class=a5 d="M398 333l0 0 0 0 11 0"/>
<path class=a3 d="M442 334l25-1 0 0 6 0 7 0 1 1 5-1"/>
<path class=a2 d="M428 333l14 0 2 0 2 0 16-1 5 0 1 0 0 0 3 0 2 0 0 2 1-1 12 0 1 0 1 0 3-1 1 1 10-1 5 2"/>
<path class=a4 d="M441 332l0 1 0 0 36 1 2-1"/>
<path class=a0 d="M523 332l2 1 24-2"/>
<path class=a7 d="M400 332l18-1 4 0"/>
<path class=a3 d="M428 332l2-1 9 1 0 0 0 0 20-1 12 1"/>
<path class=a5 d="M403 332l4-1 0 1 4-1 9 0 22 1 19 0"/>
<path class=a4 d="M441 331l3 1 2-1 22 0"/>
<path class=a1 d="M456 332l2 0 1 0 0 0 6 0 3-1 0 0 2 1 1 0 2-1 3 1 1-1 0 0 2 0 0 0 12 0 0 0 1 0 0 1 1-1 3 0 1 0 3 0 19 1"/>
<path class=a2 d="M409 332l39-1 10 1 1 0 2-1 0 1 0 0 1 0 0 0 3 0 0 0 9-1 3 0"/>
<path class=a3 d="M439 330l0 0 2 1 3-2 9 1 5 0 6 0 3 0 16 0"/>
<path class=a1 d="M456 330l3 0 6-1 0 1 6-1 2 1 1 0 2 0 1-1 3 1 3 0 3 0 0 0 1 0 0 0 0 1 1-1 3 0 9 0"/>
<path class=a6 d="M405 330l0 0 4 0 75 0"/>
<path class=a2 d="M446 330l12 0 1 0 5 0 0 0 1 0 2 0 0 0 4 0 2 0 0 1 6-1 0 0 7 0 4 0 5 0 0 0"/>
<path class=a0 d="M522 330l8 0"/>
<path class=a4 d="M398 330l34 0 7 0 2 1 8-1 4 0 60 0"/>
<path class=a4 d="M424 329l18 0 9 0"/>
<path class=a3 d="M441 328l0 1 1-1 0 1 9 0 13 0 6-1 21 0"/>
<path class=a6 d="M398 329l7 0"/>
<path class=a5 d="M403 328l0 1 8-1 26 1 0 1"/>
<path class=a2 d="M444 328l2 1 8-1 5 0 0 1 2-1 0 0 0 1 4-1 0 1 2-1 4 1 2-1 3 0 0 0 0 0 4 1 1 0 6 0 0 0 0 0 3 0 0 0 3-1 2 0"/>
<path class=a1 d="M459 329l5 0 3 0 0 0 4-1 2 1 13-1 0 1 2-1 3 1 2 0 0 0 2 0 1-1 1 0 2 1"/>
<path class=a0 d="M522 329l21 0"/>
<path class=a7 d="M405 328l0 0 23-1 37 3"/>
<path class=a2 d="M458 328l0 0 6 0 3 0 1 0 2 0 1-1 2 0 1 0 6 1 1-1 2 1 8-1 10 1"/>
<path class=a6 d="M398 328l2 0 5 0 13 0"/>
<path class=a3 d="M418 328l15-1 6 1 0 0 2-1 5 0 2 0 1 0 2 0 0 1 7 0 1-1 8 1 16-1 12 1"/>
<path class=a1 d="M459 327l12 0 6 0 4 0 6 0 0 0 1 0 3 1 6-1 0 1 3-1 0 1 1-1 1 1"/>
<path class=a4 d="M439 328l2-1 1 0"/>
<path class=a5 d="M398 327l18 1 6 0 6-1 7 1 6 0"/>
<path class=a0 d="M488 328l34-1"/>
<path class=a4 d="M432 326l5 0 4 0 1 0 28 0 3 0"/>
<path class=a3 d="M435 327l4-1 0 0 2 0 13 0 5 0 2 0 25 0 2 0"/>
<path class=a5 d="M403 326l53 0 5 0"/>
<path class=a2 d="M416 326l23 0 3 0 2 0 14 0 4 0 0 0 3 0 0 0 5 0 1 0 3 1 3-1 0 0 3 0 4 0 2 0 5 0 4 0 12 0"/>
<path class=a1 d="M456 326l5 0 3 1 1-1 2 0 3 0 1 0 2 0 3 0 3 0 4 1 4-1 0 0 4 0 1 1 1-1 0 1 2-1 6 0 1 0 0 0"/>
<path class=a5 d="M398 325l67 0"/>
<path class=a4 d="M439 324l2 2 3-2 0 1"/>
<path class=a1 d="M462 325l6 0 9 0 2 0 2-1 3 0 0 1 4 1 3-2 0 0 1 1 1 0 4 1 3-2 0 1"/>
<path class=a2 d="M439 324l12 2 2-1 3-1 3 0 0 1 6 1 2-2 1 1 0 0 5-1 0 0 3 0 0 1 1 0 3 0 7-1 3 0 0 1 7-1 10 0"/>
<path class=a3 d="M439 325l2 0 1 0 0 0 0 0 17 0 3 0 3-1 8 0 1 0 5 0 1 1 7 0 8 1 4-1"/>
<path class=a6 d="M405 325l2-1"/>
<path class=a2 d="M442 323l14 1 2 0 3-2 4 1 2-1 0 1 1 0 3 1 2-1 6 0 0 0 2 0 5 1 1-1 4 1 4-1 0 0"/>
<path class=a5 d="M409 324l65-2"/>
<path class=a4 d="M441 323l0 0 1 1 2 0 4 0 6 0 16 0 7-1 4 0"/>
<path class=a3 d="M432 322l29 2 32-1"/>
<path class=a1 d="M461 324l0 0 1 0 5-2 1 1 5-1 0 2 1-2 0 1 5 0 4 0 0 0 0 1 0 0 1-1 2 1 2-1 0 0 8 0 0 1 3-2 2 2 4 0"/>
<path class=a0 d="M523 325l1-2"/>
<path class=a6 d="M403 323l15-1 2 2"/>
<path class=a4 d="M480 322l1-1"/>
<path class=a2 d="M441 322l3 0 12 0 0 0 2 0 1 0 2 0 0 0 1 0 9-1 0 1 0 0 2-1 0 0 0 0 4 1 11 0 9-1"/>
<path class=a7 d="M398 321l5 1 11-1 12 1 51 1"/>
<path class=a6 d="M409 321l13 1 4 0 38 0"/>
<path class=a1 d="M465 322l6 0 6 0 2 0 4-1 0 1 4 0 4-1 0 0 0 1 0 0 2 0 7-1 1 0 1 0 12 1 0 0 9 0"/>
<path class=a3 d="M422 322l17 0 0 0 2-1 1 0 0 1 6 0 11 0 0 0 5 0 15-1 8 1"/>
<path class=a5 d="M437 321l2 1"/>
<path class=a2 d="M449 320l7 0 0 0 2 0 1 0 0 0 2 0 1 0 2 1 3-1 0 1 3 0 4-1 7 0 0 1 3-1 3 0 1 0 3 1 6 0 3 0 5 0 4 0"/>
<path class=a1 d="M465 320l0 0 2 0 1 0 8 0 0 0 1 1 9-1 0 1 1-1 1 1 2-1 3 0 0 0 2 0 1 1 4-1 11 1 11-1"/>
<path class=a3 d="M439 320l0 0 2 0 1 0 2 0 15 0 6 0 5 0 1 0 16 1"/>
<path class=a4 d="M439 320l2 1 23 0 19-1"/>
<path class=a7 d="M400 320l71 0"/>
<path class=a5 d="M407 319l4-1 0 2 13-1"/>
<path class=a0 d="M522 319l1 0"/>
<path class=a2 d="M446 319l5 0 8-1 2 0 1 1 2-1 1 0 2 1 1-1 0 1 3-1 0 1 2 0 3 0 4-1 0 1 8 0 2 0 6 0 3 0 1 0 0 0 11 1"/>
<path class=a6 d="M398 320l30-1"/>
<path class=a1 d="M468 318l5 2 6-1 0 0 4 0 3-1 0 1 1-1 0 1 5 0 1 0 2 0 6 0 15 0"/>
<path class=a4 d="M433 318l9 1 6 0 13-1 4 1 0 0"/>
<path class=a3 d="M442 320l2-2 2 1 2 1 11-2 8 1 6 1 1-1 17 0 2 0 2 0"/>
<path class=a3 d="M441 317l1 1 4-1 2 0 10 1 6 0 3 0 6 0 7 0 11-1"/>
<path class=a4 d="M439 318l0 0 2-1 0 1 0 0 1 0 37 0"/>
<path class=a5 d="M411 318l30 0 17 0"/>
<path class=a6 d="M409 317l11 0 2 1 6 0"/>
<path class=a2 d="M439 318l10-1 7 1 3-1 2 1 10-1 6 0 2 1 0 0 1-1 3 0 0 1 7 0 11 0"/>
<path class=a1 d="M459 318l8-1 0 1 9 0 1 0 6 0 1 0 3 0 0 0 0 0 5-1 1 0 2 1 2 0 2-1 0 1 7 0 1-1 2 1 14-1 2 0"/>
<path class=a1 d="M458 316l7 1 8 0 7-1 3 0 1 0 3 0 3 0 1 1 1-1 8 0 1 0 18 0 0 0"/>
<path class=a5 d="M420 316l36 0 17 1"/>
<path class=a2 d="M459 316l2 0 1 0 0 0 3 1 2-1 3 0 1 0 0 0 3 0 2 1 1-1 0 1 4-1 5 0 2 0 0 1 12 0 17 0"/>
<path class=a3 d="M439 316l0 0 0 0 2 0 17 0 3 1 1-1 3 0 3 0 6 0 12 0 5 0 17 0"/>
<path class=a6 d="M347 316l56 0 11 0 54 1"/>
<path class=a0 d="M520 316l0 0 2 1 7-1"/>
<path class=a4 d="M444 316l15 0 2 0"/>
<path class=a3 d="M441 315l7 0 13 0 1 0 2 0 10 0"/>
<path class=a7 d="M400 316l44-1"/>
<path class=a2 d="M442 315l23 0 5-1 0 1 1 1 5-2 1 1 0 1 2-1 2 0 2 0 4 0 0 0 1 0 3 1 1 0 4-1 0 0 3 1 18-2"/>
<path class=a1 d="M471 315l0 0 5 0 3 1 0 0 1-1 7 0 1-1 2 1 1 0 0 0 2-1 2 1 2 0 25 0 4 0"/>
<path class=a6 d="M441 315l1 0 19 0"/>
<path class=a4 d="M398 315l43 0 1 0 7 0 18-1 13 2 19-1"/>
<path class=a5 d="M405 315l25 0 9-1 7 1 15 0 12-1"/>
<path class=a0 d="M522 313l1 1 1 1 5-1"/>
<path class=a3 d="M439 314l5 0 0 0 12 0 2 0 10-1 8 1 3 0 2 0 2 0 1 0 11 0"/>
<path class=a4 d="M420 314l17 0 4-1 17 1 1 0 8 0 6-1 0 1"/>
<path class=a6 d="M409 314l50 0"/>
<path class=a1 d="M464 313l10 1 6-1 3 1 3 0 6-1 4 0 5 1 2-1 3 0 0 1 16-1"/>
<path class=a5 d="M416 314l4-1 39 1"/>
<path class=a2 d="M439 314l23 0 3 0 0 0 2 0 0 0 1 0 5-1 0 1 0 0 1-1 9 1 3 0 5-1 1 1 3 0 10-1 2 0 1 0"/>
<path class=a4 d="M403 312l38 1 1-1 4 1 10-1 2 0 28 0 1 1"/>
<path class=a3 d="M439 312l0 0 0 0 20 0 6 0"/>
<path class=a1 d="M465 312l0 1 18 0 1 0 3-1 0 1 1-1 0 0 0 0 3 0 6 0 10 0 0 0 4 0 6 0 2 0 3 0 1 0 2 0"/>
<path class=a7 d="M398 314l2-2"/>
<path class=a5 d="M409 312l11 1 17-1 4 0 1 0 19 0 6 0"/>
<path class=a2 d="M458 312l1 0 2 0 0 0 1 1 2 0 4-1 0 1 16-1 0 1 7-1 2 0 0 0 0 1 2 0 1 0 3 0 1-1 24 0"/>
<path class=a1 d="M459 310l2 1 16 0 4-1 0 1 2 0 3 0 1 0 4 0 2 0 6 0 1-1 5 0 17 1 3 1 3-1"/>
<path class=a0 d="M516 311l7-1 25 1"/>
<path class=a6 d="M433 311l6-1 12 0 8 2"/>
<path class=a3 d="M441 311l1-1 17 1 2 0 4 0 3-1 0 2 2 0 7-2 11 1"/>
<path class=a7 d="M400 311l9 0"/>
<path class=a5 d="M398 311l16-1 53 1"/>
<path class=a2 d="M444 311l17 0 4 0 6-1 0 1 5 0 1 0 2 0 0 0 2 0 6 0 0 0 15 0 1-1 21 0 1 1"/>
<path class=a4 d="M439 310l0 1 2 0 3 0 23 0 6 0 13 0"/>
<path class=a2 d="M458 310l3-1 1 0 2 1 0 0 3-1 4 0 5 0 0 1 1-1 0 0 2 1 8-1 1 1 4-1 1 1 3-1 35 0"/>
<path class=a7 d="M400 309l26 1"/>
<path class=a1 d="M456 310l6 0 11-1 0 1 10-1 5 1 2-1 2 0 3 0 1 1 4 0 1 0 2-1 3 0 16 0 1 0 0 0 0 1"/>
<path class=a0 d="M522 309l0 1 6 0 7 0 7-1 6 1 4 0"/>
<path class=a3 d="M439 309l2 1 7-1 11 1 8 0 12 0 8-1 6 0 2 1"/>
<path class=a4 d="M442 310l6-1 3 0 5 1 9-1 34 1"/>
<path class=a5 d="M432 309l7 0 2-1 15 0 11 1 3-1"/>
<path class=a1 d="M477 308l2 0 1 0 1 0 5 0 0 1 0 0 5-1 0 0 10 0 4 0 1 0 18 0"/>
<path class=a4 d="M439 308l2 0 0 1 7-2 10 1 7 1 2-1 4-1 2 1 4 0 3 0 23 0"/>
<path class=a2 d="M456 308l3 1 3 0 3-1 6 0 0 0 5 1 4-2 3 1 0 0 5 0 2 1 1-2"/>
<path class=a3 d="M439 307l3 1 17 0 0 0 2 0 0 0 1 1 5-1 1 0 2 0 6 0 15 1"/>
<path class=a6 d="M398 308l18-1 4 1"/>
<path class=a2 d="M448 307l14 0 3 0 2 0 3 0 1 0 5 0 0 0 0 0 4 0 3 0 18 0 8 0 15 0"/>
<path class=a4 d="M441 306l1 1 2-1 0 1 21 0"/>
<path class=a0 d="M508 306l8 1 9 1"/>
<path class=a6 d="M407 307l11 0 6-1 18 0"/>
<path class=a3 d="M439 306l3 0 2 1 15-1 0 1 2 0 0 0 3-1 7 1 19-1 11 1"/>
<path class=a1 d="M467 306l3 0 3 1 4 0 2-1 2 1 2-1 3 0 0 0 1 1 0 0 1-1 2 0 1 1 1 0 1 0 2 0 2 0 3 0 5 0 17-1 0 1 0 0"/>
<path class=a6 d="M439 306l2 0"/>
<path class=a1 d="M476 305l7 0 9 1 3-1 1 0 4 1 2 0 3-1 0 1 1-1 6 1 10-1 2 0 1 0 9 1"/>
<path class=a2 d="M448 305l11 0 0 1 2-1 4 0 0 1 2-1 0 1 1-1 0 1 3-1 2 0 6 0 0 1 1-1 6 1 1 0 4-1 1 0 23 1"/>
<path class=a5 d="M433 306l8-1 1 1 14 0 5-1 0 1 12 0"/>
<path class=a4 d="M439 305l2 0 0 1 50 0"/>
<path class=a3 d="M449 305l7 1 2 0 1-1 3 1 11-1 1 0 3 0 4 0 11 0 4 0"/>
<path class=a3 d="M439 304l0 0 5 0 15 0 5 0 0 0 10 0 13 0 0 1"/>
<path class=a7 d="M365 304l35 1 7-1 15 2"/>
<path class=a2 d="M446 304l12 0 0 0 6 0 1 0 5 1 3-1 3 0 1 0 0 1 2 0 4-1 3 1 2-1 3 0 4 0 0 1 1 0 10-1"/>
<path class=a5 d="M441 304l32 1 3-1"/>
<path class=a0 d="M532 306l3-1 33-1"/>
<path class=a6 d="M458 304l13 1"/>
<path class=a4 d="M442 304l2 0 0 0 39 1"/>
<path class=a1 d="M470 304l1 0 10 0 2 1 3-1 0 1 1-1 0 0 0 0 1 0 0 1 3 0 0 0 2-1 6 0 2 0 22 1 3 0"/>
<path class=a6 d="M400 303l20 0 42-1 15 2"/>
<path class=a3 d="M439 302l3 0 0 1 14-1 9 1 2-1 1 1 2 0 9 0 1-1 4 0 3 0 5 1 13-1"/>
<path class=a1 d="M479 303l2-1 2 1 3 0 0 0 2-1 4 0 1 0 2 2 12-1 15 0 5-1"/>
<path class=a2 d="M459 302l0 1 2 0 4 0 0 0 2-1 3 0 3 1 1 0 5 0 16 0 4 1"/>
<path class=a5 d="M418 303l30 0"/>
<path class=a4 d="M439 302l2 0 0 0 0 0 1 1 4 0 5 0 10-1 0 1 3-1 3 0 10 1 4-1"/>
<path class=a7 d="M400 303l3-1"/>
<path class=a4 d="M441 301l15 1 21-1 6 1"/>
<path class=a5 d="M426 302l6-1 9 0 1 0 19 0"/>
<path class=a1 d="M470 301l9 0 9 1 3-1 1 0 1 0 0 0 15 1 7 0 7 0 2 0"/>
<path class=a2 d="M458 302l1-1 0 1 8 0 0 0 7-1 0 0 2 0 3 1 4-1 3 0 1 1 4-1 4 0 5 0 0 0 12 1"/>
<path class=a0 d="M523 302l5 0 11-1 3 2"/>
<path class=a3 d="M439 302l3-1 4 1 15-1 0 0 3 1 1-1 2 0 3 0 1 0 2 0 4 0 0 0 2 1 5-1 6 1 9-1 6 0"/>
<path class=a4 d="M439 300l2 0 1-1"/>
<path class=a5 d="M403 300l55 0 29 0 0 1 14-2"/>
<path class=a3 d="M442 300l2 0 9 0 5 0 0 0 3-1 1 1 2 0 1-1 0 1 6 0 2 0 4 0 11 0 7 0 6 1"/>
<path class=a6 d="M426 301l13-1 0 0 14 0"/>
<path class=a2 d="M453 300l6 0 0 0 3 0 3 0 0 0 0 0 3 0 12 0 3 0 4 0 0 0 3 0 1 0 0 0 5 0 1 0 2-1 2 1 1 0 13 0"/>
<path class=a1 d="M477 300l4 0 5 0 1 0 1 0 7 0 1 0 5 1 2-1 2 0 0 0 38 0"/>
<path class=a3 d="M439 299l3 0 16-1 1 0 2 0 0 1 10-1 2 1 3 0 5-1 2 0 3 0 9 1"/>
<path class=a4 d="M439 298l2 0 0 1 21-1 2 1 7 0 21-1"/>
<path class=a5 d="M439 298l2 0 5 0 13 0"/>
<path class=a1 d="M479 298l9 0 2 0 1 0 0 1 2 0 3 0 1-1 0 1 6-1 5 0 1 1 5-1 1 1 2-1 5 0"/>
<path class=a2 d="M467 298l0 0 0 0 3 0 0 0 1 1 2 0 1-1 3 1 2-1 0 1 1-1 1 0 5 0 4 0 2 0 17 1 3-1"/>
<path class=a4 d="M439 297l2 1 10-2 14 1 41 0"/>
<path class=a2 d="M467 297l4 0 0 0 2 0 1 0 0 1 2-1 3 0 1 0 1 0 0 0 5-1 1 0 6 1 6 0 3 0 0 0 11 0"/>
<path class=a1 d="M477 297l7 0 2 0 0 1 5-1 1 0 4 0 3-1 1 1 6 0 1 0 4 0 3 0 8 0"/>
<path class=a0 d="M537 299l7-3"/>
<path class=a5 d="M458 298l4 0 6 0"/>
<path class=a7 d="M414 301l25-4"/>
<path class=a6 d="M400 298l3-1 17 1 10 0 11 0 15 0"/>
<path class=a3 d="M422 297l17-1 2 1 3 0 7 1 8 0 3-1 3 0 0 0 2 0 1 0 5 0 34 1"/>
<path class=a5 d="M422 295l20 1 17 0"/>
<path class=a4 d="M442 295l6 1 8 0 2 0 0 0 25 0"/>
<path class=a6 d="M418 296l4-1 19 0"/>
<path class=a3 d="M442 295l0 1 19 0 3 0 3-1 0 1 3 0 1 0 0 0 6 0 3-1 15 1"/>
<path class=a2 d="M459 296l0 0 2-1 1 1 8 0 3 0 3 0 1 0 3-1 3 0 7 1 0 0 3 0 2 0 0 0 7-1 6 1 6 0"/>
<path class=a1 d="M479 295l1 1 7 0 0 0 3-1 0 1 1 0 1 0 3 0 1 0 6-1 0 0 13 0 0 1 1 0 6 0 4-1"/>
<path class=a2 d="M456 294l5 0 1 0 0 1 3-1 0 0 0 0 3 1 2-1 1 1 5 0 3-1 8 0 1 1 3 0 6-1 4 0 13 0 9 1"/>
<path class=a1 d="M459 295l15-1 0 0 12 0 2 1 3-1 2 0 0 1 2-1 18 0 10 0 0 0 0 0 1 0 24 1"/>
<path class=a3 d="M439 294l2 1 0 0 5-1 12 0 0 0 1 0 3 0 5 0 0 1 3-1 4-1 2 2 10-1 1 0 4 1 4-1"/>
<path class=a4 d="M439 294l34 0 7 0 6 0"/>
<path class=a5 d="M439 294l7 0 13-1"/>
<path class=a6 d="M418 293l24 0 2 1 33-1"/>
<path class=a2 d="M462 292l5 1 1 0 5 0 4 0 2 0 1 0 6-1 1 1 3-1 0 0 3 1 4 0 8 0 3 0 14 0"/>
<path class=a1 d="M471 293l15 0 5-1 2 0 2 0 4 1 2-1 2 1 3-1 2 0 1 1 5 0 8 0 10 0"/>
<path class=a3 d="M439 293l2 0 12 0 6 0 2-1 0 0 4 1 3-1 0 1 5-1 0 1 14-1 6 0 6 0"/>
<path class=a0 d="M522 294l46-1"/>
<path class=a4 d="M439 293l0 0 3-1 0 1 25 0 9 0"/>
<path class=a5 d="M398 293l43 0 3 0 15 0 3-1 9 0"/>
<path class=a3 d="M446 291l15 1 1 0 3-1 0 1 2-1 0 1 3 0 1-1 0 1 0 0 6-1"/>
<path class=a1 d="M486 292l5-1 6 0 2 1 13-1 1 0 9 0 0 0 0 1 1 0"/>
<path class=a4 d="M439 291l2 0 0 1 3 0 15-1 28 0 14 1"/>
<path class=a0 d="M523 291l24 0"/>
<path class=a6 d="M411 291l28 0 20 0"/>
<path class=a5 d="M442 291l14 1 2 0 9 0"/>
<path class=a7 d="M398 296l7-5 48 1"/>
<path class=a2 d="M458 292l7-1 3 1 5-1 1 0 3 1 0 0 2-1 4 0 0 0 4 0 0 1 1 0 7 0 6 0 1-1 5 1 6-1 13 1 10-1"/>
<path class=a3 d="M456 290l0 0 2 0 1 1 2-1 0 0 3 1 1-1 3 0 5 1 4-1 10 0"/>
<path class=a4 d="M439 290l2 0 0 1 1 0 19-1 16 1 4-1"/>
<path class=a5 d="M418 290l31 0 13 0 9 0"/>
<path class=a2 d="M461 290l3 0 10 0 0 0 5 1 1 0 1-1 2 0 1 0 4 0 0 1 3-2 0 1 1 0 0 0 3 0 8 0 10 0"/>
<path class=a1 d="M486 290l0 0 4 0 1 0 1 1 3 0 1-1 1 0 2 0 0 0 14 0 3 0 7 0 4 1 1-1 8 0 3-1"/>
<path class=a4 d="M442 289l2 0 21 0 2 0 3 0 13 0 5 0"/>
<path class=a0 d="M523 289l2 0 52 1"/>
<path class=a2 d="M461 289l3 0 4 0 3-1 3 0 5 1 0 0 7 0 1 0 0 0 1 0 3 0 9 0 3 0 20 0"/>
<path class=a3 d="M441 289l3 0 0 0 15 0 0 0 2 0 1-1 5 1 0 0 4 0 2 0 0 0 8 0 0 0 2 0 3 0 4 0 1 0 5-1 0 1 13 0 11 0"/>
<path class=a5 d="M439 289l35 0 18-1"/>
<path class=a1 d="M480 288l3 1 10-1 6 1 0 0 10 0 3 0 4 0 6-1 0 0"/>
<path class=a7 d="M441 289l20-2"/>
<path class=a1 d="M483 288l4-1 0 1 4-1 0 0 1 1 3-1 2 0 4 1 1 0 3-1 10 0 8 0 0 1 2 0 5 0 3 0"/>
<path class=a6 d="M439 288l37 2"/>
<path class=a5 d="M433 288l6 0 2-1 40 1 5-1"/>
<path class=a3 d="M441 287l1 0 11 0 0 1 3 0 3-1 0 1 9-1 0 1 3-1 0 1 5-1 1 0 0 1 9 0 6 0"/>
<path class=a2 d="M430 287l28 1 0 0 6-1 0 1 3-1 12 1 1-1 0 0 3 0 13 0 1 0 2 1 2-1 5 1 1-1 1 1 13-1"/>
<path class=a1 d="M474 286l5 0 8-1 0 2 3 0 9-1 2-1 5 1 2 0 5 0 8-1 1 0 0 2 1-2 0 1 1-1"/>
<path class=a2 d="M467 287l7-2 5 1 5 0 2 0 1 0 1 0 0 1 3-1 1 0 0 0 4-1 1 0 2 1"/>
<path class=a0 d="M522 288l1-2 28 0 10 0"/>
<path class=a7 d="M439 285l35 1"/>
<path class=a6 d="M432 286l7 0 0 0 10 0 21 0"/>
<path class=a4 d="M439 287l2 1 1-3 0 1 14 0 9 0"/>
<path class=a3 d="M456 286l0 0 3 0 0 0 3 0 3 0 2 0 1 0 3-1 8 1 0 0 12-1 5 1 4 1 5-1"/>
<path class=a4 d="M439 285l2 0 10-1 14 1 6-1 2 0 4 0 2 1 14-1 2 0"/>
<path class=a2 d="M459 284l0 1 2 0 1 0 5-1 1 1 5-1 4 0 0 0 3 0 1 1 6-1 1 0 2 1 3-1 0 0 6 1 7 0"/>
<path class=a5 d="M467 285l1-1"/>
<path class=a1 d="M486 285l9 0 12 0 1 0 3 0 1-1 3 1 6-1 3 0 5 0"/>
<path class=a3 d="M439 285l14-1 5 0 0 0 1 1 2-1 0 0 1 0 2 0 3 1 3-1 1 0 3 1 7 0 2-1 0 0 0 0 3 0 1 1 3 0"/>
<path class=a2 d="M458 284l3-1 4 0 8 0 1 0 2 1 1 0 2-1 8 1 1-1 3 1 6-1 3 0 1 0 15 0 4 0 2 0"/>
<path class=a1 d="M480 283l6 0 5 0 2 0 3 0 1 1 2-1 10 0 4 0 7 0 2 0 1 0 1 0 2 0 1 0 5 1 1-1 7 1"/>
<path class=a4 d="M439 283l0 0 2 0 1 0 23 0 2 0 6 0 3 0"/>
<path class=a3 d="M448 283l11 0 0 0 5 0 1 1 5-1 13 0 3 1 37-1"/>
<path class=a5 d="M439 283l2 1 21 0 5-1 13 1 0 0"/>
<path class=a5 d="M441 282l7 0 16 0 15 1 8 0"/>
<path class=a2 d="M471 282l15 0 0 0 1 0 4-1 0 0 0 1 1 0 1 0 2 0 4 0 29 0"/>
<path class=a1 d="M479 281l9 2 2-1 11 0 0 1 5-1 0 1 1-1 15-1 0 0 2 0 3 1 6 0 0 0 15-1"/>
<path class=a4 d="M441 282l0 0 13 0 5-1 2 1"/>
<path class=a0 d="M522 281l0 1 9 2"/>
<path class=a3 d="M456 282l0 0 2 0 3-1 0 2 4-1 2-1 0 1 1 0 0 0 3-1 0 1 0 0 2 0 0 0 1 0 5 0 16-1 12 1 8-1"/>
<path class=a5 d="M465 281l15-1"/>
<path class=a2 d="M459 281l8 0 3-1 1 1 6-1 3 1 1-1 6 1 0 0 1-1 0 0 4 1 5-1 2 0 0 0 3 0 9 1 18 0"/>
<path class=a7 d="M407 281l58 0"/>
<path class=a4 d="M439 280l0 1 2 0 15-1 2 0 1 1 2 0 6-1 9 0 3 1 4 0 1-1 23 1"/>
<path class=a1 d="M483 281l3 0 1 0 3-1 2 0 4 1 1 0 8 0 6-1 9 1 0 0 3-1"/>
<path class=a3 d="M456 280l5 1 1 0 2-1 0 1 4-1 0 1 8-1 0 0 1 1 9-1 5 0 8 1"/>
<path class=a5 d="M420 279l19 0 0 0 2 1 1-1 23 1"/>
<path class=a3 d="M461 280l4 0 8-1 0 0 8 1 2-1 4 0 4 0 2 0 0 0 4 0"/>
<path class=a2 d="M461 280l9-1 1 0 3 0 2-1 1 1 2 0 4 0 0 1 1-1 2 0 2-1 0 0 3 1 1 1 3-2 2 0 0 1 2 0 12-1 6 1 5 0 1 1"/>
<path class=a4 d="M468 279l0 0 3 1 9-2"/>
<path class=a1 d="M487 279l1 0 3 0 10 0 1 1 10-1 3 0 2 0 6-1 0 1 0 0 2-1 15 1 2 0"/>
<path class=a6 d="M441 279l18 4"/>
<path class=a4 d="M458 278l3 0 0 0 1 0 5-1"/>
<path class=a6 d="M433 278l6 0 17 0 25 0"/>
<path class=a5 d="M439 277l22 1 16 0 2-1"/>
<path class=a0 d="M542 277l1 1 3 2"/>
<path class=a7 d="M458 278l47 2"/>
<path class=a1 d="M487 278l4 0 1-1 1 1 2 0 4-1 1 1 3-1 0 1 9 0 2 0 1-1 7 0 0 1 0 0 0 0"/>
<path class=a2 d="M465 277l6 0 0 1 2 0 6 0 4 0 3 0 5-1 1 0 4 0 9 0 1 1 7 0 9 0 1-1 5 0 2 1"/>
<path class=a3 d="M459 278l0 0 0 0 3 0 2 0 7-1 0 0 5 1 1 0 28 0 23 0"/>
<path class=a6 d="M441 277l18-1"/>
<path class=a3 d="M456 276l2 0 1 1 2-1 0 0 7 0 0 0 2 0 0 0 3 0 1 0 2 0 27 0"/>
<path class=a4 d="M456 276l6 0 2 1 16-1"/>
<path class=a1 d="M493 277l7 0 0 0 3-1 6 0 2 0 3 0 6 0 4 1 3-1 15 1"/>
<path class=a5 d="M439 277l3-1 17 1 5 0 13 0"/>
<path class=a2 d="M473 276l1 0 0 0 6 0 3 0 0 1 3-1 0 0 0 1 1-1 0 0 0 0 1 0 0 0 2 0 1 1 5-1 1 0 4 0 0 0 8 1 2 0 8-1 4 0 20 0"/>
<path class=a2 d="M459 275l3-1 15 1 2-1 1 0 1 0 3 0 3 0 4 1 1-1 0 1 11 1 3-1 17 0 0 1"/>
<path class=a1 d="M486 275l2-1 4 0 4 1 3 0 2-1 1 1 0 0 4 1 15-2 1 0 0 0 1 1 4 0 1 1 2-1 13 0"/>
<path class=a4 d="M439 275l26 0 2-1 1 1 5-1 3 1 4-1 8 1 3 0 6 0"/>
<path class=a6 d="M441 275l68-1"/>
<path class=a5 d="M439 274l0 0 48 1"/>
<path class=a3 d="M458 274l1 1 5-1 1 1 0 0 5 0 1 0 0 0 2-1 1 0 3 1 2 1"/>
<path class=a6 d="M439 273l2 0 5 1 15-1 0 1 40-1"/>
<path class=a5 d="M439 274l2 0 1-1"/>
<path class=a3 d="M458 274l1-1 0 0 2 0 0 1 1 0 6-1 5 0 0 0 4 0 0 1 3-1 3 1 4-1 1 1 3-1 8 0"/>
<path class=a4 d="M458 274l1-1 41 0"/>
<path class=a0 d="M542 273l26 1"/>
<path class=a2 d="M465 273l14 0 0 0 0 1 4-1 8 1 1-1 3 1 2-1 2 1 1-1 7 1 1 0 14-1 0 1 3-1"/>
<path class=a1 d="M487 274l8 0 1-1 5 1 1-1 3 0 2 1 1 0 7-1 7 0 6 0 2 1 1-1"/>
<path class=a2 d="M476 272l0 0 1 0 0 0 9 0 1 0 3 0 1 0 0 1 2-2 14 0"/>
<path class=a5 d="M439 271l0 1 17 0 6-1"/>
<path class=a1 d="M495 273l2-1 2 0 2 0 1 0 4 0 11-1 6 1 0 0 0 0 2 0 8 0"/>
<path class=a7 d="M432 271l27 4"/>
<path class=a3 d="M458 272l1-1 2 0 0 1 1-1 0 1 0 0 2 0 6 0 0 0 4 0 2 0 3-1 0 1 2-1 0 1 3 0 2 0 1 0 1 0 2 0 1-1 2 1 0 1 9-1"/>
<path class=a4 d="M458 272l6 0 4 0 11-1"/>
<path class=a6 d="M439 271l9 1 23-1"/>
<path class=a0 d="M522 270l4 0"/>
<path class=a5 d="M441 271l8 0 39 0"/>
<path class=a2 d="M459 270l15 1 5 0 2-1 2 1 3-1 1 0 1 1 2 0 1 0 2-1 0 1 4-1 5 0 6 0 14 0"/>
<path class=a3 d="M456 270l2 0 1 0 2 0 0 1 4 0 2-1 3 1 1-1 0 0 6 0 6 1 4-1 4 1 10 0 1-1 13 0"/>
<path class=a1 d="M484 270l3 0 12 1 4-1 10 0 9 0 0 0 1 0 1 0 0 0 2 0 0 0 17 0 0 1 1-1"/>
<path class=a6 d="M442 271l35-1 9 0"/>
<path class=a4 d="M456 270l11 1 6-1 10 1"/>
<path class=a5 d="M439 268l2 1 29-1 0 1 27 0"/>
<path class=a0 d="M543 269l25 0"/>
<path class=a1 d="M487 268l16 0 19 0 0 1 1-1 3 1 1 0 8 0"/>
<path class=a3 d="M459 268l2 1 1 0 5-1 0 1 4 0 6-1 0 1 4 0 2 0 3 0 1 0 8 0 4-1 10 1"/>
<path class=a2 d="M467 269l3 0 1 1 2-2 1 1 5 0 1 0 6 0 1-1 1 0 3 1 0 0 0 1 1-2 0 0 1 0 2 1 1 0 7 0 21 0"/>
<path class=a4 d="M441 269l20-1 1 0 11 0 7 1 6-1 14 1 5 1 2-1 13 0"/>
<path class=a1 d="M487 267l9 0 5 0 1 1 1 0 3 0 1 0 1-1 11 1 3-1 2 1 4-1 2 1 2 0 10 0"/>
<path class=a4 d="M465 267l9 1 3 0 11 0 2 0 27-1"/>
<path class=a5 d="M439 268l0 0 2-1 0 1 18-1 11 0 7 1 7-1"/>
<path class=a3 d="M456 268l0 0 3 0 0 0 2 0 1 0 6-1 3 1 6-1 10 1 19 0"/>
<path class=a2 d="M458 268l15 0 0 0 10 0 4 0 3-1 0 0 5 1 2-1 4 0 1 0 3 1 2 0 19 0"/>
<path class=a6 d="M441 268l18-1 2 0 0 0 51 1"/>
<path class=a4 d="M439 266l14 0 8 0 1 0 0 1 5 0 6-1 1 0 13 0 10 0"/>
<path class=a2 d="M471 266l3 1 14-1 3 0 0 0 0 0 1 0 0 0 0 0 4 0 12 0 1 0 3 1 2-1 10 0"/>
<path class=a3 d="M456 266l2 0 1 0 3 0 3 0 5 1 1-1 0 0 5 1 1-1 3 0 0 1 6-1 0 0 5 0 0 1 9-1 1 0 0 0 5 0"/>
<path class=a6 d="M439 266l17 0"/>
<path class=a1 d="M500 266l2 0 5 0 10 0 5 0 0 0 0 0 1 0 0 0 5 0 14 0 0 0 3 0"/>
<path class=a3 d="M459 264l2 1 3 0 0 0 4 0 5 0 8 0 3 0 2-1 2 0 8 1 13 0"/>
<path class=a1 d="M476 265l14-1 13 0 2 1 3 0 11-1 3 1 2-1 4 1 0 0 0 0 5 0 1 0"/>
<path class=a4 d="M459 265l2-1 7 0 8 1 5 0"/>
<path class=a2 d="M461 265l1 0 9 0 5 0 10 0 6 0 1-1 2 1 1 0 4-1 0 1 2 0 11 0 6 0 3-1 1 1 0 0 2 0"/>
<path class=a5 d="M439 264l0 1 2 0 1 0 16-1 1 1 6 0 8 0 18 1"/>
<path class=a0 d="M560 265l8 0 4 2"/>
<path class=a1 d="M496 263l3 0 1 0 0 0 3 1 3-1 1 0 0 1 9-1 3 1 12 0 1-1 0 0 11 0 1 0"/>
<path class=a2 d="M465 264l2-1 4 0 2 0 11 0 3 1 5 0 3-1 5 1 1 0 28-1 13 1"/>
<path class=a7 d="M439 264l28 1"/>
<path class=a3 d="M458 264l1-1 5 0 7 1 2 0 4-1 3 0 3 0 3 0 1 0 0 1 3 0 2 0"/>
<path class=a4 d="M441 264l5 0 16-1 5 1 1 0 3-1 2 0 6 0 1 1 7-1 4 0"/>
<path class=a5 d="M439 263l2 0 17 1 1 0 6 0 26-1"/>
<path class=a1 d="M496 262l10 0 2 1 1-2 13 1 0 0 1 0 0 0 0 0 3 0 5 0 5 1 4-1 2 0 1-1"/>
<path class=a0 d="M568 264l2-2"/>
<path class=a5 d="M441 262l1 0 17 0 12 0 17 0"/>
<path class=a7 d="M420 263l8-2 28 1"/>
<path class=a3 d="M467 263l1-1 6 1 5 0 8 0 1-1 3 0 10 0 10 1"/>
<path class=a4 d="M439 262l17 0 0 0 18 1 2-1 10 1"/>
<path class=a6 d="M442 262l12 1 26 0 12 0 0 0"/>
<path class=a2 d="M470 262l0 0 3 0 6 0 2 0 2 0 5 1 0 0 2 0 1-1 4 0 0 1 2-1 5 0 3 0 3 0 14 0"/>
<path class=a3 d="M456 260l0 0 9 1 3 0 2 0 0 0 3 0 1 0 0 0 9 0 4 0 10 0 6-1 3 1"/>
<path class=a5 d="M439 261l0 0 25-1"/>
<path class=a4 d="M461 260l6 1 4 0 5 0 8-1"/>
<path class=a2 d="M461 261l22 0 1-1 3 1 1 0 3-1 1 0 1 1 0 0 4 0 2-1 0 1 2-1 10 1 3 0 8-1 7 1 4-1"/>
<path class=a7 d="M411 260l48 1 6 0 41 0"/>
<path class=a1 d="M502 260l6 1 6-1 5 1 3 0 0 0 1 0 2 0 1 0 0 0 1 0 10 0 5 0 8 0"/>
<path class=a0 d="M548 261l20-1"/>
<path class=a5 d="M439 259l2 0 33 0 12 0 16 0"/>
<path class=a3 d="M441 260l20-1 3 1 0 0 1-1 6 1 0 0 2 0 3-1 7 1 1 0 2-1 4 0 3 0 2 0 1 1 3 0 1-1 8 1"/>
<path class=a2 d="M479 260l7-1 1 0 1 0 0 0 3 0 0 0 1 1 1-1 12 0 24 1 5-1 11 0"/>
<path class=a1 d="M502 260l6 0 8-1 1 0 5 0 1 1 0 0 2-1 0 0 1 0 1 1 0 0 23 0"/>
<path class=a4 d="M458 260l1-1 2 0"/>
<path class=a0 d="M574 259l0 0"/>
<path class=a6 d="M439 260l3-1 19 0 1 0"/>
<path class=a3 d="M456 258l6 0 2 0 1 0 2 1 1-1 0 0 2 0 7 1 3-1 15 0 1 0 1 1 3-1 1 1 1-1"/>
<path class=a0 d="M551 258l17 0 4 0"/>
<path class=a5 d="M439 257l19 1 1 0"/>
<path class=a1 d="M499 258l8 1 4-1 0 1 9-1 2 0 0 0 1 0 0 0 0 1 10-1 1 0 4 0 6 1 14-1"/>
<path class=a4 d="M456 258l3 0 6 1 8-1 23 0 7 0 8 0"/>
<path class=a2 d="M473 258l8 0 10 0 0 0 0 1 4-1 2 0 9 0 9 0 21 0 5 0"/>
<path class=a6 d="M439 258l40 0"/>
<path class=a7 d="M439 259l0 1 7-2 30 0"/>
<path class=a5 d="M458 256l1 0 34 0 13 1"/>
<path class=a6 d="M441 257l5-1 21 1"/>
<path class=a1 d="M486 256l11 1 4-1 0 0 13 0 3 1 6 0 2 0 2-1 0 1 0 0 2 0 14-1 0 1"/>
<path class=a4 d="M453 256l6 0 0 0 2 0 1 0 3 1 0 0 2 0 3 0 0 0 16-1 5 0"/>
<path class=a3 d="M461 257l3-1 1 1 2 0 6-1 1 1 0 0 3 0 4 0 2 0 9 0 3-1 18 1"/>
<path class=a2 d="M464 256l13 1 9 0 1-1 0 1 1-1 2 0 11 0 2 0 0 1 4 0 15-1 1 1"/>
<path class=a1 d="M507 255l5 0 10 1 2 0 1-1 0 0 1 0 3 1 1-1 0 1 1 0 2-1 1 0 4 0 0 0 4 0 3 0 2 0 11 0 6 1"/>
<path class=a7 d="M439 255l2 2 38-2"/>
<path class=a5 d="M441 255l1 1 26-1"/>
<path class=a2 d="M476 255l11 1 4-1 1 1 3-1 4 1 2 0 12-1"/>
<path class=a4 d="M456 256l3-1 5 0 0 0 6 0 7 0 45 1"/>
<path class=a3 d="M456 256l5 0 3-1 7 1 3-1 2 1 4 0 1-1 0 0 9 1 3-1 16 1"/>
<path class=a0 d="M545 255l3 1 7-1 13 0 2 1 2-1 7 1"/>
<path class=a6 d="M426 254l13 1 5-1 14 0 3 1 4-1"/>
<path class=a4 d="M448 254l8 0 3 0 0 1 6-1 3 1 5-1 15 0 3 0 31 0"/>
<path class=a5 d="M458 254l3 0 4 0"/>
<path class=a1 d="M491 254l14 0 10 0 7 1 1-1 0 0 2 0 1 0 1 0 4 0"/>
<path class=a2 d="M465 254l6 0 2 0 6 1 7-1 4 0 0 0 1 0 1 0 1 1 6-1 1 0 3 0 2 0 0 0 17 0 1 0"/>
<path class=a3 d="M461 254l6 0 6 0 1 0 5 0 1 0 3 0 1 0 2 1 1-1 0 1 8-1 4 1"/>
<path class=a4 d="M441 252l18 1 6 0 5 0 3 0 3-1 25 1 7 0"/>
<path class=a3 d="M458 252l1 1 2 1 3-1 0 0 1 0 3 0 6 0 5 0 1 0 1 0 5-1 0 1 0 0 1 0 0 0 1 0 2 0 7 0 0 0 5 0 0 0 11 0"/>
<path class=a2 d="M479 253l13-1 3 1 0 1 2-2 3 1 2 0 6 0 14-1 3 2"/>
<path class=a0 d="M550 254l18-1"/>
<path class=a5 d="M439 253l17-1 3 1 3 0"/>
<path class=a6 d="M439 253l35 0"/>
<path class=a1 d="M493 253l12 0 3 1 5-1 9 0 0 0 1-1 1 0 2 1 4 0 3 0 10 1"/>
<path class=a0 d="M570 251l12 0"/>
<path class=a6 d="M439 252l2 0 20-1"/>
<path class=a2 d="M474 251l3 1 10 0 3-1 0 1 1-1 2 0 6 1 1 0 1 0 1-1 3 1 4-1 2 1 4-1 2 0 15 0"/>
<path class=a5 d="M439 251l0 1 2 0 26 0 4 0 19-1"/>
<path class=a1 d="M493 252l15-1 0 0 15 1 3-1 1 1 5 0 2 0 8-1 1 1 3-1 4 1"/>
<path class=a4 d="M461 252l1-1 3 0 6 1 6 0 4-1 10 0 6 0 0 1 2-1"/>
<path class=a7 d="M441 251l46 4"/>
<path class=a3 d="M456 252l8-1 0 0 1 0 3 1 6-1 3 1 15-1 41 0"/>
<path class=a2 d="M487 250l0 0 6 0 6 0 3 0 0 0 3 0 4 0 3 0 10 0 1 0 16 0"/>
<path class=a1 d="M501 250l11 0 10 0 0 0 1 0 0 0 5 0 0 0 9 0 5 0 9 0 7 0"/>
<path class=a5 d="M461 250l4 1 18-1 8 0 18 0"/>
<path class=a3 d="M456 250l2 0 1 0 9 0 0 0 8 0 1 1 2-1 4 0 4 1 6-1 21 1 15-1"/>
<path class=a6 d="M439 250l28 0 6 1"/>
<path class=a4 d="M458 250l1 0 0 0 2 0 0 0 9 0 16 0 0 0 0 0 4 0 2 0 4 1 4 0 14-1"/>
<path class=a5 d="M439 248l28 1 6 0 7-1 7 1"/>
<path class=a3 d="M467 249l1 0 3 0 2 0 1-1 5 1 2 0 2 0 3-1 1 1 8-1 1 0 5 1"/>
<path class=a6 d="M439 248l2 0 18 0 3 1"/>
<path class=a2 d="M465 248l19 0 11 1 5-1 5 1 2 0 0 0 9 0 10-1 1 1 9 0"/>
<path class=a1 d="M488 248l24 0 3 1 5 0 2-1 0 0 0 1 2-1 1 1 1-1 3 1 3 0 2 0 3 0 5 0"/>
<path class=a4 d="M456 248l8 1 6-1 1 1 2-1 6 1 8 0 1-1 3 1 4 0"/>
<path class=a0 d="M570 248l0 3 2-3"/>
<path class=a0 d="M570 248l4 0 6-1 25 0"/>
<path class=a4 d="M439 247l19 1 1-1 0 0 0 1 3 0 5-1 0 1 30 0"/>
<path class=a1 d="M511 247l13 1 1 0 8-1"/>
<path class=a3 d="M458 248l1 0 6 0 2-1 4 0 0 1 0 0 6-1 2 0 0 1 2-1 5 1 1-1 0 1 3 0 1-1 0 1 0 0 0 0 5-1 3 1 7 0 10-1"/>
<path class=a2 d="M442 248l32 0 18-1 5 0 4 1 6-1 5 1 11 0 2-1 17 0"/>
<path class=a5 d="M439 248l2 0 18 0 3-1 3 1 0 0 6 0 3 0 14-1"/>
<path class=a7 d="M439 246l2 1 23-1 1 1"/>
<path class=a6 d="M439 246l5 2 24-2"/>
<path class=a2 d="M464 247l12 0 11 0 8-1 6 1 15-1 1 0 6 1 3-1 1 1 11-1"/>
<path class=a5 d="M461 246l19 1 10 0 15-1"/>
<path class=a4 d="M456 246l2 0 6 0 7 0 21 1 16-1"/>
<path class=a3 d="M456 246l6 0 6 0 2 1 6-1 5 0 3 1 2-1 2 1 3-1 0 1 2 0 6-1 7 1"/>
<path class=a1 d="M486 246l14 0 6 0 7 1 9-1 0 0 0 1 1-1 0 1 2-1 1 1 6 0 1-1 2 0 0 0 1 1 6-1 0 0 3 1"/>
<path class=a6 d="M439 245l2 0 18 0 0 0"/>
<path class=a3 d="M462 244l8 0 1 1 2 0 3 0 4-1 1 1 6-1 0 1 1-1 5 1 7 0 1 0 2 0 2-1 1 1 22 1"/>
<path class=a4 d="M439 244l22 0 9 0 4 0 3 0 20 1 0 0 14 0"/>
<path class=a2 d="M486 245l1 1 1-2 8 2 5-1 2-1 3 1 7 0 6 0 6 0 0 0 3-1 2 1 7 0 5 0"/>
<path class=a5 d="M473 245l13 0"/>
<path class=a1 d="M509 245l13 0 0 0 1-1 0 0 8 1 2 0 1 0 8 0 2 1 24-1 0 1"/>
<path class=a0 d="M570 244l7-1 5 2"/>
<path class=a1 d="M497 243l19 1 1 0 5 0 2 0 4 0 1 0 1-1 1 1 1 0 1 0 2 0 15 0 6-1"/>
<path class=a4 d="M456 244l2 0 1 0 6 0 0 0 3 0 8-1 3 1 7 0 1-1"/>
<path class=a5 d="M441 243l17 1 3 0 10 0 8 0 18 0"/>
<path class=a7 d="M422 243l55 3"/>
<path class=a2 d="M486 243l6 1 1 0 0 0 0 0 2-1 5 0 1 1 2-1 0 1 3-1 0 0 5 0 6 1 11 0 6-1"/>
<path class=a3 d="M473 243l3 1 3 0 1 0 1-1 3 0 3 0 1 1 5 0 6 0 9-1"/>
<path class=a7 d="M439 243l19 0"/>
<path class=a1 d="M506 242l9 1 2 0 5-1 0 0 1 1 1-1 3 1 2 0 6 0 1-1 6 0 0 1 2 0 2 0"/>
<path class=a6 d="M459 243l2 0 38 0"/>
<path class=a2 d="M491 242l4 1 2 0 4 0 2-1 0 0 8 1 12-1 7 0 2 1 14-1 6 1"/>
<path class=a3 d="M461 243l3-1 4 0 0 0 5 1 3 0 5-1 6 0 1 0 2 0 1 1 0 0 31-1"/>
<path class=a4 d="M458 243l1-1 5 0 1 1 5-1 16 1"/>
<path class=a5 d="M439 242l17 1 3-1 2 0 3 0 3 1 6 0 17-1"/>
<path class=a5 d="M439 242l20-1 56 1"/>
<path class=a2 d="M487 242l9-1 5 0 0 0 1 1 7-1 10 0 6 1 6-1 0 0 4 0"/>
<path class=a6 d="M446 242l12-1 3 0"/>
<path class=a3 d="M468 242l3-1 2 1 1 0 2-1 5 0 5 0 1 0 1-1 3 2 2-1 3 0 6 1 10-2"/>
<path class=a1 d="M493 241l13 1 21-1 1 1 4-1 0 1 1 0 2-2 1 1 3 1 1-1 2 0 1 0 0 0 7 0 8 1 10-1"/>
<path class=a4 d="M458 241l6 0 3 1 3-1 1 1 5 0 1 0 4-1 5 0 1 0 1 0 17 0"/>
<path class=a0 d="M568 242l16-2"/>
<path class=a7 d="M441 239l18 1"/>
<path class=a2 d="M473 239l20 1 0 0 3 0 5-1 8 1 14 0 3 0 3-1 2 1 14 0"/>
<path class=a5 d="M459 240l2-1 3 1 7-1 15 1"/>
<path class=a1 d="M519 240l3 0 0 0 0 0 1 0 1 0 4 0 1 0 3 0 2-1 9 1 2 0"/>
<path class=a3 d="M459 240l9-1 2 1 13 0 0 0 5 0 5-1 3 1 3 0 1 0 1 0 5 0 2 0 23 0"/>
<path class=a4 d="M458 240l6 0 1 0 2 0 0 0 10-1 2 0 1 1 1 0 14 0 4 0 1 0 0 0 12 0"/>
<path class=a2 d="M486 238l2 1 3 0 4-1 1 0 4 0 1 1 2-1 9 1 1 0 0 0 1-1 8 1 0 0 2-1 2 0 2 1 8-1 13 1"/>
<path class=a6 d="M439 239l0 0 19-1 33 0"/>
<path class=a1 d="M506 238l13 0 3 0 1 0 7 0 12 0 1 0 7 0 14 1"/>
<path class=a3 d="M459 238l11 0 6 0 1 1 9-1 0 0 1 0 0 0 0 0 1 1 0 0 3 0 4-1 1 0 13 1 14-1"/>
<path class=a5 d="M456 238l3 0 12 1 6 0 3 0 15 0"/>
<path class=a4 d="M456 238l9 0 0 1 2-1 6 0 7 0 0 0"/>
<path class=a0 d="M568 237l0 0 4 0"/>
<path class=a6 d="M449 238l10-1 27 1"/>
<path class=a3 d="M465 237l11 1 1-1 9 0 1 0 3 0 5 0 0 0 10 0 3 0 1 0"/>
<path class=a4 d="M459 237l2 0 4 0 5 0 4 1 7 0 12-1 10 0"/>
<path class=a2 d="M487 238l6-1 0 0 2 0 1-1 0 1 3 1 3 0 0 0 5-1 0 0 4 0 2-1 0 1 0 0 13 0"/>
<path class=a5 d="M439 237l0 0 2 0 3 0 0 0 21 0 11 0 40 0"/>
<path class=a1 d="M516 237l6-1 3 1 0 1 3 0 2 0 1-1 9 0 2 0 23 0"/>
<path class=a4 d="M458 236l6 0 3 0 4 0 10 0 10-1 0 1 5-1"/>
<path class=a0 d="M570 235l0 1"/>
<path class=a2 d="M461 235l26 1 8 0 0 0 5-1 0 1 0 0 1 0 4 0 10 0 28 0"/>
<path class=a3 d="M456 236l14 0 3 0 0 0 3-1 8 0 3 0 1 1 0 0 3 0 5 0 9 0 1-1"/>
<path class=a7 d="M458 236l1 1 3-1 0 0"/>
<path class=a5 d="M441 236l23 0 3-1 0 1 20-1 3 0 1 1"/>
<path class=a1 d="M512 236l1-1 9 1 0 0 1 0 0 0 1 0 3-1 0 0 1 0 2 1 2 0 5-1 2 0 3 1"/>
<path class=a5 d="M456 234l9 0 11 1 16 0"/>
<path class=a3 d="M458 234l4 0 17 0 2 0 5 0 0 1 1-1 0 0 1 1 4-1 3 0"/>
<path class=a4 d="M465 234l0 0 9 0 6 0 19 0 24 0"/>
<path class=a6 d="M441 234l15 0 3 1 24 1 7-2"/>
<path class=a1 d="M513 235l9 0 0 0 3 0 3-1 2 1 2-1 4 0 2 0 3 1 3-1 3 1 0 0 1-1 0 1 17-1"/>
<path class=a0 d="M570 234l0 1 2-1"/>
<path class=a2 d="M492 234l3 0 2 1 2-1 1 1 6 0 9 0 7-1 2 0 0 0 2 1 10-1 0 0 4 0 6 0"/>
<path class=a2 d="M495 233l6-1 1 1 1-1 4 2 1-1 1 0 2 0 2 0 9 0 4 0 1 0 1 0 4 1 14-1"/>
<path class=a4 d="M461 233l1 1 3-1 5 0 3 0 15 0 2 0 2 0"/>
<path class=a6 d="M459 233l6 0 11 0 4 0"/>
<path class=a3 d="M465 233l18 0 3-1 0 0 1 1 0 0 4 0 5 0 4-1 8 1 4 0 1 0 33-1"/>
<path class=a5 d="M461 234l1-2 2 1 3 1 7-1 0 0"/>
<path class=a7 d="M439 234l2-1"/>
<path class=a0 d="M568 233l2 0 4-1"/>
<path class=a1 d="M503 233l9-1 1 1 7 0 7 1 1-2 6 1 6-1 3 1 15-1"/>
<path class=a6 d="M439 231l2 0 15 1 3 0 8 0 3-1 23 0"/>
<path class=a2 d="M491 231l2 0 2 0 1 0 7 1 2-1 2 1 5-1 11 1 4-1 3 0 0 1 2-1 10 1"/>
<path class=a3 d="M470 232l14-1 4 1 4-1 3 0 1 0 0 1 0 0 4-1 3 0 0 0 3 0 1 1 4 0 11 0"/>
<path class=a7 d="M441 231l18 0"/>
<path class=a1 d="M522 232l1 0 0 0 5-1 14 0 1 0 0 1 2 0 1 0 4-1"/>
<path class=a5 d="M458 232l0 0 3 0 1-1 3 0 15 0"/>
<path class=a4 d="M470 231l16 1 1 0 9-1 29 1"/>
<path class=a4 d="M458 230l4 0 0 0 3 0 0 0 5 0 3-1 0 1 13 0 25 1 11-1"/>
<path class=a2 d="M490 229l5 2 4-2 13 1 10 0 1 0 2-1 1 1 0 0 1 0 4 0 2 1"/>
<path class=a0 d="M574 230l52 2"/>
<path class=a5 d="M456 230l2 0 22-1 10 2 2-1"/>
<path class=a7 d="M441 230l24 0 6 1 16-1"/>
<path class=a3 d="M467 229l0 2 3-1 6 0 3 0 7 0 1 0 0 0 1 0 11-1 2 0 27 1"/>
<path class=a1 d="M495 230l27 0 1 0 0 0 10 1 12 0 2-1 1-1 9 1 22 0"/>
<path class=a6 d="M441 230l20 0 16-1 2 1 9 1"/>
<path class=a5 d="M456 228l3 0 0 0 5 0 3 0 9 1 7-1 9 1"/>
<path class=a0 d="M548 229l20 0"/>
<path class=a1 d="M517 229l9 0 2 0 4 0 10-1 1 1 8-1 0 1"/>
<path class=a4 d="M456 228l3 1 5-1 9 0 4 0 0 1 14 0 31-1 4 0"/>
<path class=a3 d="M462 228l8 0 0 1 11-1 0 0 5 1 0 0 0 0 4-1 0 1 1 0 2 0 3 0 1 0 0 0 5-1 3 0 0 1 16-1 1 0 2 0 11 1"/>
<path class=a2 d="M499 229l7 0 17-1 5 0 1 0 7 0 5 1 1 0 8-1"/>
<path class=a4 d="M459 227l5 0 1 0 21 0 0 0 5 0 33 1"/>
<path class=a1 d="M526 226l2 1 0 0 1 0 1 0 0 1 4-1 0 1 2-1 0 1 1-1 1 0 4 0 5 0 18 0"/>
<path class=a5 d="M458 226l6 1 19 0 3 0 1-1 1 1 2 0 3 0"/>
<path class=a6 d="M441 228l17 0 1 0 3-1 38 0 1 0"/>
<path class=a7 d="M439 228l7 0"/>
<path class=a2 d="M488 228l9 0 2-1 2 0 6 1 18 0 12 0 17-1"/>
<path class=a0 d="M568 227l0 0 2 0"/>
<path class=a3 d="M474 227l3 0 2 0 1 1 3-2 0 1 4-1 0 1 5 0 14 0 0 0 1 1 9 0"/>
<path class=a3 d="M468 225l23 1 1 0 0 0 8-1 0 0 1 1 2 0 2-1 18 1"/>
<path class=a4 d="M461 226l9-1 1 1 0 0 3 0 2 0 11-1 37 1"/>
<path class=a6 d="M439 225l3 1 20-1 64 1"/>
<path class=a5 d="M456 226l2 0 1 0 2-1 4 1 5 0 3-1"/>
<path class=a2 d="M474 226l19 0 2 0 1 0 5 0 6 0 1-1 11 1 3 0 1 0 4 0 6 0 14 0 19 0"/>
<path class=a1 d="M522 226l0 0 7-1 5 0 0 0 3 0 0 1 6 0 0 0 2 0 0 0 2 0 2-1 1 1 10 0"/>
<path class=a5 d="M439 225l17-1 2 0 1 0 0 0 5 1 22-1 2 0 24 0"/>
<path class=a6 d="M446 225l10-1 9 0 6 1 6 0 10 0 14 0"/>
<path class=a2 d="M486 224l1 1 15-1 6 1 3 0 0 0 3-1 0 1 1-1 7 0 2 0 18 1 1 0 6-1"/>
<path class=a3 d="M479 225l7 0 4-1 0 0 11 1 4-1 18 0"/>
<path class=a0 d="M570 225l12 0"/>
<path class=a1 d="M520 225l2-1 1 0 2 0 0 1 2 0 1 0 1-1 3 0 1 1 1 0 2-1 8 1 9 0 10 0"/>
<path class=a4 d="M441 225l50 0 1-1 15 0 1 0 14 0 3 1"/>
<path class=a3 d="M464 223l16 0 0 0 8 0 4 0 7 1 3-1"/>
<path class=a5 d="M461 224l3 0 1-1 2 1 7-1 0 1 10-1 18 1"/>
<path class=a0 d="M568 223l2 1 2-1 37 1"/>
<path class=a7 d="M461 224l15 2 38-3"/>
<path class=a1 d="M520 223l7 0 0 0 1 0 3 0 0 0 1 0 1 1 1-1 1 0 4 0 3 0 2 0 2 0 2 0 7 0 2 0 8 0 4 0"/>
<path class=a2 d="M503 223l20 0 2 0 2 0 1 0 1 0 5 0 16 0 3 0"/>
<path class=a4 d="M467 224l4 0 3 0 9-1 0 0 3 0 5 0 14 0 1 1"/>
<path class=a6 d="M439 223l20 1"/>
<path class=a1 d="M522 222l8-1 1 1 5 0 13 0 0 0 11-1 6 0 3 0"/>
<path class=a3 d="M479 222l2 0 5 0 2 0 0 0 3 0 1 0 0 1 28-1 2 0"/>
<path class=a5 d="M458 222l10 0 9-1 16 0 9 0 36 0"/>
<path class=a4 d="M461 222l18-1 7 1 1 0 0 1 3-2 0 1 2-1 9 1 4 0"/>
<path class=a6 d="M456 222l11-1"/>
<path class=a7 d="M439 222l0 0 17 0"/>
<path class=a0 d="M568 222l4-1"/>
<path class=a2 d="M487 222l4 0 2 0 2 0 11 0 1 1 7-1 1 0 7 0 1 0 1 0 1-1 0 1 4 0 3 0 12-1 0 1 1-1"/>
<path class=a7 d="M441 221l15 0 6-1"/>
<path class=a6 d="M456 220l5 0 16 0 14 1 10-1"/>
<path class=a4 d="M462 220l2 1 3 0 6-1 3 1 3-1 1 0 4 1 3 0 0 0 4-1 5 1 1 0 4 0"/>
<path class=a3 d="M486 220l1 1 3-1 1 0 5 1 7 0 2-1 6 0 27 0"/>
<path class=a2 d="M474 221l21-1 16 0 1 0 10 0 0 0 1 0 3 0 1 1 2 0 7-1 8 0 1 1 7-1"/>
<path class=a1 d="M522 220l1 0 1 0 3 0 2 0 0 1 3 0 6-1 5 1 7 0 24 0"/>
<path class=a5 d="M456 221l11 0 52-1"/>
<path class=a0 d="M568 219l0 1 2-1 2 0 12 1"/>
<path class=a4 d="M468 219l8 1 23-1 8 0 6 1"/>
<path class=a2 d="M487 219l8 0 12 0 1 0 0 1 1-1 2-1 14 1 8 0 0 1 2-1 12 0"/>
<path class=a5 d="M462 219l6 0 8 0 10 0 14-1 30 1"/>
<path class=a3 d="M486 219l0 0 1 0 8 0 1 0 1-1 0 1 4 0 2 0 10 0 12 0 7 0"/>
<path class=a6 d="M462 220l12 0 13-2 3 0"/>
<path class=a1 d="M525 219l1 0 1 0 2 0 0 0 1 1 1-1 4 0 1 1 2-1 3 1 3-1 5 0 1 0 3 0 3 1 13-1"/>
<path class=a4 d="M459 218l2 0 27 0 4 0 9 0 22 0"/>
<path class=a3 d="M464 217l22 0 1 0 5 1 1 0 0 0 10 0 3-1 13 0 6 0 18 1"/>
<path class=a2 d="M500 218l2-1 0 0 1 1 2 0 2 0 13 0 2 0 0 0 0 0 2 0 2-1 8 1 1 0 8 0 13 0"/>
<path class=a5 d="M456 217l2 1 1 0 2 0 9 0 10 0 26 0"/>
<path class=a1 d="M523 218l3 0 1 0 7 0 3-1 1 1 1 0 3-1 1 1 14 0 2-1 10 0 1 1"/>
<path class=a0 d="M570 217l4 1"/>
<path class=a6 d="M458 218l10-1 22 1"/>
<path class=a7 d="M458 218l10-1"/>
<path class=a3 d="M491 217l4-1 0 0 4 0 1 1 1-1 4 1 2-1 1 1"/>
<path class=a1 d="M522 216l1 0 6 0 7 1 1-1 2 1 2 0 4-1 1 0 3 0 1 0 1 1 1-1 3 0 4 1"/>
<path class=a5 d="M441 217l15 0 2 0 16-1 6 1 4 0"/>
<path class=a2 d="M487 217l1-1 7 0 10 1 10 0 6-1 1 0 1 0 1 0 1 1 2-1 2 1 10-1 2 0 2 1 2 0"/>
<path class=a6 d="M462 216l0 0 15 1 34-1 18 0"/>
<path class=a4 d="M470 216l7 1 9-1 4 0 1 1 9-1 25 1"/>
<path class=a6 d="M461 215l25 0"/>
<path class=a4 d="M462 215l12 0 12 0 7 0 9 0"/>
<path class=a1 d="M524 214l1 0 0 1 3 1 12-1 3-1 1 1 1 1 4-1 1-1 0 0 14 1"/>
<path class=a2 d="M501 216l14-1 1 0 6-1 0 1 0 0 1-1 2 2 1-1 2 0 1 0 3 0 9 1 2-2 5 1"/>
<path class=a0 d="M574 216l2-1"/>
<path class=a3 d="M480 216l6-1 1 0 0 0 1-1 7 1 4 0 1 0 1 1 8-1 2 1 36-1 0 0"/>
<path class=a5 d="M458 214l0 0 0 0 1 2 6 0 3-2 9 1 2 0 8 1 1-1 2-1 3 1"/>
<path class=a6 d="M470 213l27 0 6 0"/>
<path class=a2 d="M486 213l2 0 42 0 5 0 8 0 1 0 2 0 10 0 1-1 1 1"/>
<path class=a7 d="M483 216l19-3"/>
<path class=a1 d="M464 214l59 0 3-1 0 0 2 0 1 0 4 1 2-1 2 1 7-1 1 0 1 0 5 0 17 0"/>
<path class=a3 d="M487 213l5 1 1-1 15 1 5 0 0 0 4-1 3 0 3 0 2 1"/>
<path class=a5 d="M459 213l8 0 1 0 0 1 5-1 1 1 13 0 21-1"/>
<path class=a4 d="M476 214l0 0 3-1 7 0 6 0 0 1 9-1 5 0 3 0 3 1 4-1 19 0 12 1"/>
<path class=a3 d="M486 211l0 0 5 0 21 1 10 0"/>
<path class=a5 d="M456 212l5 0 3-1 12 0"/>
<path class=a4 d="M458 212l13-1 6 1 4-1 0 1 6 0 1 0 2 0 5-1 4 1 4-1 19 1 1 0 9-1"/>
<path class=a6 d="M442 212l16 0 3 0 1 0 19 0 3 0 13-1"/>
<path class=a2 d="M487 211l14 1 2 0 2-1 0 1 15 0 2-1 5 0 11 0 3 1 3 0 5-1"/>
<path class=a7 d="M456 211l5 1 16-1 14 1"/>
<path class=a1 d="M522 212l2 0 3-1 1 1 4-1 3 1 6 0 1 0 2 0 5-1 1 1 17 0 4 0 1-1"/>
<path class=a1 d="M522 211l1-1 4 0 3 0 3 0 1 0 5 0 0 1 8 0 1 0 1-1 3 0 17 1 0 0"/>
<path class=a7 d="M439 210l5 0"/>
<path class=a0 d="M568 210l24 4"/>
<path class=a5 d="M456 210l3 0 6-1 2 0 0 2 4-1 17 1 2-1 1-1 9 1"/>
<path class=a2 d="M495 211l5-1 11 0 2 1 4 0 11-1 1 1 1-1 1 0"/>
<path class=a4 d="M468 210l23 1 12-1 8 0 37 1 5-1"/>
<path class=a6 d="M458 210l1 0"/>
<path class=a3 d="M474 210l12 1 2-1 4 1 0 0 1-1 4 0 2 0 6 0 7 0 10 0 1 0 0 1 6-1 1 0 2 1"/>
<path class=a4 d="M484 208l3 1 0 0 1 0 12 0 6 0 24 0 12 0"/>
<path class=a5 d="M458 208l1 1 11 0 7-1 9 1 1 0 4-1 23 1 0 0"/>
<path class=a2 d="M499 209l17 0 0 0 6-1 0 1 1-1 8 1 2-1 5 0 0 1 12 0"/>
<path class=a1 d="M527 209l8-1 8 1 1-1 1 1 1 0 1 0 5 0 10 0"/>
<path class=a6 d="M456 208l2 0 1 0 2 1 4 0 0 0 16-1 44 0"/>
<path class=a3 d="M441 209l42-1 3 1 4 0 0 0 1 0 2 0 2-1 4 1 4 0 4 0 5 0 4 0 21-1"/>
<path class=a3 d="M480 208l10-1 1 0 0 0 2 1 9-1 12 0 3 0 5 0"/>
<path class=a6 d="M458 207l1 0 0 1 5 0 1-1 8 1 0 0 1 0"/>
<path class=a4 d="M458 207l6 1 35-1 6 0 2 0"/>
<path class=a0 d="M570 209l7-2"/>
<path class=a2 d="M501 208l4-1 7 1 8 0 2-1 0 0 3 0 5 0 8 1 7 0 7 0 2-1 9 0"/>
<path class=a1 d="M523 208l0 0 2-1 2 1 1-1 1 0 3 1 2-1 2 0 1 1 5-1 1 0 2 1 2-1 21 0 2 0"/>
<path class=a5 d="M461 208l1-1 0 1 8-1 3 0 4 0 28 0 17 1"/>
<path class=a5 d="M458 205l0 1 7 0 0 0 0 0 19 0 2-1 0 1 1-1 3 2 22-1"/>
<path class=a3 d="M486 206l1 0 3 1 2-1 8 0 0 0 2 0 1 0 0 0 22 0 6 0"/>
<path class=a2 d="M508 207l5-2 4 0 6 1 1 0 2-1 0 2 1-1 20 1 6-1"/>
<path class=a0 d="M570 205l12 0"/>
<path class=a1 d="M523 206l5 0 2-1 0 1 0 1 11-1 3 0 3 0 10-1 8 1 4 1"/>
<path class=a6 d="M459 206l5 0 12 0 24 0 5 0"/>
<path class=a4 d="M465 206l9 0 13 0 3 0 5-1 1 0 5 1 1-1 6 0 22 1"/>
<path class=a4 d="M486 204l0 1 5-1 1 1 3-1 1 0"/>
<path class=a5 d="M462 205l6 0 8 0 11-1"/>
<path class=a6 d="M456 205l0 0 3 0 38 0"/>
<path class=a3 d="M477 204l6 1 4 0 4-1 0 1 1 0 0 0 8 0 5 0 9-1 2 1 6-1 1 0 2 1 14 0"/>
<path class=a2 d="M500 205l7-1 2 1 2 0 11-1 1 1 0 0 4-1 5 0 0 1 2-1 10 1 28-1"/>
<path class=a0 d="M570 205l15 0"/>
<path class=a1 d="M522 205l3 0 4-1 0 0 5 0 1 1 1 0 7 0 1-1 3 1 6 0 3 0 13 0 3 0 1-1"/>
<path class=a0 d="M568 203l0 1 2-1 6 0"/>
<path class=a1 d="M525 203l2 0 4 0 0 1 5-1 1 1 12-1 1 0 1 0 17 0 0 0"/>
<path class=a2 d="M525 203l1 1 2-1 1 0 0 1 6-1 4 0 1 1 5-1 0 1"/>
<path class=a5 d="M458 203l1 1 2 0 1-1 3 0 0 0 3 1 15-1 9 0"/>
<path class=a7 d="M439 204l0 0 5 0"/>
<path class=a3 d="M490 203l2 0 3 1 0 0 5 0 3-1 2 1 2-1 1 0 5 1 33-1"/>
<path class=a4 d="M470 203l16 0 1 0 10 1 20-1"/>
<path class=a6 d="M461 204l4 0 11-1 1 0 10 0 3 0 3 0 9 1"/>
<path class=a2 d="M503 201l19 1 0 0 1 0 3 0 1 0 2 0 5 0 0 0 0 0 8 0 36 0"/>
<path class=a7 d="M487 202l10 0"/>
<path class=a5 d="M458 202l1 0 0 0 5 0 27 0 8 0 10 0 13 0 1 0"/>
<path class=a1 d="M523 202l3 0 4-1 0 1 1 0 1 0 5-1 6 1 0 0 8-1 12 1"/>
<path class=a3 d="M487 202l0 0 3 0 7 0 8 0 4 0 0 0 0 0 8 0 24 0 9-1"/>
<path class=a4 d="M458 202l12 0 3 0 7-1 4 1 2-1 0 1 4 0 5-1 1 1 10-1 9 1"/>
<path class=a0 d="M570 202l0 0"/>
<path class=a5 d="M456 201l2 0 3-1 9 1 13 0 3-1 0 1 57-1"/>
<path class=a0 d="M568 201l2-1"/>
<path class=a7 d="M458 201l6 0"/>
<path class=a3 d="M487 201l4 0 1-1 0 1 4-1 4 1 7-1 2 1 13-1 1 0 2 1 3-1 1 0 4 1 7-1 11 0 1 1"/>
<path class=a1 d="M522 200l2 0 0 0 10 1 2 0 1 0 2-1 0 1 3-1 27 1"/>
<path class=a6 d="M465 200l2 1 21-1 0 0 14 1 0 1"/>
<path class=a2 d="M511 200l2 1 1-1 8 1 6-1 6 1 8-1 5 1 5 0 1 0 15 0"/>
<path class=a4 d="M465 201l5 0 9-1 33 1 13-1"/>
<path class=a2 d="M511 199l11 0 3 0 10-1 5 1 2 1 3-2 7 1"/>
<path class=a3 d="M486 200l2-1 4 0 3 1 2-1 3 0 1 0 0 0 0 0 14 1 15 0 11-1 3 1"/>
<path class=a5 d="M459 199l2 0 3 0 9 1 10-1 0 1 5-1 18 1 0 0 8-2"/>
<path class=a6 d="M459 199l8 0 1 0 25 0 26 0"/>
<path class=a7 d="M497 199l55 0"/>
<path class=a1 d="M522 199l1 0 4 0 0 1 7-1 10-1 1 1 6 0 17 0 1 0"/>
<path class=a4 d="M467 199l13 0 6 0 0 0 9 0 0 1 8-1 5 0 6 0 6 0 6 1"/>
<path class=a1 d="M523 198l4-1 5 0 18 1 8 0 6-1 5 0 0 1 7 0 8 0"/>
<path class=a2 d="M516 198l3-1 3 1 7-1 1 1 2 0 2-1 1 0 2 0 9 1 3-1 12 0"/>
<path class=a5 d="M456 198l17-1 1 0 14 1 11 0 24 0"/>
<path class=a7 d="M439 198l0 0 2-1 17 1 1 0 11 0 7 0 19-1"/>
<path class=a6 d="M458 197l0 1 1 0 21-1"/>
<path class=a3 d="M486 198l2-1 3 1 0 0 5-1 0 1 5 0 8 0 10-1 14 0"/>
<path class=a4 d="M468 198l6 0 2 0 11-1 3 1 3 0 6 0 10 0 5-1 19 1"/>
<path class=a3 d="M486 196l1 1 3-1 3 0 2 0 2 1 3 0 5 0 1 0 0 0 2-1 15 0 0 1 0 0 2-1 33 0"/>
<path class=a5 d="M459 197l2-1 6 0 1 0 8 1 5 0 2-1 7 1 1-1 6 0"/>
<path class=a6 d="M456 196l2 0 9 0 19 0"/>
<path class=a4 d="M474 196l3 0 10 1 14-1 0 1 13-1 1 1 7-1"/>
<path class=a1 d="M527 196l14 1 3-1 1 0 1 0 9 0 3 0 14 0 1 1"/>
<path class=a2 d="M516 197l6-1 0 0 4 1 4 0 1-1 11 1 1 0 2-1 2 0 1 0 21 0"/>
<path class=a5 d="M458 195l0 0 1 0 2 0 6 0 24 0 8 0 1 0 3 0"/>
<path class=a6 d="M456 195l3 1 3 0 9-1 3 0 14-1 38 1"/>
<path class=a1 d="M526 195l5 0 6 0 1 0 2 0 1 0 1 0 1 0 4 0 20-1 2 1 1 0 2 0"/>
<path class=a7 d="M459 194l0 3 21-2"/>
<path class=a2 d="M502 195l23 0 3 0 5 0 3 0 1 0 10 0"/>
<path class=a4 d="M473 195l10 0 4 0 4 0 0 1 1 0 7-1 15 0 15 0 11 0"/>
<path class=a3 d="M502 195l3-1 2 1 9 0 4 0 11 0 1-1 19 1"/>
<path class=a0 d="M568 195l2 0 4 0 3 4 35-4"/>
<path class=a6 d="M470 193l17 0 26 1 10 0"/>
<path class=a2 d="M517 194l5 0 1 0 2-1 0 1 3 0 2-1 9 1 4 0 12 0"/>
<path class=a3 d="M495 194l8-1 0 0 6 0 0 1 2 0 4 0 7 0 32 0"/>
<path class=a1 d="M522 194l9-1 0 0 0 1 3-1 1 1 0 0 3 0 3 0 6 0 1 0 5-1 5 1 4-1 2 0 5 1"/>
<path class=a7 d="M461 194l3 0 13 0"/>
<path class=a4 d="M499 193l2 0 6 0 16 1 10 0"/>
<path class=a5 d="M461 193l1 0 2 1 1-1 2 0 7 1 3-1 2 1 4 0 3-1 1 0 4 1 10 0"/>
<path class=a2 d="M501 192l10 0 11 0 0 0 1 0 1 0 5 0 6 1 10-1 1 0 12 0 10 1"/>
<path class=a5 d="M465 192l5 1 6-1 4 0 3 0 13 0"/>
<path class=a1 d="M522 192l1 0 2 0 4 0 0 1 10 0 1-1 3 0 0 1 3-1 2 0 12 0 8 1 1-1 3 0 2 1"/>
<path class=a6 d="M461 192l1 0 0 0 18 0"/>
<path class=a3 d="M491 193l2-1 10 0 3 0 3 0 0 1 7-1 27 1"/>
<path class=a7 d="M456 192l2 0 0 0"/>
<path class=a4 d="M459 192l28 0 3 0 0 1 2-1 1 1 2-1 2 1 8-1 3 1 4-1"/>
<path class=a7 d="M479 190l48 1"/>
<path class=a5 d="M459 191l6-1 2 1 1 0 9 1 15 0 30-1"/>
<path class=a3 d="M486 191l1 0 4 0 16-1 1 1 1 0 16 0 13 0 7-1"/>
<path class=a1 d="M531 191l7 0 2-1 2 1 1 0 8 0 6-1 0 1 3-1 8 0 2 1"/>
<path class=a2 d="M525 191l2 0 4 0 2 0 0 0 4 0 0 0 1 0 2 0 2-1 3 1 2 0 7 0 7 0"/>
<path class=a4 d="M398 191l76 0 6 1 7-1 3 0 0 0 5 0 1 1 3-1 1 0 22-1"/>
<path class=a6 d="M458 191l12 0 16 0 5 0 42 1"/>
<path class=a2 d="M502 190l18 0 2 0 1 0 1 0 1 0 2 0 1-1 7 0 7 0 5 0 1 0 13 0"/>
<path class=a3 d="M490 190l7 0 2 0 8 0 5 0 22 0 5-1 8 1"/>
<path class=a7 d="M456 189l3 0 9 0 27 0 32 1"/>
<path class=a4 d="M487 189l1 1 3 0 2 0 3 0 10 0 18 0 3-1 3 1"/>
<path class=a1 d="M526 189l18 0 11 0 2 1 1 0 3-1 2 0 5 1 0 0 2 0"/>
<path class=a6 d="M458 189l0 0 28 1 9 0 1 0"/>
<path class=a5 d="M456 190l21 0 9-1 5 1 1 0 7 0 12-1 18 0"/>
<path class=a0 d="M533 189l37 1 35 0"/>
<path class=a6 d="M459 188l12-1 34 2"/>
<path class=a3 d="M481 188l6 0 15 0 0 0 6 0 4 0 1 0 0 0 1 1 10-1"/>
<path class=a5 d="M459 188l0 1 8-1 3 1 18-1 15-1"/>
<path class=a2 d="M487 189l20-1 15 0 0 0 0 1 1-1 0 0 2 0 5 0 0 0 1 0 2 0 8-1 0 1 7 0 21 1"/>
<path class=a4 d="M470 188l10 0 11-1 2 1 10 0 3 0 2-1 25 1"/>
<path class=a7 d="M474 188l12 1"/>
<path class=a1 d="M525 188l10 0 8 1 2-2 5 1 1 0 9-1 4 1 2 1 2 0 0 0 1 0 3-1 7 0"/>
<path class=a5 d="M459 187l5 0 6 0 4-1 6 0 7 1 1 0 12 0 0 0 36-1"/>
<path class=a7 d="M458 186l0 1 0 0 29-1"/>
<path class=a4 d="M486 187l4 0 2-1 5 0 28 1 19-1"/>
<path class=a3 d="M491 186l23 1 3 0 5-1 0 1 1-1 2 1 1 0 0 0 3 0 3 0 3-1 9 0 10 0"/>
<path class=a6 d="M464 187l0 0 4 0 31 0"/>
<path class=a2 d="M522 187l1 0 1 0 5 0 6 0 5 0 5 0 3 0 2 0 9 0"/>
<path class=a0 d="M570 186l0 1 14 0 25-1 3 1"/>
<path class=a1 d="M534 187l10-1 5 1 20-1 0 0 0 1 4-1 13 1"/>
<path class=a3 d="M493 185l2 0 5 0 1 0 13 0 8 0 3 1 10-2 8 1"/>
<path class=a1 d="M524 185l5 1 8 0 3 0 3-1 2 1 1-1 1 1 3-1 0 0 0 0 3 0 1 0 18 0 0 0 10 1"/>
<path class=a5 d="M462 185l2 0 10 0 7 0 2 0 3 0 6 0"/>
<path class=a2 d="M522 185l3 0 4 1 1-1 0 0 1 0 0 1 1 0 1-1 3 0 2 1 1-1 10 0 5 0 1 0"/>
<path class=a7 d="M458 185l29 1 71-1"/>
<path class=a6 d="M458 185l3 0 1 0 9 0 8 1 18-2 5 1 5 0"/>
<path class=a1 d="M528 184l5 0 3-1 7 0 22 0 4 1 0 0 4 0 3 0 5 0 4-1"/>
<path class=a5 d="M456 184l3 0 3-1 5 1 1 0 11 0 7 0 0 0 1-1 3 1 17-1 7 1"/>
<path class=a6 d="M459 183l0 1 3 0 8 0 20-1"/>
<path class=a7 d="M459 184l5-1 23 1"/>
<path class=a4 d="M486 184l0 0 6 0 5 0 0 1 2-2 2 1 6 0 18 0"/>
<path class=a0 d="M568 185l4-2"/>
<path class=a3 d="M488 184l0 0 8 0 18 0 12 0 9-1 1 1"/>
<path class=a2 d="M514 183l8 0 0 1 1 0 1 0 4 0 2-1 5 1 3-1 3 0 2 1 2 0 7 0"/>
<path class=a5 d="M458 182l0 0 10-1 11 0 0 2 22-1 2-1"/>
<path class=a2 d="M522 182l4 0 1 1 1-1 1-1 1 1 2-1 10 2 27-2"/>
<path class=a4 d="M496 182l3 0 0 0 10 1 14-1 0 0 2-1 1 0"/>
<path class=a3 d="M490 182l9 0 1 0 3 0 5 0 3 1 3 0 10-1 3-1 1 1 8 0 6 1"/>
<path class=a1 d="M522 182l8 0 17-1 1 1 2 1 4-1 3 0 8 0 3 1 1 0 0 0 9-2"/>
<path class=a6 d="M456 182l0 1 11-1 7-1 9 0 5 1 15-1 0 2 6-1"/>
<path class=a7 d="M477 182l25 0"/>
<path class=a1 d="M523 181l2-1 10 0 3-1 3 1 3 0 2 0 0 1 0 0 4-1 9 1 3-1 2-1 5 1 0 1 1-1 1 1"/>
<path class=a3 d="M487 180l10 1 2 0 13-1 10 0 0 0 1 1 14-2 6 1 6 1 4-1 3 0"/>
<path class=a4 d="M488 181l23-2 17 1"/>
<path class=a5 d="M470 181l11 0 3 0 3-1 9 1 45-1"/>
<path class=a2 d="M522 180l0 1 1-1 2 1 1 0 7-1 0 1 1 0 9-1 2 1 2-1 4 0 6 0"/>
<path class=a6 d="M458 181l4-1 11 1 11 0 2-1 1 0 0 1 5 0"/>
<path class=a0 d="M568 179l4 3"/>
<path class=a3 d="M488 179l13 0 5 0 5 0 1-1 14 0 23 1 6 0"/>
<path class=a1 d="M539 179l5 0 4 0 2 0 3-1 1 1 3 0 6 0 5 0 0 0 4-1"/>
<path class=a5 d="M458 178l15 1 10 0 3 0 7 0 3-1"/>
<path class=a2 d="M522 179l0 0 3-1 0 0 6 0 8 1 1 0 2-1 2 1 1-1 4 1 9-1 2 0 3 0 1 1 6 0 2 0"/>
<path class=a7 d="M456 181l3-2 2-1 12 1"/>
<path class=a6 d="M458 178l1 1 0 0 3 0 22-1 3 1 15 0"/>
<path class=a4 d="M490 179l2 0 10 0 3-1 24 1 1 0 5-1"/>
<path class=a1 d="M523 178l5-1 17 1 1-1 5 1 3-1 1 0 0 0 14-1 0 1 1 1 9 0"/>
<path class=a5 d="M456 178l2-1 12 0 0 1 9-1 7 0 2 1 2 0 1 0 8 0 23-1 2 1 34-2"/>
<path class=a6 d="M465 177l8 0 6 0 7 0 1-1 3 2"/>
<path class=a4 d="M487 177l15 0 21 1 8 0"/>
<path class=a7 d="M461 178l78-1"/>
<path class=a2 d="M522 177l0 0 4 0 0 0 0 1 9 0 0 0 3-1 7 0 2 1 3-1 9 0 14 1"/>
<path class=a3 d="M495 178l0 0 1 0 19 0 4-1 7 1 8 0 6 0 12-1"/>
<path class=a4 d="M481 176l6-1 9 1 15 0 12 0 9 0 27 0"/>
<path class=a5 d="M456 176l3-1 31 0 0 0 7 0"/>
<path class=a6 d="M458 175l1 0 2 1 0 0 1-1 11 1 18 0 0 0 2 0"/>
<path class=a3 d="M497 175l6 1 5-1 1 0 10 1 1-1 3 1 2 0 28-1"/>
<path class=a1 d="M530 175l10 1 12 0 2 0 5 0 4 0 6 0 1-1"/>
<path class=a2 d="M523 176l3 0 4 0 1 0 1 0 6 0 2 0 1-1 1 1 2 0 0 0 2 0 2-1 10 0 1 0"/>
<path class=a7 d="M458 176l28-1 5 1 2 0 15-1"/>
<path class=a0 d="M570 178l4-2 6 0"/>
<path class=a5 d="M465 174l5 0 0 0 1 1 8-1 8 0 1 0 9 0"/>
<path class=a0 d="M570 174l0 1 56-2"/>
<path class=a4 d="M483 175l12 0 11-2 16 1"/>
<path class=a7 d="M464 175l92 0"/>
<path class=a1 d="M535 174l7 0 2 0 6 1 6-1 2 0 10 1 1-1 6 0 1 0 6 0 0 0"/>
<path class=a6 d="M456 175l2-1 4 1 14-2 10 2 1 0 12-2 16 2 19-1"/>
<path class=a3 d="M499 174l6 1 10-1 5 1 3-1 3 0 20 0"/>
<path class=a2 d="M522 174l0 1 1-1 1 0 2 0 0 0 3 0 2 0 4 1 7-1 3 0 3 0 0 1 2-2 19 2"/>
<path class=a3 d="M512 172l1 0 9 0 0 0 0 0 3 0 5 0 13 0 1 0 12 0"/>
<path class=a5 d="M456 173l15-1 0 1 15-1 4 0 1 1 10-1 10 1"/>
<path class=a7 d="M458 173l18 0 7-1"/>
<path class=a4 d="M486 172l26 1 3-1 8 1 3 0 2 0 14-1 8 0"/>
<path class=a1 d="M532 172l1 0 12 1 4 0 1 0 3-1 12 0 3 0 1 1 1-1 2 1 3 0 3 0"/>
<path class=a6 d="M458 173l12 0 6 0 8-1 2 0 47 1"/>
<path class=a2 d="M523 172l0 0 2 1 7 0 4-1 2 0 2 1 10 0 4 0 3 0 11-1"/>
<path class=a3 d="M524 170l1 0 2 1 2 0 8-1"/>
<path class=a1 d="M543 171l4-1 5 1 0 0 4 0 2 0 6 1 4-1 1-1 1 0 0 1 4 0 1 0 5 0 3 1 11-1"/>
<path class=a5 d="M476 170l7 0 34 1 14 0 19-1"/>
<path class=a2 d="M522 170l0 0 3 1 2 0 0 0 1 0 1 0 2 0 2 0 1 1 4-1 4 0 4 1 1-2 5 1 13 0 5 0 8 0"/>
<path class=a0 d="M574 173l8-2 8 0"/>
<path class=a4 d="M497 171l5-1 0 1 19-1 24 2"/>
<path class=a6 d="M458 170l0 0 0 0 9 1 4 0 21 0 0 1 3-1"/>
<path class=a5 d="M456 169l17 0 13-1 2 2 32 0"/>
<path class=a0 d="M568 168l61 1"/>
<path class=a6 d="M467 168l3 2 10-1 7 1 0 0"/>
<path class=a3 d="M506 168l18 0 0 2 0 0 1-1 3 0 0 0 4 0 4 1 6 0 3-2 2 1"/>
<path class=a4 d="M473 170l17-2 3 0 3 1 4 1 11 0 25-1 10-1"/>
<path class=a2 d="M532 169l2 1 2-1 5 0 1-1 0 1 6 0 1 0 2 0 6 0 2 1 1-1 9 0"/>
<path class=a7 d="M459 169l8 1 25 1"/>
<path class=a1 d="M527 168l4 2 10-1 5 1 3 0 2 0 6-1 6 0 6 1 1-1 2 0 0 0 9 1"/>
<path class=a2 d="M524 168l3-1 0 1 3 0 5-1 5 1 5 0 3-1 10 1"/>
<path class=a4 d="M499 168l8 0 20 0 14 0"/>
<path class=a3 d="M512 168l7 0 3 0 0 0 1 0 3 0 5 0 1 0 7-1 1 0 1 0 3 1 22-1 1 0"/>
<path class=a6 d="M464 168l3 0 6 0 0 0 1 0 5-1 23 0 29 1"/>
<path class=a1 d="M542 167l5 1 0 0 3-1 6 1 12-1 0 1 2-1 3 0 1 1 17 0 2-1 14 1"/>
<path class=a7 d="M464 168l1 0"/>
<path class=a5 d="M464 168l10 0 7-1 5 0 0 0 0 1 0 0 2-1 28 0 5 1"/>
<path class=a3 d="M503 166l2 0 17-1 0 0 0 1 1 0 0 0 6-1 3 2 17 0"/>
<path class=a6 d="M470 166l31 0"/>
<path class=a4 d="M506 166l13-1 3 1 6 0 1-1"/>
<path class=a5 d="M474 167l14 0 12-1 7 1 37 0"/>
<path class=a1 d="M501 167l44-1 1-1 7 1 11-1 3 1 1 0 0 0 1 0 0 1 1-2 0 0 0 1 0 0 19 0"/>
<path class=a7 d="M459 165l6 2 22-1 1 1 3-1"/>
<path class=a2 d="M508 166l14 1 1-1 2 0 5 1 0 0 2-1 0 1 5-1 2 0 3 1 6-2 1 1 0 0 17-1 2 2 8-1"/>
<path class=a7 d="M476 165l3-1 26 0"/>
<path class=a3 d="M493 164l2 0 22 1 5 0 1-1 1 0 0 0 3 0 3 0 3 1 22-1"/>
<path class=a1 d="M542 164l3 1 2-1 0 1 3-1 17 1 5 0 4 0 1 0"/>
<path class=a4 d="M490 164l10 0 1 1 25-1 3 1"/>
<path class=a0 d="M590 164l29 2"/>
<path class=a5 d="M474 164l3 1 3-1 6 0 2 0 0 1 4 0 1-1 20 0 39 0"/>
<path class=a6 d="M458 164l0 0 0 1 3 0 13 0 7 0 35 0 27-1"/>
<path class=a2 d="M525 164l0 1 9 0 4-1 2 1 2-1 1 0 1 0 6 0 1 0 1 0 4 0 2 0"/>
<path class=a4 d="M490 162l34 1 3 0 13 0"/>
<path class=a5 d="M458 163l19 0 9 0 1-2 0 2 1 0 0 1 2-1 5 1 1-2 5 0 0 1 14-2 12 2 10-1 25 0"/>
<path class=a0 d="M570 163l20 0"/>
<path class=a7 d="M458 163l3-2 26 1 5 1 10 1"/>
<path class=a1 d="M533 164l3-1 11 1 3-2 6 1 8-1 4 1 0 0 1-1 0 1 7 0"/>
<path class=a2 d="M522 162l2 0 2 0 11 1 8 0 2-1 2 0 1 1 12 0 3 1"/>
<path class=a6 d="M462 164l9-2 15 0"/>
<path class=a3 d="M491 162l15 0 6-1 10 1 0 0 1 1 5-1 9-1 24 2"/>
<path class=a5 d="M471 159l6 1 14 0 37 0"/>
<path class=a4 d="M515 159l6 1 1 0 1 1 26 0 10-1 4 1"/>
<path class=a6 d="M458 160l1 0 5 0 23-1 5 2"/>
<path class=a7 d="M458 160l3 0 16 0 15 1"/>
<path class=a3 d="M499 160l3 1 20 0 2 0 0 0 2-2 2 0 1 2 2-1 8 0 9 0 0 1"/>
<path class=a2 d="M526 160l4 0 0 0 2 1 3 0 2-2 5 2 1-1 8 1 7 0 12 0"/>
<path class=a1 d="M531 161l7-1 6 0 10 0 2 0 8 0 4-1 1 2 0 0 0 0 1 0 2 0 2-2 2 1 1 0 0 1 1-2"/>
<path class=a3 d="M456 158l50 0 16 0 1 0 2 0 0 1 0 0 2 0 13-1 3 1 4 0 3 0 19 0"/>
<path class=a5 d="M470 159l16 0 10 0 13 0 4-1 9 0"/>
<path class=a7 d="M462 158l3 0 6 0 6 1 15 0 5-1"/>
<path class=a6 d="M458 159l0 0 28-1 0 1 6-1 4 1 3-1 10 0"/>
<path class=a1 d="M541 158l2 1 6 0 1-1 6 1 3 0 2 0 8-1 0 1 1-1 1 0 4 0 4 1"/>
<path class=a2 d="M522 158l1 0 1 0 1 0 3 1 4 0 7-1 5 0 4 0 3 1 4 0 7-1 8 0"/>
<path class=a1 d="M562 157l0 0 6 0 1-1 0 1 1 0 1 0 1 0 0 0 1-1 2 0 7 0 0 1 3-1"/>
<path class=a4 d="M496 156l3 0 24 0 3 1 16 0"/>
<path class=a6 d="M461 156l15 0 1 0 10 0"/>
<path class=a2 d="M522 156l0 0 2 0 5 0 5 0 7 0 2 1 9 0 2-1 0 1 2-1 13 0 10 2"/>
<path class=a3 d="M490 157l32-1 1 0 2 1 1-1 1 1 2-1 0 1 4 0 0 0 1 0 11-1 3 0 4 2"/>
<path class=a5 d="M471 158l6-2 3 1 4 0 3-1 0 1 4-1 12 1 13-1"/>
<path class=a0 d="M580 157l12 1"/>
<path class=a6 d="M458 155l0 0 6 0 9 0 1 0 5 1 7-1 19 0"/>
<path class=a3 d="M512 154l7 2 3-2 0 1 2-1 0 1 1 0 1 0 0 0 1 0 1-1 2 0 3 0 11 1 1 1 9-2 6 2"/>
<path class=a5 d="M481 154l5 1 1 1 0 0 3-2 1 1 11 0 4 1 14 0"/>
<path class=a7 d="M456 155l14 0 0 1"/>
<path class=a1 d="M547 156l2-2 19 0 1 0 0 1 1 0 9-1 9 1"/>
<path class=a4 d="M501 155l18 0 3 0 1 0 2 0 9-1"/>
<path class=a2 d="M532 155l2 0 2-1 1 0 0 1 7 1 6-1 16 1 5-1"/>
<path class=a3 d="M517 153l5 0 4 0 1 0 2 0 3-1 3 1 13 0 2 1 1-2"/>
<path class=a1 d="M564 152l3 2 1-1 0 0 4 0 7 1 11-1"/>
<path class=a5 d="M477 153l10-1 0 0 1 2 2 0 6-2 0 1 4 0 25-1 38 0"/>
<path class=a6 d="M456 154l2-2 3 0 4 2 3-1 2 0 16 0 16 0 1 1"/>
<path class=a4 d="M500 153l22 0 2-1 0 1 18 1"/>
<path class=a2 d="M531 152l0 1 0 0 1 1 2-1 0 0 2 0 9 0 3 0 1 1 0 0 6 0 3-2 3 1 1 0 19 0 4 0"/>
<path class=a7 d="M456 154l5-2"/>
<path class=a2 d="M530 152l7 0 11-1 0 1 3-1 7 1 21-1 4 1"/>
<path class=a6 d="M456 151l2 0 16 0 17 0 6 1 3 0 3-1"/>
<path class=a5 d="M483 152l9-1 7 0 1 0 7 0 10 1 5-1 1 0 13 0"/>
<path class=a7 d="M465 152l12 0 9-1 28 0"/>
<path class=a1 d="M549 152l1-1 7 0 12 0 0 1 7-1 1 1 5-1 0 1 3-1 0 0"/>
<path class=a4 d="M491 151l18 1 17 0 4 0 13-1"/>
<path class=a3 d="M470 151l52 1 1-1 1 1 10-1 0 0 4 1 3 0 1-1 1 0 2 0 1 0 4 0 3 0 16 0 2 1"/>
<path class=a3 d="M517 150l5 0 1 0 2 0 1 1 3-1 0 0 0 0 8-1 0 1 5-1 10 1 2-1"/>
<path class=a4 d="M490 149l6 0 4 0 24 0 3 2"/>
<path class=a6 d="M458 149l4 1 12 0 10 0 3 1 12-2"/>
<path class=a2 d="M524 149l3 1 4 0 11-1 1 0 3 0 0 1 1 0 13 0 0 0 9 1 1-2 12 1"/>
<path class=a5 d="M467 149l26 1 10 0 5-1 11 1 1 0 2 0 25 0"/>
<path class=a1 d="M526 151l29-2 3 1 2 0 3-1 0 1 7-1 0 1 2 0 1-1 1 1 0 0 1 0"/>
<path class=a3 d="M522 147l0 0 0 1 0 0 1 0 1-1 1 1 2 0 8-1 7 1 2-1 5 0 20 1"/>
<path class=a5 d="M487 148l5-1 3 1 4-1 7 1 2-1"/>
<path class=a2 d="M517 148l5-1 0 1 4-1 5 0 14 0 4 1 11 0 2-1 7 1 2 0 6 0 2 0 1-1 3 1"/>
<path class=a7 d="M456 147l12 1 20-1 14 1 46 1"/>
<path class=a4 d="M496 147l27 0 2 0 2 1 3 0 3-1 5 0 1 1 17-1"/>
<path class=a6 d="M486 147l1 1 6 0 42-1"/>
<path class=a1 d="M553 147l2 1 11-1 3 1 1-1 8 1 3-1 4 0 20 0"/>
<path class=a5 d="M476 146l10-1 0 2 2-2 3 0 41 1"/>
<path class=a2 d="M520 145l14 1 0 1 2-2 2 1 4-1 0 0 3 1 0 0 1-1 2 0 0 1 2-1 3 1 5 0 11 0 0 0 3 1 1-1"/>
<path class=a4 d="M505 146l9-1 10 1 2-1 2 0 5 1 14-1 22 1"/>
<path class=a1 d="M545 147l8-1 14-1 0 1 2-1 1 0 4 1 0 0 11 0 5 0"/>
<path class=a3 d="M508 145l0 1 18-1 5 0 6 1 0 1 13-1 1-1 6 1 7 0"/>
<path class=a7 d="M458 146l15 0 11-1"/>
<path class=a6 d="M488 146l11 0 0 0 26-1"/>
<path class=a6 d="M464 143l24 0 2 1 2 0"/>
<path class=a5 d="M474 144l17 0 24 0"/>
<path class=a3 d="M522 143l0 1 2-1 0 1 4 0 1 0 2 0 0 0 3-1 1 1 8-1 1 1 1-1 1 1 2 0 3 0 2-1"/>
<path class=a0 d="M592 151l6-8 0 1"/>
<path class=a4 d="M497 143l25 1 1-1 0 1 5-1 3 1 10-1 23 1"/>
<path class=a1 d="M547 143l21 1 1 0 1 0 2 0 0 0 1-1 2 0 0 1 3 0 1-1 0 1 14 0"/>
<path class=a7 d="M456 143l31 0 15 0"/>
<path class=a2 d="M522 144l1-1 0 1 5-1 14 0 13 1 6 0 5 0 4-1 3 0"/>
<path class=a7 d="M458 142l6 0"/>
<path class=a6 d="M459 141l0 1 6 0 6 0 13 0 2 0 1 1 1-2 8 1 5 0 1-1 1 1 2 1 27-2 30 1"/>
<path class=a4 d="M528 141l0 1 18 0 11 1"/>
<path class=a2 d="M527 142l4 0 3-1 11 0 10 1 1-1 1 1 1-1 0 1 10 0 0 0 0 1 0 0 1-2 0 1 1 0 13-1"/>
<path class=a5 d="M462 142l24 0 14 0 5 0 11 1 6-1 22-1"/>
<path class=a3 d="M522 143l2-2 1 0 1 1 4 0 1 0 2-1 9 1 3 0 2-1"/>
<path class=a1 d="M557 141l11 1 7 0 7 0 39-1"/>
<path class=a2 d="M523 141l7-2 2 0 4 0 1 2 5 0 7-2 0 1 1-1 0 2 3-1 5-1 0 1 8-1 10 0 1 1"/>
<path class=a4 d="M513 139l3 1 7-1 3 1 4 1"/>
<path class=a7 d="M462 141l3-1 22 0 12 1"/>
<path class=a3 d="M522 140l0 0 0 0 1 0 2-1 0 1 2 0 0 1 1-1 20 1"/>
<path class=a6 d="M486 140l5 0 0 0 34 1"/>
<path class=a5 d="M490 140l1 0 9 0 8 0 3 0 15-1 10 2"/>
<path class=a1 d="M559 140l5-1 4 1 0 1 1-1 1 0 2 0 0 1 0 0 2-1 2-1 6 1 25-1 1 0"/>
<path class=a4 d="M522 137l0 1 6 0 13-1 3 2 4-2"/>
<path class=a6 d="M458 139l28-2 1 0 3 0 5 0 1 1 4 0 24 0 1-1 6 0"/>
<path class=a7 d="M456 137l3 0 54 1"/>
<path class=a1 d="M550 138l10 0 8 0 1 0 0 0 3-1 0 0 0 2 1-1 0 0 2 0 8-1 6 1 3 1"/>
<path class=a3 d="M522 139l0 0 1 0 2 0 3-1 1 1 1 0 3 0 3 0 6-1 2 0 1 0 1 0 1 1 16-1"/>
<path class=a5 d="M495 139l4 0"/>
<path class=a2 d="M525 137l5 1 7 0 3 0 6 0 2 1 4-1 7-1 17 1 2-1"/>
<path class=a7 d="M467 135l19 0 56 1 14 1"/>
<path class=a3 d="M522 136l2 0 0 1 3-1 2-1 4 2 9 0 0 0 13-1 9 1"/>
<path class=a4 d="M487 137l13-2 19 2 5-2 1 1"/>
<path class=a1 d="M548 137l20-1 1 0 3-1 2 0 5 0 1 1 1 0 5-1 4 0 5 1"/>
<path class=a2 d="M522 135l9 0 16 2 1-2 1 1 5-1 6 1 2 0 7 1 4 0 5 0 17-1"/>
<path class=a6 d="M473 135l8 0 6 2 19-2 10 0 6 0 2 1"/>
<path class=a5 d="M476 136l8 1 3-2 1 1 2 1 3-2 7 0 0 0 22 1 10 1 6-2"/>
<path class=a6 d="M487 133l8 1"/>
<path class=a4 d="M514 133l9 2 2-2 1 1 13-1 1 1 7-1 0 0 3 1"/>
<path class=a3 d="M493 135l14-2 15 0 0 0 0 1 1 1 2-2 0 1 3 0 5 0 7 0 4 0 1-1 0 1 2-1 8 0"/>
<path class=a1 d="M568 134l0 0 0 1 3-2 0 2 1-1 0 1 1-1 1 1 1-1 7 0 1 1"/>
<path class=a2 d="M538 134l4 0 1-1 3 1 11-1 1 1 3-1 11 0 0 0 4 1 1-1"/>
<path class=a5 d="M458 134l6 1 16-2 7 2 1-2 3 0 11 0 25 1 2 0"/>
<path class=a4 d="M522 131l1 1 1-1 0 1 0 0 10-1 6 2 9-2 15 0"/>
<path class=a3 d="M525 132l3 0 2-1 4 0 0 1 6 0 0 1 2-1 1 1 1 0 3-1 5-1 0 2 1-2 1 0 16 0"/>
<path class=a1 d="M524 131l41 1 3 0 1 0 0 0 1-1 2 2 6-1 1 1"/>
<path class=a6 d="M481 133l10 0 8-1 4 1"/>
<path class=a2 d="M525 131l6 1 12-1 5 1 2 0 11-1 6 0 0 2 1-1 1-1 10 0 1 1"/>
<path class=a5 d="M486 132l1 0 5 0 23 0 2 0 5 0 0 0 14 0 10-1"/>
<path class=a4 d="M522 129l9 1 14-1 14 1"/>
<path class=a2 d="M537 130l3 0 13 1 4-1 2-1 7 1 17 0 5 0"/>
<path class=a6 d="M470 130l17 0 5-1 3 1 2-1 43 0 3 2 3 0"/>
<path class=a5 d="M481 130l41-1 1 2 5-2"/>
<path class=a7 d="M493 131l0 3 7-5 23 0 2 0 13 2"/>
<path class=a3 d="M526 130l5 0 0 0 1 0 4 0 1-1 8 0 3 0 1 0 1 0 1 2 0 0 1-1 6 0 10 0"/>
<path class=a1 d="M563 130l0 0 1-1 3 1 1 0 3 0 1-1 0 0 0 0 2 1 3-1 2 0 3 2 1-2 2 1 1 0"/>
<path class=a3 d="M522 128l1-2 1 1 0 1 2 0 1-1 5 1 3 0 9 0 6 0 7-1 16 1"/>
<path class=a6 d="M462 128l24 0 1 0 1-1 7 0 12 0 28 0"/>
<path class=a1 d="M551 127l17 0 0 0 0 1 1 0 0 1 1-1 2-2 1 1 2 0 4 0 3 0 3 1 1 0"/>
<path class=a4 d="M523 127l1 1 1-1 11 1 8 0"/>
<path class=a5 d="M490 127l1 0 2 0 10 1 2 0 4-1 18 1"/>
<path class=a2 d="M534 128l5 0 5 0 6-2 1 2 1 0 2 0 4 0 2-1 4 1 1-1 8 1 4-1 2 0"/>
<path class=a1 d="M570 125l0 1 2-1 0 1 0 0 2 0 1-1 0 1 1 0 3-1 2 1 1 0 7-1 16 0 6 0"/>
<path class=a2 d="M535 126l10 0 4 0 6-1 14 1 1 0 4 0 8-1 4 1"/>
<path class=a4 d="M522 124l0 2 0 0 0 0 1-1 0 0 3 0 5-1 16 1 8 1"/>
<path class=a7 d="M441 125l32 1 13 2 2-2 3 0 37 0"/>
<path class=a6 d="M476 126l10 0 39 0 17-1 7 1"/>
<path class=a3 d="M495 125l27 1 3-1 0 1 5-1 0 1 6-1 7 0 2 1 0 0 1 0 8-1"/>
<path class=a5 d="M491 126l21 0 25 0 13-1"/>
<path class=a2 d="M527 122l19 0 14 1 8 0"/>
<path class=a5 d="M493 124l10-1 6 0 12 0 2 0 5-1 3 2"/>
<path class=a3 d="M488 124l34 0 1-1 1 1 1-2 1 0 3 1 2 0 5 1 3-1 3 0 1 1 3-2 3 2 9-1 3-2 7 3"/>
<path class=a7 d="M487 122l0 0 1 2 77-1"/>
<path class=a4 d="M523 123l5 0 3 0 3-1 5 2 3-1 19 1"/>
<path class=a1 d="M541 123l27 1 1-1 0 0 0 1 1 0 0 0 1-1 0 1 1-2 4 2 0 0 7 0 1-1 11-1"/>
<path class=a6 d="M470 123l13 0 13 0 9 0 17 1 10 0"/>
<path class=a5 d="M487 119l18 2 19 0 4-1 14 1 10-2 8 1"/>
<path class=a1 d="M568 120l0 0 2-1 2 0 2 2 3 0 1-1 1-1 6 1 3 1 30 0"/>
<path class=a2 d="M543 120l15 1 3-1 3-1 0 2 4-2 0 2 1-2 2 0 5 1 3 0 9 0 5 1"/>
<path class=a7 d="M458 120l30-1 32 1"/>
<path class=a4 d="M522 120l2 1 5 0 7 0 6-2 11 2 13 0"/>
<path class=a6 d="M471 121l15 0 10-1 20-1 5 2 1-2 30 2"/>
<path class=a3 d="M522 120l1 1 5 0 7-2 0 0 4 1 4-1 1 1 6 1 5 0 3-2 11 1"/>
<path class=a2 d="M545 118l9 0 10 0 5 1 4-2"/>
<path class=a1 d="M569 116l7 1 3 0 1 0 0 2 1 0 1 0 1 0 18-1"/>
<path class=a6 d="M477 117l6 0 3 1 1-1 1 0 2 1 1-1 37 0 19 1"/>
<path class=a4 d="M522 117l0 0 0 2 1-2 0 2 4-1 2-1 2 0 4 0 4 1 5 0 6 1 30-2"/>
<path class=a5 d="M491 117l11 0 21 0 0 1 16-1 0 0 6 0"/>
<path class=a3 d="M522 118l1 0 2-1 4 0 0 2 1-1 0 0 1 0 7 0 6-1 1 0 3 0 2 0 8 1 12 0"/>
<path class=a7 d="M486 117l2 1"/>
<path class=a4 d="M522 115l5 0 3 0 1 0 11 1 0 0 1 0 14 0"/>
<path class=a2 d="M544 115l1 0 5 1 2-1 7 0 4 1 1-1 2 1 10 0 5-1"/>
<path class=a6 d="M471 115l9 0 22 1 10-1 7 1 15-1"/>
<path class=a3 d="M522 116l0 0 1 0 6-1 14 0 3 0 7 0 9 0 0 1 28-1"/>
<path class=a5 d="M486 115l2 1 3-1 2 1 6 0 1 0 28-1"/>
<path class=a1 d="M567 116l1 0 1-1 0 1 1-1 0 1 0 0 1 0 3-1 0 1 1 0 2 0 0 0 3-1 2 1 5-1 0 0 15 1"/>
<path class=a4 d="M523 112l0 1 1 1 6 0 1-1 1-1 12 0 3 0 1 2 3-1"/>
<path class=a2 d="M523 114l28-1 7 1 11-2 0 2 0 0 1-1 3-1 0 1 3 0 1-1 3 3"/>
<path class=a5 d="M502 114l13-1 9 1 3-1"/>
<path class=a7 d="M458 112l0 2 23 0 7 1 19-3 16 0 16 2"/>
<path class=a3 d="M522 114l10 0 6 0 10 1 2-2 2 1 13 0 6 0 16 0 9-1"/>
<path class=a6 d="M468 112l18 0 29 1 7 0"/>
<path class=a1 d="M568 112l0 0 2 3 3-3 1 2 4-1 4 0 1-1 3 1 1-1 3 1 1-1 3 2 17 0"/>
<path class=a7 d="M496 112l7-1"/>
<path class=a3 d="M522 110l0 1 2 0 1 1 1-1 2-1 15 2 3-1 2-1 0 0 8 1 5 1 5 0 2-2 7 0 10 1"/>
<path class=a1 d="M550 110l20 0 1 1 2-1 2 0 0 1 2 0 4-1 4 1 6 0 1 0 4 1"/>
<path class=a6 d="M487 112l6-1"/>
<path class=a4 d="M522 110l2 1 22 0 1 0 3 0"/>
<path class=a5 d="M467 111l40-1 15 1 1-1 1 0 6 1 49-1"/>
<path class=a2 d="M546 111l3-1 0 1 1-1 8 1 0 0 10-1 0 0 1 0 1 1 2 0 5 0 2-1 0 1 1 0 2 0"/>
<path class=a1 d="M554 109l14 1 4-1 2 0"/>
<path class=a5 d="M491 110"/>
<path class=a2 d="M539 109l17 0 15 0 10 1 3-1"/>
<path class=a3 d="M542 109l2 0 5 0 21 1"/>
<path class=a7 d="M495 109"/>
<path class=a4 d="M523 109l9 1 11-1"/>
<path class=a6 d="M471 109l25 1 5 0 2-1 4 0"/>
<path class=a0 d="M596 132"/>
<path class=b2 d="M882 873l8-4 0 1 0 6 0 0 0 2 0 2 0 0 0 0 0 1 0 1 0 1 6-13 0 10 7-10 0 4 0 1 0 6 6-11 0 1 7 9 5-10 12 0 0 6 0 2 5-8 0 12 5-5"/>
<path class=b4 d="M890 871l0 3 0 6 13-9 0 7 6-8 12 4 12 0 0 3 0 3 5-11 0 2 0 3 0 1 5-4 5-2 0 10"/>
<path class=b1 d="M890 873l13 7 0 2"/>
<path class=b3 d="M890 871l0 8 13 1 0 0 6-6 7 0 17 0 0 8 5-9 0 5"/>
<path class=b0 d="M896 878l37 2"/>
<path class=b3 d="M896 868l20-1 5 0 17-6"/>
<path class=b4 d="M890 860l0 0 0 2 0 3 0 1 0 3 6-8 0 1 7-2 0 8 30-7 0 0 0 0 0 2 0 0 0 1 0 4 5-3 5 0"/>
<path class=b1 d="M890 860l0 1 13 0 30-1 0 5 0 4 5-6 0 0 0 2 5-5 40 9"/>
<path class=b2 d="M867 865l23-2 0 0 0 3 0 0 0 0 6-6 0 1 0 2 0 1 7-3 0 2 6-2 0 7 12-7 6 4 6-2 0 4 5-5 10 4"/>
<path class=b0 d="M896 864l0 1 13-3 7-1 5 2 12 2"/>
<path class=b1 d="M890 856l19-3 24 1 5-1 5 1 0 1 5 2"/>
<path class=b2 d="M890 853l0 0 0 1 0 0 0 0 0 2 0 2 0 1 6-5 7 2 6-3 0 1 0 0 0 2 0 1 0 0 0 2 7-7 5 5 12 3 5-2 5 0 0 1"/>
<path class=b0 d="M938 856l15-3"/>
<path class=b3 d="M890 853l6 1 0 3 7 2 18-5 17-1 0 1 0 2 0 2 0 1 15-5 30 2"/>
<path class=b4 d="M890 857l6-3 0 4 20-1 17-4 0 0 0 1 0 1 0 1 0 1 0 0 5-4 0 2 0 4 5-3 0 3"/>
<path class=b0 d="M943 848l24-1"/>
<path class=b4 d="M890 849l0 2 0 0 6-4 0 2 20-3 0 1 17 1 0 1 0 0 5-2 0 1 0 2 0 1 0 1 5-3 5-3 0 1 0 1 0 3"/>
<path class=b2 d="M890 846l0 1 0 2 0 0 6-3 0 1 0 2 0 0 0 1 0 1 0 0 0 1 7-6 0 1 0 0 0 2 0 1 0 0 0 2 6 0 18-1 6-4 0 3 0 1 0 0 5-3 0 1 10 0"/>
<path class=b1 d="M890 846l0 5 13 0 6-1 0 1 7-2 17-1 5 2"/>
<path class=b3 d="M921 850l22 2"/>
<path class=b4 d="M890 843l0 1 6-2 7 1 18 0 12-3 5 1 0 1 0 1 0 3 5-5 0 4 5-4 0 0"/>
<path class=b1 d="M890 841l0 0 6 0 0 1 13 3 0 0 7-3 27-1"/>
<path class=b3 d="M933 844l0 2 5-4 5 1 5-1 0 2"/>
<path class=b2 d="M890 841l0 1 0 1 0 2 0 0 6-3 0 1 0 1 0 0 0 0 7-3 0 2 0 0 0 1 6-3 0 1 0 1 7-2 0 1 0 0 0 2 0 0 17-2 0 0 0 1 0 1 5-3 0 3 10 0 0 0 35-3"/>
<path class=b0 d="M933 840l0 4 5-8 0 4 15-2 26 0"/>
<path class=b2 d="M890 839l0 0 6-2 0 1 0 2 0 0 7-5 0 3 0 1 6-3 0 2 0 2 0 0 7-5 0 2 11 0 16 2 5-2 0 1 5 0 0 2"/>
<path class=b1 d="M896 838l7-1 0 3 13-5 17 1 0 2 10 0"/>
<path class=b4 d="M890 835l0 0 0 1 0 1 0 0 0 2 6 0 0 1 7-4 0 1 0 2 30-3 0 1 0 0 0 1 0 0 0 2 5-4 0 1 5 1 0 2 5-3 31-2"/>
<path class=b3 d="M916 838l11 0 11 2 10-5"/>
<path class=b2 d="M890 831l0 2 0 1 6-1 0 0 0 2 20-1 0 0 0 1 11-2 0 1 6-3 15 0 0 1 0 1 5-2 0 4 5-1"/>
<path class=b1 d="M909 833l0 1 24-3 0 1 5 3 10-4 0 2 5-1"/>
<path class=b4 d="M890 831l0 2 6 1 0 1 7-3 6 2 7-2 5 0 0 1 12-2 0 1 0 0 0 2 0 0 5-3 0 3 0 0 5-2 0 1 0 0 0 0 0 2 5-3 0 2 5-3"/>
<path class=b3 d="M890 835l6-2 25-1 17 1 0 0 0 2 5 0"/>
<path class=b0 d="M909 831l29 0"/>
<path class=b2 d="M890 828l0 1 6-2 7 0 0 0 6 1 0 0 0 2 7-2 0 0 5 0 0 0 0 1 17-2 0 1 5 0 5-1 5 1 9 2"/>
<path class=b3 d="M896 831l7-2 13-2 5 3 12-2 0 0 5 2 5-2 0 0 5 1"/>
<path class=b1 d="M896 827l7 2 6 0 0 0 0 1 18-2 0 2 6-3 10 3 5-3"/>
<path class=b4 d="M890 828l0 2 6-1 0 0 0 0 0 1 0 0 7 1 6-4 7 0 0 2 11 0 6-1 5 0 0 0 5-1 0 1 5 0 10 1 13 1"/>
<path class=b4 d="M890 824l6 0 0 2 7-3 0 1 0 0 6 0 7 0 5 0 12 0 0 0 0 0 0 2 5-3 0 1 0 0 5 0 0 1 5-3 0 2 0 1 0 1 5 0"/>
<path class=b3 d="M896 823l7 0 6 0 34 0 5 0 35 1"/>
<path class=b0 d="M958 829l4-3"/>
<path class=b1 d="M921 823l17-1 0 1 5 2"/>
<path class=b2 d="M890 822l0 0 0 2 0 0 0 2 0 0 0 0 6-3 0 0 0 2 0 0 7-2 0 1 6-2 0 2 0 0 7-1 0 0 0 1 5-1 6-1 0 2 6 2 5-2 0 2 0 1"/>
<path class=b4 d="M890 819l0 0 0 1 13 1 6-1 12-1 12 1 0 0 0 2 0 0 5-2 5-1 0 1 0 1 5-1 5 1 0 1 0 0 5-2"/>
<path class=b3 d="M903 819l45 3 0 0 19 0"/>
<path class=b2 d="M890 819l0 1 0 1 0 1 6-3 0 1 0 1 0 0 7-2 0 2 0 0 6-2 0 0 0 2 0 0 0 1 7-3 0 1 11-1 0 3 11-3 0 2 5-2 0 0 0 1 5 1 5-2 0 3"/>
<path class=b1 d="M896 819l20 0 5 3 6-1 6-1 0 2 5-2 10-1"/>
<path class=b0 d="M896 815l20 0 17 1 5 2 10 2 19-4"/>
<path class=b4 d="M890 815l0 2 6-3 0 3 7 0 6-2 7 1 5 2 6-2 6 0 0 2 0 0 5-3 0 2 5-1 0 0 5-1 0 0 0 1 5-2 5 1 0 4"/>
<path class=b1 d="M909 817l0 0 7 0 5 1 27 0 5 0"/>
<path class=b3 d="M909 816l7 0 22 0 5 0 5-1 0 1"/>
<path class=b2 d="M890 814l0 1 0 2 0 0 6-2 0 1 0 1 0 1 7 0 6 0 7-1 5-3 0 3 0 1 0 0 12-2 0 2 5-2 0 2 15-3 14 1"/>
<path class=b4 d="M890 812l0 1 6-1 7 0 0 0 0 2 6-2 0 1 0 0 7-2 5 3 6-1 6-1 0 0 0 2 0 0 0 0 5-2 0 0 0 2 5-1 0 1 0 0 5-2 5 0 0 1 5 1 4 0"/>
<path class=b1 d="M909 814l7 0 5 0 22-1 5-1"/>
<path class=b2 d="M896 812l0 0 7 0 0 2 0 0 6 0 7-2 0 1 5 1 0 0 6 0 11-2 5-1 0 3 10-3 5 1 4 0 13 2"/>
<path class=b3 d="M916 813l17-1 5 2 5-1 5-2 0 1 0 0 39 0"/>
<path class=b4 d="M890 808l0 1 0 1 6-1 0 2 7-3 0 1 0 1 6-1 0 1 7 0 0 0 0 1 17-3 0 2 5-2 5 0 0 0 0 3 5-2 5-1 0 1 0 2 18-2 0 1"/>
<path class=b1 d="M890 809l0 1 43-2 20 0"/>
<path class=b3 d="M890 810l6 0 13-1 0 1 24-2 0 2 5-2 5 2 5 1 35 0"/>
<path class=b2 d="M896 809l0 2 0 0 7-3 0 2 0 1 6-2 0 1 7 0 0 0 5-1 0 2 6-1 6 0 5 0 0 0 0 1 5-3 5 0 0 1 5 1"/>
<path class=b4 d="M890 805l0 2 6 0 0 1 7-3 6 2 7 1 0 0 5-2 12 0 0 0 5 0 0 0 0 0 0 2 5-3 0 1 0 0 0 0 5-1 0 2 5-2 5 2 9-1"/>
<path class=b3 d="M896 805l13 2 24-1 10-1 5 0 0 2 5-2 0 1 5-1 0 3"/>
<path class=b2 d="M890 805l0 0 0 1 0 1 6 1 7-3 0 1 0 2 0 0 6-3 0 1 7 0 0 1 5-1 0 1 0 1 6-3 0 3 21-1 5 1 5-3"/>
<path class=b1 d="M903 805l13 0 11 0 26 2 38 0"/>
<path class=b3 d="M896 802l0 2 7-2 30 0 5 2"/>
<path class=b1 d="M896 802l37 2 5 0 5-2 10 1 0 1 5-2"/>
<path class=b2 d="M890 802l0 0 0 0 6 0 0 0 7-1 0 1 6 0 0 2 0 0 7-1 5 0 0 1 0 1 6-3 0 3 6-3 5 0 0 0 10 0 0 2 5-1 5 1 4-2"/>
<path class=b4 d="M890 803l6 0 0 2 7-2 0 0 6 1 7-1 0 2 11-2 6-1 0 2 0 0 5-2 5 0 0 0 0 2 5-2 0 0 5 1 5 0 0 0"/>
<path class=b0 d="M938 804l20-1 4-1 13 11"/>
<path class=b4 d="M890 799l6 0 7 1 6-1 7 1 0 1 11-1 6 0 0 0 5 0 5-1 0 1 5-1 0 1 0 0 5 0 5-1 0 1 0 0 4-2"/>
<path class=b2 d="M890 799l0 0 0 1 0 1 6-1 7-1 0 0 0 2 6-2 0 0 0 2 7-2 0 0 0 2 5 0 0 0 6-2 0 0 0 1 6 0 5 1 0 0 5-1 0 0 5 0 19-1"/>
<path class=b1 d="M909 801l12-2 0 2 32-2 0 2 5 0"/>
<path class=b3 d="M896 799l25 0 0 1 32 0 9 0 5 0 4-1"/>
<path class=b0 d="M927 800l21-2"/>
<path class=b4 d="M896 795l0 0 0 3 7-1 6-1 0 0 7-1 11 2 0 1 6-2 0 2 5-2 0 2 5-2 0 0 0 2 5-2 0 1 19-1 4 0"/>
<path class=b2 d="M896 796l0 0 0 1 0 0 7-2 0 3 0 0 6-2 7 0 0 0 5 0 0 0 0 2 6-3 0 3 6 0 5-2 0 2 5 0 5 0 10-1 4-1"/>
<path class=b3 d="M933 796l0 0 0 2 10-2 5 1 5-2 0 1 0 1 9-1 0 1 5 1"/>
<path class=b1 d="M916 796l22 0 0 2 15-2 0 2 26 0"/>
<path class=b4 d="M890 794l0 0 0 1 6-3 7 3 6 0 12-3 6 2 6-2 0 2 0 0 5-2 0 2 5-2 0 0 0 2 5-1 0 1 0 0 5 0 0 1 5-2 0 0 0 1"/>
<path class=b3 d="M909 794l0 0 12 1 12-1 20-1 0 0 14 2 4-2"/>
<path class=b1 d="M943 793l10 0 9-1"/>
<path class=b2 d="M890 792l0 1 6 0 0 0 7 0 0 2 6-3 0 1 0 0 7-1 0 1 0 2 0 0 5-2 0 1 6-1 11 1 0 0 5 0 0 0 5 0 14-1 0 1 21 1"/>
<path class=b4 d="M896 790l0 0 0 0 13 1 12-1 12 0 0 0 0 0 0 2 0 0 5-2 0 0 0 2 5-2 5 1 5-1 0 0 0 1 5-1 0 0 4 0 5 0 8 1 4 1"/>
<path class=b0 d="M948 792l10 1"/>
<path class=b3 d="M890 791l0 0 6-1 13 0 7 0 11 0 21 1 10-1 4 0 5 0"/>
<path class=b2 d="M890 790l13 1 6 0 7-1 0 1 5-1 0 1 0 0 6-1 0 0 0 1 11-1 0 2 5-2 5 0 10 0 0 0 0 0 4 2 13-2"/>
<path class=b1 d="M909 791l34-1 5 2 19-1 4-1"/>
<path class=b1 d="M921 787l27 1"/>
<path class=b3 d="M896 787l37 1 0 0 10 0 0 0 10-1 0 1 9 1 9-2 0 0 0 2"/>
<path class=b4 d="M890 788l0 0 6 0 0 1 7 0 13-2 0 1 5 1 12-1 5 0 0 0 5 0 5 0 0 0 5 0 0 0 5-1 0 1 4 0 0 1 5-2 0 2 0 0"/>
<path class=b2 d="M890 788l0 1 6-2 0 0 7 0 0 0 0 0 0 1 0 0 6-1 0 0 0 1 0 0 0 0 7-1 0 2 0 0 5-2 0 1 17 0 15-1 26 0 0 1"/>
<path class=b2 d="M896 783l7 1 6-1 0 1 0 0 0 1 7 1 5 0 6 0 16-2 5 0 0 2 10-1 0 0 0 1"/>
<path class=b4 d="M890 783l0 3 13-2 13 0 0 1 5-2 0 1 6 1 6-1 0 0 0 2 0 0 0 0 5-2 0 0 0 2 0 0 0 0 5 0 0 0 0 1 5-1 5-3 0 1 0 0 0 2 5-3 0 2 4-1 0 2"/>
<path class=b3 d="M903 785l30-1 5 0 5 0 0 0 5 0 0 2 5-2 9 2 5-2 4 1"/>
<path class=b0 d="M896 786l52-2 14 0 0 4"/>
<path class=b4 d="M896 780l0 0 7 1 0 1 18-2 0 2 12 0 0 0 0 0 5 0 0 0 5 0 0 1 5-3 0 2 0 0 5-2 0 1 5 2 0 0 4-2 5 2 4 0"/>
<path class=b2 d="M896 780l0 3 13-2 0 2 0 0 7-3 0 0 0 2 0 0 5-2 0 2 0 1 6 0 0 0 0 0 21-1 5-2 0 2 0 1 9-3 5 3"/>
<path class=b3 d="M903 781l0 0 13 2 22-1 5 0 15-2 0 1 25 0 0 1"/>
<path class=b1 d="M890 781l0 2 26-3 0 4 42-4 4 2 17 0"/>
<path class=b3 d="M916 780l17-2 5 2 10-2 14 1 0 1 0 0 17-2"/>
<path class=b4 d="M896 778l0 1 0 1 7 0 0 0 6-2 7 1 0 0 5-1 6 0 6 0 0 2 0 0 5-2 0 0 0 2 0 0 5-2 0 0 0 0 0 2 0 0 5-2 0 0 0 2 0 0 5-2 0 0 5 1 0 1 9-1 4-1 4 0 4 1"/>
<path class=b2 d="M890 779l6-1 7 1 6-1 0 0 12 0 0 0 6 1 6-1 5 0 20 1 13-1 8 2"/>
<path class=b1 d="M927 779l6 1 10 0 10-2 18 2"/>
<path class=b0 d="M933 776l29 7"/>
<path class=b2 d="M890 775l0 3 6-1 7-2 6 1 0 1 7-2 0 1 0 1 0 0 0 0 5-2 6 2 21-2 0 2 14 0 0 0 9-2"/>
<path class=b3 d="M921 776l0 0 6 1 31-2 4 0 13 0"/>
<path class=b4 d="M896 777l7-2 0 0 24 1 6 0 0 0 5-1 0 0 0 1 0 0 5 0 0 0 0 0 5-1 0 2 5-2 0 1 0 0 5 0 0 0 0 1 0 0 4-2 0 1 0 1 5 0 0 0 0 0 4-2 8 1"/>
<path class=b1 d="M916 775l22 1 10 0 5 0 14 0"/>
<path class=b1 d="M909 772l24 2 20-2 18 0 4 2"/>
<path class=b0 d="M953 774l22-1 8 0 36 1"/>
<path class=b2 d="M890 772l6 1 0 1 7-2 13 0 0 1 5-1 0 0 0 2 6-1 11-1 5 0 10 0 9 0 5 0"/>
<path class=b3 d="M890 773l6-1 37 0 0 2 0 0 5 0 5-2 5 0"/>
<path class=b4 d="M890 772l6 0 0 2 0 0 7-1 0 0 13 0 5-1 17 0 0 0 5 0 0 2 0 0 0 0 5-2 0 0 0 2 5 0 5-2 0 2 4-1 5 0 0 1 0 0 4-2 4 1 0 1 4 0"/>
<path class=b2 d="M890 771l0 1 13-2 0 0 6 0 0 0 0 0 0 2 7-2 0 1 5-1 0 0 6 0 16 0 10 1 5-1 9 0 0 1 12 0 4-1"/>
<path class=b3 d="M903 771l24 0 6 1 5-2 24 1 13-1 4 0 4 0 36 0"/>
<path class=b0 d="M958 772l21 0"/>
<path class=b4 d="M890 771l19 1 7-2 5 0 6 2 6-2 0 0 0 0 0 2 5-2 5 0 5 0 0 0 0 0 5 1 0 1 5-2 0 0 0 2 13-2 0 0 0 0 4 0"/>
<path class=b1 d="M938 770l5 0 10 0 9 0 0 0 13 1"/>
<path class=b1 d="M916 768l37 1 18-2 12 0"/>
<path class=b2 d="M890 769l6-2 0 0 7 1 0 1 0 0 6-2 0 2 0 1 7-2 0 1 5-2 0 2 6-2 16 1 5 0 10 0 9 0 4 0 8-1 4 2"/>
<path class=b4 d="M896 768l13-1 7 1 5 0 0 1 12-1 0 0 5 0 0 0 5 0 5 0 0 0 5 0 5-1 0 2 4 0 5-1 0 1 4-2 0 2 0 0 4-1 4-1"/>
<path class=b3 d="M896 767l37 1 5 0 5 0 10 0 5 0 9-1 0 2 8-2 0 2 8-2"/>
<path class=b0 d="M916 767l67-2"/>
<path class=b2 d="M890 766l13 0 0 0 13-1 0 1 5 0 6-2 0 2 6 0 5-2 0 2 5 0 5-2 5 2 9-2 5 0 0 1 4 0 4 1 0 0 4-1 16 0"/>
<path class=b3 d="M890 765l26 0 27-1 0 2 0 0 19 0 9-1"/>
<path class=b4 d="M903 764l0 1 0 0 0 1 6-2 0 1 7 1 5 0 0 0 12 0 0 0 5-2 0 2 0 0 10 0 0 0 0 0 5 0 0 0 5-2 0 0 0 1 0 1 4-1 0 0 0 1 5-1 16-1 0 0"/>
<path class=b2 d="M896 762l0 1 7-1 6 0 7 0 0 2 0 0 11-2 0 0 6 0 0 2 10-2 0 0 10 0 0 2 0 0 9-2 5 0 4 0 4 2 4-2 0 2 4-2 8 1"/>
<path class=b4 d="M903 763l0 0 6 0 24-1 0 2 0 0 5-2 0 0 0 2 5-2 0 2 0 0 5-2 0 0 5 0 0 0 5 0 0 0 0 1 4 1 5-2 4 0 4 1"/>
<path class=b1 d="M909 763l39 1 14 2 9-4 8 2"/>
<path class=b3 d="M921 764l12-2 5 0 10 0 0 2 5 0 14-1 12-1"/>
<path class=b1 d="M953 760l9 1 9-2"/>
<path class=b2 d="M896 761l13-2 0 0 7 1 0 0 5 0 0 1 12-1 5 0 10 0 10 1 4-1 5 1 4 0 8-2 0 1 0 1"/>
<path class=b3 d="M903 760l6 1 12-1 6 1 6-1 5 0 5 0 0 0 5-1 0 1 5 0 18 0 8-1"/>
<path class=b4 d="M890 762l6-1 13-1 7-1 5 0 6 1 0 1 6-1 5 0 5 0 5 0 5-1 0 0 0 1 5 0 0 1 4-2 0 0 0 2 5-2 0 1 0 1 4-1 0 1 4 0 16-1"/>
<path class=b0 d="M983 760l4 2"/>
<path class=b2 d="M890 758l6 0 0 1 7 0 13-2 0 1 0 1 5-1 6 1 11-3 0 2 20 1 4 0 5-3 0 2"/>
<path class=b0 d="M927 756l44 3 24-1"/>
<path class=b4 d="M903 758l6-1 0 0 0 0 0 1 7 0 5-1 12 1 0 0 0 0 5 0 5 0 0 0 5 0 0 1 5-3 0 3 5-2 0 0 0 1 4-1 5 1 4-1 8 0 4 0 0 0"/>
<path class=b3 d="M916 758l11 0 16 0 5-1 14 0 5 0 4 0 0 0 4 0 4 1 4 0 4 0"/>
<path class=b1 d="M921 759l17-1 20 0 4-1"/>
<path class=b3 d="M916 756l5-1 22 1 0 0 15-2 4 0 5 1 0 0 16 0 26 0"/>
<path class=b4 d="M896 756l7-2 6 1 7-1 5 2 0 0 12-2 0 0 0 2 5-2 0 0 0 2 5-2 0 0 5 0 0 0 0 2 0 0 5-2 0 2 0 0 9-2 0 0 5 1 4-1 0 0 0 1 12 1"/>
<path class=b0 d="M933 756l20-2 5 0"/>
<path class=b2 d="M890 755l13-1 0 1 6 0 0 0 24 1 5-2 0 2 5-2 15 2 17-2 8 0 8 1 28-1"/>
<path class=b1 d="M927 754l0 2 16 0 36-1 0 1"/>
<path class=b2 d="M903 751l0 1 0 2 6-1 7 1 5-3 0 1 0 0 0 1 0 0 6 1 11-2 15 0 5 1 4-2 0 2 5-2 0 2 0 0 8 1 4-1 0 1"/>
<path class=b0 d="M933 752l20 1"/>
<path class=b4 d="M890 753l6 0 20 0 11 0 0 0 6-1 0 2 5-2 5 0 5 0 0 0 0 2 5-2 0 2 5-1 4 0 0 0 5 0 4 0 0 0 0 0 4-1 4 0"/>
<path class=b3 d="M903 753l13 0 17-1 5 0 5 0 0 0 5 0 10 1 0 1 25-2 0 0 33 0"/>
<path class=b1 d="M903 749l55 1 4 1 9 0 4 3 4-5"/>
<path class=b4 d="M903 750l6 0 0 0 7 0 0 1 11-1 6 0 0 0 5 0 0 0 5 0 5 1 5-1 0 1 5-2 0 1 0 0 4-1 0 1 21-1 0 2 8-2 7 0"/>
<path class=b2 d="M909 751l7-2 0 1 5-1 0 1 0 1 6 0 6-1 10 0 5 1 5-1 9-2 5 1 0 2 4-1 8 0 4-1 0 1 4-1 0 2"/>
<path class=b3 d="M909 749l18 1 11 0 5 0 5 0 19 0 4-1 0 0 0 1 8-1 0 1 0 0"/>
<path class=b2 d="M903 748l6-1 0 1 0 0 7-1 5-1 0 1 17 1 10 0 10-2 25 1"/>
<path class=b1 d="M916 748l5 0 17 0 15-2 9 0 9 1"/>
<path class=b4 d="M909 748l7 0 0 0 11 0 6 0 0 0 5 0 5 0 0 0 5-2 0 2 0 0 5 0 0 0 0 0 5 0 4-2 0 2 5-2 0 1 0 0 0 1 4 0 0 0 4-1 0 0 4 0 0 1 0 0 4-2 0 0 15 1"/>
<path class=b3 d="M896 747l7 0 18 0 12 1 10 0 15 0 9 0 8 0 16-1 25 0"/>
<path class=b0 d="M943 746l76 1"/>
<path class=b4 d="M909 746l7 0 5 0 12 0 0 0 5-2 0 2 0 0 5-2 0 2 0 0 5-2 5 0 0 0 0 2 0 0 5 0 0 0 4-2 0 0 5 1 12 1 4-1"/>
<path class=b2 d="M909 745l0 1 12 0 6-1 0 1 0 0 6 0 15 0 0 0 10-2 17 1 4 1 8 0"/>
<path class=b3 d="M916 745l5 1 17-2 0 0 0 2 10-2 10 0 4 0 0 2 5-1 4-1 0 1 4-1 8 0 0 1 8-1 21 2"/>
<path class=b1 d="M916 746l11 0 26-2 18 0 16 1 0 0"/>
<path class=b1 d="M909 741l12 2 58-1 0 1 4-2 33 1"/>
<path class=b2 d="M903 742l6 1 7 1 11-1 6-1 25 1 9-2 4 0 0 2 0 0 8 0 4-2 4 2"/>
<path class=b3 d="M916 743l11 0 6-1 10 2 5-1 5-1 5 1 4-1 17 0 4 1 33 0"/>
<path class=b4 d="M909 741l0 0 12 2 0 0 6-2 6 1 0 2 0 0 0 0 5-2 0 0 0 0 5 0 0 1 0 0 0 1 5-2 0 0 0 2 5-2 0 0 5 2 4-2 0 1 5 1 4-3 0 2 8-2 4 3"/>
<path class=b3 d="M921 740l17 0 15-2 0 0 5 2 4-2 0 2 5-2 4 1 20-1"/>
<path class=b1 d="M916 738l11 1 35-1 0 2 13 0"/>
<path class=b0 d="M958 742l13-3 16 1"/>
<path class=b4 d="M921 740l12-2 0 2 0 0 0 0 5-2 0 0 0 0 0 2 5-2 0 0 0 2 0 0 5 0 0 0 0 0 5 0 0 0 9 0 5 0 0 0 4-1 4 1 0 0 8-1 4 1 0 0 0 0 4-1 0 0"/>
<path class=b2 d="M896 740l25-1 0 1 0 0 17 0 5-2 0 2 5-2 5 2 5 0 0 0 4-2 9 2"/>
<path class=b3 d="M958 738l4-1 13-1 4 2 0 0 4-1"/>
<path class=b4 d="M921 738l12-2 0 0 5 0 0 0 0 0 5 0 0 0 0 0 5 0 0 0 0 0 0 2 5-2 0 0 0 2 5-2 0 0 4 0 5 2 0 0 4-2 0 1 4 0 4-1 0 1 0 1 4-2 0 2 4-2 4 2 4-2"/>
<path class=b1 d="M933 738l25 0 21 0 8-1 4 1 14 0"/>
<path class=b2 d="M916 736l5 1 0 0 6 0 0 1 6-2 0 2 15 0 5-2 5 0 0 2 4-1 5 1 4 0 20-1 4-1"/>
<path class=b0 d="M975 734l4-2 4 2 0 1"/>
<path class=b4 d="M909 733l24 1 0 0 0 0 5 0 0 0 5 0 0 0 5 0 0 0 5 0 0 0 5 0 4-2 5 2 4-1 0 1 0 1 4-2 4-1 0 2 0 0 16 1"/>
<path class=b2 d="M903 734l13 1 0 0 0 1 5-2 0 1 0 0 6-3 21 2 10 0 4 0 5-1 0 0 4-1 0 0 0 2 16 0"/>
<path class=b3 d="M921 735l6-2 11 1 5 0 10 0 5 0 4 0 5 0 16 0 4 1"/>
<path class=b1 d="M927 733l35 1 5 0 12 0 4-1 4 0"/>
<path class=b3 d="M938 732l5-2 15 0 0 2 4 0 9-1 0 1 4 0 4 0 4-1 0 1 12-1"/>
<path class=b1 d="M921 732l12-2 0 0 5 0 10 0 5 2 9-2"/>
<path class=b2 d="M909 731l7 1 0 0 5-2 0 1 12 1 15 0 10-2 0 2 21-2 16 1"/>
<path class=b4 d="M909 731l0 0 7 1 11 0 6 0 0 0 5-2 0 2 0 0 5-2 0 2 0 0 0 0 5 0 0 0 5 0 0 0 5 0 4-2 0 0 0 2 5-2 0 1 0 1 4-1 4 0 4 0 0 0 8 0"/>
<path class=b3 d="M927 730l6-2 5 2 29 0 4-2 20 0 0 2"/>
<path class=b4 d="M909 729l12-1 6 1 6-1 0 2 5-2 0 0 5 0 0 0 0 0 0 2 5-2 0 0 0 0 0 2 5-2 0 0 0 2 0 0 0 0 5 0 4-2 0 1 5-1 0 1 0 0 4-1 0 0 4 0 0 0 4 1 0 0 0 1 4-1 0 1 15-2"/>
<path class=b2 d="M909 730l7-1 0 1 5-1 6 1 6-2 5 0 15 0 5 0 4 0 13 2 8-1 4 1"/>
<path class=b1 d="M948 730l10-2 0 0 25 1"/>
<path class=b3 d="M903 727l24-1 11 0 5 0 10 0 0 0 5 0 9 1 12-2 0 1 4-1 8 1 0 1 0 1 0 0"/>
<path class=b4 d="M909 727l0 0 7-2 5 0 12 1 0 0 0 0 5 0 0 0 5-2 0 2 0 0 5-2 0 2 0 0 0 0 5 0 5-2 0 2 4 0 0 0 5 1 0 1 4-2 4-1 4 1 4 0 0 1 4-2"/>
<path class=b0 d="M979 725l4 0 12 7"/>
<path class=b2 d="M903 725l24 0 16 0 15-1 0 2 4-2 0 2 9 0 4 2 4-2 4 0 4 0 0 0"/>
<path class=b2 d="M921 724l6-2 0 1 6-1 5 0 0 2 5 0 5 0 5 0 5-2 4 1 0 1 5 0 4-2 0 2 0 0 8 0"/>
<path class=b1 d="M967 722l0 0 4 4 4-3 0 1 12-2"/>
<path class=b3 d="M933 722l0 2 42-2 0 2 8 0 4-2 0 0"/>
<path class=b4 d="M909 724l7-2 11 0 6 2 0 0 5-2 0 2 0 0 5-2 5 0 0 0 0 2 5-2 0 0 0 2 0 0 5-2 0 0 0 2 4-1 0 1 5-2 0 2 0 0 4-2 0 2 4-1 4-1 0 0 4 1 12 1"/>
<path class=b2 d="M921 721l12-1 25 0 4 0 9 0 8 2 4-1 0 0 4 0"/>
<path class=b3 d="M943 720l0 2 5-2 14 1 0 1 9-2 0 2 12 0 4 0 4 0 4-1"/>
<path class=b4 d="M916 720l11 2 6-2 0 0 0 2 5-2 0 0 0 2 5-2 0 0 0 2 5-2 0 0 0 2 5-2 0 0 0 2 5-3 0 1 0 0 4 1 5-1 0 1 0 0 4-1 4 1 0 0 4-1 0 0 0 0 4 1 0 1 4-3 0 1 8 1"/>
<path class=b1 d="M916 719l22 1 15 0 22 1"/>
<path class=b0 d="M995 719l27 2"/>
<path class=b2 d="M916 717l5 0 6 1 0 0 21 1 5-2 9 1 13-1 0 1 4 1 0 0 4-1 4-1 0 0 0 2 29-2"/>
<path class=b4 d="M909 717l12 1 12 0 5 0 0 0 5 0 5 0 5-1 0 1 0 0 5 0 4 0 5-2 0 2 0 1 4-2 0 0 0 1 0 0 0 1 4-2 0 2 8-1 0 0 4-1 4 0 0 1 34 0"/>
<path class=b3 d="M933 718l0 0 10 0 0 0 5 0 5 0 5 1 4-2 13 0 0 1 4 0 23-1"/>
<path class=b1 d="M938 718l24 1 5-1"/>
<path class=b3 d="M948 716l10-2 13 1 0 1 8 0 0 0 4 0"/>
<path class=b2 d="M909 715l12 1 0 0 6-1 6 1 15 0 10 0 0 0 9-2 0 2 0 0 8-1 8-1 12 1 3 0 0 0"/>
<path class=b1 d="M933 716l29 0 5-2 4 0 34 2"/>
<path class=b4 d="M903 716l6 0 12 0 6 0 6-2 0 2 5 0 0 0 0 0 5-2 0 2 0 0 0 0 5-2 0 2 5-2 0 0 0 2 5 0 4-2 0 0 0 2 5-1 8 0 0 0 4 1 4-2 0 0 0 2 0 0 4-1 8 0"/>
<path class=b4 d="M927 713l6-1 0 0 0 2 5-2 0 0 0 2 5-2 0 0 0 2 0 0 5-2 0 0 0 1 5-1 0 0 0 1 5-1 0 0 0 2 4-2 0 2 5-2 4 0 0 2 4-1 0 0 0 1 4-2 0 2 4-1 0 0 4 0"/>
<path class=b2 d="M927 714l6 0 5 0 10 0 10-2 4 0 0 1 5-1 12 0 0 0"/>
<path class=b1 d="M916 714l37 0 14-1 4-1 8 2"/>
<path class=b3 d="M933 712l5 2 5-2 5 2 10 0 13-2 8 2 4 0 8-2 4 2 10-2 37 0"/>
<path class=b3 d="M933 710l5 0 10 0 5 1 5-2 4 1 0 0 5 1 4-2 4 1 4 1 4-1 12-1 21 2"/>
<path class=b4 d="M921 710l0 1 6-2 0 3 11-2 0 2 5-2 0 0 0 0 5 0 5-1 14 2 0 0 4-1 0 0 0 1 4-2 8 1 0 0 4 0 0 1 4-2 0 1 0 0 7-1"/>
<path class=b1 d="M916 711l17-1 25 0 4 0 13 2 4-1"/>
<path class=b2 d="M933 710l5 0 10 0 5 0 0 0 5 0 0 0 17 0 0 1 4-1 8-1 0 1 4-1 0 1"/>
<path class=b2 d="M916 707l11 1 21-2 0 2 5-2 0 3 5-2 9 1 4 1 8-3"/>
<path class=b4 d="M909 707l12 0 12 1 0 0 0 0 5 0 0 0 0 0 5-2 0 1 0 1 0 0 0 1 5-1 0 0 5-2 0 2 5 0 0 1 4-1 0 0 0 0 5-1 0 0 0 1 0 1 4-3 0 3 4-2 4-1 0 3 4-3 0 2 4-1 0 1 0 0 4-1 0 2 7-2"/>
<path class=b0 d="M979 708l4-2 33 6"/>
<path class=b3 d="M927 708l31-1 13-1 12 2 8-1 4-1 39 2"/>
<path class=b1 d="M979 708l4 0"/>
<path class=b1 d="M962 704l17 1 8 1"/>
<path class=b3 d="M921 706l37-1 9-1 8 2 16-2 0 0"/>
<path class=b4 d="M916 705l17-1 0 1 0 0 0 1 0 0 5-2 0 2 0 0 0 0 5-2 0 2 5-2 0 0 0 0 0 2 0 0 5-2 0 0 0 2 5-2 4 1 0 1 5-2 0 2 4-2 0 1 4-1 0 0 0 1 4-1 4 2 4-1 4 0 0 1 4-1 3-1"/>
<path class=b2 d="M909 704l12 0 12 2 5-2 5 0 15 0 0 2 4-2 9 2 8-2 0 2 16-2"/>
<path class=b0 d="M967 705l20 0"/>
<path class=b3 d="M927 704l11-2 5 2 5-1 5-1 0 2 14-2 4 0 8 0 4 1 15 0"/>
<path class=b2 d="M916 703l11 1 11 0 33-2 4 1 0 0 4-1 4 2 0 0 4-1 0 0 4-1 0 2 31-1"/>
<path class=b4 d="M927 704l6-2 0 0 0 0 5 0 5 0 0 0 0 0 5 1 0 0 5 0 0 0 5-1 0 0 0 0 4 0 0 1 0 0 5-1 0 0 4 0 0 2 4-2 0 1 4 0 4 0 4 0 4-1 0 0 0 2 11-2"/>
<path class=b1 d="M938 703l29-1 16 0 0 2"/>
<path class=b3 d="M921 698l17 2 20 0 4-1 9-1 0 2 8 0 4 0 0 0 4-2 4 2"/>
<path class=b4 d="M927 699l0 1 0 0 6 0 0 0 0 0 5 0 0 0 5 0 0 0 0 1 5-2 0 1 0 0 0 0 5-1 0 2 5-1 0 0 4-1 0 1 0 1 0 0 5-2 0 1 0 1 4-2 0 1 0 0 4 0 0 1 4 0 4-2 4 1 0 0 4-1 0 1 25-1"/>
<path class=b1 d="M975 699l12 2"/>
<path class=b2 d="M921 699l6 1 21-1 5 1 0 1 26-1 4-1 0 1 19 0"/>
<path class=b2 d="M916 698l17 0 5 0 10 0 5 0 9-1 5 1 4-2 4 2 4 0 12-1 4 0 21 0 0 1"/>
<path class=b3 d="M938 698l5 0 15 0 9-1 0 1 16-2 8 1 4 0 0 1 27-1"/>
<path class=b1 d="M962 697l17 1 8-1 8 1 21-1"/>
<path class=b4 d="M927 697l6-1 0 2 0 0 5 0 5 0 0 0 10 0 5-2 0 1 0 0 0 1 0 0 4 0 5-2 0 1 4 0 0 0 0 1 4-2 0 0 0 2 4 0 4-2 0 2 4-1 0 1 0 0 4-1 25 0 6 0"/>
<path class=b3 d="M953 694l9 0 0 2 17-1 0 1 4-2 4 0 0 1 8 0"/>
<path class=b2 d="M933 694l0 2 10 0 10 0 18-2 0 0 8 0 0 1 4-1 36 0"/>
<path class=b1 d="M948 696l23-2 51 2"/>
<path class=b4 d="M933 694l0 2 5-2 0 0 0 0 0 2 0 0 0 0 5-2 0 2 0 0 5-2 0 0 0 0 0 2 0 0 5-2 0 0 0 2 0 0 5-2 0 0 0 1 4 0 0 0 5 0 0 0 0 0 8 0 0 0 0 1 4 0 0 0 4-2 0 2 4-1 0 1 8 0"/>
<path class=b2 d="M916 693l5-1 12 2 15-2 19-1 4 2 16 0 4 0 7 1"/>
<path class=b4 d="M933 692l0 0 0 0 5 0 0 0 5 0 0 0 0 2 10-2 0 0 0 0 5 0 0 0 0 0 4 0 0 1 5-1 0 0 4 1 4-1 0 0 0 1 4-1 0 0 0 0 4 0 4 1 0 0 8 0 0 0 10-1 26 1 9-1"/>
<path class=b3 d="M938 692l5 2 5-2 14 0 9 0 12 0 0 0 8 0 14 0 11 1 0 0"/>
<path class=b0 d="M995 693l21-2"/>
<path class=b1 d="M943 693l5-1 19 0 4 1 31 0"/>
<path class=b2 d="M933 690l20 1 5-1 21 1 4-2 0 0 8 2 25-1 0 0"/>
<path class=b3 d="M958 689l9 2 0 0 4 0 8 0 4-1 0 0 8 0 7 0 11-1 31 0"/>
<path class=b4 d="M933 690l0 0 5 0 0 0 0 0 5-2 0 1 0 0 0 1 0 0 0 0 5-2 0 2 0 0 5 1 5-1 0 1 4-1 0 0 5-1 4 2 4-2 4 1 4 0 4-1 0 1 0 1 4-3 0 1 0 2 7-1 4-1"/>
<path class=b0 d="M987 691l8-2"/>
<path class=b1 d="M948 690l5 1 9-1 13-1 0 2 34 0"/>
<path class=b2 d="M933 686l0 2 5 0 10 0 10 0 13-2 0 1 0 1 4-1 0 1 4-1 0 1 8 0 4 0 31 0"/>
<path class=b3 d="M958 688l4-1 5-1 0 2 4 0 4-1 4 1 8-1 4 0 0 0"/>
<path class=b4 d="M933 686l0 2 0 0 5 0 0 0 5-2 5 0 0 0 0 1 0 1 5-2 0 0 0 2 0 0 0 0 9-1 0 0 0 1 0 0 0 0 5-2 0 0 0 2 4 0 8-2 0 2 4-2 0 1 4 1 4 0 4 0 0 0 14-1"/>
<path class=b3 d="M933 686l5 0 10-2 5 0 5 2 37 0 21-1 9 0"/>
<path class=b2 d="M938 686l5 0 15-2 0 2 4-2 5 0 4 0 4 0 4 1 4-1 0 2 4 0 4-2 4 2 3 0"/>
<path class=b1 d="M958 686l33 0 4 0 27 1"/>
<path class=b4 d="M933 684l0 0 5 1 0 0 0 0 0 1 5-2 0 0 0 0 0 2 5-2 0 0 5 1 0 0 0 1 5-2 0 0 4 0 0 1 5-1 4 0 0 1 0 1 4-2 0 1 4-1 0 1 0 1 8-1 0 0 0 1 4 0 7-1 24 1"/>
<path class=b1 d="M958 683l13-1 12 2 4-2 11 0 74 0"/>
<path class=b3 d="M933 683l10 0 19-2 21 1 0 2"/>
<path class=b2 d="M948 682l10 0 21 0 12-1 25 0 6 0"/>
<path class=b4 d="M933 682l0 1 0 1 5-2 0 0 0 1 5-1 0 1 5-1 0 0 5-1 0 1 0 1 0 0 5 0 4-2 0 1 0 1 0 0 5-2 0 1 0 1 0 0 0 1 4-2 0 1 4-2 0 1 0 1 0 0 4-1 0 0 4 0 4 0 0 1 4 0 0 1 4-3 3 3 4-3 20 0 3 1"/>
<path class=b0 d="M983 682l0 6"/>
<path class=b4 d="M933 679l0 1 0 0 5 0 0 0 5 0 0 0 5-1 0 0 0 0 0 1 0 1 0 0 5-1 5-1 0 1 0 0 4 0 5-1 0 0 0 1 0 0 0 1 4-2 0 1 0 1 4-1 0 0 4 0 0 0 4 0 0 0 4 0 0 1 4-2 4 0 3 2 4 0"/>
<path class=b1 d="M953 680l5-1 33 1 0 0"/>
<path class=b2 d="M921 678l0 2 12 0 5-2 0 3 5-1 10-1 5 1 21 0 8 0 8 0"/>
<path class=b3 d="M958 679l13 1 12 1 12-3 0 1 0 2 27-2"/>
<path class=b1 d="M943 676l36 2 4 0 15 0"/>
<path class=b4 d="M916 677l17-1 0 1 0 1 0 0 5 0 0 0 5 0 0 0 10-2 0 2 0 0 5-1 4-1 0 2 5-1 4-1 0 0 0 0 0 2 0 0 4-1 0 1 0 0 0 0 0 0 0 0 4 0 4-2 0 2 0 0 4-2 0 2 0 0 4-1 7 1 0 0 4-1 0 1 14 0 6 0 9 0"/>
<path class=b2 d="M943 678l10-2 34 2 8-2 0 0 7 1 14 0 3 0"/>
<path class=b3 d="M967 677l12 1 12-1 28 0 0 1 3 0"/>
<path class=b1 d="M953 675l30 1 22 0"/>
<path class=b3 d="M971 675l0 0 8 1 8-1 8 0 7-1 17 1"/>
<path class=b4 d="M933 674l0 2 5-1 0 0 0 1 5-2 0 2 0 0 5-2 0 1 0 1 0 0 0 0 5-1 0 1 5 0 0 0 4-1 0 0 0 1 0 0 5-2 0 1 0 0 0 1 12-2 0 0 0 2 0 0 4-2 4 1 0 0 0 1 4-2 0 1 0 1 4-2 0 1 3 0"/>
<path class=b2 d="M938 676l0 0 15-1 9 0 9-1 12 2 4 0 29-1 0 0 15 1"/>
<path class=b4 d="M933 672l0 1 0 0 0 1 0 0 5-2 0 0 0 2 5-1 0 0 0 0 0 1 0 0 5-2 0 0 0 2 5-2 0 1 5-1 0 1 0 0 0 1 0 0 4-2 5 1 4-1 0 0 0 1 4 1 0 0 4-2 0 0 0 2 4-2 0 2 0 0 8-1 0 1 4-2 24 1 3 1"/>
<path class=b1 d="M938 672l49 0 4 1"/>
<path class=b3 d="M962 672l13 2 30-1 20-1"/>
<path class=b2 d="M958 674l9-2 8 1 0 0 8-1 4 0 8 1 0 1 3-1 18 1"/>
<path class=b0 d="M1019 674l3 1 9-2"/>
<path class=b0 d="M975 670l12 0 32 2 51 0"/>
<path class=b1 d="M953 670l9 1 13-1 16 1 0 0 4 0 3-1 18 2"/>
<path class=b3 d="M948 670l14 1 0 0 13 1 4-2 4 0 0 0 4 2 4 0"/>
<path class=b2 d="M967 671l4 0 20 1 7-1 0 0 14 1 16-2"/>
<path class=b4 d="M916 670l17 0 0 0 5 0 0 1 0 0 5-1 0 0 0 0 5 0 0 1 0 1 5-2 0 1 0 1 5-2 0 0 0 1 4 1 5-2 0 2 0 0 4-2 0 1 4-1 4 2 4 0 4-2 8 1 21 1 12 0 3 0"/>
<path class=b2 d="M933 669l5-1 24 1 0 1 21-2 4 0 0 2 15-1 10-1 4 0 12 1"/>
<path class=b1 d="M933 669l46 1 4-2 4 0"/>
<path class=b3 d="M943 668l10 0 14 1 4-1 8 2 4 0 4-2 4 0 7 1 18-1"/>
<path class=b4 d="M927 668l6 1 0 1 5-2 0 0 5 0 0 1 5-1 0 0 0 1 5 0 0 0 5-1 0 0 0 0 9 0 0 1 4-1 0 1 4-1 0 1 4-1 0 0 0 0 4 0 8 0 0 1 4-1 0 0 0 0 3 1 4 0 14 0 9 0"/>
<path class=b2 d="M953 667l18 0 8-1 12 0 0 1 4 0 3-1 4 0 17 0 29 2"/>
<path class=b4 d="M909 668l24-2 0 1 5 0 0 0 5-1 0 1 5-1 0 1 0 0 5-1 0 1 5 0 0 0 4-2 0 1 5 0 0 0 0 0 4 0 0 1 4-1 0 0 0 1 4-1 0 0 4 0 0 0 4 0 0 1 4-1 4 0 0 0 3 0 11 1 10 1 3 0"/>
<path class=b0 d="M987 666l29 2 61 0"/>
<path class=b3 d="M927 668l6-2 5 2 5-2 15 0 4 0 0 0 36 0 0 0 21 1"/>
<path class=b2 d="M943 665l5 0 23-1 0 1 8-1 0 0 8 1 4-1 0 1 7 0 4-2 14 0 3 2 0 0 3 0 12 0"/>
<path class=b1 d="M958 665l25 1 33-1 6 0 48 0 2 0"/>
<path class=b4 d="M933 663l0 1 0 1 0 0 5-1 0 0 0 0 5 0 5 0 0 1 5-1 0 1 0 0 5 0 0 0 4-1 0 1 5-1 0 0 0 0 4 0 4 0 0 1 4-1 4 0 0 1 4-1 4 1 0 0 4 0 7 0 14-1 3 1"/>
<path class=b3 d="M943 664l40 0 4 0 18-1 20 0"/>
<path class=b4 d="M933 663l5 0 5-1 0 0 0 1 5 0 5-1 0 1 0 0 5-1 0 1 4-2 0 0 0 1 0 1 5-1 4-1 0 1 0 0 0 1 4-1 0 0 0 1 4 0 0 0 4-1 4 0 0 0 4-1 0 1 0 1 4-1 3 0 4 1 7-2"/>
<path class=b3 d="M938 662l10 0 0 0 5-1 9 1 5 1 8-2 4 1 4 0 4 0 4-1 25 1 0 0 3 0 23 0"/>
<path class=b2 d="M933 663l5-2 0 2 20 0 4-2 5 0 28 1 39 0 3 1"/>
<path class=b3 d="M971 660l0 1 27-1 7 0 11-1 6 1 53 1"/>
<path class=b0 d="M1019 660l3 3 50-4"/>
<path class=b4 d="M933 659l0 1 0 1 5-1 5-1 0 1 0 1 0 0 5-1 0 1 0 0 5-2 0 1 0 0 5-1 0 0 0 1 0 0 0 0 9-1 8 0 0 0 0 1 4 0 4 0 0 0 4-1 0 1 0 1 4-2 4 1 24-1 3 1"/>
<path class=b1 d="M983 662l4-1 4 0 7-1 7 0 11-1"/>
<path class=b2 d="M933 661l0 0 5 0 5-2 19 0 9 2 8-1 0 0 4 0 4-1 8 0 0 1 42 0"/>
<path class=b4 d="M933 658l5-1 0 1 0 0 0 0 5 0 5 0 0 0 0 0 5 1 0 0 5-2 0 1 4-2 0 1 0 0 0 1 0 1 5 0 0 0 4 0 0 0 4-2 0 0 4 1 0 0 0 0 4 0 0 0 4 0 4-1 0 1 4-1 0 2 3-2 0 0 0 2 4-1 3 1 11 0 6-1"/>
<path class=b3 d="M979 656l0 1 4 1 4-1 8 0 3 0 4 1 17-1 9 1 3-1"/>
<path class=b2 d="M987 657l0 0 22 0 10 0 0 0 3 1"/>
<path class=b1 d="M958 657l33 2 40-2"/>
<path class=b0 d="M1016 655l0 1"/>
<path class=b4 d="M927 655l6 0 0 0 0 1 5-1 0 0 0 0 0 1 0 0 5-1 0 1 0 0 5-1 0 0 0 1 0 0 0 0 5-1 0 1 0 0 5 0 4-1 5 0 0 0 4 0 0 1 4-1 16 0 0 1 0 0 4 0 0 0 24 0 0 0 9-1 0 1"/>
<path class=b1 d="M967 656l55 0"/>
<path class=b3 d="M953 655l9 0 5 1 4 0 4-1 8 1 33 0 0 0 9 0"/>
<path class=b2 d="M943 656l10 0 14 0 4 0 8 0 4 0 0 0 12 0 0 0 14-1 7 0"/>
<path class=b4 d="M933 653l10 0 0 1 0 1 5-2 0 0 0 1 5-1 0 1 0 0 5-1 0 1 0 0 0 0 4-1 0 1 5-1 0 0 0 0 0 1 4 0 4-1 0 0 4 1 0 0 4 0 0 0 4 0 4-1 0 0 0 2 7-2 0 1 27 0 0 0 45-1"/>
<path class=b1 d="M983 654l36-1"/>
<path class=b2 d="M943 653l44 1 11-1 11 1 0 0 10-1 3 1 12 0"/>
<path class=b3 d="M962 653l0 0 9 1 4 0 4 0 8 0 4 0 4-1 21 0 0 0 0 1 9-1 3 1"/>
<path class=b3 d="M938 652l5-2 19 1 17 1 4 0 8 0 7 0 4-1 14 1 3 0 6 0"/>
<path class=b0 d="M995 650l3 2 21 2 51-2"/>
<path class=b2 d="M958 652l9-1 20 1 4-1 7-1 21 1 6 0"/>
<path class=b4 d="M921 650l17 1 0 1 0 0 0 0 0 0 5-2 0 1 0 1 5-1 0 1 5-1 0 0 0 2 5-2 0 0 13 0 0 1 0 0 0 0 4 0 4-2 0 1 0 1 0 0 8 0 0 0 8-1 0 0 7 0 0 1 14-1 3 0 0 1 9-1"/>
<path class=b1 d="M975 652l8 0 0 0 70 0"/>
<path class=b4 d="M933 650l0 0 5 0 5-1 0 0 5 0 0 1 5 0 5 0 0 0 4-1 0 0 0 1 0 0 5-2 0 1 0 1 4-1 0 1 0 0 4-1 0 1 8-1 0 1 0 0 0 0 4 0 0 0 0 0 4-1 0 1 0 0 4-1 0 1 3-1 18 0 6 1 0 0"/>
<path class=b3 d="M953 650l18-2 4 2 20-1 3 0 11 1 13 0 3 0 17-1"/>
<path class=b2 d="M948 650l5 0 26 0 8-1 4 0 0 1 25-1 0 1 0 0 3 0"/>
<path class=b1 d="M933 650l89-1"/>
<path class=b2 d="M943 648l5-1 5 0 18 1 4 0 0 0 8 0 4 0 8-1 24 0 0 1 6-1"/>
<path class=b0 d="M1016 647l18 3 43-2"/>
<path class=b1 d="M1002 647l14 0 0 1 3 0"/>
<path class=b4 d="M933 647l0 1 10-1 0 0 5 0 0 0 5 0 0 1 5 0 0 0 4-1 0 0 0 1 5-1 0 0 0 1 4-1 8 1 0 0 4 0 4-2 0 1 0 0 0 1 8-1 0 0 3 0 0 1 0 0 7-1 4 1 7 0 12 0 3-1 11 0"/>
<path class=b3 d="M971 647l8 1 23 0 17-1 3 1 3 0 0 0"/>
<path class=b3 d="M962 646l13-2 4 1 4-1 0 2"/>
<path class=b2 d="M971 646l4-1 4 1 4 0 4-2 4 1 0 0 14 1 11-2 0 1 3 0 9 0 3 0 3 0"/>
<path class=b4 d="M933 646l5 0 5-2 0 0 0 2 5-2 0 1 0 0 5 0 0 0 0 1 5-2 0 0 0 1 0 1 0 0 4-2 0 0 0 2 5-2 0 2 0 0 12-2 0 0 0 2 0 0 4-2 0 2 4-2 4 2 0 0 0 0 0 0 7 0 4-1 17 0 6-1 9 2"/>
<path class=b0 d="M1070 645l2 0"/>
<path class=b2 d="M971 644l0 0 16-2 8 1 0 1 0 0 3-2 21 2 26-2"/>
<path class=b4 d="M933 644l0 0 5-2 0 1 0 0 5 1 5-2 0 1 5 0 0 1 5 0 4-1 0 0 5-1 0 0 0 2 4-1 0 1 0 0 4-1 0 0 0 0 4-1 4 2 4-2 0 1 0 1 4-1 0 0 4 1 0 0 3 0 18-1 0 0 0 0 3-1 3 0 0 1 3 0 9 0"/>
<path class=b1 d="M1005 644l11 1 6-1 3 0 9-2"/>
<path class=b3 d="M948 643l47-1 7 0 10 2 7-2 0 2 3-2"/>
<path class=b3 d="M958 640l25 2 33-2 3 0 3 0 6 1"/>
<path class=b1 d="M962 642l17 0 40-2"/>
<path class=b2 d="M933 640l10 0 5 2 19-1 0 1 4-2 20 1 7 0 4 0 20-1 20 1"/>
<path class=b4 d="M938 641l0 0 0 0 5 0 0 0 5 1 5-1 0 1 9-2 0 1 5-1 0 1 4-1 4 1 0 0 4-1 0 0 0 0 0 2 4-2 0 0 0 2 0 0 4-2 0 0 4 0 0 2 4-1 0 1 3-1 0 0 4 0 0 1 7 0 7-2 0 1 12-1 3 0 3 1 62 0"/>
<path class=b0 d="M1070 639l9 1"/>
<path class=b3 d="M948 640l23 0 8-2 37 1 3 1 6-2 3 0 25 0"/>
<path class=b2 d="M953 639l5-1 9 1 24 0 0 0 4-1 0 1 3 0 24 1 31-1"/>
<path class=b1 d="M943 639l59 0 14 0 0 0 12 0 0 1 42-1 9 1"/>
<path class=b4 d="M938 639l0 0 0 0 5 0 5 1 5-1 0 0 5-1 0 0 0 2 0 0 4-2 0 0 0 2 5-2 0 2 8-1 0 0 4-1 0 0 4 2 4-2 0 0 0 2 4 0 7-2 0 0 7 0 14 1 0 1 3 0 6-2"/>
<path class=b2 d="M967 636l4 1 16-1 0 0 0 2 8 0 21-1 3 0 0 0 6 0 6 1"/>
<path class=b3 d="M958 637l13 1 0 0 4-1 8 1 8 0 11-1 35 1 33-1"/>
<path class=b1 d="M943 638l48-1 31 0 3 0 9 0"/>
<path class=b4 d="M943 637l5-1 0 1 0 0 5 0 0 0 5 1 4 0 0 0 5-2 0 2 4-2 0 2 0 0 4-2 0 0 0 2 4-2 4 0 0 0 0 0 0 2 0 0 4-2 4 1 0 1 4-2 0 1 21 0 0 0 6 1 6-1 47 0"/>
<path class=b0 d="M953 636l133 1"/>
<path class=b2 d="M953 634l14 0 8 1 16 0 4 0 14-1 10 1 3-1 3 1 9 0 3 0 33 0 0 0"/>
<path class=b3 d="M958 634l9 1 12-1 0 2 4-2 12 1 24 0 0 1"/>
<path class=b1 d="M987 634l11 1 4-1 14 1 6-1 0 1"/>
<path class=b4 d="M938 635l0 1 5-1 0 0 5-1 0 0 0 1 5-1 0 1 5 1 4-2 0 1 0 0 5-1 4 1 0 0 0 0 4 0 0 0 4 1 4-2 0 0 4 0 0 0 4 2 7-1 18-1 0 1 3-1 12 1 6 0 3 1"/>
<path class=b4 d="M938 633l10 0 0 0 5-1 0 0 0 2 5-1 4-1 0 1 0 0 9 0 0 0 8-1 0 2 4-2 0 0 4 0 0 2 0 0 4-1 4 0 0 1 3-1 0 1 4-1 10 0 10-1 3 1 0 0 0 0 3 0 6 1"/>
<path class=b1 d="M1019 632l9 0 0 2 9-1"/>
<path class=b3 d="M971 633l4 1 4 0 19-1 4 0 14-1 6 1 9 0 11-1 30 1"/>
<path class=b2 d="M948 632l10 1 0 1 9-1 16 0 8 0 0 1 4-1 0 0 21 0 3 0 3-1"/>
<path class=b0 d="M991 635l79-3 0 1"/>
<path class=b0 d="M1050 631l31 0"/>
<path class=b3 d="M979 630l0 2 8-2 0 1 4-1 4 1 0 0 21 1 3-1 6 0 3-1 0 1 6 1"/>
<path class=b2 d="M948 630l0 0 14 2 40-1 3-1 11 1 0 0 6-1 0 1 6 0"/>
<path class=b4 d="M943 630l5 1 0 0 5 0 5 0 0 0 0 0 9-1 0 2 4-2 0 1 8-1 0 0 0 2 4-2 0 1 0 0 4 0 4 0 0 0 4-1 3 1 18 0 3 0 0 1 3-2 3 1 6-1 0 2 3 0 3-2"/>
<path class=b1 d="M971 631l48 1 6-2 17 2"/>
<path class=b2 d="M975 630l20-1 3 0 18 0 3-1 9 0 12 0"/>
<path class=b3 d="M958 628l13 0 8 0 12 0 7 0 4 1 14-1 3 0 3 0 6 0 47 1"/>
<path class=b4 d="M933 629l5 0 5 0 10-1 0 0 0 0 5 0 0 1 9 0 0 0 0 0 4-1 0 0 4 0 0 1 4-1 0 0 4 0 0 0 4 0 0 0 0 1 4-1 0 1 11-1 0 1 14-1 9 0 0 1 3-1 6 1 0 0 3 0 11 0 22 0 0 0"/>
<path class=b0 d="M1022 629l0 0"/>
<path class=b1 d="M1019 628l21 0 30 1 26-1"/>
<path class=b3 d="M979 626l4 2 4-2 4 0 25 1 9 1"/>
<path class=b1 d="M1016 627l3-1 0 0 6 2 25 0"/>
<path class=b2 d="M967 626l16 0 12 0 7 0 10 2 4-1 12 0 6 1"/>
<path class=b4 d="M948 626l5 0 0 1 0 0 5 0 4-1 0 0 0 1 5-1 0 1 4-1 0 0 0 1 4-1 0 1 0 0 4-1 0 0 4 0 0 0 4 0 0 1 4-1 0 1 4-1 0 1 3 0 4-1 7 1 0 0 10-1 3 0 0 0 0 1 3 0 3 0 0 0 3 1 6-1 0 1"/>
<path class=b2 d="M958 625l17 0 4-1 4 0 4 0 11 0 18 0 3 0 0 1 3-1 9 2"/>
<path class=b0 d="M1005 626l65-2 2 2"/>
<path class=b1 d="M967 626l58-2 0 0 12 1"/>
<path class=b4 d="M943 624l0 1 5 0 0 0 0 0 5-1 0 2 0 0 5-2 0 1 4 0 0 1 5-1 0 0 4 0 0 0 0 0 4-1 4 0 0 0 4 0 0 0 4 1 0 0 4-1 4 0 0 0 0 2 17-1 4-1 0 0 3 0 3 0 48 1"/>
<path class=b3 d="M991 624l0 1 7 0 24-1 3 0 3 0 0 0 0 0 20 1"/>
<path class=b3 d="M962 622l17 0 16 0 0 0 3 0 18 0 0 0 6 0 0 1 3-1 0 0 6 1 3 0 36 1 7 0"/>
<path class=b1 d="M975 623l8-1 15 0 27 0 6 1 3 0 38-1"/>
<path class=b2 d="M967 624l8-2 12 1 32-1 3 0 0 1 6-1"/>
<path class=b4 d="M943 622l5 1 5 0 0 1 0 0 5-2 0 1 0 1 4-2 0 2 9-2 8 0 0 0 4 0 0 0 4 0 0 1 4-1 0 1 0 0 4 0 3-1 7 0 0 1 11-1 3 0 0 0 9 2 3-1 3 0"/>
<path class=b4 d="M938 620l5 2 10-1 5 0 4 0 0 0 5-1 4 0 0 1 0 0 4 0 0 0 4-1 0 0 0 0 4 0 0 0 4 0 0 0 0 0 4 1 0 0 0 0 4-1 0 1 3 0 0 1 14-2 4 0 9 0 3 2"/>
<path class=b3 d="M953 621l18-1 4 1 20 0 21-1 6 1 0 0 3 0 6 0 3-1 3 1 3 1 32-1"/>
<path class=b2 d="M958 621l4 0 5 0 38-1 11 1 3 0 6-1 43 2 2-1 7 0"/>
<path class=b1 d="M983 620l36 1 18-1 3 2 30-1"/>
<path class=b0 d="M1019 621l31 2"/>
<path class=b1 d="M987 618l11 1 27 0 17 0 3-1"/>
<path class=b0 d="M1022 619l72-1"/>
<path class=b4 d="M948 618l10 0 0 1 0 1 4-1 0 0 0 1 5-1 0 0 0 0 4 0 4 0 4-1 0 1 8-1 0 0 4 1 0 1 4-1 3 0 4 0 14-1 3 1 6 0 3-1 0 1 3 0 6-1 35 0"/>
<path class=b3 d="M979 618l4 0 0 1 0 0 12 0 3-1 21 1 12-1 0 1 11-1"/>
<path class=b2 d="M953 618l38 1 4 0 21-1 0 0 3 0 3 1 0 1 3-2 3 1 6-1 0 2 36-2 0 1"/>
<path class=b2 d="M967 617l20-1 0 1 4-1 4 0 0 0 21 0 3 1 3 0 3 1 0 0 6-1 3 0 3 0 0 1 3-1 2 1"/>
<path class=b4 d="M933 617l15 1 10 0 4-2 0 1 5-1 0 1 4-1 0 1 0 0 4 0 0 1 4-2 0 1 4-1 0 1 8 1 4-1 3-1 0 1 0 1 4-1 3 0 0 0 0 0 11-1 9 1 3 0 0 1 6-1 36-1"/>
<path class=b3 d="M962 617l21-1 4 1 15 0 17-1 0 1 3-1 0 1 6 0 42 0"/>
<path class=b1 d="M983 615l45 0 9 0 33 1 7 1"/>
<path class=b0 d="M1070 616l2-1 0 0 7 0 13 2"/>
<path class=b3 d="M962 615l13 1 16-1 7 1 14 0 4-1 3 0 6 0 6 0 3 0 0 0 41 0"/>
<path class=b2 d="M979 615l12 0 0 1 14-1 4 0 7 0 3 0 9-1 6 1 41 1"/>
<path class=b4 d="M938 615l10 0 5 0 0 0 0 1 5-2 0 1 4 0 5-1 0 1 0 0 4 0 4 1 4-1 0 1 4-2 0 1 4-1 0 1 0 0 8-1 0 1 7 1 3-1 0 0 11 0 0 1 12-1 3 0 0 1"/>
<path class=b4 d="M938 613l10 0 0 0 0 1 5-1 5 0 9 0 0 0 4 0 0 0 0 0 0 1 0 0 8-1 0 1 4-2 0 1 8 0 0 1 4-1 0 0 0 0 3 0 24 1 3-1 0 0 0 1 0 0 0 0 3-1 9 0 0 0"/>
<path class=b1 d="M995 614l27 0 6 0"/>
<path class=b0 d="M987 613l47 0 68 1"/>
<path class=b2 d="M958 613l17 0 16-1 7 1 0 1 21 0 3 0 6-1 6 0 3 1 5-1 28 1"/>
<path class=b3 d="M979 613l0 0 4 0 4 0 4 0 31 0 9 0 6 1 13 0 25 0"/>
<path class=b3 d="M987 612l15-1 0 1 0 0 14-2 21 0 0 1"/>
<path class=b0 d="M1016 610l56 2"/>
<path class=b2 d="M987 610l4 0 7 0 18 2 6 0 3-1 0 0 6 1"/>
<path class=b1 d="M995 611l3 0 21 0 3-1 6 1 14-1 14 1"/>
<path class=b4 d="M938 611l10 0 19-1 0 2 4-2 0 0 8 0 0 0 0 0 4 0 0 0 4 0 4 1 4-1 3 1 4-1 3 1 7 1 4 0 0 0 3-1 0 0 0 1 0 0 0 0 3-2 0 2 9-1 0 0 3 0 0 0 0 1 3-1 3 0 2 1 28-1"/>
<path class=b3 d="M983 608l4 1 4 0 25-1 6 0 12 0 8 1 30 0 0 1"/>
<path class=b1 d="M1016 610l3-2 12 2 46-1"/>
<path class=b4 d="M938 610l5 0 15-1 4 1 9-2 0 0 8 0 0 0 4 0 4 1 0 0 0 1 4-1 4 0 0 0 0 1 3-1 0 0 0 0 4-1 3 1 14-1 3 0 0 2 3-1 3-1 0 0 0 0 6 2 3-1 3 1"/>
<path class=b0 d="M1025 609l6 1 3-1"/>
<path class=b2 d="M962 608l9 1 0 1 12 0 8 0 14 0 11-2 6 1 15 0 3 0 2 0 28-1 2 1"/>
<path class=b1 d="M971 607l48-1 6 0 9 0 36 1 2 0"/>
<path class=b4 d="M958 607l9-1 0 1 4-1 4 2 4-2 4 0 0 0 0 0 4 0 0 1 0 0 4-1 0 0 0 2 0 0 4 0 7-1 14 1 9-2 0 0 3 1 3 0 0 0 6 0 0 1 3-2"/>
<path class=b2 d="M975 607l4 0 4 1 12-1 0 0 0 0 10 1 11-2 3 2 6 0 3 0 6-2 6 0 16 0"/>
<path class=b3 d="M958 606l13 1 8-1 0 2 37-2 0 0 6 0 0 1 6-1 25 1 17 1 5-1"/>
<path class=b3 d="M971 606l31-1 3 0 11 0 3 1 3-1 9 1 39-1"/>
<path class=b2 d="M979 604l0 1 8-1 4 1 7 0 4 0 0 1 0 0 17-2 0 1 3 1 3-1 3 1 3 0 3-1 8-1 3 1 34 1 4 0"/>
<path class=b4 d="M953 605l14 0 8 0 0 0 4-1 4 1 0 0 4 0 0 0 8 0 0 1 3-2 0 2 7-1 4-1 10 1 0 1 3-2 0 1 9-1 0 1 6 1 3-1"/>
<path class=b0 d="M1028 606l6 1"/>
<path class=b1 d="M1005 605l11-1 9 0 0 0 3 1 9-1 0 1 11 0 2-1"/>
<path class=b2 d="M983 603l33 0 3-1 3 1 18-1 32 1"/>
<path class=b3 d="M971 602l8 0 12 1 0 0 4 0 7 0 14 0 3-1 6 0 0 0 9 1 6-1 0 2"/>
<path class=b4 d="M953 602l0 1 9 0 9-1 0 1 0 0 4-1 4 0 0 0 4 1 0 0 0 1 4-1 0 0 0 0 4-1 0 2 0 0 7-2 0 1 0 0 0 0 4-1 0 0 14 1 0 1 6-1 3 0 6-1 0 1 0 0 3 0 0 0 3-1 33 0 0 0 0 2"/>
<path class=b1 d="M991 604l14 0 17-2"/>
<path class=b4 d="M962 601l0 0 5-1 0 0 0 1 4 0 4 0 0 0 4-1 0 0 4 0 0 0 4 1 4 0 4-1 0 1 24 0 3-1 0 0 3 0 0 0 3 1 0 0 0 0 3 0 6-1 3 0 5 1 25-1 0 1 0 0 11 0"/>
<path class=b1 d="M998 600l21 1"/>
<path class=b2 d="M971 601l4 0 4-1 4 0 4 0 0 1 4 0 7-1 18 0 3 0 6 0 6 1 3 0 0 0 11 1 3-1"/>
<path class=b3 d="M995 601l14 0 7-1 0 0 6 0 9 0 3 1 45 0"/>
<path class=b0 d="M1019 602l26-1 20 0"/>
<path class=b2 d="M971 599l8-1 0 0 23 1 26-1 6 0 0 1 38 1 3-2"/>
<path class=b0 d="M1016 598l54 1 2-1"/>
<path class=b4 d="M958 598l0 1 9 0 4 1 8-2 4 0 0 1 4-1 0 1 0 0 8-1 0 1 0 1 10-3 0 1 0 1 4 0 7-1 0 0 3 0 3 1 3-1 0 1 6 0 0 0 6 0 19 1 19-1"/>
<path class=b1 d="M971 599l57 0"/>
<path class=b3 d="M933 600l42-2 8 1 4 0 4 0 28-1 0 1 3-1 0 1 3 0 3-1 3 0 3 0 3 1 0 0 5 1 6-1 22 1"/>
<path class=b2 d="M971 597l12-1 4 1 11 0 18-1 6 0 61 0 28 1"/>
<path class=b4 d="M962 596l5 0 4 0 0 0 0 1 4 0 4-1 0 0 0 1 4-1 0 0 8 1 4-1 0 1 3 0 0 0 4-1 0 1 3 0 4-1 0 1 3 0 0 0 4-1 0 0 9 0 0 1 6-1 0 0 0 0 6 0 3 0 21-1"/>
<path class=b3 d="M971 597l16 0 22-1 0 0 10 0 0 0 0 0 9 1 12 0 0 0 8 0 2-1 11 0 16 0"/>
<path class=b1 d="M1022 596l0 0 6 0 44 0"/>
<path class=b3 d="M971 595l8-1 4 0 12 0 33 0 0 0 6 0 3 0 3 1 10 0 22 0 3 0 13-1 42 1"/>
<path class=b4 d="M953 595l5 0 9 0 16-1 4 0 0 0 0 0 4 1 0 0 4-1 0 0 10 1 0 0 11-1 0 0 3 0 0 0 3 0 0 0 3 0 3 0 3 0 3 1 8 0 6-1 0 1 24-1"/>
<path class=b1 d="M991 595l28-1 23 1 3-1 3 1 2 0"/>
<path class=b2 d="M979 594l37 0 6 0 9 0 3 0 3 0 0 1 3-1 2 1 28-1 0 1 0 0 2 0"/>
<path class=b3 d="M975 593l4 1 16-2 24 0 6 0 0 0 6 0 3 0 6 1 2 0 3 1 5-1 20 0 5-1"/>
<path class=b2 d="M983 594l8-2 0 0 14 0 11 0 3 0 6 0 12 0 0 0 3 1 0 0 35 0 0 1 4 0"/>
<path class=b4 d="M958 593l0 1 13-2 0 1 0 1 4-1 0 0 0 1 4-2 0 0 4 0 4 0 0 0 4 1 7 0 0 1 4-2 7 0 7 0 9 2 3-2 3 0 19 1 3 1 17-2 2 0"/>
<path class=b1 d="M1031 594l3-2 8 0 6 2 24-2"/>
<path class=b0 d="M1025 594l0 3"/>
<path class=b1 d="M995 592l45-1 2 1 23-1 5 0 9 1"/>
<path class=b0 d="M995 592l116 0"/>
<path class=b4 d="M962 591l5 1 4-1 0 1 4-1 0 0 8 0 0 1 0 0 4-1 0 0 0 0 4 0 4 0 0 0 3 0 4 0 3 0 0 1 14 0 3 0 6 0 3 0 6 0 3-1 5 0 27 0"/>
<path class=b3 d="M975 591l47 1 9-1 3 0 6 0 13 0 5 0 0 1 12-1 0 1 2 0 0 0"/>
<path class=b2 d="M971 591l8 1 8 0 15-1 7 0 7 1 6 0 6 0 6-1 0 1 3-1 8 0 13 0"/>
<path class=b2 d="M991 590l14-13 17 13 3 0 3 0 20-13 8 0 16 13"/>
<path class=b1 d="M1016 590l0 0 12 0 0 0 12-13"/>
<path class=b4 d="M943 577l5 0 27 1 4 12 0 0 0 0 4 0 0 0 8-13 0 0 4 0 0 0 3 0 4 0 3 0 11 13 3 0 3 0 0 0 3 0 9-13 3 0 5 0 3 13 5-13 20 13 5-13 2 0 4 0"/>
<path class=b3 d="M991 577l0 13 7-13 11 1 10 12 0 0 6 0 6 0 0 1 3-1 3 0 0 0 5-13 6 13 2-13 22 0 5 0"/>
<path class=b4 d="M958 576l17-1 4 1 0 0 0 0 4 0 0 0 0 0 4 0 0 0 8 0 3 0 7-1 4 0 0 1 10 0 0 0 12 0 11 0 3-1 3 1 0 0 0 0 8 0 14 0 26 0 15-1"/>
<path class=b2 d="M998 576l4 0 14 0 6 0 3 0 3 0 0 0 6 0 0 1 6-1 10 0 20 0 5 1"/>
<path class=b1 d="M987 576l29 0 0 0 6 0 3 0 3 0 3 0 6 0 28 0"/>
<path class=b3 d="M971 576l48 0 3 0 3 0 6 0 9 0 8 0 22 1 2-1 5 0 6 0"/>
<path class=b3 d="M983 574l8 0 7 0 4 1 10 0 19 0 0 0 11 0 0 0 3 0 5 0 3-1 17 0 2 0"/>
<path class=b2 d="M979 575l4 0 4-1 32 0 3 0 3 0 3 0 3 0 3 1 6-1 5 1 16 0 11-1"/>
<path class=b4 d="M962 575l5 0 4 0 0 0 8 0 4 0 4-1 0 0 4 0 4 0 0 1 7 0 7-1 13 0 0 0 12 0 0 1 3-1 0 0 0 0 3 0 0 1 2 0 6-1 2 1 8-1 12 0 5 1 15 0"/>
<path class=b1 d="M991 574l37 0 42 0 2 0"/>
<path class=b4 d="M967 573l12 0 4 0 4 0 0 1 0 0 4-1 4 1 0 0 3-1 4 0 7 0 7 1 0 0 3-1 0 0 6 1 9-1 3 0 3 0 2 0 6 0 2 0 22 0"/>
<path class=b2 d="M967 573l16 0 12 1 33-1 0 0 9 0 5 0 11 0 3-1 5 1 11 0 3 1 2-1 0 1"/>
<path class=b3 d="M979 573l0 0 0 1 19-1 18 1 12 0 6-1 19 0 19 1 3-1 0 0 2 1 34 0"/>
<path class=b0 d="M1025 574l45-1 60 17"/>
<path class=b1 d="M991 573l4 1 24 0 0 0 18-2 3 1 30 0"/>
<path class=b3 d="M998 572l21 0 6 0 3-1 6 0 0 0 6 0 2 0 33-1"/>
<path class=b1 d="M1053 571l17 0 0 1 2-1 5-1"/>
<path class=b0 d="M1075 571l36 1"/>
<path class=b4 d="M971 572l8-2 4 2 4-1 4 1 4 0 0 0 7-1 0 0 7 1 13 0 0 0 0 0 3-2 0 2 0 0 3-1 0 1 3-1 0 1 0 0 0 0 3 0 3 0 3 0 2-1 3 1 3-1 8 0 14 0 2 1 5-1"/>
<path class=b2 d="M987 571l18 0 11 0 0 1 0 0 0 0 24 0 2 0 3-1 0 1 0 0 3 0"/>
<path class=b1 d="M991 570l11 0 17 0 0 0 6-1 45 0 16 1"/>
<path class=b3 d="M979 569l4 1 8-1 25 1 9 0 6 0 3 0 3 0 3 0 2-1 28 0 2 1"/>
<path class=b2 d="M983 570l8 0 7-1 7 0 14 1 3-1 0 1 6-1 3 0 6 0 0 1 8-1 5 0"/>
<path class=b4 d="M979 569l0 1 0 0 4-1 0 1 4 0 4-1 0 0 0 1 4-1 0 1 3-1 11 0 7 1 6-1 0 1 0 0 3 0 3-1 0 0 0 1 9-1 8 1 5-1 15 0 5 0 0 1 5-1"/>
<path class=b2 d="M995 567l0 1 10 0 14 0 0 0 6-1 6 1 3 0 49 0"/>
<path class=b1 d="M991 568l81 0 5 0 2-1"/>
<path class=b3 d="M987 568l15-1 14 1 6 0 3-1 28 0 17 0 2 0 0 1 3 0"/>
<path class=b0 d="M1025 568l17 0 6 1 13-2 11 2 3-1"/>
<path class=b4 d="M979 567l0 1 4-1 0 1 0 0 0 0 4-1 0 2 0 0 4-1 7-1 4 2 7-1 3-1 4 1 0 0 3 0 6 0 3-1 3 1 3-1 0 1 0 0 6-1 0 1 2 0 0 0 6 1 0 0 2-1 20-1"/>
<path class=b2 d="M983 566l15 0 18 0 0 0 0 1 6 0 12 0 3 0 5-2 0 1 6 0 2 0 3 0 5 0 14-1 0 1"/>
<path class=b3 d="M991 566l34 1 3-2 0 2 6 0 6-1 5 0 3 0 8-1 0 0 16 0 5 0 2 0"/>
<path class=b4 d="M975 565l0 1 0 0 4-1 0 2 8-1 4 0 0 0 7 0 4-1 0 0 3 1 14 0 0 1 3 0 0 0 6-1 3 0 0 0 0 0 6 0 3-1 10 0 20 2 2-1"/>
<path class=b1 d="M1019 567l18-2 0 1 16-1"/>
<path class=b0 d="M1077 566l15-1"/>
<path class=b2 d="M983 564l8 0 28 0 0 0 15-1 0 1 3-1 3 0 0 1 8 0 0 0 20-1 2 1 2-1"/>
<path class=b4 d="M975 564l4 0 0 1 4-1 4 1 8-1 3 0 7 0 11 0 6 0 0 0 3 0 0 0 0 1 3-1 0 0 3 1 11 0 3-1 8 0 22-1 0 0 38 0"/>
<path class=b1 d="M1016 564l21 0 16 0 3 0 14 0 2 1"/>
<path class=b0 d="M1037 565l102-2"/>
<path class=b3 d="M983 564l0 0 4 0 29 0 3 0 3 0 9 0 0 1 3-1 0 0 8 1 14-1 14 1 7-1 15-1"/>
<path class=b0 d="M1031 562l89 1"/>
<path class=b4 d="M979 562l0 1 4 0 4-1 0 1 0 0 4-1 0 0 0 1 4-1 3 0 4 1 10 0 7-1 0 0 6 0 0 1 3-1 3 0 0 1 9-1 2 0 3 1 11-1 14 0 2 0"/>
<path class=b2 d="M998 562l18 0 0 0 12 0 6 0 3 1 8-1 5 0 0 1 3-1"/>
<path class=b1 d="M983 563l19-1 20 0 20 1 28-1 0 1 5-1"/>
<path class=b3 d="M979 563l12-1 25 0 3 0 3 0 0 0 3 0 3 0 6 0 3 1 5-1 3 0 0 1 3 0 24-1"/>
<path class=b4 d="M948 561l31 0 0 0 4-1 0 0 0 1 33-1 0 0 3 1 3-1 3 0 0 0 0 1 3-1 0 0 3 0 14 0 11 1 14-1 2 1 0 0 7 0 0 0"/>
<path class=b2 d="M1016 560l3 1 15-1 0 0 3 1 0 0 3 0 5-1 5 1 20 0 2-1 3 1"/>
<path class=b1 d="M987 561l32 0 12-1 0 1 27 0 21 0"/>
<path class=b3 d="M975 560l4 0 4 1 12 0 27-1 0 0 6 0 6 1 3-1 3 0 2 1 14 0 0 1 14-2 7 2 4-1 30 0"/>
<path class=b0 d="M1075 561l0 1"/>
<path class=b4 d="M975 560l4 0 0 0 4-1 0 0 4 0 4-1 0 2 4-2 0 1 21 0 0 0 3-1 0 1 3-1 3 1 3-1 6 0 6 0 5 0 8 0 10 1 5 0 2-1 5 1 2 0"/>
<path class=b1 d="M1034 558l3 0 5 0 8 1 22-1 3 1 2-1 0 1 2 0 0 1"/>
<path class=b3 d="M998 560l14-1 4-1 12 0 0 1 6-1 6 0 30 1 5 1 21-1 35 0"/>
<path class=b2 d="M979 560l12-1 4 1 3-2 21 1 12-1 6 0 0 1 3 0 2-1 30 0 18 1"/>
<path class=b1 d="M1022 556l6 0 37 2 7-2 0 1"/>
<path class=b3 d="M1016 556l3 0 3 2 3 0 6-2 9 1 5-1 16 1 9 1 2-1 5 0 32 1"/>
<path class=b2 d="M1019 556l3 0 6 1 3 1 0 0 3-1 3-1 3 1 0 0 5 0 11 0 5-1 9 1 5-1 0 1"/>
<path class=b0 d="M1042 559l6-3"/>
<path class=b4 d="M979 557l0 0 4 0 0 0 4 0 4 1 25-2 6 0 0 2 3-2 0 2 3-2 6 1 3 0 5 0 0 0 0 0 3 0 3-1 5 1 3 0 0 1 9-1 5 0 2 1 11 0 9 0"/>
<path class=b3 d="M975 555l16 0 25 1 3-1 12 0 0 1 6-1 0 1 3-1 10 1 22-1 24 1"/>
<path class=b1 d="M983 555l36 0 12 0 3 0 22 0 34 0"/>
<path class=b0 d="M1034 556l19 0 19-1 3 1 36-1 19 0"/>
<path class=b2 d="M983 556l4-1 11 0 21 1 12-1 0 1 11 0 23 0 5-1"/>
<path class=b4 d="M979 555l0 0 0 1 4-1 0 1 4-1 4 0 4 1 21-2 3 1 3 0 3-1 0 1 0 0 0 1 0 0 12-1 5 0 3 0 8 0 3-1 9 1 5 1 9-1 2 0 17 1 13 0"/>
<path class=b1 d="M1022 554l28 0 22-1 7 0 13 0"/>
<path class=b2 d="M987 553l4-1 4 2 33 0 6-2 0 2 6 0 2-1 0 0 3 1 5-1 20-1 7 2 2-1 17 0"/>
<path class=b3 d="M1019 553l3 1 12-2 0 1 0 1 3-1 3 0 2 1 3-1 0 1 25 0 2-1 3-1 13 1"/>
<path class=b4 d="M979 553l0 1 0 0 4-1 4 0 8 0 7 0 10 0 4 1 0 0 3-2 9 2 0 0 3 0 9-1 0 1 5-2 3 1 0 1 8 0 2-1 10 0 2-1 0 2 2 0 5 0"/>
<path class=b1 d="M1022 552l3 0"/>
<path class=b0 d="M1070 552l16-1"/>
<path class=b4 d="M979 551l4-1 0 1 8 1 0 0 4-1 3 1 18 0 0 0 6 0 0 0 3-1 0 1 0 0 3 0 3-2 0 1 0 1 6-1 3 1 8 0 24 0 5-1 2 0 0 0 11 0 38 0"/>
<path class=b3 d="M987 552l18 0 14 0 9 0 3-1 6 0 3 0 0 0 0 1 2-2 14 1 16 0 3 1 2 0 9-1"/>
<path class=b2 d="M995 551l21 1 12 0 6-1 11 1 27-1 0 1 3-1 0 1 0 0 2-1 0 0 4 1 11 0"/>
<path class=b2 d="M991 550l31 0 6 0 12-1 0 1 2-1 28 1 5-1 53 0"/>
<path class=b3 d="M1002 550l14 0 0 0 3 0 0 0 3 0 6 0 6 0 16 0 11 0 9-1 0 1 2 0 3 0 0 0 4-1 0 0"/>
<path class=b4 d="M979 550l0 0 0 0 4 0 4-1 0 0 0 1 4-1 4 0 0 1 7-1 14 1 3 0 6 0 0 0 9-1 0 0 0 1 3 0 8 0 3-1 29 0 2 0 2 1"/>
<path class=b1 d="M1028 550l14-1 6 1 10-1 5 1 9-1 16 1"/>
<path class=b0 d="M1022 550l18 0 30 0"/>
<path class=b2 d="M987 547l0 0 0 0 38 1 0 1 3-1 0 0 3-1 0 1 3-1 3 1 0 0 5 1 3-1 30-1 0 2 6-1 2 0"/>
<path class=b1 d="M1034 547l11 1 3 0 0 0 31 0 9 0"/>
<path class=b4 d="M979 547l8 1 4 0 11 0 14 0 0 0 0 0 3 0 0 0 0 1 3-1 0 0 0 0 3 0 3 0 3 0 0 0 3-1 0 1 11 0 3 1 2-1 6 0 14 0 2 0 3-1 2 0 0 1 0 1 19-2"/>
<path class=b3 d="M1037 548l8-1 3 1 22 1 13-2"/>
<path class=b3 d="M995 546l21 0 0 0 3 0 0 0 12 0 9 0 2 0 21 0 7 0 0 0 2 0 5 1"/>
<path class=b0 d="M1056 548l38-1"/>
<path class=b2 d="M983 547l26-1 16 0 0 0 3 0 9 0 0 1 3-1 8 0 2-1"/>
<path class=b4 d="M983 546l0 0 0 0 4 0 4 0 0 0 7 0 4 0 14 0 3 0 3 0 0 0 0 0 3 0 3 0 9 0 3 0 2-1 0 1 0 0 6-1 8 1 7 1 7-1 2 0 3 1 2-1 0 0 2 0 0 1"/>
<path class=b1 d="M1028 546l3 0 22 0 5 0 14 0 39-1"/>
<path class=b3 d="M1025 544l0 1 0 0 3 0 6-1 0 1 3-1 0 0 3 0 37 1 2-1"/>
<path class=b1 d="M1022 544l9 0 3 0 11 1 25-1 5 0"/>
<path class=b2 d="M983 544l33 0 6 1 6-1 3 1 6-1 5 1 0 0 11 0 5 0 14-1 0 1 7 0 7 0 25 0 0 0"/>
<path class=b4 d="M983 545l0 0 8 0 0 0 11 0 3-1 11 0 0 0 3 0 0 0 0 0 3 1 6-1 3 1 9-1 0 0 10 0 0 0 22 1 3 0 0 0 2-1 6 0 5 1"/>
<path class=b0 d="M1034 544l36 0 0 1"/>
<path class=b4 d="M979 543l4 0 4-1 0 1 0 1 8 0 3-1 14 0 7 0 3 0 3 0 3-1 3 0 3 1 3-1 0 1 3-1 0 1 5 0 3 0 2 0 3 1 8-2 11 0 5 0"/>
<path class=b3 d="M983 543l8 0 28-1 3 1 12 1 6-1 10 0 3-1 17 0 5 0 0 1 0 0 6 0 49 1"/>
<path class=b2 d="M1025 542l6 1 0 1 6-1 5 0 3 0 3 1 0 0 17-1 5-1 0 1 9-1 0 1 15 0 19 0"/>
<path class=b1 d="M1028 542l17 1 5 0 15-1 7 0 16 1"/>
<path class=b0 d="M1037 541l38 0 38 0"/>
<path class=b1 d="M991 541l34 0 6 0 14 0 18 1 9-1 0 1 5 0 51 0"/>
<path class=b3 d="M1016 542l3 0 3-1 3 0 0 1 3-1 0 1 3-1 17 1 5-1 3 1 2 0 3 0 14-1 4 0 0 0 2 1 2 0 5-1 40 1"/>
<path class=b2 d="M995 541l42 0 0 0 3 0 2 0 0 1 30-1 30 0"/>
<path class=b4 d="M979 541l0 1 0 0 4-1 0 0 15 1 7-1 11 1 0 0 6 0 6-1 3 0 9 0 5 0 3 0 2 0 3 0 0 0 0 1 8-1"/>
<path class=b3 d="M983 540l4-1 41 1 3-1 3 0 0 1 6-1 2 1 0 1 3-2 3 0 2 0 18 0 0 0 2 1 2 0 3-1 0 1 2 0 2 0 4-1 15 1 13 0"/>
<path class=b2 d="M1002 539l14 1 3 0 0 0 3 0 9-1 6 1 19 0 25-1 11 0"/>
<path class=b1 d="M1022 540l48 0 7-1"/>
<path class=b4 d="M979 539l0 1 4-1 4 1 25-1 4 1 0 0 3 0 6 0 3-1 3 0 3 1 0 0 3-1 0 0 3 1 5 0 3-1 2 0 3 0 5 1 0 0 12 0 5-1"/>
<path class=b1 d="M1025 538l15 1 32-1 5 0 21 0"/>
<path class=b4 d="M983 537l0 1 0 0 4 0 0 0 0 0 15-1 3 0 11 1 3 0 0 0 6 0 0 0 3 0 6 0 6 0 2-1 0 1 3-1 0 1 0 0 3 0 2 1 3-1 0 0 12 0 3 0 2 0 24-1 4 0"/>
<path class=b3 d="M1016 538l3 0 3 0 0 0 3-1 3 1 6-1 0 1 3-1 13 0 8 0 0 1 25 0 17-1 2 0"/>
<path class=b2 d="M1016 538l6 0 3-1 45 1 0 0 2 0 0 0 3 0 13 0"/>
<path class=b1 d="M1005 535l26 1 14 0"/>
<path class=b0 d="M1081 538l77-2"/>
<path class=b3 d="M991 537l25-1 18-1 0 2 8 0 11-1 17 0 2 0 5 0 0 1 15-1 36-1"/>
<path class=b4 d="M979 537l0 0 8-1 25 0 4 0 0 0 3 0 0 1 3-1 0 1 3-1 3 0 0 0 3 1 3-1 6 0 0 0 0 1 2 0 8 0 3-2 8 1 4 0 5 0 0 0 2 0 3 0 0 0 4 0 2 0 11 1 2 0 6-1 30-1"/>
<path class=b2 d="M1019 536l3 1 6-1 3 0 9 0 13 1 19-1 3 0 2 1 4-1"/>
<path class=b1 d="M1025 534l50 1 2 0 19 0"/>
<path class=b4 d="M983 535l0 0 19 0 14-1 0 0 3 0 3 1 6-1 6 1 3-1 5 1 3-1 18 0 2 1 5-1 0 0 5 1 2-1 0 1 2-1 4 1 3-1 44 1 9 0"/>
<path class=b0 d="M1086 535l2 0"/>
<path class=b2 d="M1002 534l7 1 7 0 9-1 0 1 6-1 6 1 0 0 3 0 5 0 0 0 3 0 0 0 31 0 4 0"/>
<path class=b3 d="M1002 534l17 0 3 0 0 0 6 0 3 0 0 0 3 1 6 0 2 0 21 0 9-1 0 0 3 1 8 0"/>
<path class=b0 d="M1111 533l17 1 2 0"/>
<path class=b2 d="M983 534l36 0 26 0 3-1 2 0 0 0 0 1 3-1 10 0 9 1 22 0"/>
<path class=b1 d="M1028 533l0 1 3-1 6 0"/>
<path class=b4 d="M979 533l4 1 8-2 21 1 13-1 0 1 0 0 3 0 3 0 3 0 0 0 3 0 0 0 5 0 0 1 3-1 0 1 3 0 5-1 12 0 0 1 10-2 2 1 2 0 0 0 4 1"/>
<path class=b3 d="M1028 532l3 1 9-1 2 2 0 0 6-1 5 0 3 1 0 0 5 0 9 0 5-1 4 1 7-1 8 0 6 1"/>
<path class=b3 d="M1019 532l6-1 12 1 8 0 0 0 25 0 2 0 0 0 3-1 2 0 0 1"/>
<path class=b4 d="M983 532l8-1 4 0 21 1 0 0 3-2 0 1 0 0 0 1 0 0 3 0 0 0 0 0 3-1 3 0 3-1 0 1 3 1 3-1 0 0 5 0 0 0 14 0 7 0 7 0 0 1 7 0 2-1 2-1"/>
<path class=b0 d="M1045 531l32 0 34 1"/>
<path class=b1 d="M1072 532l14-2 6 2"/>
<path class=b2 d="M975 531l41 1 9-1 6-1 9 0 0 1 8 1 2-1 8 1 10 0 2 0 5 0 6-1 7 1"/>
<path class=b2 d="M995 529l21 1 18 0 8-1 21 1 12-1 4 1 19 0"/>
<path class=b4 d="M979 529l4 0 0 1 19 0 14 0 0 0 6-2 0 2 0 0 0 0 6 0 3-1 3 1 3-1 0 0 3 0 0 1 5-1 0 0 3 0 5 0 0 0 17 1 2 0 3 0 2 0 2-1 2 1 5-1 2 0 6 0 4 0"/>
<path class=b1 d="M1028 529l6 1 8-1 33 1"/>
<path class=b0 d="M1028 530l53-1 47 1 2-1 1 0"/>
<path class=b3 d="M1028 528l14 1 0 1 3-1 25 1 2 0 0 0 7 0 4-1 9 1 45 0"/>
<path class=b2 d="M1016 527l0 1 3 0 9 0 3 0 3 0 6 0 8 0 24 0 5 0 6-1 0 0"/>
<path class=b4 d="M991 527l0 1 21-1 4 1 3 0 3 0 0 0 3-1 0 1 0 0 0 0 6-1 3 0 0 0 0 1 6-1 5 1 3 0 10 0 10 0 2 0 0 0 0 0 7-1 2 0 2 0 5 1 0 0 4 0 4-1"/>
<path class=b1 d="M1016 528l3 0 12 0 3 0 38 0 3 0 2 0"/>
<path class=b3 d="M1009 527l28 0 3 1 10-1 0 0 22 1 3 0 2 0 15-1"/>
<path class=b0 d="M1037 528l74 0"/>
<path class=b2 d="M1022 526l6 0 22 0 22 0 3 0 2 0 2 0 0 0 0 0"/>
<path class=b0 d="M1031 526l30 0"/>
<path class=b1 d="M1037 526l8 1 3-1 2 0 55 1"/>
<path class=b4 d="M979 526l23 0 14 0 0 1 3 0 3-1 0 0 0 0 3 0 0 1 3-1 3 1 3 0 3-1 3 0 2 0 0 1 3-1 0 0 3 1 8-1 7 0 7 0 0 0 0 0 2 0 3 0 0 0 4 0 55 0"/>
<path class=b3 d="M1019 526l0 1 9-1 12 0 2 1 3-1 11 0 2 1 3-1 11 0 5 0 4 1 0 0 13-1"/>
<path class=b4 d="M983 525l33-1 0 0 0 0 3 0 3 1 3-1 3 0 3 0 3 0 0 0 0 1 3-1 0 0 0 1 3 0 0 0 10 0 3-1 0 1 5 0 3 0 2 0 9 0 3 0 0 0 4 0 4 0 5-1"/>
<path class=b3 d="M1019 525l6-1 6 0 9 0 2 0 11 0 5 1 3 0 9-1 2 0 5 1 9 0"/>
<path class=b0 d="M1077 524l13 1 4-1 34 1"/>
<path class=b2 d="M1025 524l3 1 3 0 11-1 28 0 2 1 3 0 6 0 0 0 5 0 10 0"/>
<path class=b1 d="M1019 524l3 1 20 0 54-1"/>
<path class=b3 d="M1028 522l6 0 0 1 6 0 5 1 27-2 7 1 15-1 34 2 0 0"/>
<path class=b1 d="M1042 523l23 0 3 0 2-1 7 1 2 0"/>
<path class=b4 d="M987 523l0 0 11 1 18-2 0 0 9 0 0 1 3-1 0 0 3 0 0 0 3 0 3 1 0 0 3 0 0 0 2 0 3 1 0 0 3-2 0 2 2-2 0 1 8-1 0 1 5-1 5 2 2 0 2-2 5 0 2 2"/>
<path class=b2 d="M1019 522l0 0 3 0 3 0 17 0 6 0 2 1 13 1 7-2 5 0 0 0 2 2"/>
<path class=b4 d="M979 522l4-1 33 0 0 1 3-1 0 0 0 1 3-1 0 0 0 1 3-2 0 1 6 1 9-1 0 1 2 0 3-1 0 1 3-2 0 1 0 0 2 1 11 0 9-2 2 2 3-2"/>
<path class=b2 d="M998 522l18-1 6 1 9-1 0 0 6 1 5-1 11 1 8 0 7 0 2 0 9-1"/>
<path class=b0 d="M1050 522l36 0 25-1 42 0"/>
<path class=b1 d="M1040 520l16 2 16-1 11 0 3 0 8 1 34 0"/>
<path class=b3 d="M1034 521l11 0 16 0 0 1 2 0 12 0 2-1 0 0 2 0 13 0 0 0 19 1"/>
<path class=b2 d="M1031 519l0 1 11-1 8 1 8-1 17 1 2 0 6 0 5-1 0 1 0 0 2 0 4 0"/>
<path class=b1 d="M1028 520l42 0 2 0 9-1"/>
<path class=b3 d="M979 520l43 0 12 0 3-1 0 0 0 1 3-1 28 1 4 0 9-1 2 1 3-1 0 0 6 0 4 0 34 1 3-1"/>
<path class=b4 d="M983 519l8 0 7 1 18 0 3 0 6 0 3 0 0 0 0 0 0 0 0 0 3-1 3 1 3 0 0 0 3-1 2 0 0 1 11 0 17 0 5 0 6-1 0 1 2 0 11-1"/>
<path class=b3 d="M1025 518l23 0 13 0 16 0 0 0 2 1 4-1"/>
<path class=b4 d="M991 518l4-1 3 1 18 0 0 0 0 0 3 0 0 0 3 0 0 1 3-1 9 0 0 1 0 0 6-1 8 0 2 0 6-1 5 1 4 0 5 0 0 0 0 0 2 0 3 0 0 0 4-1 0 1 2 0 9 0 4 0 6-1"/>
<path class=b1 d="M1050 518l13 0 12 0"/>
<path class=b0 d="M1072 518l9-1 5 2 6-1 21-1 17 1 7 1"/>
<path class=b2 d="M983 518l33-1 3 2 3-1 9 0 3 0 3 0 5-1 14 1 16 1 5 0 2 0"/>
<path class=b4 d="M1016 517l3-1 0 1 3-1 0 0 0 0 3 0 3 0 0 0 0 1 9-1 3 1 0 0 2 0 0 0 8 0 3 0 35-1 8 1 2-1"/>
<path class=b1 d="M1025 516l6 0 17 1 13 0 9-1 2 0 3 0 15 0 2 1 36-1"/>
<path class=b2 d="M1019 516l6 1 15 0 10-1 13 1 7-1 2 0 3 0 2 1 2-1 4 0 3 1"/>
<path class=b0 d="M1037 516l91 1"/>
<path class=b3 d="M1016 517l15-1 0 0 6 1 33-1 2 0 3 0 2 0 0 1 2 0 7-1 0 1 4-1 0 0 2 1 0 0"/>
<path class=b2 d="M1019 515l3 0 3-1 0 1 12 1 5-1 6-1 0 1 24 0 3-1 0 0 8 1 3 0 4 0 2 0"/>
<path class=b1 d="M1092 514l2 2"/>
<path class=b3 d="M1019 514l3 0 3 0 15 1 5 0 3 0 2 0 15 0 5-1 2 0 3 0 2 1 2 0 0 0 2 0 7 0 4 0 4 1 2-1 13 1"/>
<path class=b4 d="M983 514l45 1 0 0 3-1 0 0 0 0 3 1 0 0 3 1 5-1 0 0 3-1 0 1 5 1 6 0 2-1 3 0 9-1 2 1 5 0 2-1 11 2 4-2"/>
<path class=b3 d="M1022 513l3-1 6 1 6 1 8-1 8-1 3 1 0 0 12 1 0 0 15 0 3-1 6 0 2 0 2 0"/>
<path class=b4 d="M1016 514l3-2 0 0 3 2 3-2 9 0 0 1 3-1 0 1 3 0 2 0 0 1 3-2 3 1 2 0 8 0 10 0 7-1 2 1 0 0 4-1 0 1 2 0 19 1 26-2"/>
<path class=b1 d="M1016 514l12 0 6 0 16-1 33 0"/>
<path class=b2 d="M1016 514l3 0 3 0 9-2 9 1 30 1 5-1 2 1 2-1 0 1 7 0 2-1 2 1 6-1"/>
<path class=b4 d="M983 511l29 1 4-1 0 1 0 0 3 0 3-1 0 1 6-1 0 0 0 1 0 0 6 0 6-1 0 1 2 0 6 0 0 0 2 0 6-1 0 0 9 1 5 0 2 0 0 0 5 0 2-1 4 1 11 0 13-1"/>
<path class=b3 d="M1025 511l0 1 3 0 17-1 3 0 10 0 5 1 0 0 7 0 2 0 3 0 2-1 2 1 39 0"/>
<path class=b2 d="M1016 512l15 0 11 0 3 0 3-1 8 0 21 0 2 1 32-1"/>
<path class=b0 d="M1077 511l4 1 21 1 7-1 2-1 3 1"/>
<path class=b1 d="M1070 512l30 0"/>
<path class=b0 d="M1079 511l23-1 11 0"/>
<path class=b4 d="M1016 510l0 0 3 0 0 0 3 0 6 0 3 0 0 0 0 1 3 0 0 0 6-1 0 1 2-1 11 0 3-1 5 1 2 1 7-1 2 0 3 0 4 0 0 0 2 1 0 0 5-1 6 1 12-1"/>
<path class=b3 d="M1022 511l3-1 9 1 3 0 0 0 8 0 5-1 15 0 5 1 9-1 4 1 11-1 0 1"/>
<path class=b2 d="M1019 510l6 0 12 1 16-1 17 0 2 0 0 1 3-1 0 0 6-1 0 1 2 0 0 0 28 0 17 1"/>
<path class=b3 d="M1025 508l12 0 5 1 3 0 16 0 4 0 5-1 2 0 3 0 36 0"/>
<path class=b4 d="M1016 508l0 0 3 1 3-1 0 1 0 0 3-1 0 0 3 1 3-1 0 0 3 1 3-1 0 1 8-1 3 0 0 1 5 0 0 0 8 0 9-1 5 0 2 0 9 1 44-1"/>
<path class=b2 d="M1016 509l3 0 9-1 3 0 3 0 0 1 8-1 3 0 5 1 25-1 2 0 0 0 4 0 11 1 6-1 13 0 17 1"/>
<path class=b1 d="M1019 509l9-1 12 0 0 1 0 1 30-2 2 0 58 1"/>
<path class=b4 d="M983 506l8 2 0 0 14-2 14 1 3 1 12 0 3-2 0 1 3 0 0 1 0 0 2-2 0 2 3-1 5 1 6 0 5-1 14 0 4 0 2 0 2 0 3 1 2-1 2 0 0 0 2 0 4-1 15 0 17 1"/>
<path class=b1 d="M1028 506l22 0 0 1 8 1 19-1"/>
<path class=b0 d="M1042 507l30 1 59-1"/>
<path class=b3 d="M1022 508l9-2 6 1 16-1 10 2 12-1 6 0 2 1 3-1 8 0 4 1 13-2"/>
<path class=b2 d="M1022 507l12-1 11 1 0 0 11 1 2 0 7 0 10-1 2-1 2 1 2 0"/>
<path class=b2 d="M1016 506l0 0 29-1 5 0 3 1 19 0 7-1 2 1"/>
<path class=b0 d="M1070 506l2 0 26-1 30 0 0 1"/>
<path class=b3 d="M1037 505l13 0 3 0 0 0 10 0 7 1 7 0 4 0 7-1 4 1 8 0 4-1 24 1"/>
<path class=b1 d="M1025 505l3 1 12-1 10 0 8 0 36 1 36-1"/>
<path class=b4 d="M1002 505l10 1 4 0 3-1 0 1 0 0 6 0 0 0 0 0 3 0 0 0 3-1 0 1 0 0 3 0 0 0 6-1 2 0 16 0 7 0 5 1 2 0 5-1 0 0 6 0 9 1 15 0"/>
<path class=b3 d="M1042 504l3-1 0 1 3 0 22 0 2 0 3 0 17 1 19-1 0 0 17 0"/>
<path class=b1 d="M1040 504l48 0"/>
<path class=b2 d="M1019 504l6 0 0 1 3-1 30 0 25 0 0 0 3 1 2-1 0 1"/>
<path class=b4 d="M1016 504l0 0 0 1 3 0 3-1 0 0 0 0 6-1 0 2 0 0 3 0 6-2 0 1 0 1 3-2 8 1 0 0 8 1 14-1 0 0 2 0 0 0 3 0 0 0 2 0 2 0 2-1 2 1 7 0 2 0 2-1 0 2 2-2 9 1 8 0 29 0"/>
<path class=b0 d="M1042 503l35-1 11 1 25-1 15 0 2 2"/>
<path class=b4 d="M1016 502l3 0 3 0 3 0 3 1 6 0 6-1 2 0 3 0 3 0 22 0 5 0 0 0 2 1 2-1 2 1 5-1 6 0 6 1 2-1 0 0 28 0"/>
<path class=b1 d="M1025 502l6 1 9-1 30 0 16 0"/>
<path class=b2 d="M1016 502l3 0 0 1 6-1 6 1 3-1 16 0 22 0 3 0 4 0 2 0 5 0 2 1 4-1 2 0 4 0 15 1 17 0"/>
<path class=b3 d="M1016 502l6 0 0 1 9-1 39 0 2 0 0 1 5 0 2-1 25 0"/>
<path class=b2 d="M1019 500l6 1 12-1 8 0 0 1 3 0 5-1 0 1 24 0 2 0 4 0 3 0 2 0 51 0"/>
<path class=b3 d="M1028 501l3-1 6 1 3-1 0 2 2-2 6 0 8 1 21 0 4 0 5-1 4 2 8 0 2 0"/>
<path class=b4 d="M1002 501l14 1 3-2 0 0 3 0 3 1 3 0 0 1 3-2 3 1 0 1 3-1 5-1 14 1 2 0 3 0 11 0 9-1 2 1 0 1 7-1 2-1 19 1 17 0"/>
<path class=b1 d="M1016 501l40 0 16 0 7-1 11 1 2 0 2 1"/>
<path class=b2 d="M1022 500l3 0 15 0 10-1 3 0 0 1 22 0 6-1 0 0 15 0 46 0"/>
<path class=b1 d="M1048 500l44 0 2 0 4-1 2 0 2 1 2-1"/>
<path class=b3 d="M1040 500l2-1 0 0 28 1 0 0 0 0 5 0 0 0 2 0 6-1 3 1 0 0 2 0 0 0 12 0"/>
<path class=b4 d="M991 499l25 1 6 0 9 0 6-1 3 0 2 0 0 1 3-1 0 1 3-1 2 0 0 0 0 1 3 0 8 0 0 0 7 0 4 0 7-1 0 1 4-1 13 0 0 1 2 0"/>
<path class=b0 d="M1079 500l52 1 9-1"/>
<path class=b3 d="M1016 498l3 0 0 0 6 0 12 0 8 1 27-1 0 0 3 0 8 1"/>
<path class=b1 d="M1037 499l21 0 12-1 22 0 2 0"/>
<path class=b4 d="M1016 498l0 1 6-1 0 0 0 1 3-1 3 0 0 0 3 0 0 0 0 0 3 0 0 0 14 1 5-1 5 0 3 0 2 0 7 0 5 0 2 0 11 0 0 1 2-1 2 0 38 0"/>
<path class=b2 d="M1019 498l6 0 3 0 17 1 16 0 9-1 2 0 5 0 0 1 2-1 2 0 11 0 2 0 2 0 2 1 13 0"/>
<path class=b0 d="M1130 499l0 0 19 0"/>
<path class=b1 d="M1031 497l14 0 5-1 8 2 53-1 0 0 3 0"/>
<path class=b3 d="M1022 497l15-1 0 2 19-1 5 0 11-1 3 2 4-1 11 1 2-1 0 0 10-1 9 1 3 0"/>
<path class=b0 d="M1083 497l47 0"/>
<path class=b4 d="M1019 497l0 0 3-1 0 1 3 0 0 1 3 0 3-2 0 1 3 0 0 1 6-1 2 0 3 0 0 0 5-1 0 1 8 0 3 0 7 0 4 0 3 0 4 0 2 0 0 0 24-1 4 1"/>
<path class=b2 d="M1019 497l6 0 15 0 8 0 17 0 12-1 0 1 9 0 10 0 20 0"/>
<path class=b3 d="M1016 496l26 0 6 0 31-1 7 1 6-1 4 1 0 0 2 0 11-1 21 1"/>
<path class=b2 d="M1031 495l3 0 6 1 5-1 25 1 5 0 2 0 4 0 5 0 0 0 8 0 4-1 0 1 32 0"/>
<path class=b4 d="M1009 495l7 0 0 1 0 0 6-1 0 0 0 0 6 0 3 0 11 1 0 0 0 0 0 0 6 0 2-1 3 0 12 1 5 0 0 0 2 0 3 0 4-1 7 1 2-1 10 0 2 0"/>
<path class=b1 d="M1025 495l6 0 22 1 3 0 38-1 0 1 10-1"/>
<path class=b0 d="M1079 496l4 0"/>
<path class=b1 d="M1034 494l43 1 28 0"/>
<path class=b0 d="M1045 493l11 0 23 2 21-1 28 0"/>
<path class=b4 d="M1016 494l0 0 3 0 6 0 0 1 6-2 3 0 3 1 0 1 3 0 0 0 2-1 3 0 0 0 3 1 2-1 3 1 5-2 0 2 12-1 0 0 5 0 2 0 4 0 0 0 11 0 2 0"/>
<path class=b3 d="M1028 494l17 1 3-2 5 1 3-1 14 1 2 0 0 0 3 0 0 0 4 0 4 0 5 1 8-1 15 1"/>
<path class=b2 d="M1019 494l0 0 21 1 32-1 5 1 4-1 0 0 2 1 9-1 2 0"/>
<path class=b3 d="M1025 493l9 0 19 0 17 0 2-1 9 0 5 0 6 0 0 1 8 0 9 0 2-1 2 1"/>
<path class=b2 d="M1019 493l12 0 6 0 3-1 21 0 4 0 10 1 2-1 0 1 11 0 4 0 6-1 9 0 0 0 4 1 0 0"/>
<path class=b1 d="M1016 492l21 1 3-1 50 1 40 0 3 0"/>
<path class=b0 d="M1075 493l53 0 8-1"/>
<path class=b4 d="M1005 492l11 0 3 0 3 0 3 1 3 0 3 0 3 0 3-1 3 0 5 1 3-1 0 0 17 1 0 0 10-1 2 0 2 0 4 1 0 0 5-1 2 0"/>
<path class=b1 d="M1028 492l42 0 11-1 7 0 12 1 13-1"/>
<path class=b0 d="M1096 491l0 0 4 0 30 0 0 1"/>
<path class=b4 d="M1019 492l3 0 3-1 3 1 9-1 3 0 0 1 2-1 0 0 0 0 6 0 2 1 3-1 8 0 18 0 7 0 0 1 0 0 10 0 9 0 2-1 4 1"/>
<path class=b3 d="M1016 491l6 1 0 0 12-1 6 0 10 1 6 0 5 0 0 0 11 0 0 0 9 0 7-1 6 0 17 1 20-1"/>
<path class=b2 d="M1016 492l15-1 3 0 14 0 5 0 0 1 17 0 13-1 0 0 33 1 2-1"/>
<path class=b1 d="M1111 490l23 0"/>
<path class=b4 d="M991 490l25 0 3 0 0 0 0 0 3 0 0 0 0 0 3 0 0 0 3 0 0 0 0 1 3-1 6 0 8 0 0 0 3 0 0 0 0 1 5-1 8 0 9 0 2 0 3 0 6 0 2 0 5 1 4-1 0 0"/>
<path class=b0 d="M1070 490l2 0 5 0 30 0"/>
<path class=b2 d="M1016 490l15 0 3 0 11-1 0 2 5-1 8 0 14 0 3 0 2 0 0 1 2-1 0 0 15 0 8-1"/>
<path class=b3 d="M1037 490l8 0 25 0 5 0 6 0 9 0 8 0 6 0 32 0"/>
<path class=b1 d="M1016 489l24 0 39 0 7 0"/>
<path class=b2 d="M1016 488l0 0 6 1 9 0 3 0 3-1 26 1 5 0 2-1 9 1 0 0 2-1 7 1 2 0 17 0"/>
<path class=b4 d="M1019 489l0 0 3 0 3 0 0 0 0 0 3 0 3 0 0 0 3 0 0 0 3 0 0 0 5 0 0 0 6 0 2-1 0 1 3 0 5 0 3 0 9-1 2 0 5 1 4-1 0 1 7-1 2 1 4-1 10 0 1 1 15 0 8 0"/>
<path class=b3 d="M1056 488l0 1 21-1 0 0 11 0 6 1 34 0"/>
<path class=b2 d="M1022 487l6 1 17-1 11 0 0 0 0 0 12 0 2 1 2 0 0 0 9-1 2 0 13 1 18-1 16 0 18 0"/>
<path class=b1 d="M1031 488l9-1 39 0"/>
<path class=b4 d="M1016 487l0 0 6 0 0 0 6 0 0 1 3-1 0 1 3-1 6 0 2 0 0 0 0 1 6-1 0 1 5-1 10 0 12 1 0 0 0 0 2-1 6 0 5 0 2 0 0 0 10 0 0 0 4 1"/>
<path class=b0 d="M1083 489l5-2 23 0 0 0 17 1"/>
<path class=b3 d="M1019 488l9-1 12 0 52 0 4 1 4 0 4-1 24 0 15 1"/>
<path class=b1 d="M1070 486l7 0 6 0 28 0 20 0"/>
<path class=b0 d="M1070 486l28 0 30-1 31 1"/>
<path class=b3 d="M1034 486l3-1 5 1 3 0 25 0 2 0 3 0 4 0 4-1 3 1 4 0 10-1 40 0"/>
<path class=b4 d="M1016 485l0 1 3-1 0 1 0 0 0 0 0 0 3-1 0 0 3 1 0 0 0 0 3 0 6-1 0 1 3-1 19 1 5 1 7 0 7-1 2 0 2 0 2 0 11-1 10 1 11 0"/>
<path class=b2 d="M1025 486l9 0 16-1 3 1 19 0 0 0 3 0 4 0 2 0 5-1 4 0 14 0"/>
<path class=b2 d="M1005 484l17 1 3-1 0 0 3 0 3 0 11 1 6-1 10 0 12 0 2 0 3 0 15 0 2 0 21 0 18 0"/>
<path class=b3 d="M1031 485l32-1 5 0 2 0 0 0 2 0 0 0 3 1 0 0 2-1 0 0 2 1 2-1 2 0 3 1 25-1 19 1"/>
<path class=b1 d="M1083 484l28 0 41 1"/>
<path class=b4 d="M1016 485l3 0 9-1 0 1 3-1 9 0 5 0 5 0 0 1 3-1 0 1 3-1 0 1 2-1 5 0 5 0 9 1 2 0 2-1 0 0 9 0 2 0 0 0"/>
<path class=b2 d="M1025 483l23 0 2 1 3-1 0 0 8 0 11 0 7-1 2 0 0 1 2 0 7 0 0 0 2 0 6 0 4 0 9 0 12 0"/>
<path class=b0 d="M1128 483l2 2"/>
<path class=b1 d="M1072 482l24 2 11 0 6 0 10 0"/>
<path class=b4 d="M983 483l33-1 3 0 3 1 0 0 3 0 3 0 0 0 3 0 0 1 3-2 0 1 3 0 0 0 0 0 3 0 0 0 0 1 2-1 3 1 8-1 3 0 21-1 0 0 2 0 2 1 5 0 16 0 9 0"/>
<path class=b3 d="M1022 482l36 0 5 0 14 1 6 0 15 0 30 0"/>
<path class=b4 d="M962 482l54 0 3 0 0 0 3-1 6 0 0 1 3 0 3-1 6 0 5 0 3 1 2-1 3 0 3 1 14 0 11 0 5-1 2 0 0 0 2 1 4 0 2 0"/>
<path class=b1 d="M1096 481l15 0"/>
<path class=b3 d="M1019 482l3-1 3 1 9 0 3 0 3-1 5 0 23 0 2 1 5 0 0 0 4 0 4-1 0 1 11-1 2 0 18 0 16 1 0 0"/>
<path class=b0 d="M1072 482l9 0 49-1"/>
<path class=b2 d="M1016 482l3-1 9 0 6 0 3 1 33 0 5 0 17-1 0 1 12-1 9 0 3 0 14 1"/>
<path class=b2 d="M1016 480l0 0 15 0 25 1 14-1 2 0 5 0 2 0 4 0 21 0 7 0"/>
<path class=b4 d="M1016 480l3 0 6 0 0 1 3-1 3 0 0 0 0 1 3-1 0 1 3 0 3 0 2 0 3-1 3 0 0 0 10 0 0 1 5 0 7-1 2 0 0 0 7 0 4 0 7 0 8 0 6 0 7 1"/>
<path class=b1 d="M1016 480l59 0 2 0 4 1 9-1 2 0 19 0 17 0"/>
<path class=b3 d="M1022 481l3-1 33 0 12 0 5 0 2 0 2 0 4 0 3 0 2 1 8 0 15-1"/>
<path class=b4 d="M983 478l33 1 0 0 9-1 3 0 0 1 3 0 0 0 3 0 3-1 0 1 3 0 2 0 8 0 3 0 10-1 0 0 5 1 4-1 5 0 0 1 4-1 0 1 5 0 2 0 4-1 2 1 0 0 2 0 0 0 2 0"/>
<path class=b1 d="M1040 478l18 1 30-1 2 1 4 0 19-1 17 0"/>
<path class=b3 d="M1025 478l12 1 8 0 34-1 4 0 13 1 2 0 13 0 2 0"/>
<path class=b2 d="M1028 478l14 1 3-1 3 0 5 0 0 1 5 0 0 0 17-1 4 0 9 0 2 1 19 0"/>
<path class=b4 d="M1019 477l0 1 0 0 0 0 3 0 0 0 6-1 3 1 3 0 3 0 3-1 5 0 3 1 2 0 3-1 17 1 11 0 5 0 6-1 0 1 12 0 24-1 23 1"/>
<path class=b3 d="M1019 478l3 0 26 0 13-1 9 1 2 0 0 0 3 0 2 0 9 0 2-1 4 0 0 1 2-1 0 0 10 0 7 1 14-1"/>
<path class=b0 d="M1075 478l0 2 67-2 21 0"/>
<path class=b1 d="M1040 478l58 0 7 0 4-1"/>
<path class=b2 d="M1016 477l3 0 6 0 0 1 28-1 3 1 14 0 9 0 9-1 23 1 3 0 12-1"/>
<path class=b1 d="M1034 476l6 0 16 1 19-1 2 0 0 0 2 0"/>
<path class=b3 d="M1016 477l9-1 0 0 6 1 22 0 24-1 2 0 0 0 2 0 2 1 5-1 6 0 2 0 15 0 17 0"/>
<path class=b4 d="M979 477l43-1 0 1 3-1 3 1 3-1 6 0 3 1 8 0 13-1 2 1 7-1 0 0 2 0 0 0 3 0 0 0 6 0 0 0 2 0 0 1 5-1 2 0 6 0 17 1 15-1 31 0"/>
<path class=b2 d="M1016 476l6 1 6 0 9 0 3-1 25 0 5 0 2 0 18 1 21-1"/>
<path class=b1 d="M1058 475l25 0 9 0 8-1"/>
<path class=b4 d="M1016 475l0 0 0 0 6 0 6-1 0 1 0 0 3 1 3-1 6-1 0 1 2 0 0 0 3 0 0 1 3-1 5 0 3 0 2-1 7 1 10-1 0 0 4 0 2 1 0 0 0 0 5-1 0 1 0 0 4 0 6-1 6 0 0 1"/>
<path class=b0 d="M1128 476l6-1"/>
<path class=b2 d="M1019 476l15-2 0 1 14-1 40 0 0 1 4-1 0 1 2 0 19 1 23-1"/>
<path class=b3 d="M1022 474l0 1 3 0 12-1 11 1 8 0 27 0 11 0 0 0 17-1 3 0"/>
<path class=b4 d="M1019 473l0 1 0 0 3 0 3 0 6 0 3 0 6-1 0 0 0 0 2 0 6 1 2-1 13 0 2 1 5 0 0 0 2 0 5 0 0 0 15 0 0 0 17 0"/>
<path class=b3 d="M1016 474l3 0 49 0 11 0 2-1 5 1 2-1 0 0 0 0 2 1 4 0 2 0 2-1 13 1 2 0 3 0 14 0"/>
<path class=b0 d="M1077 474l32-1 19 0"/>
<path class=b2 d="M1019 474l18 0 13 0 3-1 17 1 2 0 0 0 3 0 4-1 0 1 11 0 6-1 0 0 6 1 11-1 8 1 13 0"/>
<path class=b3 d="M1042 472l3 0 25 0 5 0 2 0 0 1 2-1 4 0 3 0 19 0 6 0 0 1 17-1 5 0"/>
<path class=b4 d="M1016 472l6 0 0 0 3 0 0 0 6 0 3 0 6 0 0 0 5 1 3 0 8-1 16 0 0 0 3 0 0 0 6 0 0 0 0 1 2-1 0 1 9-1 21 0 17 0 3 0"/>
<path class=b2 d="M1016 472l9 0 3 1 20 0 10 0 12-1 2 0 9 0 2 0 0 1 7-1 0 1 14-1"/>
<path class=b1 d="M1045 472l18 0 7 0 7 1 2-1 7 0 50 0"/>
<path class=b0 d="M1111 472l31-1"/>
<path class=b4 d="M1016 470l0 1 3-1 0 0 0 0 3 0 3 0 0 1 3-1 0 1 6-1 3 0 0 0 0 0 3 1 16-1 14 0 0 0 2 0 0 0 5 0 2 1 0 0 11 0 12-1 0 1 3 0 6-1 3 1 14-1 2 1"/>
<path class=b2 d="M1016 472l6-2 3 1 52-1 0 0 6 0 3 0 14 1 7-1 4 1"/>
<path class=b1 d="M1022 471l50-1 18 0 6 1 2 0"/>
<path class=b3 d="M1028 471l3-1 39 0 5 0 0 0 0 0 4 1 2 1 11-2 2 0 0 0 0 0 17 1"/>
<path class=b1 d="M1086 470l6-2 6 0"/>
<path class=b4 d="M1016 469l3 0 0 0 3 1 3-1 3 0 0 0 0 0 3-1 3 1 0 0 3 0 3 1 2-1 0 1 3-1 8 0 12-1 3 2 9-2 2 0 4 1 5 0 0 1 4-1 4 0 2 1 4-1 5 0 6 0 3 0"/>
<path class=b3 d="M1025 469l12-1 5 1 3 1 8 0 8-1 4 1 16-1 0 0 5 0 4 0 2-1 10 2 2-1 7 0 2 0 0 0 15-1 8 1"/>
<path class=b2 d="M1034 469l47 0 2 1 11-1 0 1 17-1 3 1"/>
<path class=b3 d="M1019 468l23 0 3 0 3 0 5 0 3 0 2 0 14 0 0 0 7 0 13-1 6 1 6 0 7 0 5-1"/>
<path class=b0 d="M1130 468l28 0"/>
<path class=b2 d="M1016 468l3 0 18 0 8 0 18 0 12 0 4 0 11 0 10 0 4 0 9 0 17 0"/>
<path class=b1 d="M1053 468l22 0 25 0 5 0 53 0"/>
<path class=b4 d="M1016 467l0 1 18-1 6 0 0 1 5 0 3-1 0 1 13 0 9 0 0 0 0 0 2 0 3 0 2 0 0 0 6-1 7 1 0 0 2-1 2 1 4 0 2 0 4 0 7 0 35 0"/>
<path class=b3 d="M1022 467l3-1 40 0 5 0 2 0 3 0 4 0 0 0 2 1 5-1 14 0 4 0 7 1 17 0 0 0"/>
<path class=b2 d="M995 466l24 1 9 0 20-1 2 0 0 1 15 0 5-1 0 0 2 0 3 0 2 0 0 1 4 0 11-1 21 1"/>
<path class=b4 d="M1019 467l3-1 0 1 3-1 0 0 3 1 0 0 3-1 0 1 0 0 3-1 0 0 6 1 2 0 3-1 5 1 6 0 0 0 5 0 11-1 3 0 2 0 2 1 2-1 13 0 8 0 9 1"/>
<path class=b0 d="M1116 466l12 0"/>
<path class=b2 d="M1028 465l20 0 27-1 2 1 4 0 2-1 0 1 3 0 2 1 6-1 2 0 6 0 9-1 19 0"/>
<path class=b3 d="M1016 464l9 0 6 1 17 0 24-1 9 0 5 1 14 1 13-1 17 0"/>
<path class=b1 d="M1072 464l0 0"/>
<path class=b0 d="M1118 465l10 0"/>
<path class=b4 d="M1016 465l3 0 0 0 0 0 3 0 0 0 3 0 3 0 3-1 0 1 3 0 0 0 0 0 3 0 3 0 0 0 2-1 0 1 11 0 5 0 0 0 19 0 4 0 2 0 3-1 6 0 0 1 2 0 0 0 17 0 0 0 2 0"/>
<path class=b0 d="M1077 464l23-1 40 0"/>
<path class=b1 d="M1045 464l30-1 23 0 32 0"/>
<path class=b2 d="M1028 463l0 1 6 0 6-1 13 1 12 0 5 0 2-1 3 0 11 0 0 0 6 1 8-1 14 1 20-1"/>
<path class=b3 d="M1045 463l18 1 7 0 9-1 0 1 9-1 14 1 7 0 4-1 21 1"/>
<path class=b4 d="M1016 463l0 1 6 0 3 0 3 0 3-1 6 0 3 0 2 0 0 1 14-1 2 0 0 1 10-1 2 1 5 0 0 0 4-1 0 0 0 1 0 0 2-1 2 1 3-1 4 1 4-1 2 0 17 1"/>
<path class=b3 d="M1016 463l61-1 4 0 11 0 4 0 4-1 5 1 2 0 4 0 19 0 12 0"/>
<path class=b0 d="M1113 462l17 0 3 0 0 0"/>
<path class=b4 d="M983 462l33 0 9 0 0 0 0 0 0 1 3-1 0 0 3 0 9 0 5 0 5 0 0 1 20-1 2 0 5 0 0 0 6 0 3 0 2 0 0 1 0 0 4-1 8 0 2-1 5 1 0 1 4-1"/>
<path class=b2 d="M1016 462l9 0 6 0 17-1 10 1 12 0 2 1 20-1 4 0 15 0 2 0 15 0"/>
<path class=b1 d="M1070 462l5 0 13 0 6-1 2 1"/>
<path class=b2 d="M1019 461l3-1 18 0 2 0 8 1 0 0 33-1 0 1 3 0 8-1 36 1"/>
<path class=b1 d="M1053 461l24-1 11 0"/>
<path class=b3 d="M1022 460l12 0 6 1 30-1 0 0 2 0 0 0 5 0 2 0 2 1 9-1 2 1 2-1 4 1 13-1 0 0 2 1 3 0 15 0"/>
<path class=b4 d="M1016 460l3 1 0 0 9 0 3-1 3 1 0 0 6-1 8 1 0 0 13 0 0 0 9-1 5 0 0 0 0 0 2 0 2 0 0 1 2 0 0 0 5 0 4 0 26 0 36-1"/>
<path class=b0 d="M1128 461l28 0"/>
<path class=b3 d="M1034 459l11 0 27 1 9-1 0 0 2 0 0 0 0 1 5 0 10-1 0 0 15 0 1 0 80 0"/>
<path class=b4 d="M1016 459l3 0 3 0 0 1 3-2 0 1 3 0 0 0 6 0 3 1 3-1 5 0 5 0 0 1 18-1 11 0 9 0 4 0 0 0 2 0 17 0 0 1 2 0 1 0 25-1"/>
<path class=b1 d="M1065 460l25 0 15-1 6 0 0 0 23 0"/>
<path class=b2 d="M1016 460l0 0 3-1 9 0 6 0 3 1 3 0 2-1 3 0 11 0 34 1 4 0 8-2 0 2"/>
<path class=b4 d="M1019 458l3-1 0 0 3 0 0 1 6 0 0 0 6 0 3-1 0 1 8-1 2 1 3 0 3 0 2 0 12 0 2 0 0 0 3 0 2 0 0 0 2 0 0 0 4 0 3 0 0 0 10 0 9 0 11 0 14 0"/>
<path class=b0 d="M1100 460l14-3 16 1 6-1 1 1"/>
<path class=b3 d="M1053 458l12 0 3 0 4 0 3 0 2 0 9 0 0 0 2 0 2-1 17 0"/>
<path class=b1 d="M1070 458l24 0 0 0 17 0 19 0"/>
<path class=b2 d="M1070 458l5 0 8-1 7 1 6-1 9 1 9-1 0 0 14 1 2 0"/>
<path class=b4 d="M1016 456l0 0 0 1 9 0 3-1 0 1 3-1 6 0 0 1 33-1 2 0 0 0 3 0 2 0 2 1 0 0 2-1 0 0 5 0 2 0 4 1 0 0 10-1 2 0 9 1"/>
<path class=b1 d="M1063 457l12-1 2 0 23 1 11 0 2 0 20 0"/>
<path class=b2 d="M1045 456l18 1 9-1 7 1 2-1 9 0 2 1 2-1 0 1 4-1 6 1"/>
<path class=b3 d="M1025 456l3 1 6 0 36-1 0 0 5 0 2 0 6 0 0 1 3 0 10 0 6 0 9 0 2-1 15 0"/>
<path class=b0 d="M1139 457l20-1"/>
<path class=b2 d="M1019 455l9 0 12 0 5 1 5-1 25-1 0 1 4-1 4 1 7 0 4 1 2-1 17 0 0 0 0 0"/>
<path class=b3 d="M1022 456l9-1 11 1 28-2 2 0 7 1 9 0 4 0 8 0 0 0 5 0 6 0 23 0 0 0"/>
<path class=b1 d="M1070 455l7-1 17 1"/>
<path class=b4 d="M1016 454l0 1 3 0 3-1 6 1 0 1 9-1 0 1 3-1 0 1 5-1 0 0 3 1 13 0 11-2 3 1 6-1 0 1 2 0 3 0 0 1 2-2 0 1 2 0 2 0 0 0 2 0 8 1"/>
<path class=b2 d="M1016 454l15 0 46 0 15-1 2 0 4 0 2 0 7 0 7 1 17-1 6 0"/>
<path class=b4 d="M1019 453l0 0 0 0 0 1 3 0 3-1 6 1 3-1 0 1 3 0 5-1 0 0 0 0 3 0 3 0 10 0 5 1 7 0 7-1 2 1 2 0 2 0 3 0 10-1 4 1 11 0 2 0 65 0"/>
<path class=b0 d="M1092 453l38 1 3 0"/>
<path class=b3 d="M1034 454l0 0 16-1 22 1 5 0 6-1 15 0 4 1 2-1 5 1 2 0 3 0 11-1 5 1 12 0"/>
<path class=b1 d="M1022 454l78-1 30 1"/>
<path class=b2 d="M1070 452l2 0 3 0 4 1 2-1 9 0 2 0 2 0 0 0 2 0 8 0 9 1 17-1"/>
<path class=b3 d="M1070 452l11 0 9 1 0 0 8-1 7 1 6-1 2 1 17-1 3 0"/>
<path class=b1 d="M1072 452l16 0 8 1 11 0 7-1 0 0"/>
<path class=b0 d="M1111 452l19 1"/>
<path class=b4 d="M1016 452l0 0 6 0 3 1 3-1 0 1 0 0 17-1 3 1 10-1 3 0 2 1 7-1 2 0 3 0 0 0 2 0 0 1 2-1 0 0 2 0 2 0 0 1 3 0 0 0 21 0 4-1 3 0 20 1"/>
<path class=b4 d="M1016 450l0 1 6 0 3-1 0 1 0 1 9-1 8-1 0 0 0 1 14 1 7-1 7-1 2 0 0 0 7 0 2 2 2-1 11 0 2 0 4-1 11 1 0 0 17 0"/>
<path class=b3 d="M1053 451l19-1 3 1 6 0 11-1 0 1 2 0 15 1 4-1 20 1"/>
<path class=b1 d="M1022 451l48-1 16 1 18 0 7-1 14 0 5 1 12 0 1 1"/>
<path class=b2 d="M1019 451l9 0 3-1 0 1 14 0 0 1 3 0 27-1 0 0 4-1 0 0 4 2 11-1 8 0 11-1 17 0"/>
<path class=b0 d="M1092 450l15 0 36 0 15-1"/>
<path class=b1 d="M1056 449l25 1 28-1 2 0 2 0"/>
<path class=b2 d="M1022 449l9 0 46 1 2-1 2 0 0 0 5 0 0 0 2 0 4 1 4 0 6 0 46-1"/>
<path class=b3 d="M1025 449l6 0 17 0 29 1 0 0 6-1 3 1 6-1 4 0 6 0 0 0 9 0 3 0"/>
<path class=b4 d="M1016 449l3 0 0 0 6 0 0 1 3-1 3 1 3-1 3 0 0 0 5 0 3 0 5 1 20 0 5-1 6 0 7 0 2 0 6 0 0 1 6 0 2 0 1-1 11 0 12 0 9 1"/>
<path class=b4 d="M1019 447l0 1 3 0 9-1 6 0 8 1 3 0 10 0 3-1 2 1 7 0 0 0 2 0 3 1 2-1 0 0 2 0 4 0 3-1 2 0 4 1 0 0 0 0 8 0 11-1 0 1 2 1"/>
<path class=b1 d="M1072 448l3 0 19 0 20 0 9 0 5 0 11 0"/>
<path class=b2 d="M1022 447l6 1 9 0 8-1 13 1 3 0 2 0 16 1 15 0 4-2 18 1 17 0"/>
<path class=b3 d="M1028 449l25-1 17 0 2 1 5-1 6 0 5 0 2 1 15-1 0 0 8-1 1 1 16 0 12 0"/>
<path class=b1 d="M1077 446l4 1 64-1"/>
<path class=b0 d="M1131 446l27 0"/>
<path class=b4 d="M1019 447l0 0 6-1 3 1 3-1 0 1 6-1 3 1 13 0 8 0 2-1 7 0 0 0 2 0 0 0 3 0 0 0 4 0 0 0 2 0 2 0 11 1 0 0 10 0 1-1 6 0 2 1 15 0"/>
<path class=b2 d="M1016 447l54-1 5 0 8 0 5 1 2 0 10 0 4-1 0 1 3-1 6 0 1 0 14 1"/>
<path class=b3 d="M1016 447l56-1 5 1 2 0 2 0 2 0 11-1 4 0 4 1 9-1 17 1 3 0 0 0 12-1"/>
<path class=b0 d="M1098 446l6-1 22 1"/>
<path class=b2 d="M1022 446l12-1 3 0 8 0 5 0 29 0 0 0 11 0 6 0 6 0 11 1"/>
<path class=b3 d="M1022 445l3 1 65-1 2 0 0 0 2 0 4 0 2 0 11 0 5 0 14 0 28 1 1-1"/>
<path class=b4 d="M1016 445l0 1 3-1 0 0 0 1 6-1 3 0 0 0 3 0 3 0 3 1 3 0 2-1 0 0 3 0 0 0 8 0 0 1 3-1 2 0 5 1 14 0 4-1 0 0 2 0 3 0 4 0 4 0 0 1 10-1 0 0"/>
<path class=b1 d="M1079 445l55 0"/>
<path class=b4 d="M1019 443l0 1 9 0 6-1 8 0 0 1 3-1 3 1 5-1 3 1 5-1 9 1 0 0 2 0 3 0 0 0 0 0 2 0 0 0 6 0 3 0 0 0 10-1 0 1 2-1 13 1 2-1 1 0 2 1 12 0 14-1"/>
<path class=b1 d="M1016 444l65 0 49 0"/>
<path class=b3 d="M1016 443l29 0 20 1 5 0 7 0 6 0 9 0 2 0 2 0 2 0 2-1 2 0 3 1 6 0 5-1 7 1 11-1"/>
<path class=b2 d="M1031 444l3 0 3-1 28 1 7 0 0 0 24 0 40 0"/>
<path class=b3 d="M1025 443l47-1 0 0 5 1 0 0 2 0 2 0 2-1 7 1 2 0 8 0 11-1 2 1 5 0 12-1 0 0"/>
<path class=b2 d="M1028 442l22 0 13 0 12 0 4 1 15-1 8 0 5 1 4 0 17-1 3 1 2 0 6 0"/>
<path class=b1 d="M1077 443l15 0 2-1 20 1 44 0"/>
<path class=b0 d="M1083 442l26 1 50 0"/>
<path class=b4 d="M1022 442l9 0 3 1 3 0 0 0 3-1 16 1 14-1 0 0 0 0 2 1 3 0 0 0 4-1 2 0 0 0 2 0 5 0 4 1 8 0 2-1 9 1 2 0 46 0"/>
<path class=b3 d="M1083 441l26 0 2 0 3 0 0 1 4-1 2 1 11 0 2-1 3 0 9 0 14 0"/>
<path class=b4 d="M1016 441l0 0 6 0 3 0 0 0 3 1 3-1 0 0 3 0 0 1 3 0 5-1 11 0 3 1 23-1 0 1 2-1 11 1 2-1 2 0 2 0 0 0 0 0 4 1 3 0 2-1 24 1 9-1"/>
<path class=b1 d="M1028 442l58-1 30 1 26 0 4-1 22 0"/>
<path class=b2 d="M1022 442l9-1 22 0 10 0 16 0 7 0 2 0 2 0 4 0 2 0 9 1 4 0 27-1"/>
<path class=b2 d="M1040 440l10 0 25 0 6 0 7 0 6 0 11 0 8 0 1 0 12 0 7-1 6 0 1 1 24 0"/>
<path class=b4 d="M1016 440l3 0 6 0 3 0 14 0 0 0 3-1 18 0 7 1 0 0 2 0 0 0 3 0 2 0 0 0 4 0 0 0 19-1 11 1 2 0"/>
<path class=b3 d="M1028 440l20-1 8 1 2 0 10 1 2-1 16 0 16 0 9 1 2-1 0 0 1 0 0 0 14 0 2 0 0 0"/>
<path class=b0 d="M1077 440l11 0 10 0 4 0 29 1 9-2 2 1"/>
<path class=b1 d="M1072 440l3 0 21 0 47 0"/>
<path class=b3 d="M1019 438l49 0 4 0 3 0 2 0 0 1 2-1 2 0 7 0 10 0 2 1 9 0 2-1 2 1 18 0 8 0"/>
<path class=b2 d="M1034 439l8 0 0 0 28-1 5 0 4 1 9 0 6 0 4 0 2 0 5-1 6 0 0 0 3 0 16 0 1 1 3-1"/>
<path class=b4 d="M1019 438l6 1 0 0 6-1 3 0 3 0 8 1 0 0 13-1 12 0 0 0 2 0 0 1 5 0 4 0 2-1 0 1 3 0 4-1 17 1 24 0 5 0"/>
<path class=b1 d="M1083 439l3 0 19-1 32 1"/>
<path class=b3 d="M1019 437l69 1 4-1 4 0 8 0 0 0 9 1 1-1 0 1 12 0 5 0 3 0 24-1 1 0"/>
<path class=b2 d="M1019 437l23 0 3 0 16 1 18 0 13-1 2 1 4-1 0 1 7-1 16 0 10 0"/>
<path class=b1 d="M1022 438l80-1 11 1 23 0"/>
<path class=b4 d="M1016 438l3-1 3 0 0 1 3 0 0 0 3-2 0 1 9 1 3-1 2 0 0 1 19-1 14 0 0 0 0 1 2-1 13 0 4 0 0 0 2 0 2 0 9-1 0 2 2 0 4 0 15 0 2 0"/>
<path class=b0 d="M1090 438l56 0 12 1"/>
<path class=b3 d="M1019 436l34 0 17 0 0 0 2 0 5 0 2 0 2 0 5 0 2 0 14 0 7 0 7 0 0 0 26 0"/>
<path class=b4 d="M1019 436l12 0 9 0 8 0 0 0 2 0 0 0 0 0 6 0 14 0 2 0 3 0 2 0 0 0 2 0 0 0 7 0 2 0 4 0 6 0 7 0 6 0 0 0 19 0 1 0"/>
<path class=b1 d="M1037 435l35 1 14 0 10 0 32 0 2 0"/>
<path class=b0 d="M1111 436l5 0 30 0"/>
<path class=b2 d="M1016 435l12 1 49 0 4 0 0 0 2 0 5 0 0 0 4 0 8 0 34-1"/>
<path class=b3 d="M1028 435l14-1 19 1 11 0 0 0 5 0 6-1 5 0 6 0 6 1 11-1 2 0 18 0 8 1 10-1"/>
<path class=b4 d="M1019 435l3-1 0 1 0 0 3-1 6 0 6 1 11 0 2 0 8 0 3-1 4 0 7 1 3 0 0 0 17 0 4-1 2 1 20-1 46 1"/>
<path class=b2 d="M1028 435l30 0 17-1 6 1 0 0 5-1 6 0 8 1 2 0 3 0 6-1 2 0 3 1 14 0 6 0"/>
<path class=b0 d="M1081 435l50 0 11 0 16-1 0 1"/>
<path class=b1 d="M1086 434l16 1 21 0 7-1 28 1"/>
<path class=b4 d="M1016 434l3 0 0 0 9-1 6 0 0 1 6 0 23 0 5 0 2 0 5-1 4 0 0 0 0 1 2-1 5 1 10 0 0 0 4-1 0 1 7 0 6-1 0 1 17 0"/>
<path class=b1 d="M1061 433l9 1 9 0 17 0 37 0 16 0 3 0"/>
<path class=b3 d="M1070 434l7 0 11-1 0 0 0 1 2-1 8 0 33 0 6 1 8-1 22 1"/>
<path class=b2 d="M1028 434l9-1 3 0 23 1 9-1 7 1 4 0 3-1 0 1 6-1 6 1 13 0 3 0 9 0 5-1 3 1 9-1 18 1"/>
<path class=b2 d="M1042 432l0 0 28 0 5 0 2 1 2-1 7 0 4 0 0 0 6 0 15 0 0 0 3 0 16 1 7-1 11-1 7 0"/>
<path class=b3 d="M1056 432l16 0 9 0 9 0 2 0 2 1 2-1 6 0 9 0 2 0 15 0 9 0 3 0"/>
<path class=b0 d="M1098 431l44 0 3 0 14 0"/>
<path class=b4 d="M1025 431l0 1 3 0 0 1 3-1 39 0 0 0 2 0 5 0 6 0 0 0 0 0 9 1 2-1 6 0 2 0 5 0 6 0 23-1 3 2 19-1"/>
<path class=b1 d="M1034 432l41 1 6-1 13 0 39-1"/>
<path class=b3 d="M1048 431l24 0 3-1 0 1 6 0 11 0 0 0 12 0 5 0 2-1 2 1 0 0 18 0 15 0"/>
<path class=b2 d="M1022 431l6 0 30 0 5 0 7-1 5 1 2 0 2 0 11 0 10 0 11-1 2 1 15-1 11 0 12 1"/>
<path class=b4 d="M1016 431l3-1 12 0 0 0 0 1 3 0 14-1 13 1 9-1 0 1 2-1 0 0 5 0 2 1 4-1 0 1 3 0 4 0 4 0 4 0 2 0 11 0 3 0 0 0 0 0"/>
<path class=b1 d="M1083 431l9 0 6-1 33 0 0 1 6 0"/>
<path class=b1 d="M1092 429l2 0 36 1 1 0 0 0 8 0"/>
<path class=b2 d="M1077 429l6 0 0 0 3 0 2 0 12 0 5 1 0 0 28-1 0 1"/>
<path class=b4 d="M1016 429l6 1 3-1 3 1 6-1 6 0 2 1 0 0 8-1 0 1 3-1 22 0 2 1 2-1 2 0 0 0 2 0 11 0 0 0 2 1 4-1 0 0 4 0 29 1 10 0"/>
<path class=b0 d="M1130 430l9-1"/>
<path class=b3 d="M1037 429l42 0 0 1 2-1 5 0 0 1 4-1 0 0 4 1 13-1 2 0 2 0 5 0 2 0 22 0 11 1 4-1"/>
<path class=b2 d="M1037 429l3-1 32-1 3 1 4 0 11 0 2 0 0 1 4-1 6 0 0 0 12-1 17 1 3 1 9-1 17 0"/>
<path class=b4 d="M1022 428l3 0 6 0 11 0 3-1 16 1 4 0 5 0 0 0 2 0 0 0 0 0 5 0 13 0 8 0 4 0 9 0 2 1 1-1 0 0 14 0"/>
<path class=b3 d="M1068 428l2 0 5 0 2 0 25 0 2 0 7 1 2-1 17 0 1 0 3 0 3 0 3-1 18 2"/>
<path class=b0 d="M1120 428l13-1 52 1"/>
<path class=b1 d="M1079 427l34 1 0 0 17 0 3 0 4 0"/>
<path class=b1 d="M1048 427l35 0 15 0 15 0 21-1"/>
<path class=b3 d="M1072 426l5 1 2 0 2 0 5 0 6-1 19 0 2 1 20-1 10 0"/>
<path class=b2 d="M1045 427l27-1 5 1 9 0 4 0 4 0 4-1 7 0 15 0 11 1 0 0 5 0 1-1"/>
<path class=b4 d="M1019 427l6-1 0 1 15-1 2 1 6-1 22 0 0 0 0 0 5 0 0 0 2 1 2 0 2-1 11 1 0 0 2-1 0 1 2 0 2-1 2 1 0 0 0 0 2 0 5 0 7-1 2 0 14 0 0 0 10 1 2 0"/>
<path class=b0 d="M1096 425l27 0 14 2"/>
<path class=b4 d="M1022 426l20-2 11 2 3-1 16-1 3 2 4 0 2-1 0 0 15 0 2 0 0 0 0 1 2 0 5-2 8 1 0 0 15 1 17-1 1 1"/>
<path class=b3 d="M1079 425l0 1 2-1 0 1 2-1 3 0 2 0 2 1 4-1 6 0 2 0 5 1 4-1 0 1 0 0 2-1 23 0 1 0 6 1 16-1"/>
<path class=b1 d="M1019 425l69 1 43 0 2-1"/>
<path class=b2 d="M1016 426l18-1 43 0 0 0 9 0 0 1 0 0 4-1 0 0 2-1 0 2 45 0 9 0 7 0"/>
<path class=b2 d="M1016 423l42 1 12 0 0 0 2 0 30 0 5-1 6 1 20 0"/>
<path class=b4 d="M1019 424l6-1 0 1 3 0 12-1 8 1 5 0 19 0 3-1 0 1 0 0 0 0 2 0 15-1 0 1 6-1 0 1 4 0 2-1 3 1 4 0 0 0 3-1 16 1 10 0 2-1 7 0"/>
<path class=b1 d="M1058 424l36-1 8 1 12-1 6 1 8 0 3 0 8-1"/>
<path class=b3 d="M1019 424l18-1 11 1 22 0 11-1 2 0 5 0 8 1 6 0 11 0 8 0 7 0 3-1 0 1 27-1"/>
<path class=b2 d="M1056 422l25-1 5 2 25-1 9-1 6 1 4 1"/>
<path class=b3 d="M1042 421l28 1 2 0 5 0 2 0 0 1 13-1 0 0 21 1 3-1 14 1 1-1 0 1 8 0 4-1 20-1"/>
<path class=b1 d="M1094 423l6-2 26 1 13-1 1 0"/>
<path class=b0 d="M1130 423l15-1 7-1 46 3"/>
<path class=b4 d="M1025 422l3-1 17 0 5 1 15 1 5-1 0 0 2 0 0 0 3 0 0 0 2 0 0 1 2 0 2-2 0 1 0 0 0 1 2-1 0 0 5-1 6 1 2-1 0 0 0 0 6 1 9 0 0 0 3 0"/>
<path class=b3 d="M1070 420l0 0 2 0 0 1 3-1 0 1 2-1 11 0 4 0 0 1 2 0 0 0 6 0 5-1 23 1 2 0 1-1 11 0 18 0"/>
<path class=b2 d="M1070 420l5 0 4 0 7 1 8-1 19 0 0 0 1 0 0 0 17 1 2-1 12 0"/>
<path class=b1 d="M1077 420l4 0 30 0 2 0 17 0 3 0 15 0"/>
<path class=b4 d="M1028 421l9 0 35 0 5-1 2 0 0 1 4-1 0 0 9 0 0 0 2 0 6 0 11 0 0 0 3 0 17 0 2 1 3 0 3-1 1 0 2 0"/>
<path class=b4 d="M1025 419l3 0 6 0 14 0 0 0 2 0 20-1 2 0 0 0 0 1 3-1 2 0 2 0 0 1 11-1 6 1 4 0 5 1 4-1 7 0 15 0 8 0 1 0 40-1"/>
<path class=b3 d="M1068 419l2-1 13 0 0 1 7 0 15 0 6-1 3 1 0 0 4 1 2-1 10-1 1 0 0 1 3-1"/>
<path class=b1 d="M1077 419l4-1 7 1 6-1 19 0 3 1 27 0 2 0"/>
<path class=b2 d="M1034 419l36-1 5 0 0 0 4 0 2 0 30 0 2 0 0 0 17 0 3 1 38 0"/>
<path class=b0 d="M1083 420l53-1"/>
<path class=b4 d="M1031 417l14 1 27-1 5 0 0 1 2-1 2 0 0 1 2-1 3 1 8-1 15 1 5-1 2 1 18-1 2 0 12 1"/>
<path class=b2 d="M1025 417l23 0 13 0 11 0 5 0 4 0 9 0 2 0 0 0 2 1 17-1 0 1 2-1 18 0 2 0 0 0 4 0 8 0 8 1"/>
<path class=b0 d="M1146 418l12-1"/>
<path class=b3 d="M1042 417l0 1 11-1 8 0 11 0 16 0 2 0 2 0 4 0 6 1 7 0 4-1 17 1 1-1 6 0 21 1"/>
<path class=b1 d="M1096 417l35 0 2 1 1 0 21-1 3 0"/>
<path class=b2 d="M1031 416l46 0 2-1 4 0 5 1 6 0 2 0 13 0 22-1 2 0 4 0"/>
<path class=b3 d="M1016 416l54 0 0 0 5 0 0 0 8 0 3 0 4-1 4 0 6 1 5-1 6 2 2-1 3 0 12 0 2 0 15 0"/>
<path class=b1 d="M1056 416l30 0 16-1 37 1 0 0 3 0 3 0"/>
<path class=b0 d="M1133 415l32 0 9 1 20-1"/>
<path class=b4 d="M1025 415l0 1 12 0 33 0 5 0 4-1 0 1 4-1 0 1 5 0 2 0 6 0 8-1 7 1 3 0 7-1 9 1 1 0 3-1 2 1 4 0"/>
<path class=b0 d="M1109 414l5 1 16-1 0 0 13 0"/>
<path class=b1 d="M1081 415l5-1 6 0 19 0 2 0 15 0"/>
<path class=b3 d="M1019 414l51 1 2-1 7 0 2 1 5-1 6 0 2 1 13 0 4-1 7 0 15 1 4 0 2-1 7 0 13 0"/>
<path class=b2 d="M1058 414l0 0 14 0 3 1 0 0 2-1 9 0 6 1 4-1 0 1 15-1 2 0 0 1 1-1 6 0 11 0 3 0"/>
<path class=b4 d="M1022 414l3 0 40 0 5 1 0 0 2-1 3 0 2 0 0 1 6-1 3 0 8 0 0 0 15 1 39-1 3 1"/>
<path class=b0 d="M1077 413l34-1 29 1 15 0"/>
<path class=b2 d="M1075 413l25 0 11-1 3 1 0 0 16-1 0 0 3 0 0 1"/>
<path class=b1 d="M1090 413l6 0 15-1 5 1 15 0 5 0 6 0"/>
<path class=b3 d="M1037 412l35 0 18 1 2-1 2 1 0 0 2-1 13 1 4-1 3 1 2 0 13-1 3 1 3-1 0 1"/>
<path class=b4 d="M1031 412l6 1 26 1 9-2 3 1 2-1 0 1 2-1 0 1 2-1 0 1 2-1 0 1 5-1 0 1 8 0 2-1 0 1 4-1 11 0 1 1 19 0 3 0 1-1 3 1"/>
<path class=b2 d="M1053 411l3 1 7 0 7 0 5-1 4 0 11 1 10 0 20-1 11 0 6 1"/>
<path class=b1 d="M1083 411l22 0 15 0 19 0"/>
<path class=b4 d="M1019 411l0 0 18 1 3 0 10 0 6 0 2-1 12 1 0 0 2 0 3 0 2-1 0 1 2-1 2 0 0 0 5 1 6-1 4 0 2 0 4 0 0 1 11-1 17 1 1 0 2 0 0 0 9-1 7 1"/>
<path class=b3 d="M1028 412l47 0 8 0 3-1 8 0 2 1 2-1 23 1 12 0 12-1 7 0 8 0 5 0"/>
<path class=b0 d="M1075 411l38 1 45-1"/>
<path class=b4 d="M1031 409l6 1 33 0 0 0 0 0 2 0 0 0 5-1 4 0 2 1 11-1 0 1 2 0 6 0 9 0 2-1 3 1 14 0 0 0 1 0 3-1 0 1 0 1 3-1 3 0 0 0 6-1 7 1"/>
<path class=b1 d="M1077 410l23 0 11 0 3 0 7 0 10-1 0 2 18-1 4-1"/>
<path class=b3 d="M1031 410l41 0 14-1 8 0 15 0 4 0 0 1 17 0 9 0 10-1 4 1 5-1 6 2"/>
<path class=b0 d="M1079 411l55-1 28 1"/>
<path class=b2 d="M1083 409l0 2 21-1 7 0 2 0 26 0 0 1"/>
<path class=b2 d="M1075 408l0 0 4 0 7 1 10-1 17 1 3-1 5 1 7-1 2 0"/>
<path class=b1 d="M1070 408l35 0 0 1 13-1 13 1 3-1"/>
<path class=b4 d="M1025 408l9 1 3-1 8 0 0 1 11-1 0 0 14 0 0 0 2 0 0 0 3 1 2-1 0 1 2 0 13 0 2-1 6 0 5 0 6 1 3-1 0 1 0 0 2-1"/>
<path class=b3 d="M1065 408l7 0 3 0 8 0 0 1 3-1 8 0 2 1 6-1 9 1 0 0 5-1 5 0 9 0 1 1 2-1 0 1 1-1 15 1 10 0"/>
<path class=b4 d="M1042 407l6 0 10 0 12-1 0 0 2 0 3 1 2-1 2 1 0 0 2 1 2-2 3 1 0 0 2-1 0 1 4 0 0 0 2 0 4-1 4 1 12 0 12 0 20 0 5 0"/>
<path class=b2 d="M1028 407l28 0 16-1 0 1 5 0 2 0 2 0 11 0 8 0 9 0 5 0 4 0 13 0 6 1"/>
<path class=b0 d="M1123 406l11 1"/>
<path class=b3 d="M1065 407l10 0 2 0 4 0 5 0 4 0 23-1 0 1 1 0 17 0 2 0 0 0 4 0 9-1 5 1"/>
<path class=b1 d="M1111 406l29 1 3 0 19 0"/>
<path class=b3 d="M1094 405l0 0 2 0 0 1 2-1 6 0 0 1 9 0 1-1 0 0 14 1 5 0 1 0 9-1 17 0"/>
<path class=b2 d="M1042 406l3-1 32 0 11 0 10 0 15 1 5-1 10 1 5-1 4 1 2-1 4 1"/>
<path class=b1 d="M1070 406l28 0 23-1 7 1 3 0 6-1 0 0 8 1 4-1"/>
<path class=b4 d="M1019 405l12 0 0 0 9 1 5-1 8 0 5 0 19 0 2 0 13 0 4 0 2 1 2-1 4 1 5 0 2 0 0 0 2-1 18 0 2 0 13 1 6 0"/>
<path class=b0 d="M1134 406l22-1"/>
<path class=b2 d="M1056 404l19 0 2 0 2 1 2-1 13-1 10 2 1-1 11 0 12 0 6 0 5 0"/>
<path class=b1 d="M1086 405l25-1 9-1 11 1"/>
<path class=b4 d="M1025 404l28 0 17 0 0 0 0 0 2 0 0 0 0 0 5 0 2 1 4-1 0 0 3 0 2 0 4 0 0 1 2-2 0 1 4 0 0 1 9-1 4 0 17 0 0 0 6 0 8 0 3 1 18-1"/>
<path class=b3 d="M1075 404l0 0 0 1 8-1 5 1 12-1 7 1 4-1 3 0 17 0 5 0 0 0 4 1 2-1 16 0"/>
<path class=b0 d="M1113 404l26-1"/>
<path class=b3 d="M1072 403l3 0 2-1 2 1 4 0 13 0 0 0 4 0 2-1 11 0 1 1 14-1 3 1 0 0 6 0 3 0 2 0 1 0 0 0"/>
<path class=b4 d="M1034 402l3 1 33-1 0 1 2-1 3 1 2 0 2 0 2 0 0 0 2 0 9 0 4-1 4 1 7 0 0 0 4-1 2 0 0 1 1-1 2 0 2 0 13 0 2 1"/>
<path class=b2 d="M1070 402l11 1 5 0 8-1 15 0 2 0 0 0 7 1 15-1"/>
<path class=b1 d="M1063 403l37 0 25 0 5-1 6 1 15 0 7-1"/>
<path class=b3 d="M1034 401l27-1 2 2 23-2 2 2 2 0 15 0 4-1 22 0 2 0 1 1 9 0 16-2"/>
<path class=b0 d="M1136 400l17 1 7 1 34-1 2 0"/>
<path class=b4 d="M1025 401l3 1 42-2 5 1 0 0 4 0 0 0 0 1 2-1 2 0 0 0 3 0 0 1 4-1 2 1 2-1 6 0 14 1 12 0 5 0 2-1 0 1 3-1 3 0 0 1 3 0 3-1 6-1"/>
<path class=b2 d="M1072 402l3-1 8 1 3 0 27-1 0 0 17 1 9-1 20 0"/>
<path class=b1 d="M1100 401l16-1 20 1 9 0 1 1"/>
<path class=b3 d="M1092 399l8 1 13 0 3 0 12 0 12 0 8 0 4-1 6 1 0 0 4 0"/>
<path class=b4 d="M1034 400l3 0 5 0 28 0 0 0 2-1 0 1 0 0 5 0 0 0 0 0 4-1 0 1 0 0 7 0 4 0 13-1 13 0 2 1 13 0 4 0 5 0 7 0 9 0"/>
<path class=b1 d="M1092 399l4 0 18 1 16 0 1 0 12 0 5 0"/>
<path class=b2 d="M1072 400l5-1 4 1 7 0 6 0 0 0 2 0 15 0 0 0 0 0 3 0 0 0 4 0 24 0"/>
<path class=b0 d="M1130 400l12-1 13 1 3-1"/>
<path class=b2 d="M1077 398l0 1 4 0 2-1 28 1 2-1 0 0 1 0 0 0 4 0 12 0 0 0 1 0 5 0 1 0"/>
<path class=b4 d="M1045 398l13 0 12 0 0 0 2 1 0 0 3-1 8 0 3 0 0 0 2 0 0 0 2 0 0 0 8 0 2 0 7 1 4 0 0 0 2-1 1 0 2 1 2-1 0 1 2-1 3 0 8 0 2 0 1 0"/>
<path class=b3 d="M1075 398l0 1 4 0 0 0 7-1 28 0 0 0 17 0 18 0"/>
<path class=b0 d="M1136 398l17 0"/>
<path class=b1 d="M1070 398l26 0 32 0 11 0 32 0"/>
<path class=b0 d="M1139 397l1 1 8-1 14 0 33 1"/>
<path class=b1 d="M1100 398l31-2 3 1 6 0 8 0"/>
<path class=b3 d="M1070 396l16 1 6 0 0 1 2-2 2 0 2 1 13-1 2 0 18 0 2 1 4-1 3 0 6 0 14 0"/>
<path class=b4 d="M1068 396l2 1 0 1 2-2 3 0 0 1 2 0 0 0 0 0 2-1 0 1 0 0 13 0 4-1 0 1 2-1 2 1 4 0 9-1 7 1 14-1 3 1 0 0 19-1"/>
<path class=b2 d="M1072 396l32 1 12 0 5-1 10 1 2-1 0 1 1 0 11 0 4 1 22-2"/>
<path class=b3 d="M1081 395l0 0 7 0 4 0 4 0 17 0 0 1 1-1 6 1 8 0 3-1 0 1 0 0 2-1 4 0 2 0 6 0 1 1 10 0 2-1"/>
<path class=b1 d="M1098 396l15-1 15 1"/>
<path class=b2 d="M1072 396l11 0 9-1 2 0 13 0 4 1 3-1 20 0 17 0 7 0 30 1"/>
<path class=b4 d="M1019 395l3 0 50 0 3 0 0 1 4-1 13 1 2-1 2 0 4 0 2 1 3 0 2-1 4 1 2-1 15 1 5-1 1 0 0 0 3 0 0 0 2 0"/>
<path class=b0 d="M1140 396l2-1 7 0 13 0"/>
<path class=b4 d="M1070 394l0 0 0 0 5 0 4-1 0 1 0 0 2 0 0 0 0 0 5 0 2 0 4-1 15 1 30 0 2 0 1 0 9-1 9 0 0 1 13-1"/>
<path class=b0 d="M1121 394l7 0"/>
<path class=b1 d="M1140 394l5-1 8 1 42-1"/>
<path class=b3 d="M1031 394l41-1 20 1 2-1 4 0 13 1 3-1 0 2 2-1 7 0 7 0 0 0 3 0 4 0 2 0 6-1 13 1 5 0"/>
<path class=b2 d="M1072 394l3 0 2-1 2 1 2-1 13 0 0 1 2-1 15 1 0 0 7 0 15-1 0 1 9-1 1 1"/>
<path class=b2 d="M1070 392l7 0 11 1 21 0 7 0 2-1 3 0 9 0 4 1 2 0 13-1"/>
<path class=b0 d="M1139 392l13 0 12 0 10 1"/>
<path class=b1 d="M1092 392l21 0 13 0 10 0 7 1 16-1"/>
<path class=b3 d="M1070 392l2 1 3-1 4 0 9 0 6 0 11 1 6-1 0 0 2 0 1 1 14-1 2 0 1 0 0 0 6 1 3 0 5-1 0 0 3 0"/>
<path class=b4 d="M1031 392l39 0 2 0 3 0 0 0 2 1 9-1 4 0 0 0 0 1 4-1 4 0 0 0 13 0 2 0 3 0 15 0 17 0 10 0"/>
<path class=b2 d="M1070 390l2 0 3 1 0 0 6 0 7 0 16 0 9-1 0 0 7 0 10 0 1 0 2 0 25 0 5 0"/>
<path class=b4 d="M1050 391l8 0 10-1 2 0 2 1 0 0 5 0 0 0 2-1 4 0 3 2 2-2 6 0 4 0 33 0 5 0 7 1 0 0 12-1 5 1"/>
<path class=b3 d="M1070 391l5 0 6 0 17 0 16 0 6 1 3-1 7-1 3 0 1 0 8 0 13 0"/>
<path class=b1 d="M1077 390l53 0 3 0 1 0 3 0 0 0 0 0 2 0 0 1 4 0"/>
<path class=b0 d="M1131 390l9 0 18 1"/>
<path class=b2 d="M1102 389l35 1 2 0 10-1 9 1 1 0"/>
<path class=b1 d="M1111 390l20-1 34 0"/>
<path class=b4 d="M1028 389l14 1 28-1 2 0 0 0 3 0 2 1 2 0 2-1 7 0 0 1 2-1 2 0 0 0 0 1 2-1 2 0 0 0 2 1 4 0 3-1 2 0 4 1 0 0 2 0 1-1 4 0 7 0 6 0 5 0 3 0 14 1"/>
<path class=b0 d="M1164 389l5 0"/>
<path class=b3 d="M1075 389l11 0 27 0 1 0 4 0 7 1 6-1 2 0 1 0 6 0 0 1 8-1 1 1 2-1 1 1 8 0 15 0"/>
<path class=b3 d="M1070 388l5 0 2 0 2 0 9 0 23 0 2 1 1-1 2 0 17-1 1 1 2 0 1 0 3 0 3-1 0 1"/>
<path class=b4 d="M1045 388l3 0 22 1 2-1 3 0 2-1 4 0 0 1 0 1 2 0 3-2 18 0 0 1 1 0 6 0 2 0 17 0 0 0 3 0 0 0 0 1 6-1 0 1 1-1 6-1 0 1 5 0 13-1"/>
<path class=b1 d="M1143 388l17-1"/>
<path class=b0 d="M1145 389l1-1 2-1"/>
<path class=b2 d="M1061 388l25-1 10 2 4-1 2 0 2 0 7 0 19 0 12-1 6 1 10 0"/>
<path class=b1 d="M1096 387l8 0 7 0 3-1 23 0"/>
<path class=b3 d="M1050 387l50-1 2 1 11-1 1 1 2-1 0 1 14-1 1 0 0 1 3-1 0 1 3 0 2-1 12 0"/>
<path class=b2 d="M1070 387l2 0 7-1 4 0 9 0 6 0 0 1 13-1 2 0 0 0 3 1 5 0 5 0 4-1 1 0 8 1 1-1 2 0 3 0 8 0 5 1"/>
<path class=b4 d="M1048 386l22 0 0 0 2 0 0 1 3-1 0 1 2 0 2 0 2-1 0 1 13-1 4 0 7 1 6 0 3-1 16 0 3 1"/>
<path class=b0 d="M1131 385l9 0 6 0 14 1 40 0"/>
<path class=b1 d="M1113 384l5 1 40 1 2-1 5 0 9-1"/>
<path class=b4 d="M1045 386l8-1 3 1 14-1 2 1 3 0 2-1 2 0 2 0 2 0 9 0 0 1 2 0 2 0 2-1 6 1 12-1 15-1 0 0 2 1 0 1 10-1 0 1 5-1"/>
<path class=b3 d="M1094 385l0 0 2 0 0 1 6 0 5 0 7 0 6-1 16 0 1 1 14-2 1 2 4-1 4 1"/>
<path class=b2 d="M1040 384l32 1 41-1 1 0 2 1 4 0 13 0 3 0 7 0 8 1 12 0 10-1"/>
<path class=b1 d="M1114 384l19-1 0 0 3 1 6 0 1 0 15-1 2 0 0 1 7 0 8-1"/>
<path class=b4 d="M1056 383l14 1 5 0 0 0 4-1 0 1 0 0 4-1 3 0 6 1 15 0 4 0 0 0 0 0 2 0 15 0 0 0 17-1 10 0 5 0"/>
<path class=b0 d="M1104 384l30-1"/>
<path class=b2 d="M1072 384l11 0 15-1 0 1 7-1 9 1 14 0 5-1 4 1 8 0 8 0"/>
<path class=b3 d="M1019 383l51 1 9 0 7-1 2 0 14 1 3-1 8 0 8 0 4 1 12-1 0 1 14-1 8 1 5-1 32 1"/>
<path class=b3 d="M1053 382l17 0 11 1 2 0 30-1 0 0 1 1 4 0 10-1 2 0 1 0 0 1 5-1 3 0 4 0 2 0 1 0 0 1 0 0 3-1 2 1"/>
<path class=b4 d="M1037 382l5 1 3-1 25 0 2 0 3 0 0 0 0 0 6 1 13-1 17 0 0 0 5 0 20 1 1-1 2 0 0 1 1-1 9 1 15 0"/>
<path class=b1 d="M1116 382l12 0 9 1 5-1 0 0 16 0"/>
<path class=b2 d="M1070 382l0 1 2-1 0 0 11 0 11 0 8 0 9 0 10 0 10 0 18 0 2 0"/>
<path class=b0 d="M1113 381l1 0 17 0 8 0 25 1"/>
<path class=b3 d="M1079 380l19 1 2 1 13-2 1 1 2-1 0 2 17-2 0 1 4 0 2 0 3 0 1 0 5 0 4 0 3-1 7 1"/>
<path class=b2 d="M1072 380l14 1 10 0 35-1 2 1 9 0 1 0 5 0 4 0"/>
<path class=b1 d="M1098 381l0 0 16-1 9 1 20 1 5 0 5-1 6-1 0 0 4 1"/>
<path class=b4 d="M1025 380l12 1 33 1 5-2 2 2 2 0 2 0 7-2 0 1 4 1 0 0 2-2 0 2 2-1 8 0 17 0 0 1 13-2 3 1 5 0"/>
<path class=b3 d="M1070 380l2 0 20-1 8 1 5-1 6 1 0 0 3-1 14 1 3 0 2-1 0 0 0 0 1 1 3 0 5 0 1-1 0 0 6 0 3 0 7 1 5 0 30 0"/>
<path class=b2 d="M1072 380l5-1 17 1 8-1 9 1 3-1 16 1 4 0 5-1 6 0 7 0 0 0 42 0"/>
<path class=b4 d="M1031 380l34-1 7 0 0 0 3 0 6 0 9 1 6 0 11-1 6 1 3 0 5-1 7 1 11 0 19-1 1 1 10 0"/>
<path class=b1 d="M1116 379l9 0 9 0 12 0 13 1 12-1"/>
<path class=b4 d="M1031 378l39 0 0 1 2-2 0 1 3 0 0 1 4-1 4 0 0 0 0 0 13 0 2 0 13 0 2 0 0 0 10 0 7 0 0 0 1 0 3 1 28-2"/>
<path class=b2 d="M1081 378l15 0 2-1 13 1 0 0 26-1 0 1 0 0 6-1 3 1"/>
<path class=b0 d="M1116 380l23-1 19 0"/>
<path class=b1 d="M1079 378l13 0 39 1 17-2 4 1 21 0"/>
<path class=b3 d="M1070 378l9 1 4-2 0 1 15 0 7 0 8 0 1 0 7 0 7 0 3 0 3 0 3 0 2 1 7-1 5 1 7-2 0 1 2 1 8 0"/>
<path class=b4 d="M1068 376l2 0 0 1 2-1 3 1 2 0 0 0 2 0 7 0 2 0 6 0 0 0 2 0 13 0 2-1 2 0 0 1 1 0 4 0 0 0 12-1 6 0 6 1 1 0 5 0 1 0"/>
<path class=b2 d="M1070 377l2-1 3 0 4 0 9 1 14 0 12-1 17 0 0 0 2 0 1 0 2 0 3 0 3 0 0 0 1 0 9 1 4-1"/>
<path class=b3 d="M1065 377l33 0 13-1 0 0 2 0 1 0 2 1 15-1 2 0 0 0 36 1 16 0"/>
<path class=b1 d="M1151 377l18 0"/>
<path class=b0 d="M1130 376l0 0"/>
<path class=b4 d="M1022 376l23 0 25 0 0 0 2-2 0 2 3-1 2-1 0 1 0 0 9 0 0 0 4 0 0 1 2-2 0 0 4 2 8-1 0 1 9-2 1 1 4 0 7 0 8-1 1 0 3 1 0 0 2-1 3 0 4 1 6 0 23 0"/>
<path class=b2 d="M1019 375l60 0 34 0 33 0 17 1"/>
<path class=b1 d="M1133 375l0 0 25 1 14 0"/>
<path class=b0 d="M1152 376l8-1 3 0"/>
<path class=b3 d="M1113 374l5 1 16-1 2 1 3 1 0 0 1-2 2 1 1 0 5 0 1 1 0 0 2-2 4 1 4 0 1 0"/>
<path class=b3 d="M1088 374l23 0 3-1 0 0 4 1 7-1 5 1 18-1 0 0 3 1"/>
<path class=b2 d="M1081 373l0 1 2 0 9 0 12-1 10 0 17 1 0 0 0 0 6 0 9-1 5 0 14 1 13-1"/>
<path class=b1 d="M1094 373l0 1 27-1 2 1 5 0 11-1 4 0 8 0 5 1 4 0 3-1 30 1 2 0"/>
<path class=b4 d="M1031 373l9 0 30 0 0 1 2 0 3-1 2 1 4 0 11 0 2-1 2 1 6 0 7-1 2 1 0 0 5-1 0 1 12 0 3 0 6-1 6 0 16 0"/>
<path class=b1 d="M1111 372l15 0 4 0 10 0 2 1 13 0"/>
<path class=b4 d="M1045 372l25 0 0 1 2-1 3 0 0 0 2 0 13 0 2-1 0 2 4-1 11 0 4 0 2 1 0 0 1-1 0 0 6 0 10 0 13 0"/>
<path class=b2 d="M1075 371l0 2 56-1 2 0 0 0 1 0 2 0 3 0 3 0 7 0 4 0 11 1 28-1"/>
<path class=b3 d="M1075 372l8 1 5-2 0 1 4 0 6-1 7 1 6 0 2 0 5-1 10 1 3 0 2 0 1 0 3 1 0 0 2-2 0 2 14-1 10 1"/>
<path class=b0 d="M1153 374l15-2"/>
<path class=b4 d="M1070 370l0 1 7 0 13 0 2 0 6 0 6-1 27 0 6 1 5-1 11 0 5 1 1-1"/>
<path class=b3 d="M1111 370l0 0 2 1 8 0 9-1 1 0 2 1 1-1 3 1 3 0 3 0 2 0 0 0 3 0 1 0 13 0 2-1 0 1 3-1"/>
<path class=b1 d="M1136 370l3 0 0 1 19-1 1 0 1 0"/>
<path class=b2 d="M1072 371l9 0 15-1 15 0 2 0 0 0 1 0 2 0 5 1 7-1 5 0 0 1 3-1 1 1 5-1 7 0 9 0 1 1 3-1"/>
<path class=b0 d="M1116 371l32-1 0 1"/>
<path class=b2 d="M1072 369l5 1 2-1 4 1 28-2 3 1 9 0 10 1 1-2 5 1 1-1"/>
<path class=b1 d="M1164 369l4 0 9 1"/>
<path class=b4 d="M1070 369l0 1 2-1 0 0 3 0 6 0 7 1 2-1 4 1 6-1 0 0 0 1 2-1 2 0 0 1 1 0 9-1 0 0 2 0 15 0 0 1 0 0 2 0 4-1 5 0 3 1 1-1 16 0 13 0"/>
<path class=b3 d="M1092 369l15 0 0 1 9-1 2 0 3 0 2 0 7 1 13-1 0 0 2 0 4 1 2-1 5 1 6-1 35 0"/>
<path class=b2 d="M1070 368l7 0 2 0 9 0 8-1 8 1 9 0 20 0 9 0 3 0 15 0 5 0 2 0 8-1 6 1"/>
<path class=b3 d="M1105 368l6 0 2 0 0 0 8-1 2 1 5 0 2 0 0 0 3-1 1 1 3-1 0 0 11 1 5 0 6 0 16 0 3-1"/>
<path class=b4 d="M1070 367l0 1 5-1 4 1 0 0 11 0 2-1 12 0 3 1 4 0 3-1 22 1 1 0 0 0 6-1 3 1 19 0 4 0"/>
<path class=b0 d="M1120 370l5-3 33 1"/>
<path class=b1 d="M1077 367l19 0 13 0 22 1 8 0 4 0 51 0"/>
<path class=b2 d="M1070 367l7-1 2 1 51-1 3 1 10-1 5 0 3 0"/>
<path class=b4 d="M1068 366l2 0 2 0 3 0 0 1 2-1 11 0 4 1 4-1 2 0 2 0 11 0 0 0 2 0 0 0 13 0 4 0 3 0 4 0 5 0 7 0 14 1"/>
<path class=b1 d="M1113 366l36 1"/>
<path class=b0 d="M1114 367l22-1 22 0"/>
<path class=b3 d="M1072 366l24 1 4-1 11 0 3 0 2 0 0 1 2-1 12 0 1 0 0 0 0 1 3-1 0 0 5 1 1-1 3 0 2 0 1 0 5 0 7 0 2 0 2 0 0 0 6 1"/>
<path class=b2 d="M1070 364l5 1 15 1 23-2 1 1 17 0 6-1 0 1 3 0 8 0 3 0 1 0 8 0 2 0 12 0 3 0"/>
<path class=b1 d="M1133 365l3-1 0 1 1 0 3 0 5 0 10-1 1 0 2 1"/>
<path class=b3 d="M1070 365l20 1 14 0 16-2 11 1 2 0 6 0 6-1 1 1 6-1 0 1 3 0 4 0 0 0 1-1 3 0 6 1"/>
<path class=b4 d="M1079 365l0 1 11-1 4 0 8 1 11-1 1 0 19-1 3 1 3 0 1 0 3 0 0 0 2-1 41 1 0 0"/>
<path class=b0 d="M1116 365l15 0"/>
<path class=b2 d="M1083 364l17-1 11 1 3-1 0 1 2-1 26 0 0 0 3 0 6 0 0 0 1 0 7 0"/>
<path class=b0 d="M1130 364l39 0 25-1"/>
<path class=b4 d="M1070 363l0 0 5 0 0 0 2 1 0 0 2-1 0 1 4-1 3 1 2 0 0 0 10-1 13 1 2 0 15 0 11-1 6 0 0 1 14 0 8 0"/>
<path class=b3 d="M1092 364l19 0 3-1 19 0 6 0 0 1 4 0 3-1 0 1 12 0 1-1 8 0 0 1 5 0 11 0"/>
<path class=b1 d="M1070 364l46-1 14 1 3-1 6 1 7 0 12-1 1 0"/>
<path class=b1 d="M1118 361l3 0 13 1 0 0 49-1"/>
<path class=b3 d="M1077 362l32-1 4 1 5-1 2 1 10 0 7-1 0 1 0 0 0 0 0 0 12 0 2 0 4 0 5 0 0 0 15-1 19 0"/>
<path class=b2 d="M1075 361l36 1 0 0 2 0 3 0 12 0 3 0 2 0 10 0 2 0 0 0 15 0 9 0 19 0"/>
<path class=b0 d="M1116 362l46 0 33 0"/>
<path class=b4 d="M1070 361l22 1 0 0 6-1 6 0 7 1 2 0 1 0 7 0 7 0 3 0 0 0 3 0 8 0 1 0 0 0 6 0 6 0 3 0 6 0"/>
<path class=b1 d="M1111 360l3 1 16-1 9 1 3-1 1 0 15 0"/>
<path class=b4 d="M1045 361l25-1 0 1 2-1 3 0 2 0 37 0 0 1 19-1 0 1 7-1 2 0 4 0 2 1 23 0"/>
<path class=b3 d="M1075 360l36 0 2 1 0 0 10 0 5-1 3 0 0 0 3 0 0 0 5 1 4-1 5 0 1 0 9 0 0 1 1-1 0 0 0 0 1 0 2 0"/>
<path class=b0 d="M1134 360l0 0"/>
<path class=b2 d="M1092 360l0 1 15-1 4 0 2 1 12 0 5-1 1 0 2 0 6 0 6 0 6 0 5 1 2-1 4 0"/>
<path class=b3 d="M1072 358l9 1 30-1 2 0 0 1 5 0 2 0 11-1 6 1 3-1 0 1 0 0 5 0 1-1 3 1 10 0 0 0 4 0 2 0 2-1 16 0"/>
<path class=b0 d="M1131 358l6 1 23 0"/>
<path class=b1 d="M1077 359l34-1 3 1 31 0 1-1 3 1 16-1 30 1"/>
<path class=b4 d="M1070 359l0 0 13 0 5 0 25-1 1 1 0 0 2-1 2 0 2 1 10-1 3 0 0 1 1-1 5 1 6-1 14 1 13 0"/>
<path class=b2 d="M1096 359l34-1 0 0 1 0 2 1 18 0 0 0 9 0 4 0 30-1"/>
<path class=b1 d="M1111 356l37 2 4-1 4-1 27 1"/>
<path class=b4 d="M1063 358l7-1 0 0 0 1 7-1 11-1 4 1 2 0 17-1 0 2 2-1 1-1 2 1 4 0 8-1 3 0 2 1 3 1 1-1 0 1 2-1 1-1 8 2 14 0 1 0 2 0"/>
<path class=b2 d="M1070 357l2 0 0 1 42-2 17 1 2-1 0 0 4 1 3-1 5 1 1 1 6-1 6 1 7-1"/>
<path class=b3 d="M1098 356l15 0 1 2 17-2 3 1 2 0 1-1 2 1 3-1 9 2 2-1 5-1 6 2 3 0"/>
<path class=b2 d="M1075 356l34-1 4 1 30 0 5-1 3 0 2 0 3 0 2 0 1 1 4 0 1-1 9 0"/>
<path class=b4 d="M1072 356l3-1 0 0 19 0 2 0 6 0 11-1 3 2 4-1 8 1 9 0 0 0 2-1 6 0 0 1 14 0 3-1 1 1 1-1 49 1"/>
<path class=b3 d="M1083 355l5 0 25 0 1 0 0 1 22 0 3-1 0 0 4 0 3 1 5-1 0 1 2-1 2 0 3 1 1-1 8 0 6 1 12-1"/>
<path class=b1 d="M1116 355l23 1 7-1 21 0"/>
<path class=b0 d="M1111 356l19 0 30-1 3 0 34 0"/>
<path class=b4 d="M1070 353l0 1 7 0 2 0 11 0 2 0 6 0 13 0 0 0 3-1 0 1 4-1 10 1 3 0 5 0 4 0 2 0 7 0 3 0 1-1 6 0"/>
<path class=b0 d="M1133 354l15 0 12 0"/>
<path class=b3 d="M1075 353l38 1 8-1 9 1 3 0 0 0 1 0 2 0 3-1 1 1 3-1 10 1 2 0 5-1 0 0 3 0 4 1 5-1 9 0"/>
<path class=b1 d="M1116 354l15 0 14 0 3-1 3 1 13 0"/>
<path class=b2 d="M1088 354l14-1 9 1 17 0 3 0 2-1 18 0 4 0 3 1 9-1 4 1"/>
<path class=b3 d="M1111 352l3 0 12 1 4-1 6 0 4 0 5 0 10 0 4 0 4 0 2 0 3 1 3-1"/>
<path class=b4 d="M1070 353l9 0 4-1 3 0 25 0 0 0 2 0 3 1 4 0 1-1 7 0 3 0 0 0 0 0 2 1 3-1 0 0 1 0 0 1 6-1 2 0 0 0 0 1 1 0 0 0 6 0 3-1 3 0 1 0 36 1"/>
<path class=b1 d="M1113 352l5 0 15 1 7 0 25 0"/>
<path class=b0 d="M1195 353l19 0"/>
<path class=b2 d="M1113 352l15 0 9 0 2 1 1 0 3-1 15 0 0 0 4 0 2 1"/>
<path class=b4 d="M1072 351l0 0 5 0 11 0 4 0 6 1 6-1 0 0 7-1 0 0 2 0 1 1 17-1 2 1 3-1 0 0 3 0 0 1 4 0 8 1 0 0 1-1 6-1 0 1 2-1 2 1 2 0"/>
<path class=b1 d="M1102 351l35-1 6 0 0 1 5 0 21-1"/>
<path class=b2 d="M1070 350l41 0 7 2 8-1 2-1 3 0 6 0 3 1 12 0 6-1 5 2 15-1"/>
<path class=b3 d="M1094 351l2 1 11 0 7-1 0 0 2 0 18-1 5 1 3-1 6 1 1 0 11 0 11-1 1 2 22-1"/>
<path class=b1 d="M1118 350l2 0 39 0 3-2 1 2 2-1 3 0 11-1 15 1"/>
<path class=b3 d="M1077 349l15 0 6 0 7 0 9 0 19 0 3 0 0 0 1 0 0 1 3 0 5-1 0 0 7 1 1-1 5-1 4 1 2 0 25 1"/>
<path class=b2 d="M1088 350l6-1 2 0 17 1 7-2 8 2 3 0 6 0 6-1 0 0 6 0 9-1 11 0 2 1 13 0"/>
<path class=b4 d="M1070 349l0 1 2-1 3 0 11 0 0 0 2 0 12 1 7-1 6 1 15 0 5-1 10 0 3 1 3-2 6 0"/>
<path class=b1 d="M1131 348l3 0 11 0 4 0 3-1 1 1 6 0 0 0"/>
<path class=b0 d="M1142 350l4-2 12-1 38 1 1 0"/>
<path class=b4 d="M1070 348l11 0 5 0 25 0 2 0 1 0 2 0 15 0 0 0 6 0 2 0 0 0 1 0 2 0 9 0 8 0 1 0 4-1 0 0 7 1"/>
<path class=b3 d="M1100 348l11 0 0 0 3 0 2 0 2 0 10 0 2 0 3 0 12 0 1 0 7 0 2 0 0 0 1 0 8 0 15 0"/>
<path class=b2 d="M1070 347l0 0 2 0 0 0 3 0 38 1 0 0 15 0 11 0 0 0 9 0"/>
<path class=b2 d="M1079 347l21 0 18-1 15 1 1-1 0 1 5 0 1-1 3 0"/>
<path class=b3 d="M1079 346l2 0 2 0 28 1 2-1 7 0 6 1 5-1 2 0 1 0 3 0 0 1 2-1 1 0 0 0 6 0 2 0 10 0 10 1 4-1"/>
<path class=b4 d="M1072 346l3 1 6 0 5 0 16-1 9 0 0 1 2-1 1 1 16-1 1 0 0 0 2 1 0 0 4 0 6 0 2 0 4-1 9 0 5 1 11 0"/>
<path class=b1 d="M1113 347l3 0 48-1 4 0"/>
<path class=b0 d="M1128 346l2 0 13 0 5 1 43 0 4 0"/>
<path class=b1 d="M1114 344l31 0 1 0 0 1 14-1 3 1"/>
<path class=b0 d="M1159 345l4 1 39-2 19 1"/>
<path class=b4 d="M1070 345l7 0 4 0 9 0 4 1 10-1 21-1 8 0 3 1 0 0 1 0 2 0 6 0 0 0 1-1 6 1 7 0 6 0 7 0"/>
<path class=b3 d="M1109 345l2 0 7 0 15-1 4 1 2 0 1 0 3 0 6 0 2-1 7 1 6 0 3-1 0 0 2 1 25 0"/>
<path class=b2 d="M1092 345l19-1 0 1 14 0 11-1 1 0 3 0 0 1 9 0 2 0 0 0 4-1 3 1 4 0 1 0"/>
<path class=b4 d="M1075 343l2 1 6-1 13 0 13 1 4-1 0 1 0 0 1 0 7 0 5-1 2 1 0 0 2 0 3-1 12 1 14-1 6 0"/>
<path class=b0 d="M1145 343l4 1 20-1 25 0"/>
<path class=b2 d="M1131 344l6-1 6 0 12 1 3 0 1-1 4 0 5 0 47 0"/>
<path class=b1 d="M1131 344l54 0"/>
<path class=b3 d="M1070 343l5 0 38 1 1-1 0 0 2 0 0 1 2-1 5 0 0 0 8 0 0 1 2-1 6 1 4-1 9 1 1 0 5-1 1 1 1-1 2 0 1 0 2 1 0 0 2-1 0 1 4-1"/>
<path class=b1 d="M1118 341l19 1 5 0 18 0 3 0 6 0 3 0 0 0 1-1 1 2"/>
<path class=b2 d="M1113 342l17 0 4 0 5 0 1 0 3 0 10 0 2 0 1 0 3 0 8 1 6-1"/>
<path class=b3 d="M1077 342l34 0 0 0 3 0 16 0 1 0 5 0 3 0 0 1 1-1 6 0 0 0 12 0 9 0 0 0"/>
<path class=b4 d="M1070 341l0 1 2 0 5 0 0 0 11 0 2 0 0 0 4 1 11-2 2 1 4 0 2 0 1 0 9 0 7 0 1 0 2 0 1 0 3 0 15 0 1 0"/>
<path class=b4 d="M1100 341l13-1 1 0 9 1 8 0 2-1 0 0 0 0 1 1 3-1 6 1 3 0 0 0 2-1 1 1 3 0 1-1 0 0 2 1 9 0 1 0"/>
<path class=b0 d="M1148 343l8-2"/>
<path class=b1 d="M1142 341l7 0 14-1 2 1"/>
<path class=b2 d="M1104 340l3 1 6 0 1-1 12 0 5 1 6-1 5 0 0 0 1 1 2-1 13 0 1 1 8-1 6 1 6-1"/>
<path class=b3 d="M1100 341l9-1 7 0 4 1 1 0 13 0 3-1 2 0 6 0 0 1 4 0 6 0 4-1 1 0 3 1 4 0 2 0 25 0"/>
<path class=b1 d="M1140 339l12 0 4 0 3 1 3 0"/>
<path class=b2 d="M1111 340l0 0 3-1 14 1 2 0 1-1 0 1 3-1 0 1 3 0 6 0 5-1 1 1 3-1 7 0 3 1 1 0 8 0"/>
<path class=b4 d="M1070 339l5 1 2 0 34 0 2-1 0 1 1-1 2 0 7 1 2 0 5 0 4-1 3 0 11 0 1 1 2 0 5 0 9-1 2 1 5-1 0 1 2 0 21-1"/>
<path class=b3 d="M1088 340l23-1 2 1 27-1 0 0 6 0 14 1 0 0 3-1 1 0 5 1 3-1 2 1"/>
<path class=b3 d="M1092 338l38 0 1 1 2-1 4 0 2 0 0 0 6 0 8-1 2 1 3 0 1 0 0 1 3 0 1-1 2 0 3-1 1 2 4-1"/>
<path class=b2 d="M1111 338l20 0 2 0 0 0 7-1 2 1 3-1 4 1 2-1 0 1 7 0 9-1 12 1"/>
<path class=b4 d="M1075 337l4 2 2-1 30 1 2-2 0 1 1-1 0 1 2 0 4 0 6 0 2 0 2 0 7-1 6 1 2 1 8 0 2-1 1 0 7 0 4-1 1 1"/>
<path class=b0 d="M1151 339l26-1"/>
<path class=b1 d="M1116 338l18 0 6-1 5 1 10-1"/>
<path class=b3 d="M1113 337l15-1 3 0 5 0 7 0 3 0 0 1 6-1 3 1 4-1 1 0 0 1 3-1 2 0"/>
<path class=b1 d="M1098 336l18 0 18 0 5 0 0 0 12 1 8-1 0 1 4-1 23 0"/>
<path class=b2 d="M1111 336l22 0 16 0 0 1 4 0"/>
<path class=b0 d="M1111 336l60 0 15 0 10 1"/>
<path class=b4 d="M1075 336l15 0 4 0 4 0 6 0 7 0 2 0 1 0 6 0 8 0 2 0 1 0 0 0 2 0 0 0 3 0 1 0 2 0 4 0 0 0 2 0 1 0 5 1 4-1 1 0 0 1 4 0"/>
<path class=b3 d="M1109 335l4-1 0 1 1-1 0 1 0 1 2-2 15 0 2 0 4 0 3 0 5 1 0 0 4 0 0 1 2 0 5-1 3-1 6 0 4 1 0 0 3 0 0 0 9 0 2 0 11-1"/>
<path class=b2 d="M1081 335l32-1 8 0 15 1 3 0 3 0 1 0 3-1 12 1 5 0 0 0 5 0 4-1 1 1 1 0"/>
<path class=b4 d="M1070 335l16 0 8 1 17-2 25 1 3-1 6 1 6 0 2 0 0 0 2 0 3-1 2 1 3 0 2-1 12 1 18 1"/>
<path class=b4 d="M1070 334l9-1 4 1 28 0 3 0 6-1 8 1 3-1 8 1 12-1 4 1 7 0 2-1 3 0 0 0"/>
<path class=b1 d="M1134 334l2-1 24 0 0 1 5-1"/>
<path class=b0 d="M1152 333l7 1"/>
<path class=b2 d="M1118 333l5 0 7 1 3-1 4 0 2 0 4 1 2 0 1-1 2 1 0 0 11-1 0 1 1-1 2 0 9 0 1 0 11 1 5-1"/>
<path class=b3 d="M1072 334l39 0 3-1 4 0 2 0 10 1 1 0 0 0 6 0 5 0 1-1 0 1 2 0 7-1 13 0 2 1 1-1 4 0 1 0 21 0 1 0"/>
<path class=b0 d="M1133 332l25 1"/>
<path class=b2 d="M1100 332l0 0 13 0 0 0 18 0 0 0 2 0 3 0 3 0 1 0 3 0 2-1 6 1 1 0 3 0 4 0 12 0"/>
<path class=b3 d="M1094 332l17 0 3 0 2 0 21 1 2-2 1 1 0 0 3 0 8 0 4 0 0 0 1 0 3-1 0 1 8 0 2 0 12 0"/>
<path class=b1 d="M1111 332l17 0 6 1 44-2"/>
<path class=b4 d="M1083 331l0 1 13 0 9 0 6 0 2 0 1-1 16 1 0 0 7 0 2 1 6-1 1 0 2 0 3 0 7 0 1 0 0 0 4 0"/>
<path class=b1 d="M1142 330l3 0 4 0 3 0 19 1 23 0"/>
<path class=b3 d="M1081 331l32 0 7 0 11 0 2-1 3 0 1 0 0 1 2 0 1-1 9 0 0 1 6-1 8 0 9 0 20 0"/>
<path class=b2 d="M1134 330l3 0 9 1 2-1 3 1 1 0 3-1 3 0 5 1 1 0 0 0 25-1"/>
<path class=b4 d="M1019 330l73 1 19-1 0 0 2 1 5 0 3 0 7-1 0 0 3 1 2-1 1 0 6 0 3 1 2-1 3 1 5 0 3-1 4 0 2 1 1 0 2 0 8 0 6 0 18 0"/>
<path class=b2 d="M1075 330l17 0 22-1 17 1 2-1 1 0 3 0 2 0 4 0 0 0 2 0 0 1 4-1 10 0 4 0 1 0 7 0 2 1 18 0 0 0 1 0 2-1"/>
<path class=b3 d="M1111 330l19 0 3 0 6-1 12 0 1 0 1 0 2 0 3 1 4 0 2 0 7-1 1 1 8 0"/>
<path class=b4 d="M1072 330l14 0 16-1 11 0 0 1 3-1 0 1 2-1 19 0 0 1 6-1 3 0 3 1 2 0 8-1 8 0 2 0"/>
<path class=b0 d="M1143 330l16-1 4 0 32 2"/>
<path class=b1 d="M1151 329l17 0 30 0 3 1"/>
<path class=b0 d="M1153 327l14 0"/>
<path class=b3 d="M1077 328l11 0 21-1 4 1 7 0 8 0 3 0 0 0 2 0 6 0 0 0 3 0 0 0 3 0 3 0 4 0 3 0 10 0 24 0 7 0"/>
<path class=b4 d="M1070 329l11-1 30 0 0 1 2 0 3-2 0 1 14 0 1 0 8-1 3 1 6-1 3 0 4 1 1 0 4 0 3 0 4 0 11-1"/>
<path class=b2 d="M1092 328l19 0 3 0 7 0 9 0 3 1 1 0 2 0 3-1 9 0 7-1 1 1 4 0"/>
<path class=b1 d="M1114 328l35 0 9 0 4 0 6 0 33-1"/>
<path class=b4 d="M1070 327l41-1 2 0 0 0 0 0 15 0 5 1 3-1 0 1 1-1 0 0 3 0 0 1 5 0 10-1 5 1 20 0"/>
<path class=b3 d="M1092 326l0 1 19-1 17 0 2 0 1 0 0 0 2 1 0 0 7-1 5 0 0 1 1 0 12-1 1 0 1 1 2-1 3 0 2 0 4 0 7 1"/>
<path class=b2 d="M1111 326l7 0 13 0 3 0 22 0 0 0 7 0 1 0 4 0 0 1 7 0 19 0 0 0"/>
<path class=b0 d="M1164 327l31 0"/>
<path class=b1 d="M1137 326l9 1 6 0 7-1 14 1 4 0 2 0"/>
<path class=b0 d="M1159 324l30 1 8 0"/>
<path class=b3 d="M1075 325l34 1 4-1 18 0 2 0 6 0 1 0 0 0 8-1 1 1 2 0 0 0 4-1 1 1 2-1 1 2 3-1 0 0 1-1 0 2 2 0 7 0 7 0 16 0 1-1"/>
<path class=b1 d="M1133 325l6-1 3 1 52 0 0 1 3 0"/>
<path class=b4 d="M1072 326l9-1 32 0 0 0 1 1 2-2 17 1 4 1 0 0 6-1 10-1 0 1 6 0 4 0 2 0 4 0"/>
<path class=b2 d="M1070 324l2 1 42 1 22-1 13 0 11-1 5 1 14 1 4-1 8 1"/>
<path class=b0 d="M1137 323l34 1 53-1"/>
<path class=b4 d="M1081 324l5 0 27-1 23 1 1 0 2 0 4-1 2 0 13 1 1 0 4-1 8 0 23 0 13 0"/>
<path class=b3 d="M1098 323l13 1 0 0 19 0 7 0 3-1 0 0 5 1 4 0 2-1 2 1 7-1 0 1 7-1 6 0 1 1 1 0 25 0 20 0"/>
<path class=b2 d="M1105 324l9-1 0 1 9 0 5 0 2 0 1 0 0 0 3 0 17-1 8 0 13 0 5 1 18-1 2 1 3-1"/>
<path class=b1 d="M1111 324l5 0 32 0 11 0 9-1 4 1 16 0 32-1"/>
<path class=b2 d="M1111 322l2 1 10-1 7 0 0 0 1 0 3 0 3 0 2 0 0 0 4 1 9-1 10 0 3 0 10 1 19-1"/>
<path class=b3 d="M1072 322l39 1 9-1 11 0 2 0 3 1 3-1 0 0 3 0 1 0 5 0 1 0 4 0 2 0 8 0 0 1 15-1 16 1 9-1 11 0"/>
<path class=b4 d="M1104 322l9 1 7 0 11 0 2-1 0 1 4-1 8 1 4-1 9 0 1 1 5-1 0 0 3 0 1 0 27 1"/>
<path class=b0 d="M1158 322l0 0"/>
<path class=b1 d="M1111 322l19 0 6 1 13 0 4-1 42 0"/>
<path class=b1 d="M1111 321l2 0 18 0 18 1 9-1 0 1 7-1 12 0 20 0"/>
<path class=b4 d="M1070 321l9-1 34 1 0 0 1 0 0 0 22 0 0 0 3 0 1 0 3 0 2 0 0 0 10 1 5-2 2 0 13 2"/>
<path class=b3 d="M1131 320l2 1 4 1 3-1 3 0 2-1 3 1 0 0 3 0 1 0 3 0 4 0 0 0 1-1 3 1 1-1 13 0 11 0 8 1"/>
<path class=b2 d="M1088 321l4 1 19-1 0 0 9 0 19 0 4 0 6 0 9 1 1-1 4 0 2 0 8 1 5 0"/>
<path class=b4 d="M1094 319l11 1 8-1 0 0 3 1 0 0 0 0 4 0 10 0 3-1 1 1 3 0 8-1 1 0 3 1 6 0 8 0 9 0 1 0 21 0"/>
<path class=b0 d="M1152 321l1-1 3-1 38 0 0 1"/>
<path class=b1 d="M1133 320l4-1 26 0 10 1 8 0 6-1 9 1 10-1"/>
<path class=b2 d="M1090 320l24 0 0 0 14 0 3 0 2 0 4 0 2-1 4 1 5 0 3 0 5-1 3 0 25 0"/>
<path class=b3 d="M1096 320l18 0 4-1 12 1 12 0 9-1 4 0 5 0 7 0 0 1 2 0 5-1 3 0 3 1"/>
<path class=b1 d="M1114 319l17-1 8 1 1-1 3 0 3 1 13-1 5 0 0 0"/>
<path class=b3 d="M1111 318l19 0 0 0 0 0 3 0 3 0 4 0 0 0 5 0 4 0 0 1 3-1 1 1 10-1 1 0 4 1 9-1 1 0 18 0 1 0"/>
<path class=b4 d="M1111 318l2 0 8 0 10 0 5 1 0 0 3-1 6 0 0 1 3-1 7 0 0 0 7 0 0 0 2 1 1-1 3 0 26 1"/>
<path class=b2 d="M1111 318l9 0 11 0 2 0 18 1 2-1 5 1 5-1 0 0 9 1"/>
<path class=b0 d="M1159 318l8 0 37 1"/>
<path class=b0 d="M1136 316l62 2"/>
<path class=b2 d="M1037 317l74-1 0 0 0 1 31 0 0 0 1 0 0 1 5-1 7 1 1-2 6 0 3 1 3 1 3-1 2 0 5 0 17 1"/>
<path class=b4 d="M1079 317l34 0 0 0 1 0 0 0 2 0 17 0 0 0 3-1 1 0 8 1 1 0 3 0 0 0 2-1 0 2 2-1 5 0 1 0 3 0 5 0 4 0 36 1"/>
<path class=b1 d="M1133 317l1-1 15 2 14-1 4 0 73 0"/>
<path class=b3 d="M1072 318l41-1 3 0 2 0 22 0 13-1 2 1 1-1 3 1 0 0 8 1"/>
<path class=b4 d="M1072 316l0 0 3-1 17 1 21-1 0 0 0 0 1 0 4 1 2 0 8 0 3-1 2 0 4 1 2-1 3 0 7 0 4 0 0 0 11 0 3 1 10-1 2 1 1-1 15 0"/>
<path class=b2 d="M1090 316l21-1 3 1 17 0 0 0 6 0 2-1 3 0 0 0 9 0 45 0"/>
<path class=b1 d="M1139 315l6 1 14-1 35 1 6-1"/>
<path class=b3 d="M1114 316l9 0 5 0 0 0 3-1 0 1 6 0 9 0 5-1 0 1 1-1 3 0 0 1 5 0 39-1"/>
<path class=b0 d="M1152 316l7-1 35 0 20 1"/>
<path class=b3 d="M1098 314l16-1 0 0 2 0 9 0 5 1 0 0 7 0 12 0 6 0 3 0 2-1 0 1 3-1 0 1 1 0 7 0 2-1 4 1 10 1"/>
<path class=b2 d="M1104 314l7 1 19-1 4 0 3 0 6-1 6 1 6-1 1 1 2 0 4-1 0 2 2-1"/>
<path class=b4 d="M1086 314l25 0 3 0 4 0 15 0 0 0 3 0 4-1 6 1 0 0 5 0 12 0 9 0 5-1"/>
<path class=b1 d="M1098 314l15-1 18 1 5 0 3 0 9 0 12 0 7 0 5 0 12 1 3-2 24 1"/>
<path class=b0 d="M1136 312l9 0 14 1 4 1 2-2 10 1 40-1"/>
<path class=b4 d="M1111 312l0 0 3 0 16 0 3 0 1 0 3 0 0 0 2 0 3 1 1-1 2 0 0 1 1-1 3 1 3 0 7-1 5 0 4 0 3 0 2 0 1 0 3 1"/>
<path class=b3 d="M1111 312l2 0 12 0 0 1 6-1 0 0 6 0 6 0 13 0 2 0 5 1 2-1 3 0 1 0 4 1"/>
<path class=b1 d="M1133 312l1 0 8 1 7-1"/>
<path class=b2 d="M1075 313l38-1 18 0 2 0 16 0 4 1 5-1 1 1 1-1 7 0 0 1 20-1"/>
<path class=b0 d="M1148 311l31 0"/>
<path class=b4 d="M1092 311l19 0 2-1 1 2 16 0 1-1 3 0 2 1 3-2 1 1 3 1 10-1 0 0 9-1 1 1 0 1 1-1 3 1 2 0 11-1 6 0"/>
<path class=b2 d="M1111 311l19 1 1-1 0 0 6 0 9 0 5 0 1 0 0 1 6-1 6-1 5 1 3 0 37 1"/>
<path class=b1 d="M1133 311l6 0 4 0 0 1 6-1 2 0 43 0"/>
<path class=b3 d="M1111 310l7 1 15 0 1 0 5 0 1 0 5 1 0 0 6-1 4 0 3-1 17 1 6 1 0 0 3-1 5 0"/>
<path class=b3 d="M1113 310l10-1 5 1 0 0 14-1 3 1 0 0 6 0 8-1 3 0 1 1 1 0 7-1 3 1 4 0 1 0 4-1 5 0"/>
<path class=b2 d="M1072 310l22 0 17-1 12 1 7 0 4-1 3 0 5 0 4 1 3-1 4 0 7 1 11-1 3 0 11 1 1-1 8 1"/>
<path class=b4 d="M1070 309l5 0 27 1 11 0 3 0 15-1 0 0 6 0 0 1 3 0 5-1 3 1 10 0 1-1 1 1 3-1 2 1 3-1 4 1"/>
<path class=b1 d="M1143 310l6 0 16-1 7 0 6 1 38-1"/>
<path class=b3 d="M1113 307l1 2 20-1 5 0 4 0 0 0 5 1 4-1 6 0 1 1 1-2 4 1 3 1 7-2 6 1 7-1 11 1"/>
<path class=b0 d="M1139 308l3 1 20-1 1-1 0 0 11 1"/>
<path class=b2 d="M1090 308l4 0 17 1 19-1 1 1 2 0 3 0 3-1 6 1 1-1 5 0 4 0 3 0 10 0 18 1"/>
<path class=b1 d="M1111 309l41-1 8 0 34 0"/>
<path class=b4 d="M1094 307l19 0 1 1 0 0 0 0 6 1 10-1 0 0 3 0 16 0 3 0 3 0 3 0 5 0 4 0 0 1 7-1 13 1"/>
<path class=b1 d="M1116 307l15 0 8 0 9-1 8 0 7 1 4 0"/>
<path class=b2 d="M1111 306l7 0 13 1 2 0 1-1 8 0 1 1 3-1 5 1 5-1 3 0 26 0 9 0 1 0"/>
<path class=b3 d="M1118 307l12-1 0 0 4 0 2 0 1 1 0 0 2-1 0 1 6-1 3 1 10-1 1 0 0 0 1 1 5 0 4-1 17 1 9 0"/>
<path class=b0 d="M1173 306l21 1 26 0"/>
<path class=b4 d="M1111 306l0 0 2 1 1-1 14 0 3 0 6 0 5 0 0 1 4-1 0 1 6-1 8 0 4 0 1 0 2 0 28 0"/>
<path class=b4 d="M1070 306l41-1 2-1 0 2 1-1 0 0 0 1 11 0 9-1 3-1 2 0 1 1 9-1 3 1 17 1 2-1 2 0 2 0 3 0 3 1"/>
<path class=b2 d="M1090 306l21-1 2 0 18 1 9 0 5-1 6 1 16-1 10 1 3-1 6 0 18 0"/>
<path class=b1 d="M1134 305l5 0 55 0 4-1"/>
<path class=b0 d="M1116 304l23 1 4-1 16 1 6 0 15 0 60 0"/>
<path class=b3 d="M1111 305l5 1 15-2 0 1 6 0 6 0 2 0 0 0 3 0 1 0 9-1 1 0 0 1 4 0 2 0 6-1 0 1"/>
<path class=b4 d="M1113 303l1 0 4 0 13 0 2 1 1 0 3-1 3 1 3-1 2 1 4-1 2 0 7 1 4 0 5 0 2-1 4 1 6 0 6-1 14 0"/>
<path class=b3 d="M1111 303l17 1 5 0 0 0 4-1 2 0 0 1 3 0 4-1 3 1 4 0 2-1 0 1 3 0 6 0 3-1 0 1 27-1 1 1"/>
<path class=b0 d="M1125 304l34-1 49 1 11 0"/>
<path class=b1 d="M1077 303l117 1"/>
<path class=b2 d="M1083 304l30-1 15 1 2 0 1-1 12 1 2-1 4 0 6 1 5 0 2 0 11 0 1 0 10-1 10 0"/>
<path class=b2 d="M1111 302l19 0 3 1 0 0 3 0 4 0 6-1 7 1 6-1 1 1 3-1 0 0 1 0 0 1 3-1 18 0 3 0 20 0"/>
<path class=b0 d="M1158 303l91-1"/>
<path class=b1 d="M1121 302l25 1 13 0 16-1 19 0 1 0"/>
<path class=b4 d="M1090 303l21-1 19 0 1 0 5 1 7 0 5-1 4 1 1-1 16 0 2 1"/>
<path class=b3 d="M1113 302l1 1 2-1 14 0 3 0 0 1 1-1 3 0 12 0 2 1 4-1 1 0 2 1 2-1 2 1 1 0 1-1 4 0 3 0 14 0 10 1 5 0 11-1"/>
<path class=b3 d="M1116 301l0 0 18 0 2 1 9-1 0 1 6-2 1 0 1 1 5 0 1 0 4 0 0 0 5 0 16 0 8 0 2 0 0 0 1 0 2 0"/>
<path class=b2 d="M1111 301l5 0 17 0 3-1 3 1 7 1 9-1 4 0 16 0 20 0"/>
<path class=b1 d="M1111 300l31 1 18 0 11 0 17 0"/>
<path class=b4 d="M1111 300l2 1 0 0 1 0 19 0 6 0 0 0 1-1 0 1 3 0 0 0 3-1 5 1 2 0 2 0 3-1 6 0 4 1 13 1 0 0 13-2"/>
<path class=b0 d="M1137 301l18 0 3 0 4 0"/>
<path class=b3 d="M1102 299l3 1 25 0 1 0 0 0 12-1 0 1 6-1 9 0 1 0 4 0 0 1 1 0 4-1 3 1 2-1 1 1 21 0 7 0 3 0"/>
<path class=b4 d="M1113 299l1 0 11 1 6-1 2 0 15 0 1 1 2 0 2 0 2-1 0 1 5 0 4 0 0 0 3-1 4 1 6-1 3 1 7-1"/>
<path class=b2 d="M1113 299l12 0 6 1 5-1 3 0 1 0 23 1 10 0 5 0 1-1 14 0 2 0"/>
<path class=b1 d="M1128 300l2 0 22-1 0 0 7 1 10-1 0 0"/>
<path class=b0 d="M1113 300l84 0"/>
<path class=b2 d="M1111 299l17-1 3 0 8 1 4-2 3 0 0 1 0 0 5 0 9 0 3-1 10 0 4 1 1 0 7 0 11-1"/>
<path class=b3 d="M1104 298l24 0 9 0 2 0 12 0 0 0 7 0 1 0 0 0 1 1 2 0 1-1 5 0 3 0 1 1 23-2 0 1 28 0"/>
<path class=b4 d="M1111 298l0 0 3-1 0 1 7 0 7 0 6 0 6 0 2 0 9 0 5 0 24 0 14 1"/>
<path class=b1 d="M1111 297l20 1 6 0 22-1 0 2 5-1 5-1 2 1 22-1"/>
<path class=b0 d="M1139 298l25 0 31 0 38 0"/>
<path class=b0 d="M1128 296l21 0"/>
<path class=b2 d="M1113 297l20 0 6 0 4-1 9 0 3 0 0 1 10-1 2 1 4 0 25-1"/>
<path class=b3 d="M1111 297l14-1 6 0 8 1 4-1 2 0 8 1 5-1 0 1 4-1 3 0 15 1 3 0 10-1 8 0"/>
<path class=b1 d="M1111 297l19-1 3 0 13 1 3-1 9 1 4 0 3-1 3 1 10 0 1 0"/>
<path class=b4 d="M1130 296l1 1 0 0 2-1 1 0 0 1 2-1 1 1 3-1 0 1 2-1 3 0 4 0 2 1 2 0 2-1 4 1 1-1 7 0 20 1 7 0"/>
<path class=b4 d="M1111 294l0 1 2 1 7-1 11 0 0 0 2 0 19 0 0 1 0 0 3-2 4 2 1-1 3 0 25 0"/>
<path class=b3 d="M1111 295l2 0 1 0 31 0 0 0 1 0 2 0 7 1 3-1 5 0 2 0 3 0 1 1 2-1 0 0 2 0 12 0 7 0 6 0 5 1 1 0 1-1 7 0"/>
<path class=b1 d="M1131 295l5 0 3 0 1 0 44 1 8-1"/>
<path class=b0 d="M1159 295l35 0 1 0"/>
<path class=b2 d="M1123 296l10-1 1 1 3-1 0 0 0 1 2-1 4 0 6 0 15 0 5 0 12 0 14 0"/>
<path class=b2 d="M1128 294l2 0 9-1 3 1 1 0 0 0 15 0 2 0 2 0 2 0 3-1 5 1 7 0 15-1 1 1 5 0 20-1"/>
<path class=b3 d="M1113 294l0 0 20-1 3 1 1-1 3 1 3-1 0 1 2-1 0 0 1 1 5-1 0 1 0 0 12 0 10 0 6 0 15 0 0 0 5 0 0 0"/>
<path class=b1 d="M1152 293l0 1 12-1 9 0 23 1 9-1 0 1"/>
<path class=b4 d="M1079 293l34 1 7 0 6-1 4 1 3 0 6 0 12 0 7 0 1 0 8 0 11 0 9-1"/>
<path class=b0 d="M1178 294l18-1"/>
<path class=b4 d="M1113 293l18-1 0 1 2 0 1-1 2 0 0 0 1 0 3 0 2 0 4 1 2-1 1 0 7 0 4 0 2 0 1 1 1 0 4 0 3-1 0 1 6-1 15 0 9 0"/>
<path class=b2 d="M1111 293l17-1 0 0 5 1 6-1 0 1 12-1 1 0 3 1 0 0 3 0 1-1 10 1 2-1 12 0 0 0 9 1 2 0"/>
<path class=b3 d="M1128 292l9 1 3-1 3 1 5-1 1 0 9 0 1 1 0 0 3-1 1 1 1-1 5 0 25 1 1-1"/>
<path class=b1 d="M1131 293l48 0"/>
<path class=b3 d="M1092 291l39 0 2 0 0 1 4 0 3-2 0 1 2-1 3 1 3 1 1-2 6 1 4-1 0 1 1-1 3 1 2-1 0 1 4 0 2 0 3 1 10-1 5-1 6 1 19 0"/>
<path class=b2 d="M1113 291l24 0 36-1 16 1 6-1"/>
<path class=b4 d="M1111 290l0 1 0 1 2-2 1 1 17 0 0 0 2 1 3-2 7 1 2-1 6 1 2 0 2 0 3 0 5 0 6 0 8 0 17 0"/>
<path class=b1 d="M1143 291l12 0 1-1 18 2 13-1 7-1 0 1 1 0 17 0"/>
<path class=b0 d="M1146 291l6 1 66 0"/>
<path class=b2 d="M1130 290l19-1 6 1 4 0 1-1 0 1 7 0 8 0 2-1 8 0 11 0 4 0"/>
<path class=b0 d="M1169 290l33-1"/>
<path class=b3 d="M1137 289l6 0 8 0 1 1 3-1 3 1 1 0 6 0 6-1 4 0 3 0 5 1 1-1 10 0 0 0 1 0 2 1"/>
<path class=b4 d="M1105 289l6 1 17 0 2 0 3-1 0 0 0 0 6 0 4 0 2 1 0 0 4-1 4 0 6 1 4-1 0 1 5-1 7 0 2 0 17 0 21 0"/>
<path class=b1 d="M1160 289l0 0 0 1 3-1 1 0 3 0 19 0 14 0"/>
<path class=b1 d="M1131 288l5 0 10 1 2-2 3 0 22 1 8 0 33 0 0 1 1-2"/>
<path class=b2 d="M1133 287l15 1 4-1 0 0 6 1 1 0 4 0 20 0 3-1 5 1 1 0 3 1"/>
<path class=b3 d="M1111 288l17 0 3 0 5-1 0 1 4-1 2 2 1 0 12-1 0 0 3 0 6 1 1-1 7 0 0 0 1-1 8 1 2 0 4 0"/>
<path class=b4 d="M1111 289l2-1 1 0 16 0 0 0 1 0 2 0 3 0 4 0 2 0 3 0 1 1 2-2 1 1 2 0 7 0 0 0 0 0 1-1"/>
<path class=b2 d="M1111 287l17-1 3 0 6 1 5 0 1 0 9-1 7 0 3 0 1 1 2-1 0 1 10 0 3-1 0 1 17 0 7 0 13 0"/>
<path class=b3 d="M1113 286l17 0 1 0 5 1 4 0 3 0 17-1 0 0 3 0 5 1 6-1 20 1 0 0 0 0 5 0 0 0 1 0"/>
<path class=b4 d="M1111 286l0 1 19-1 1 0 5 1 1-1 0 0 0 1 14 0 1-1 6 1 1 0 4 0 1-1 4 0 1 0 2 1"/>
<path class=b1 d="M1111 286l28 0 6 1 28-1 1 1 21-1 0 1"/>
<path class=b1 d="M1133 284l12 2 34-1 15 0"/>
<path class=b0 d="M1146 285l2 1 12-2 34 1 20 0 26 0"/>
<path class=b4 d="M1111 285l0 0 7 0 15 0 1-1 0 1 2 0 6 0 0 0 6-1 1 1 10-1 0 1 0 0 4 0 4 0 1 0 0 0 3 0 24-1 2 1 3-1"/>
<path class=b2 d="M1113 284l1 1 17-1 2 1 16 0 2 0 1 0 1 1 9-2 1 1 1-1 3 1 1 0 4 0 7 0 1 0 15 0 7 0 1 0"/>
<path class=b3 d="M1113 285l38 0 4 0 8 0 1 0 7-1 2 0 0 1 7 0 1 1"/>
<path class=b1 d="M1140 284l2-1 6 1 23-1"/>
<path class=b2 d="M1130 284l1-1 0 0 0 1 0 0 12-1 5 0 1 1 0 0 9 0 5-1 10 0 14 1 2-2"/>
<path class=b3 d="M1128 284l5-1 3 0 1 1 5 0 1-1 2 1 6 0 0 0 4 0 5 0 4 0 3 0 1 0 1-1 0 1 3 0 5 0 1-1 16 1 11 0"/>
<path class=b4 d="M1104 283l7 0 0 0 0 0 9 1 10 0 10 0 5 0 4 0 2-2 2 1 5 0 0 1 0 0 5-1 11 1 20-1 0 0 3 0"/>
<path class=b0 d="M1134 283l14 0"/>
<path class=b3 d="M1121 282l12-1 0 1 4 0 12-1 2 1 2-1 2 1 0 0 0 0 4-1 0 1 3 0 1 0 2 0 2-1 4 1 3-1 0 0 0 1 1 0 4 0 15-1 0 0 0 1 22-1"/>
<path class=b1 d="M1131 282l14 0 8 0 7 0 7-1 18 0 9 0 2 0 19 1"/>
<path class=b4 d="M1128 282l0 0 6 0 5 0 3 0 1-1 3 1 13 0 1 0 5 0 0 0 8 0 23 0 19-1"/>
<path class=b2 d="M1113 281l1 1 16 0 3 0 18 0 5 0 2 0 1 0 28-1 8 1 0 0"/>
<path class=b1 d="M1158 280l11 1 5-1 3 1 3 0 27-1"/>
<path class=b4 d="M1111 280l0 0 0 1 2-1 0 0 0 1 17-1 1 0 3 1 9-1 9 0 1 0 6 0 0 1 3-1 1 1 1 0 5 0 12-1 14 1"/>
<path class=b2 d="M1130 280l1 0 2 0 1 0 0 1 5 0 4 0 6 0 13-1 0 0 1 0 0 0 6 1 29 0"/>
<path class=b0 d="M1198 280l42 1"/>
<path class=b3 d="M1130 280l1 0 8 0 0 0 0 0 6 0 4 0 2 0 2 1 5-1 0 0 6 0 1 0 2 0 0 0 25 0 3 1 4-1"/>
<path class=b2 d="M1142 279l1-1 2 1 4 0 6 1 4-1 0 1 15-1 1 0 2 0 14 0 5-1 0 1"/>
<path class=b4 d="M1111 279l2 0 0 0 18 0 3 0 2 0 4 0 5 0 1-1 3 1 3 1 3-1 3 0 7 0 2 0 4 0 7 0 1 1 36 0"/>
<path class=b3 d="M1111 279l0 0 25-1 3 1 1 0 9 0 9 0 1 0 3 0 2 0 4-1 0 2 4 0 1-1 5 0 1 0 19 0 4 0 2 0 10 0"/>
<path class=b1 d="M1145 279l17-1 6 0 7 1 4 0 17-1 4 0"/>
<path class=b0 d="M1164 277l20 2"/>
<path class=b3 d="M1130 278l3 0 0 0 4-1 6 0 2 0 3 1 10 0 1 0 5-1 7 0 9 0 0 1"/>
<path class=b1 d="M1143 277l20 0 2 1 8-1 11 1 10 0"/>
<path class=b2 d="M1113 278l20 0 9 0 1-1 0 1 5 0 4 0 10 0 12-1 1 0 11 0 3 0 0 1 5-1 0 1 20-1"/>
<path class=b4 d="M1128 278l0 0 3-1 0 1 0 0 2-1 4 1 2 0 1 0 2 0 1 0 3-1 2 0 1 0 0 1 10-1 10 0 4 1 1 0 7-1 13 0 0 1 6-1 44 1"/>
<path class=b4 d="M1111 276l17 0 3 0 6 0 2 0 7 0 2 0 10 0 0 0 0 0 4 0 2 0 7 1 3-1 5 1 2-1 10 0 6 0"/>
<path class=b0 d="M1172 276l28 0 17 0"/>
<path class=b2 d="M1111 276l0 1 0 0 2-1 12 0 3 0 6 0 11 1 13-1 1 1 14 0 12-1 9 0 1 0 0 0 5 0"/>
<path class=b3 d="M1128 276l3 0 3 0 0 0 2 0 0 1 9-1 0 0 7 0 1 0 9 0 0 0 1 0 0 1 15 0 2-1 15 0 10 0 9 1 18-1"/>
<path class=b1 d="M1168 276l0 0 9 0"/>
<path class=b4 d="M1113 274l20 1 6-1 1 1 3 0 0 0 2 0 8 0 7 0 4-1 8 1 3 0 21 0"/>
<path class=b1 d="M1111 275l7 0 40 0 9 0 5 0 22 0 12 0"/>
<path class=b3 d="M1113 275l1 0 14-1 3 1 0 0 5-1 1 1 0 0 8 0 7-1 7 0 0 0 4 0 1 1 1 0 2-1 1 2 1-1 3-1 19 0 0 1 12 0 37 1"/>
<path class=b2 d="M1111 275l22 0 0 1 7-1 6 0 2 0 4 0 8 0 13-1 2 1 4 0 16-1 1 0 18 1"/>
<path class=b0 d="M1162 274l38 2 40-1"/>
<path class=b1 d="M1134 274l15 0 9 0 36 0 14-1"/>
<path class=b4 d="M1092 273l36 1 3 0 11-1 1 0 0 1 0 0 3-1 5 0 1 1 7 0 4 0 1-1 8 1 6 0 17-1 3 0"/>
<path class=b2 d="M1126 273l2 1 3-1 8 0 3 0 0 1 4-1 9 1 12 0 1 0 3 0 9-1 3 0 18 1 11-1"/>
<path class=b3 d="M1139 274l6-1 0 1 0 0 3-1 3 1 8-1 0 1 0 0 4-1 1 0 3 0 0 0 1 0 1 0 8 0 2 1 1-1 8 1 7-1 9 1 0 0"/>
<path class=b2 d="M1136 272l0 1 15-1 9 0 14 0 20 0 0 0 1 0 6 0 14 0"/>
<path class=b1 d="M1158 272l16 0 6 0 6 0 11 0 17 0"/>
<path class=b0 d="M1140 272l19 0 10 2 45-2"/>
<path class=b3 d="M1130 272l0 0 3-1 9 1 3 0 8 0 2 0 0 0 4 0 1 0 14 0 4 0 16 0 0 1 0 0 5-1 4 0 6-1 11 1"/>
<path class=b4 d="M1100 272l11 0 0 0 0 1 2-1 1 0 0 0 16 0 7-1 0 1 3 1 15-1 3 0 0 1 2 0 3-1 10 1 5-1 3 0 2 0 15 0 44 1"/>
<path class=b1 d="M1111 271l19-1 4 0 14 0 3 1 27 0"/>
<path class=b2 d="M1133 271l22 0 7-1 0 0 2 0 4 0 0 1 3 0 9 0 18 0"/>
<path class=b4 d="M1083 271l28-1 17 0 2 0 1 0 2 0 3 0 6 0 1 0 0 0 0 1 2-1 1 0 0 0 16 0 1 1 11-1 0 1 21-1 0 1 0 0 10 0 17 0"/>
<path class=b3 d="M1111 271l2-1 18 1 5 0 3 0 19-1 0 0 6 1 5-1 2 0 2 1 1 0 6-1 6 1 5 0 8-1 0 0 41 1"/>
<path class=b0 d="M1194 271l7 0 21 0"/>
<path class=b3 d="M1131 269l0 0 6 0 8 0 4 0 3 0 6 1 0 0 9 0 7-1 0 0 1 0 13 1 1-1 6 0 51 1"/>
<path class=b2 d="M1111 269l25 0 1 0 0 1 2-1 1 0 2 0 16 0 1 1 6 0 0 0 8-1 4 1 2-1 16 0 2 1 9 0 7-1 4 1"/>
<path class=b4 d="M1111 269l2 1 1 0 17-1 9 0 5 0 3-1 10 1 5 0 5 0 1-1 23 1 5 0 19 0"/>
<path class=b0 d="M1183 269l57 0"/>
<path class=b1 d="M1133 269l0 0 18 0 12 0 9 1 22-1 4 1 12-2 36 1"/>
<path class=b3 d="M1113 268l17 0 4 0 3-1 2 1 10-1 0 0 6 0 4 1 6 0 2 0 0 0 1 0 7-1 3 1 16 0 1-1 0 1 6-1 5 1 9 0 8 0 21 0"/>
<path class=b1 d="M1113 267l29 0"/>
<path class=b0 d="M1183 268l4 0 10 0"/>
<path class=b2 d="M1137 267l5 1 4 0 14 0 3 0 8 0 7 0 7-1 9 1 4 0 7 0 3 0 22 0"/>
<path class=b4 d="M1111 268l0 0 7 0 12 0 0 0 3 0 1 0 5-1 0 1 9 0 5 0 6 0 3 0 0 0 1 0 9 0 7-1 4 1 6-1"/>
<path class=b4 d="M1114 266l4 1 12-1 1 1 2-1 3 1 1-1 6 0 5 0 10 1 0 0 1-1 1 0 5 1 2 0 4-1 4 1 6-1 13 0 7 0"/>
<path class=b3 d="M1128 266l2 0 1 1 0 0 2-1 1 1 5 0 14 0 6 0 5 0 5 0 3-1 1 1 0 0 13 0 8-1 5 1 4-1 39 0"/>
<path class=b1 d="M1146 267l12-1 4 0 1 1 1-1 7 0 2 1 4-1"/>
<path class=b2 d="M1125 267l8 0 3 0 9 0 3-1 11 0 3 1 32 0 1-1 1 0 3 1 0 0 16 0"/>
<path class=b1 d="M1136 266l15-1 5 0 17 1 21-1 3 1 2-1 15 0 3 1 3 0 7-1"/>
<path class=b2 d="M1136 266l4-1 6 1 3-1 35 0 13 0"/>
<path class=b0 d="M1198 265l7 0 25 1 10-1 11 1"/>
<path class=b4 d="M1111 266l20-1 2 0 0 0 7 1 8-1 5 1 0 0 5-1 1 0 0 0 5 0 7 0 0 0 14 0 17 1 15-1 19 1"/>
<path class=b3 d="M1111 265l2 1 23 0 1-1 3 0 2 0 9 0 2 1 6-1 4 0 4 0 12 0 15 0 4 0 4 1 4-1 4 1 0 0 9 0 25 0"/>
<path class=b2 d="M1128 264l2 0 1 0 6 0 0 0 9 0 5 0 1 0 11 0 14 0 10 0 7 0 11-1 10 1"/>
<path class=b3 d="M1133 264l6 0 23 0 0 0 2 0 3 0 0 0 1 0 7 0 2 0 18 0 1 0 1 0 0 0 5-1"/>
<path class=b1 d="M1131 264l20 0 4 0 10 0 9-1 21 1"/>
<path class=b4 d="M1098 264l18 0 4 0 10 0 3 0 1-1 9 1 2 0 0 0 0 0 7 0 6 0 2 0 3 0 0 0 4 0 2-1 0 1 3 0 3 0 2 0 3 0 23 0"/>
<path class=b0 d="M1111 264l111 0"/>
<path class=b1 d="M1164 263l5 0 26 0"/>
<path class=b0 d="M1162 263l78 0"/>
<path class=b3 d="M1128 262l3 1 2-1 7 1 6 0 5 0 7 0 0 0 4-1 3 0 0 1 4 0 3-1 2 1 3 0 8 0 0 0 9 0 0 0 1-1 1 1 19-1 7 0"/>
<path class=b2 d="M1113 263l15-1 3 1 0 0 5 0 7-1 2 1 1 0 12 0 1-1 0 1 12-1 1 1 2 0 6 0 14 0"/>
<path class=b4 d="M1111 262l0 1 17-1 8 1 1 0 0 0 3-1 2 1 6 0 1-1 4 1 7 0 13 0 4-1 3 1 18 0"/>
<path class=b3 d="M1111 261l2 0 0 1 24 0 12 0 6-2 3 0 5 1 5 0 1 1 4 0 1-1 25 1 5-1 0 1"/>
<path class=b2 d="M1111 262l22-1 3 0 10 0 13 1 3-1 0 0 10 0 8 0 26 1 8-1 4 1"/>
<path class=b0 d="M1171 261l23-1 48 1 0 0 12 0"/>
<path class=b4 d="M1113 262l18-2 3 1 2 0 1 0 0 1 2 0 6-1 1 0 3 0 0 1 4-1 6 0 4 0 1 0 1 0 4 0 11 0 1 0 2 1 3-1 1 0 2 1"/>
<path class=b1 d="M1111 262l26 0 6 0 55-1 7 0"/>
<path class=b3 d="M1130 260l1 0 2 0 10-1 2 0 3 1 3 0 7 0 5 0 8 0 3 0 3 0 4 0 3 0 10 0 1 0 5 0 9 0 2 0"/>
<path class=b2 d="M1133 260l1-1 8 1 13 0 3 0 6 0 1 0 8 0 4-1 2 0 15 1 1 0 0 0 13-1 6 1 9 0"/>
<path class=b1 d="M1139 260l23 0 3 0 19 0 16 0 1 0"/>
<path class=b4 d="M1111 260l17 0 2 0 1 0 2 0 6-1 1 1 0 0 3 0 10-1 6 1 0 0 4-1 11 1 7 0 5 0 23-1"/>
<path class=b0 d="M1177 260l53 0"/>
<path class=b4 d="M1114 258l14 0 2 0 7 0 0 0 2 1 1-1 2 0 3 0 1 0 0 0 5 1 4 0 1-1 2 0 1 1 0 0 1 0 7 0 1-1 5 1 11-1 3 1 8 0 1 0 2-1 6 1"/>
<path class=b1 d="M1111 258l32 1 15-1 21 1 17-1 10 1 36-1"/>
<path class=b2 d="M1111 258l20 0 14 1 6 0 8-1 8 0 5 0 16 1 9-1 4 1"/>
<path class=b0 d="M1198 258l16 1"/>
<path class=b3 d="M1113 258l23 1 1-1 9 0 6 0 8 0 0 0 7 0 25 1 2-1 0 0 0 1 5 0 45-1"/>
<path class=b2 d="M1111 258l5 0 15-1 6 1 2 0 4-1 0 1 0 0 8-1 2 0 6 0 1 0 3 1 0 0 21 0 10-1 48 1"/>
<path class=b0 d="M1113 257l101 0 32 1 31-1"/>
<path class=b4 d="M1111 257l20 0 0 1 0 0 6-1 0 0 2 0 9 0 10 0 4 0 3 0 4 0 0 0 2 1 7-1 10 0 17 0 47 0"/>
<path class=b3 d="M1113 258l17 0 1-1 3 0 0 1 2-1 3 0 12 1 8-1 4 0 0 1 1-1 4 0 5 0 6 0 4 0 14 0 0 1"/>
<path class=b1 d="M1149 257l9 0 6 0"/>
<path class=b2 d="M1130 256l1-1 2 1 19 1 4 0 7-1 5-1 20 1 1 0 10 0 6-1 35 0"/>
<path class=b4 d="M1111 256l0 0 17 0 8-1 0 1 4 0 2 0 1 0 10 0 6-1 4 1 4 0 4 0 1 0 1 1 4-1 1 1 17-1 2-1 10 1"/>
<path class=b1 d="M1159 257l1-1 35 1 10-1 11-1"/>
<path class=b3 d="M1128 256l6 0 6 0 2 0 1-1 5 1 1-1 4 1 25 0 2 0 5 0 9 0 0 1 4-1 0 0 2-1 4 2 3-1 1 1 2-1 4 0 3 0"/>
<path class=b1 d="M1172 255l1 0 10 0 13-1"/>
<path class=b3 d="M1130 254l1 1 21-1 6 0 0 1 1-1 6 1 4-1 9 0 16 0 6 0 14 1 0 0"/>
<path class=b0 d="M1181 255l14 1 59-2"/>
<path class=b4 d="M1111 255l2-1 17 0 3 0 1 0 8 0 3 1 3 0 1-1 4 0 7 0 2 0 2 1 9-1 2 0 19 0 3 0 5 1 3 0 4-1"/>
<path class=b2 d="M1111 254l19 0 1 1 11-1 3 1 13-1 1 1 3-1 7 0 5 1 1-1 3 0 7 0 6 1 3-1 1 0 0 0 2 0 6 1 3 0 34 0"/>
<path class=b3 d="M1131 253l6 1 3 0 5-1 6 0 0 0 7 0 1 0 0 0 4 0 1 0 1 0 2 0 7 0 1 0 3 0 10 0 6 0 7 1 1-1 2 1 1 0 2 0 42-1"/>
<path class=b4 d="M1094 253l19 0 20 0 0 0 4 0 5 0 6 0 3 0 1 1 4-1 7 0 2 1 4-1 5 0 3 0 26 0 3 0 9 0"/>
<path class=b0 d="M1173 253l7 0 42 1 6-1"/>
<path class=b1 d="M1153 253l6 0 10 0 2 0 1 0 17 0 11 1 42-1"/>
<path class=b2 d="M1143 253l5 0 23 0 7 0 5 0 11 0"/>
<path class=b2 d="M1111 252l20 0 0 0 0 1 2-1 3 0 7-1 6 1 29 0 18 0 15-1 7 1"/>
<path class=b4 d="M1111 253l17-1 2 0 0 0 3 0 1 0 0 0 3 1 5-1 3 0 3-1 0 1 12 0 2 0 1 1 4 0 2-1 26 0 6 0 23 0"/>
<path class=b1 d="M1140 252l29-1 18 1 7 1"/>
<path class=b3 d="M1134 252l2 0 3 1 6-1 13 0 4 0 1 0 10 0 2 0 8 0 4 0 2 0 7 0 3 1 1-2 2 1 2 1 1-2 2 2 1-1 6 0 2 1 2-1 22 0"/>
<path class=b2 d="M1111 251l7 0 12-1 29 1 4 0 2 0 7-1 24 1 7 0 4 0 5-1 10 1"/>
<path class=b0 d="M1131 250l27 1 45 0 12-1 25 0"/>
<path class=b3 d="M1128 250l8 0 9 1 1 0 6 0 7-1 0 0 1 0 2 1 3 0 3 0 5-1 1 1 3 0 1 0 16-1 1 0 0 1 4 0 15 0"/>
<path class=b4 d="M1131 250l2 1 6 0 1 0 2-1 6 1 5 0 0 0 7 0 5-1 8 0 0 1 1 0 17 0 3-1 0 0 10 1"/>
<path class=b1 d="M1158 250l10 1 29 0 7 0 11-1 15 1"/>
<path class=b0 d="M1158 249l98 1"/>
<path class=b1 d="M1131 249l24 0 13 0 3 0"/>
<path class=b2 d="M1111 249l25 1 3-1 4 1 16-1 4 0 2 0 2 1 1-1 3 1 1-1 12 1 7 0 7 0 2-1 3 0 3 0 1 1 10 0"/>
<path class=b4 d="M1113 249l18 0 0 1 5 0 1 0 2 0 4-1 8 0 2 0 2 0 4 0 0 0 6 1 3-1 4 0 0 1 31-1 1 0 4 1 9-1"/>
<path class=b3 d="M1130 250l10-1 2 1 3-1 8 0 5 1 5-1 2 0 8 1 5-1 2 1 1 0 0 0 3 0 31-1"/>
<path class=b4 d="M1111 248l17 0 0 0 3-1 2 2 12-1 7 0 0 0 6 0 1-1 1 1 21 0 10-1 3 1 1 0 0 0 3-1 16 1 1 0 7-1"/>
<path class=b2 d="M1128 248l6-1 9 1 3-1 3 1 14 0 10 1 5-2 7 1 17-1 6 0"/>
<path class=b0 d="M1139 247l61 1"/>
<path class=b1 d="M1137 247l21 0 10 1 18 0 8 0"/>
<path class=b3 d="M1137 248l5 0 7 0 0 1 3-2 6 1 2 0 0 0 3 0 4 0 0 0 1 0 4-1 1 1 11 0 1 0 9 0 1 0 6 1 1-1 19 0 15 0"/>
<path class=b2 d="M1130 246l7 0 11 1 20-1 6 1 0 0 6-1 1 0 2 1 5-1 6 0 0 1 2-1"/>
<path class=b3 d="M1130 246l1 1 2-1 27 0 0 1 3 0 0 0 4 0 8-1 20 0 8 0 37 0 0 0 4 0"/>
<path class=b1 d="M1136 246l1 1 21-1 7 1 6 0 8-1 6 1"/>
<path class=b4 d="M1111 247l2 0 3-1 0 1 5 0 7-1 3 0 5 1 6-1 6 0 1 1 4 0 5 0 1 0 0 0 1-1 5 0 2 0 0 1 4 0 6 0 11 0 9 0 3 0 37-1"/>
<path class=b1 d="M1153 245l7 0 7 0 1 0 9 0 42 0"/>
<path class=b4 d="M1111 246l2-1 18 1 3-1 0 0 2 0 3 0 3 1 3 0 11-2 3 0 3 1 1 1 9-1 1 1 6 0 6 0 11 0"/>
<path class=b0 d="M1145 245l27 0 22 1 48-2 0 1"/>
<path class=b3 d="M1137 246l16-1 5 0 1 1 4-1 2 0 13 0 7 1 10-1 1 0 1 1 12-2 6 1 5-1"/>
<path class=b2 d="M1139 245l0 0 4 1 12 0 12-1 1 1 0 0 4-1 5 1 7-1 3 0 11 0 1-1 3 2 2-1 8 1 2-1 0 1"/>
<path class=b0 d="M1148 244l94-1 0 0"/>
<path class=b1 d="M1178 244l17 0 5-1"/>
<path class=b3 d="M1113 243l33 0 5 0 8 0 1 0 5 1 0 0 4-1 16 1 2 0 7 0 0 0 3 0 2 0 1 0 2 0 6-1 0 1 3 0 2 0 3-1 2 0 1 1 1 0 24-1"/>
<path class=b4 d="M1128 244l0 0 2 0 4-1 14 1 0 0 4-1 1 0 6 1 1 0 2-1 2 0 0 1 5 0 2-1 1 1 13 0 19 0"/>
<path class=b2 d="M1131 244l2 0 25-1 1 0 4 1 1 0 7-1 23 1 16-1 2 0 7 1"/>
<path class=b1 d="M1128 242l18 0 37 0 2 0"/>
<path class=b0 d="M1199 242l21 1"/>
<path class=b3 d="M1134 243l2-1 1 0 8 1 13-1 0 1 9 0 0 0 13-1 4 0 1 1 9-1 2 0 0 0 4 0 6 0 2 1 7-1 22 1 3-1 2 0"/>
<path class=b4 d="M1111 243l2-1 15 0 3 0 2 1 1 0 5 0 3-1 6 0 4 0 8 0 3 0 5 0 12 0 1 0 13 0 10 1"/>
<path class=b2 d="M1130 242l3 0 4 0 0 1 9-1 13 0 0 1 3-1 13 0 4 1 6-1 7 0 2 0 2 0 3 1 0 0"/>
<path class=b2 d="M1137 241l28-1 8 1 2 0 9 0 18 0 10 0 3-1 0 1 2 0 1 0 12 0"/>
<path class=b1 d="M1158 240l7 0 2 1 12 0 4-1 12 0 0 0"/>
<path class=b0 d="M1195 240l9 0 14 1 28 0 52 0"/>
<path class=b3 d="M1131 241l3 0 8 0 13 1 1-1 2 0 1 0 1 0 3-1 1 0 4 1 0 0 9-1 2 1 15-1 3 1 1 0 1 0 1 0 14 0"/>
<path class=b4 d="M1128 240l0 1 2-1 3 1 1 0 3 1 2-1 1 0 19 1 1-1 7-1 0 1 5 0 3-1 0 1 19-1"/>
<path class=b3 d="M1131 240l3-1 2 0 1 0 5 0 0 1 18-1 7 0 1 1 0 0 4 0 6 0 6-1 16 0 0 1 5-1 0 1 9 0 3 0 2-1 10 0"/>
<path class=b4 d="M1113 240l17-1 0 0 3 0 1 0 3 0 2 1 4 0 2-1 7 1 1-1 6 0 0 0 25 1 10 0 5-1 3 1"/>
<path class=b2 d="M1111 240l2-1 35 0 10 0 0 0 6 0 1-1 2 1 1 1 7 0 2-1 6 0 22 1 18-1 28 0"/>
<path class=b1 d="M1128 239l39 1 79-1"/>
<path class=b0 d="M1151 239l47 1 6 0 18 0"/>
<path class=b2 d="M1145 238l3 0 1 0 2 0 7-1 0 1 1 0 4 0 38 0 22-1 0 0"/>
<path class=b3 d="M1137 238l12 0 0 0 3 0 1-1 0 0 5 1 4 0 0 0 1-1 1 1 0 0 4-1 1 0 2 1 0 0 2 0 4-1 12 1 5 0 0 0 2 0 0 0 1 0 1 0 0 0 5 0 1 0 3 0 1-1 7 1"/>
<path class=b4 d="M1113 238l26-1 0 1 3-1 0 1 0 0 3-1 13 1 7 0 6 0 6-1 18 1 18-1 7 1 0 0"/>
<path class=b1 d="M1194 238l28-1"/>
<path class=b0 d="M1199 236l15 1 26 1"/>
<path class=b4 d="M1113 237l5-1 10 0 2 0 1 1 3-1 0 1 2-1 13 0 11 0 9 1 4-1 0 0 1 1 4-1 1 0 16 0 19 0"/>
<path class=b1 d="M1136 236l58 0 3 1 43-1"/>
<path class=b3 d="M1131 236l0 1 5 0 1-1 12 1 3-1 3 0 4 0 1 1 2 0 17 0 9 0 6-1 1 1 1-1 3 0 1 0 0 1 1 0 5 0 4-1 27 0 3 0"/>
<path class=b2 d="M1111 237l19-1 1 1 24 0 17-1 22 0 4 1 4 0 6 0 1-1 5 0 5 0 23 0"/>
<path class=b4 d="M1131 234l6 0 9 0 5 1 4 1 9-2 3 1 4 1 2-2 0 1 18 0 3-1 0 1 1-1 3 1 2-1 6 2 11-2"/>
<path class=b1 d="M1130 235l33 0 5 0 10 0 21 0 16 0 11 0 12 0"/>
<path class=b0 d="M1155 235l53 0 11 0"/>
<path class=b2 d="M1142 235l1 0 0 0 15 1 1-1 3 0 1 0 1-1 11 0 19 1 1-1 3 1 4 0 3 0 12-1 4 1"/>
<path class=b3 d="M1114 234l32 0 2 0 10 0 1 1 0 0 14 0 6 0 18 0 3 1 9-1 5 0 1 0 4-1 13 1"/>
<path class=b3 d="M1118 233l15 1 10 0 2 0 4-1 14 0 9 1 0 0 1-1 4 1 6-1 0 1 0 0 14-1 0 0 0 0 4 1 3-1 1 0 1 1 3 0 5-1 8 1 3-1 10 1"/>
<path class=b0 d="M1183 234l32-1 27 0"/>
<path class=b1 d="M1133 234l41-1 25 1"/>
<path class=b2 d="M1158 234l6 0 9-1 4 0 9 1 30 0"/>
<path class=b4 d="M1111 233l0 1 2 0 17 0 0 0 1-1 3 1 2-1 1 0 3 1 2 0 9-1 8 0 0 1 21-1 0 1 7-1 5 0 3 1 11-1 0 1 15 0 33 0"/>
<path class=b0 d="M1203 232l5 1 73-1"/>
<path class=b1 d="M1159 232l27 1 8-1 1 0 4 0 1 0 6 0 34 0"/>
<path class=b4 d="M1128 232l3 1 5-1 10 0 0 0 9 0 1 0 2 0 0 0 2 0 4 0 0 0 10 0 0 0"/>
<path class=b2 d="M1128 232l3 0 2 0 0 0 3 0 1 0 2 0 4 0 3 0 19 0 10 0 4 1 5 0 2-1 15 1 4-1 13 0 3 1 6-1 14 0"/>
<path class=b3 d="M1130 232l9 0 21 0 2 1 9-1 7 0 2 1 14-1 0 0 1 0 1 0 5 0 2 0 17 0 22 0"/>
<path class=b3 d="M1111 232l40-1 1 1 7-1 1 0 2-1 1 0 1 1 9 0 19 0 3-1 2 1 4-1 3 1 0 0 2 0 2-1 8 1 5-1 8 1 8 0"/>
<path class=b1 d="M1158 230l0 1 1 0 4-1 59 1"/>
<path class=b4 d="M1111 230l0 1 19-1 4 0 19 1 2 0 3 0 1 0 3-1 1 1 1-1 4 0 0 0 6 1 5 0 18-1 4 1 10 0"/>
<path class=b0 d="M1199 231l41-1 0 1 4 0"/>
<path class=b2 d="M1130 230l10 0 12 1 13-1 12 0 0 1 1 0 21 0 4-1 4 1 7 0 11 0"/>
<path class=b2 d="M1149 229l14 0 6 1 18 0 9 0 5-1 0 0 1 1 8 0 12-1 19 1"/>
<path class=b3 d="M1128 229l5 1 6-1 7 0 2 0 1 0 9 0 1 0 5 0 3 0 0 1 2-1 4 0 13 1 8 0 7 0 3-1 6 0 5 0 2 1 4 0 11-1 14 0 10 0"/>
<path class=b0 d="M1168 229l70 1"/>
<path class=b1 d="M1151 229l24 0 19 1 50 0"/>
<path class=b4 d="M1113 229l15 1 11-1 0 1 12-1 5 0 3 0 3 1 3 0 3-1 6 1 3-1 15 1 2 0 2 0 1 0 17 0 2 0 1-1"/>
<path class=b0 d="M1201 227l4 0 39 1"/>
<path class=b4 d="M1133 229l1-1 0 0 0 0 0 0 6-1 5 1 1 0 6 1 6-2 1 1 3 1 1 0 20-1 1 0 1 0 0 0 9 0 1 0 2 0 1 0 1 0 2 0 3 0 36-1 0 1"/>
<path class=b1 d="M1173 228l7 0 23 0 25 0"/>
<path class=b3 d="M1128 228l20 0 31 0 0 0 4 0 11 0 8 0 8 0 3 0 3 0 8 0 1 0"/>
<path class=b2 d="M1130 228l33 0 1 0 7 0 9 0 11 0 3 0 1 0 0 0 3 0 3 0 4 0 2-1 1 1 0 0"/>
<path class=b4 d="M1130 226l1 0 9 1 2-1 6 1 11 0 1 0 2-1 3 0 7 0 1 1 2-1 0 1 3 0 17-1 2 1 0 0 1-1 17 0 6 1 1 0 19 0"/>
<path class=b1 d="M1179 227l16-1 4 0 11 0 0 1"/>
<path class=b2 d="M1130 226l29 1 0 0 3 0 3 0 27-1 2 0 0 0 5 0 3 1 4 0 9-1 13 1"/>
<path class=b3 d="M1130 227l28 0 0 0 6-1 3 1 0 0 1 0 1 0 0 0 3 0 5-1 2 0 2 1 2 0 12-1 12 1 12 0 23-1 0 1"/>
<path class=b4 d="M1130 225l1 1 2 0 0 0 7-1 0 1 9-1 10 0 5 1 3-1 7 0 0 1 33 0 1-1 5 0 1 1 28 0"/>
<path class=b0 d="M1194 226l4-1 17 0 14 1 17 0"/>
<path class=b2 d="M1136 225l13 0 3 0 6 0 5 0 9 0 3 1 2-1 14 0 10 0 10 0 11 0 9 0 0 0"/>
<path class=b1 d="M1198 226l12 0 13-1"/>
<path class=b3 d="M1113 225l39 1 4-1 3 0 4 0 4 0 6 1 4-1 1 0 2 0 7 0 10 0 0 0 0 0 2 0 7 1 3-1 2 1 4 0 2-1 4 0 20 0"/>
<path class=b3 d="M1128 224l3 0 3-1 3 1 5 0 4 0 6 0 7 0 1 0 2 0 21 0 4-1 6 1 1 0 1 0 2-1 0 1 3 0 1-1 0 1 3-1 13 1 1 0 9 0 9-1"/>
<path class=b1 d="M1158 224l36 0 1 0 16 0 2 0"/>
<path class=b4 d="M1130 224l4 0 21 0 3-1 7 0 6 1 2 0 6 0 4 0 18 0 8 0 15 0"/>
<path class=b0 d="M1134 224l82 0 5-1 25 1 2-1"/>
<path class=b2 d="M1158 223l0 1 6-1 3 2 5-1 1 0 0 0 15-1 7 1 17-1 1 1 4 0 2-1"/>
<path class=b0 d="M1184 221l11 1 45-1"/>
<path class=b3 d="M1140 222l6 1 26 0 3-2 6 2 16-1 1-1 2 1 0 1 5-1 4 0 6-1 0 1 0 0 4 0 0 1 3-1 0 0"/>
<path class=b1 d="M1142 221l6 1 8-1 8 1 3 1 7 0 20-1 0 1 1-1 69 0"/>
<path class=b4 d="M1130 222l0 0 10 0 6 0 2-1 1 2 10-2 0 2 0 0 1-1 2 0 3 1 20-2 0 1 7-1 6 2 30-2"/>
<path class=b2 d="M1130 222l3 1 3-1 15 1 9 0 11 0 9-1 14 1 2-1 1 0 19 1 4 0"/>
<path class=b2 d="M1158 221l1-1 14 1 5 0 3-1 8 1 3-1 15 0 0 1 22-1 14 0"/>
<path class=b1 d="M1180 221l14-1 8 1 11-1 10 1"/>
<path class=b0 d="M1195 220l21 0"/>
<path class=b4 d="M1114 220l14 0 2 0 1 1 2-1 6 1 1 0 11 0 2-1 5 1 5-1 2 1 12-1 7 0 10 0 13 1"/>
<path class=b3 d="M1128 220l17 0 4 0 10 1 1-1 0 1 2-1 2 1 5 0 4-1 1 1 14 0 6-1 1 0 1 0 2 1 2 0 1 0 6 0 6-1 3 1 0 0 1-1 1 1 0 0 12 0"/>
<path class=b2 d="M1133 220l3-1 7 0 10 1 5-1 2-1 3 1 2 0 30-1 4 1 0 0 2-1 3 1 0 0 12 1 3-2 1 0 1 1 1 1 17-1"/>
<path class=b1 d="M1134 220l26-1 2-1 27 0 5 1 47-1"/>
<path class=b3 d="M1149 219l9 0 0 0 6-1 3 1 4 0 4 0 0 1 2-1 7 0 10 0 1-1 4 1 3 0 18-1"/>
<path class=b4 d="M1128 219l5 1 6-2 9 1 5 0 6 0 4-1 1 1 3 0 2 0 16-1 18 0 1 0 6 1 1-1 10 1"/>
<path class=b0 d="M1214 220l27-1 3 0"/>
<path class=b1 d="M1160 217l17 1 34 0 14 0 15 0"/>
<path class=b0 d="M1165 218l36 0 5 0"/>
<path class=b4 d="M1111 218l5 0 15 0 6-1 3 1 2-1 1 0 3 0 13 0 0 0 4 0 2 0 7 1 0 0 6-1 1 0 15 1 5-1 4 0 0 1 7-1 5 0 4 0 2 0"/>
<path class=b3 d="M1128 218l2 0 1-1 2 0 4 0 2 0 23 0 7 1 6 0 8 0 5-1 0 0 7 1 4 0 3-1 1 1 2-1 9 0 3 0 5 0 12 0"/>
<path class=b2 d="M1183 217l1 1 2-1 14 1 14-1 4 0 6 1"/>
<path class=b2 d="M1131 216l2 0 12 0 4 0 4 0 3 0 7 0 10 0 13 0 2 1 6-1 8-1 3 1 4 0 1 0 7-1"/>
<path class=b0 d="M1184 216l10 0"/>
<path class=b4 d="M1113 216l15 0 2 0 0 0 1-1 3 0 2 0 1 1 8-1 1 0 6 0 3 1 3 0 4 0 10-1 0 1 3 0 9-1 8 1 2 0 1 0 2-1 0 1 12 0 15 0"/>
<path class=b3 d="M1158 216l1 0 4 0 2-1 2 1 4 0 0 0 24 0 4-1 1 0 10 1 32 0"/>
<path class=b1 d="M1195 216l9 0 3 0 10-1 7 1"/>
<path class=b0 d="M1134 215l60-1"/>
<path class=b4 d="M1130 215l1-2 6 1 12 1 7-1 2 0 0 0 4-1 0 1 0 0 1 1 14-1 0 1 0 0 9-1 3 1 10-2 2 2 18-1"/>
<path class=b3 d="M1130 215l15 0 17-1 1 1 9 0 2 0 6-1 14 0 0 0 1 0 2 1 3 0 2-1 4 1 2-1 6 0 1 0 1 1 3 0 6-1 1 1 9 0 6-1 8 1"/>
<path class=b2 d="M1130 215l1-1 11 1 17-1 12 1 4-1 2-1 2 2 16-1 3 0 15 0 6 0 21 1 2 0"/>
<path class=b0 d="M1198 213l21-1 23 1 12 0 3-1"/>
<path class=b1 d="M1195 214l5-1"/>
<path class=b2 d="M1128 212l2 1 6 0 1 0 26 0 1-1 4 1 7 0 5 0 1-1 3 1 5 0 5-1 14 1 7 0 1 0 13 0 8 0"/>
<path class=b3 d="M1146 213l2 0 11 0 4 0 4 0 2-1 5 1 3 0 8 0 3-1 6 0 0 1 1-1 2 1 2 0 1 0 2 0 13-1 26 0 1 1"/>
<path class=b4 d="M1128 213l3-1 6 1 0 0 11-1 10 1 0 0 1 0 6 0 7 0 1 0 24 0 4 0 1 0 0 0 26-1"/>
<path class=b4 d="M1111 211l0 1 5-1 17 0 0 0 4 0 18 1 3-1 1 0 0 1 3-1 2 1 3-1 1 1 9-1 17 0 1 1 4 0 41-1"/>
<path class=b3 d="M1131 211l9 0 0 1 9 0 14 0 6-1 3 0 0 1 2-1 5 1 2-1 4 0 1 1 10 0 7-1 1 1 5-1 2 1 1-1 5 0 1 0 27 1"/>
<path class=b1 d="M1158 212l14 0 25 0 10 0"/>
<path class=b2 d="M1134 212l24 0 5 0 4-1 0 1 16 0 15-1 3 0 3 1 2-1 19 1 17 0 2 0 0 0"/>
<path class=b4 d="M1128 210l9 0 5 0 3 0 10 1 3-1 4 0 0 0 2 1 10-1 7 1 16 0 2-1 2 0 5 0 42 0"/>
<path class=b3 d="M1137 211l11-1 1 0 15 0 1 0 14 0 1 0 14 0 0 1 1-1 2 0 3 0 3 0 1-1 10 2 3 0 4-1 1 0 1 0 19 0"/>
<path class=b2 d="M1128 211l2-1 1 0 3 0 22 0 3 0 1 1 2-1 13 0 20 0 1 0 3 0 7 0 1 0 8 1 25-1"/>
<path class=b0 d="M1201 210l5 1 34-1 10-1"/>
<path class=b1 d="M1189 210l22 0 4 0 25 1 2-1"/>
<path class=b0 d="M1205 208l4 1 4 0 22 0 7 0"/>
<path class=b4 d="M1130 208l1 1 11-1 16 1 1 0 4 0 5 0 1 0 2 0 3-1 7 0 0 1 3-1 10 0 8 1 6-1 6 1"/>
<path class=b2 d="M1130 209l7-1 15 0 7 0 0 1 3 0 5 0 2 0 12 0 8 0 6-1 8 1 3 0 8-1 9 1 1-1"/>
<path class=b3 d="M1128 208l8 1 6 0 16 0 5-1 9 0 3 1 2 0 1 0 16-1 1 0 3 1 0 0 3 0 1 0 14-1 6 1 2-1 16 0 1 0"/>
<path class=b1 d="M1187 209l22-1"/>
<path class=b4 d="M1131 207l2 0 3 1 3 0 6-1 13 0 0 1 6-1 14 0 5 1 3-1 11 0 2 0 7 1 8-1 2 0 7 0"/>
<path class=b2 d="M1131 207l24 0 3 0 15 0 5 0 2 0 11 0 15 1 5 0 1-1 0 1 12-1 16 1"/>
<path class=b3 d="M1142 208l9-1 1 0 3 1 5-1 2 0 2 1 3-1 1 1 11-1 6 1 2-1 7 1 3 0 1-1 2 1 0 0 1-1 1 0 9 1 5-1 1 0 25 0"/>
<path class=b1 d="M1133 207l4 1 30-1 32 0 20 1"/>
<path class=b0 d="M1195 208l30 0"/>
<path class=b2 d="M1146 205l25 0 1 1 1 0 2 0 11 0 8 0 30 0 32-1"/>
<path class=b1 d="M1162 205l0 1 7 0 2 1 15-1 11 0 21-1 12 0 10 1"/>
<path class=b3 d="M1131 205l5 1 3 0 0 0 1 0 18 0 5-1 8 0 0 1 12 0 9 0 2 0 1 0 0 0 18 0 5-1 5 1 26 1"/>
<path class=b4 d="M1111 205l17 1 2-1 0 1 0 1 1-1 11-1 6 0 1 0 6 1 3 0 2-1 3 0 1 1 1 0 2 0 2 0 4 1 15-2 6 1 1 0 10-1"/>
<path class=b0 d="M1207 205l34 0"/>
<path class=b3 d="M1140 205l33 0 4-1 14 0 4 0 1 0 3 0 5 0 1 0 1 0 3 0 7 0 0 1 6 0 11-1 15 1"/>
<path class=b2 d="M1146 204l13 0 0 0 1 0 18 0 3 1 13-1 0 0 1 0 6 1 13 0 3-1 4 0"/>
<path class=b1 d="M1131 204l31 0 6 1 18-1 8 0 8 1 5-1 6 0"/>
<path class=b4 d="M1111 205l2-1 17 0 0 0 1 1 0 0 14-1 7 0 6 1 7 0 3 0 0 0 1-1 3 0 6 0 0 0 0 0 3 1 10-1 8 0 3 0 34 0 5 0"/>
<path class=b3 d="M1128 203l2 0 1-1 17 2 5 0 2-1 4 1 8-1 6 0 0 1 13-1 1 1 7-1 2-1 3 1 5 0 10-1 5 1 1 0 10 0 11 0"/>
<path class=b1 d="M1133 203l70 0 2 0 12 0 1 0 9 0 3 0"/>
<path class=b4 d="M1128 203l3 1 8-1 1 0 6 0 3 0 14 0 0 0 1 0 13 1 11-1 9 0 11-1 9 1 27 0 1 1"/>
<path class=b2 d="M1134 203l5 0 19 0 0 0 4 0 3 0 4 0 3 0 8 0 14 0 3 0 1 0 2 0 0 0 10 0 6 0"/>
<path class=b0 d="M1196 202l43-1"/>
<path class=b4 d="M1133 202l13 0 13 0 1-1 3 1 10-1 2 1 19 0 4 0 7 0 4 0 3 0 7 0"/>
<path class=b1 d="M1136 201l35 1 6-1 9 1 18-1 5 1"/>
<path class=b3 d="M1143 201l2 1 7 0 3 0 8 0 29 0 3 0 2 0 1 0 3 0 2 0 5-1 1 1 1 0 0 0 5 0 4-1 4 1 17 0 1 0 1 0 4 0 38 0"/>
<path class=b2 d="M1131 201l0 0 8 1 12-1 20 1 1 0 2 0 0 0 1 0 4 0 9 0 9-1 15 1 1 0 29 0 2 0"/>
<path class=b2 d="M1130 200l3 0 22 1 8 0 4 0 6-1 8 1 2 0 6-1 5 0 2 0 6 0 12 0 4 0 1 1 1 0 10 0"/>
<path class=b0 d="M1179 200l15 0 20 1 20-1 6 0"/>
<path class=b3 d="M1142 200l33 0 12 0 7 0 1 0 2 0 5 1 1-1 3 0 1 1 0 0 3 0 8-1 8 1 1 0 9-1 4 0"/>
<path class=b4 d="M1130 200l0 0 3 1 1-1 0 0 2 0 10 1 3-1 0 0 10 0 0 0 22 1 4 0 10 0 5-1 0 1 5 0 6 0 2-1 3 0"/>
<path class=b0 d="M1152 199l66 0 12 0 10 0 1 0"/>
<path class=b1 d="M1162 198l11 1 42-1 15 1 2-1 8 2 6-1"/>
<path class=b2 d="M1128 199l6 0 26 0 5 0 2 0 17 0 10 0 0 0 3 0 15 0 8 0"/>
<path class=b4 d="M1130 199l1 0 2 0 4 1 2 0 9-1 4-1 3 1 3 1 5-1 1 0 4 0 3 1 12-1 12-1 6 1 2 1 14-1 1 0 7 1"/>
<path class=b3 d="M1134 198l8 2 17-2 10 1 6 0 0 1 2-1 1 0 3 0 0 0 7 0 6 0 7 0 0 0 1 1 5 0 4 0 33-2"/>
<path class=b1 d="M1149 198l13 0 50 0 18-1"/>
<path class=b3 d="M1137 197l15 1 11 0 0 0 16-1 16 1 2-1 8 1 4 0 1-1 5 1 1 0 1-1 2 0 0 1 23 0 35-1"/>
<path class=b0 d="M1209 198l1-1 13 1 6-1 11 1"/>
<path class=b2 d="M1131 197l8 1 19 0 1 0 3-1 6 1 12 0 1-1 15 1 2 0 5-1 0 0 2 1 0 0 12-1 15 0 1 1"/>
<path class=b4 d="M1070 197l60 1 7 0 3 0 2-1 4 0 5 0 7 1 1 0 5-1 0 1 3-1 4 0 26 1 15-1 14 1 3 0"/>
<path class=b4 d="M1128 196l2 0 19 1 9-1 1 0 3 0 3 1 2-1 1 0 0 1 1 0 10 0 4-1 9 0 2 0 1 0 5 0 1 0 1 0 3 0 1 0 10 0 24 1"/>
<path class=b0 d="M1194 196l48 1"/>
<path class=b3 d="M1131 196l9 0 20 0 11 1 0 0 3-1 22 0 1 0 2 0 0 0 0 0 7 0 8 1 5-1 0 0 14 0 2 0 5 0 2 0"/>
<path class=b2 d="M1130 196l33 0 0 1 4-1 11 1 6-1 10 0 1 0 16 0 5 0 0 0 13 1"/>
<path class=b1 d="M1130 196l28 0 69 0 14 0"/>
<path class=b3 d="M1142 195l10 0 8 0 20 0 14 0 1-1 1 0 1 1 0 0 5 0 0 0 3 0 1-1 7 0 7 1 0 0 2 0 1-1 17 1 0 0 1 0 10-1"/>
<path class=b2 d="M1139 195l19 0 16 0 5-1 5 1 1-1 1 1 8 0 1 0 8-1 4 1 31 0"/>
<path class=b1 d="M1159 195l35-1 19 0 20 1 8 0 3-1"/>
<path class=b4 d="M1128 195l3-1 0 1 0 0 11-1 4 0 7 0 6 1 6 0 9-1 1 1 2 0 1 0 7 0 13 1 9-2 7 1 22 0"/>
<path class=b0 d="M1205 195l10 0"/>
<path class=b1 d="M1130 193l67 0"/>
<path class=b2 d="M1131 193l9 0 6 0 12 1 1-1 0 0 4 0 9 0 0 0 14 0 3 0 15 1 13-1 0 1 9-1 5 0 10 0 0 0 1 0 16 1"/>
<path class=b3 d="M1130 193l12 1 1 0 19-1 2 0 11 1 5 0 15-1 3 1 3-1 5 0 1 0 1 0 4 0 4 0 0 0 4 0 1 1 1 0 19-1 1 1 14-1"/>
<path class=b4 d="M1130 193l6 0 0 0 0 0 24 1 3 0 6-1 2 0 24 0 2 1 1-1 3 0 6 0 25 1 13-1"/>
<path class=b0 d="M1205 191l17 0 18 0 41 2 3 1"/>
<path class=b2 d="M1151 192l8 0 5-1 3 0 6 0 6 1 15-1 3 0 4 1 8 0 1 0 1-1 1 1 9 0 1-1 4 1 1-1"/>
<path class=b4 d="M1130 191l3 1 1 0 12-1 12 1 14 0 2-1 12 0 8 1 3 0 5-1 0 1 1 0 5-1 7 0 7 1 8 0"/>
<path class=b3 d="M1134 192l2-1 16 2 13-2 29 1 0 0 1 0 6 0 1-1 1 1 1 0 14 0 1 0 3 0 3-1 3 1 26 0"/>
<path class=b1 d="M1153 191l2 1 61 0 1 0 27-1"/>
<path class=b4 d="M1128 190l2 0 1 0 0 1 9-1 2 0 16 0 0 0 1-1 0 1 3 0 17 0 0 1 7-1 0 0 8 0 1 1 2-1 3 0 5 0 3 0 6 0 27 0"/>
<path class=b3 d="M1131 190l3 0 9 1 15 0 2-1 4 1 5-1 0 1 4 0 13-1 12 1 2 0 7 0 10-1 9 1 18-1 1 1 3-1"/>
<path class=b2 d="M1134 189l5 1 19 0 2 0 34 0 2 0 0 1 14-2 14 2 17 0 12 0"/>
<path class=b1 d="M1151 190l17 1 4-1 35 1 1-2 7 1 42 0"/>
<path class=b4 d="M1128 188l2 0 0 1 1 0 8 0 12-1 0 1 9-1 2 1 9-1 3 0 1 0 0 1 6 0 5 0 8-1 2 0 23 0 7 1 3-1"/>
<path class=b2 d="M1130 188l6 1 26-1 19 0 2 1 11-1 4 1 2-1 0 0 2 0 0 0 6 0 5 1 1 0 8 0 19 0 0 0"/>
<path class=b3 d="M1175 188l5 1 14-1 1 0 0 0 4 0 3 1 5 0 7 0 1-1 5 0 17 1 3 0"/>
<path class=b1 d="M1146 188l3 0 6 0 13 0 3 0 1 0 1 0 26 1 38-1 7 0"/>
<path class=b2 d="M1130 187l38 0 1 0 15-1 11 1 3 0 0 0 15-1 2 0 1 0 6 0 7 0 12 0 2 1"/>
<path class=b1 d="M1140 188l16-1 19 0 19-1 0 0 0 1 3 0 18-1 16 1 10 0 0 0"/>
<path class=b3 d="M1134 186l8 1 3 0 8 0 5-1 2 1 37 0 4 0 3 0 1 0 1 0 7-1 5 0 0 1 7 0 9-1 8 0 8 1"/>
<path class=b4 d="M1128 187l31-1 0 0 0 1 0 0 5 0 7 0 24 0 0 0 2 0 3-1 5 0 12 1 4 0"/>
<path class=b0 d="M1156 187l63-1 4 0 21 5"/>
<path class=b2 d="M1133 184l23 0 4 1 4 0 1 0 9 0 4 0 24 0 14 0 6 0 7 0 7 0 4 0 4 0"/>
<path class=b3 d="M1134 185l11 0 23-1 5 1 10 0 11 0 4-1 12 1 1 0 10 0 11-1 3 0 0 1 5 0 0 0 4-1"/>
<path class=b1 d="M1194 185l22 0 1-1 3 1 1 0 7 1 14-1 0 1"/>
<path class=b4 d="M1131 185l0 0 0 0 14 0 10 0 3 0 1 0 3 0 12 0 3-1 6 1 11 1 3-2 10 0 0 2 2 0 17-1 1 0 9 0"/>
<path class=b0 d="M1201 185l10 0 1 0"/>
<path class=b4 d="M1130 183l0 0 0 1 0 0 3-1 9 0 9 0 0 0 8 0 1 1 2 0 1 0 4 0 1-1 3 1 13 0 3 0 4-1 4 1"/>
<path class=b1 d="M1142 183l16 0 45 1 3 0"/>
<path class=b2 d="M1158 183l36 0 3 1 1-1 9 0 10 1 9-1 4 1 15-1"/>
<path class=b0 d="M1222 183l20 1"/>
<path class=b3 d="M1128 184l9-1 25 0 5 1 7-1 21 1 0 0 3-1 0 1 0 0 0 0 2-1 3 1 4 0 3-1 1 0 1 1 2 0 5 0 4 0 1-1 1 1 2-1 4 0 11 1 9 0"/>
<path class=b3 d="M1133 182l26 0 4 0 18-1 11 0 2 1 0 1 1-1 15 0 2 0 1-1 1 1 4 0 13-1 4 0 6 1 5 0"/>
<path class=b0 d="M1183 182l59-1"/>
<path class=b2 d="M1130 182l15 0 0 0 8-1 12 1 3 0 1-1 6 1 20 0 2 0 2-1 3 1 10 0 4 0 8 0 1-1 5 1 1 0 10 1"/>
<path class=b4 d="M1128 181l2 0 1 0 2 0 26 0 4 0 6 0 11 0 11 1 12 0 1 0 13 0 10 0 4 0 21 0"/>
<path class=b1 d="M1163 182l2 0 30 0 9 0 12 0 2 0 8 0"/>
<path class=b1 d="M1198 180l24 1 18 0"/>
<path class=b0 d="M1162 181l37-1 16 1 39-1"/>
<path class=b2 d="M1134 181l9 0 34 0 3 0 7 0 7 0 4-1 3 0 6 0 13 0 0 1 8-1"/>
<path class=b4 d="M1128 181l9-1 5 0 13 1 3-1 0 1 1-1 3 1 7-2 23 2 3-1 1 0 2 0 4 1 4-1 8 0 3-1 11 2 2 0 11-1"/>
<path class=b3 d="M1131 181l3 0 2 0 15-1 8 0 8 1 4-1 23 1 1-1 12 1 9-1 2 0 1 1 1-1 10 0 11 0 1 0 0 0 5 0 1 0 6 0"/>
<path class=b2 d="M1143 179l15-2 25 2 1-1 11 0 9 0 8 1 10 0 0 0 0 0 6-1 9 0 3 0 6 1 1-1"/>
<path class=b3 d="M1130 179l18 0 10-1 5 1 15 0 7-1 2 1 7-1 3 0 3 1 5-1 0 1 10-1 26 0 0 1 3 0 54 0"/>
<path class=b4 d="M1128 179l2 0 12-1 0 1 1-1 5 0 7 0 5 1 11 0 16-1 7 0 0 1 1 0 7-2 1 2 11 0 3 0 4-1 5 0 3 0 21 1"/>
<path class=b1 d="M1148 179l36 0 11-1 2 1 1-1 18 0"/>
<path class=b0 d="M1210 177l12 0"/>
<path class=b2 d="M1128 177l28 0 6 0 2 0 9 0 24-1 2 0 4 1 1 0 2 0 10-1 2 1 6 0 4-1 24 0 14 1"/>
<path class=b4 d="M1130 176l0 1 9 0 4-1 21 0 0 0 10 0 21 1 4-1 2 1 7 0 2 0 4-1 3 1 13 0 24 0 8 0"/>
<path class=b3 d="M1167 177l2-1 25 0 0 0 1 0 0 1 5 0 1-1 2 1 12-1 3 1 6-1 0 1 12 0 1 0 3 0 1 0 1-1 0 1 2 0 2 0"/>
<path class=b1 d="M1189 177l51 0 7 0 3-1 5 1"/>
<path class=b2 d="M1142 175l6 1 7 0 3-1 1 0 1 1 34-1 1-1 8 1 1 0 4 0 1 1 4-1 40 0"/>
<path class=b1 d="M1159 175l13 0 20 0 3 0 4 0 6 0 17 1 19-2"/>
<path class=b3 d="M1145 175l29 1 20-1 0 1 1-2 2 1 2 0 1 0 14 1 4 0 3-1 2 1 9-2 9 1 1 0 59 0"/>
<path class=b4 d="M1130 176l0 0 1-1 8 1 6-1 7 0 41 1 4 0 3-1 5 1 1-1 2 0 0 0 5 0 1 0 5 1 12-1 4 0 9-1 0 1"/>
<path class=b0 d="M1183 175l16 1"/>
<path class=b3 d="M1139 174l6-1 13 0 41 0 0 0 13 0 7 0 0 1 1-1 18-1 4 1 4 1"/>
<path class=b0 d="M1198 174l30-1 13 1 38-1"/>
<path class=b4 d="M1128 174l8-1 0 1 1-1 8 0 1 1 0 0 5-1 7 0 4 0 9 0 17 0 3 1 4-2 3 2 6 0 13 0 2 0 2 0 8 0 1-1 10-1 25 1"/>
<path class=b2 d="M1136 173l3 0 19 0 7 1 13 0 1-1 5 0 20 1 10-1 3 1 1 0 2 0 2-1 1 1 40-1"/>
<path class=b1 d="M1168 174l34-1 1 0 12 0 14 1 16-1"/>
<path class=b3 d="M1172 171l22 1 7-1 1 1 2 0 0 0 5-1 2 0 0 1 3-1 6 0 1 1 0 0 4 0 14-1 0 1"/>
<path class=b0 d="M1242 171l49 1"/>
<path class=b1 d="M1194 171l0 1 8 0 5 0 33-1 0 1 21 0"/>
<path class=b4 d="M1131 171l11 0 11 1 6-1 1 1 0 0 0 0 3-1 14 1 2 0 15 0 18 0 2 0 2-1 1 0 23 0"/>
<path class=b2 d="M1137 172l9 0 27 0 0 0 1 0 1-1 3 0 2 0 11 0 4 1 0 0 2-1 4 0 3 1 9 0 8-1 20 0 0 1 7-1"/>
<path class=b4 d="M1130 169l0 1 3 0 13 0 0 0 2 0 1 0 4 0 5 0 9-1 5 0 13 0 9 1 2-1 1 1 8 0 1 0 18-1 3 0 11 1 6 0"/>
<path class=b1 d="M1173 170l22 0 3-1 3 1 11 0 3 0 4 0 9 0 14 1 0 0 6-1 14-1"/>
<path class=b2 d="M1130 170l0 0 21-1 1 0 43 1 7-1 12 0 0 0 4 1 12-1 9 1"/>
<path class=b3 d="M1130 170l30 0 4 0 1-1 23 1 1 0 5 0 2 0 1-1 2 0 11 0 7 1 5-1 1 0 13 2 13-1"/>
<path class=b4 d="M1130 168l4 1 9-2 15 1 1-1 0 1 1 1 2-2 0 2 1-2 2 2 29-2 0 2 1-1 14 1 3-1 3 1 4 0 15-2 7 1"/>
<path class=b1 d="M1199 169l29 0 9 0"/>
<path class=b0 d="M1194 169l54-1"/>
<path class=b3 d="M1130 168l19 0 15 0 3 1 11-2 16 0 0 1 1 0 4 0 18 1 2-2 0 2 2-2 1 0 12 1 2-1 4 1 1 0 1 0 20 0"/>
<path class=b2 d="M1158 167l2 1 13 1 1 0 3 0 18-2 3 1 2-1 5 2 3 0 1-2 13 1 2 1 9-1 8 0"/>
<path class=b0 d="M1235 166l6 0 1 0"/>
<path class=b2 d="M1136 165l13-1 10 2 5 0 30-1 2 1 4-1 2-1 0 1 1 0 6 1 7-1 10 0 4 1 10 0 2 0 6-1 1 1"/>
<path class=b3 d="M1164 166l20 0 10 0 4-1 2-1 7 2 3-1 1 0 3 0 6 0 1 1 2 0 18 0 8-1"/>
<path class=b1 d="M1131 165l43 1 42 0 12-1 3 0 5 0 5 1 3 0"/>
<path class=b4 d="M1130 165l0 0 3 0 0 1 16-1 14 0 5 2 3-2 2 2 14 0 7-3 0 0 1 2 6 0 3 0 11-1 5 1"/>
<path class=b2 d="M1142 164l1-1 15 0 27 0 9 0 0 0 18 0 1 0 2 1 1-1 18 0 12 1"/>
<path class=b3 d="M1128 162l6 1 30 0 5 0 2 0 10 0 14 1 2 0 12 0 2-1 9 0 1 1 1-1 0 1 1-1 4 1 4 0 1-1 8 1 1 0 1-1 0 1 8 0 1 0"/>
<path class=b1 d="M1181 163l23 0 15 1 45-1"/>
<path class=b4 d="M1130 164l0 0 7-1 6 1 6-1 9 0 1 1 5-1 4 0 0 1 10-1 9 1 8 0 0 0 2-1 0 0 1 1 2 0 28 0 5 0"/>
<path class=b0 d="M1198 162l0 0 49-1 0 1 7-1"/>
<path class=b2 d="M1159 162l29-1 10 1 26-1 2 1 8 0 6 0 2 0"/>
<path class=b1 d="M1197 162l18 0 11-1 8 0 10 1 7 0"/>
<path class=b3 d="M1148 161l11 0 12 0 4 1 19 0 19-1 2 0 2 0 7 1 4-1 13 0 0 1 0 0 0 0 1 0 1 0 1 0 1-1 7 0 2 0"/>
<path class=b4 d="M1133 161l10 1 6-1 3 0 4 1 6 0 1-1 5 0 26 0 1 1 0 0 1 0 2-1 3 0 0 1 4 0 0 0 1-1 0 1 8 0 6-1"/>
<path class=b4 d="M1142 160l0 0 3-1 1 1 3 1 9-1 15 0 1 0 3 0 7-1 7 1 5 0 1 0 2 0 5-1 1 0 1 0 3 0 7 2 25-2"/>
<path class=b2 d="M1136 160l15 1 2-2 5 1 1 0 3-1 1 1 15 1 14 0 3-1 13-1 18 0 6 2 6 0 3-1 0 0 16 1"/>
<path class=b1 d="M1130 160l64 0"/>
<path class=b3 d="M1159 160l32 1 3-2 0 2 1-1 3-1 0 1 2-1 1 2 5-2 3 0 8 1 2 0 2-1 1 1 21-1 17 1"/>
<path class=b0 d="M1197 160l19 0 26 0 9-1"/>
<path class=b3 d="M1137 159l21-1 4 1 6-1 4-1 17 0 7 1 3 0 2-1 3 0 0 1 4-1 12 1 7 0 3-1 10 0 0 2 11-1 11-1"/>
<path class=b0 d="M1207 157l7 1"/>
<path class=b1 d="M1159 157l62 1 1 0 13-1 1 0 4 0"/>
<path class=b4 d="M1128 158l0 1 2-2 3 0 7 1 2 0 7 0 10-1 9 0 4 1 2 0 20 0 1 0 1 0 6 1 18-1 3-1 11 0 5 2 14-2 4 0"/>
<path class=b2 d="M1160 159l15-1 19 1 3-2 5 1 4 0 0 0 11 0 4 0 12 0 7 1 4-1"/>
<path class=b1 d="M1149 157l73-1 7-1 14 1"/>
<path class=b2 d="M1155 157l16-2 10 2 5-1 8 0 0 0 0 0 2 0 2 1 4-1 0 0 4-1 4 2 5-1 8-1 7 2 19 0 5-1"/>
<path class=b4 d="M1128 156l2 0 3 1 9-1 4 0 12-1 6 0 42 0 2 0 1 1 4 1 4-2 3 1"/>
<path class=b3 d="M1137 157l26-1 0 0 6 0 3 0 0 0 3 0 4-1 10 1 7 0 3 0 1 0 0 0 3 0 6 0 5-1 1 1 5-1 1 1 20 0 7 0 0 0 7 0 2-1"/>
<path class=b4 d="M1130 154l9-1 7 2 13 0 35-1 3 1 1 0 3 0 0 0 8-1 18-1 8 0 12 2 4 0 3-1"/>
<path class=b0 d="M1196 156l22-1 14-1 0 0"/>
<path class=b3 d="M1175 155l20-1 0 1 3 0 20-2 4 2 2 0 8-1 9 0 1 0 2 0 1 0 9 1"/>
<path class=b1 d="M1156 155l33-1 2 0 12 0 16 0 27 0 0 0 11 1 7 0"/>
<path class=b2 d="M1134 155l31-1 7 0 20 0 2 1 0 0 1 0 4-1 2 1 8-2 5 0 4 1 1 1 6 0 1-1 4 0 5 1 5-1 1 0 3 0"/>
<path class=b3 d="M1140 152l19 0 3 1 18 0 14-1 0 0 3-1 1 0 1 1 3 0 5 0 0 0 7 0 3 0 0 0 3 1 1-2 0 1 4 0 9-1 4 1 2 0 2 1 7-1 2 0"/>
<path class=b4 d="M1128 151l32 0 4 0 3 2 1 0 3 0 3-1 20 0 2 1 1 0 2-1 8 0 4 0 5-1 11 1 14 0 1-1 11 0"/>
<path class=b2 d="M1158 151l1 1 19 0 11 0 6 1 1 0 19 0 17-1 10 1 8-1"/>
<path class=b1 d="M1195 152l12-1 34 1"/>
<path class=b0 d="M1165 152l78 1 12-1 22-1"/>
<path class=b2 d="M1130 150l28 1 13-1 9-1 6 0 8 1 6-1 5 2 5 0 4-2 5 0 9 2 1-1 1 0 15 0"/>
<path class=b3 d="M1171 151l6-1 3 0 0 1 14-1 2 1 7 0 2-1 1 0 0 1 4 0 7-1 1-1 2 1 5 0 0 1 14 0 1-1 4 1 2-1 6 1 5-1 5 0"/>
<path class=b1 d="M1171 150l38 1 48 0"/>
<path class=b0 d="M1145 150l64 0 8 1 29-1"/>
<path class=b4 d="M1148 150l12 0 8 1 24-2 2 1 2 1 2-2 6 2 10-2 3 1 5 0 14 1 3-1 1 0 1 0"/>
<path class=b1 d="M1195 147l3 2 5 0 24-1 11 0 6 0"/>
<path class=b4 d="M1156 149l4-2 0 2 2 0 2-1 5-1 18 2 7-1 1 0 1 0 1 1 3-2 3 1 11-1 0 1 2 0 4 0 0 1 21-1"/>
<path class=b3 d="M1158 149l5-1 0 1 37-1 1 0 2 1 5 0 5-2 4 0 5 2 1-1 0 1 13-1 6 0 0 1 2-1 1-1 2 1 3 0 1 0 19 0"/>
<path class=b2 d="M1128 147l18 1 48 0 0 0 1 0 5-1 3 1 15 0 15 0 7 0 1 1 4-2 20 1"/>
<path class=b3 d="M1137 146l6 0 29 0 2 1 21 0 4-1 1 0 2 0 1 0 12 1 3-1 1 1 10-1 0 1 11-1 0 1 1-1 0 0 1-1"/>
<path class=b2 d="M1134 146l2 1 23 0 9-1 7 0 2 1 19 0 2-1 5 0 27 0 10 1 1-1 1 0 0 1 9 0 3-1"/>
<path class=b4 d="M1130 146l1-1 5 1 22 0 0 0 1 1 14-1 4 0 11 1 6-1 0 0 0 1 12 0 8-1 2-1 1 1 8 1 2-1 7 0 6 0"/>
<path class=b1 d="M1156 146l84 0 7 1"/>
<path class=b0 d="M1207 148l40-2 23 1"/>
<path class=b3 d="M1160 145l3-1 0 0 31 0 0 0 1 0 2 0 2 0 0 1 1 0 21-2 1 1 6 1 1 0 1 0 1-1 9 1 4-1 0 1 11 0 38 0"/>
<path class=b0 d="M1219 145l27-1 3 0 5 0"/>
<path class=b4 d="M1134 145l24-1 1 0 4 0 11 1 21 0 2-1 0 1 1-2 2 1 4 1 2 0 3-1 32 1"/>
<path class=b1 d="M1171 145l1-1 8 0 25 1 3 0 17-1 19 0"/>
<path class=b2 d="M1131 145l6-1 25 0 21 0 5 0 6 0 2 1 2-2 4 1 12 1 3 0 3 0 10-1 12 0"/>
<path class=b1 d="M1204 143l14-1 3 1 9 0 17-1 1 1 16 0"/>
<path class=b3 d="M1168 142l26 1 1-1 6 1 1-1 3 0 3 1 0 0 6-1 2 0 3 0 1 0 12 0 9 0 4-1 3 2 13-2 18 2"/>
<path class=b0 d="M1200 142l17 0 29 1 34 0"/>
<path class=b4 d="M1130 142l55-1 9 1 3 1 0 0 3-1 16 0 2 0 4 0 13 0 1 1 2 0 6-1 4 0"/>
<path class=b2 d="M1167 143l4 0 1-1 13 1 9-1 1 1 1-1 6 0 0 1 7-1 3 0 6 0 4 1 2-1 17 0 0 0 7 1"/>
<path class=b1 d="M1158 141l41-1 28 0 7 0 7 1 3 0 1-1 7-1 3 2"/>
<path class=b4 d="M1148 140l11 0 3 0 3-1 31 1 1 1 7-1 10 0 6 0 8 1 8 0 5 0"/>
<path class=b2 d="M1128 141l28-1 3 0 1 0 2 1 32-1 20 0 12-1 24 2 8-2 9 1"/>
<path class=b3 d="M1131 141l28 0 8 0 24-1 3 0 0 1 2-2 0 1 0 1 1-2 0 2 6 0 2-1 8 1 1-1 0 1 5 0 1 0 1-1 10 1 1-2 9 1 3 1 2-2 4 2 3-1 9-1"/>
<path class=b1 d="M1201 138l2 0 16-1 21 0 1 2 3-1"/>
<path class=b3 d="M1136 138l23 0 6-1 34 1 1-1 5 0 5 0 8 1 12-1 13 1 1 0 0 1 2-1 1 0 1-1 6 0"/>
<path class=b2 d="M1153 138l6-1 13 2 6 0 16-2 0 0 0 2 3-2 1 0 3 0 16 1 2-1 10 0 11 0 0 1 5-1"/>
<path class=b4 d="M1130 138l9 0 6 1 13-1 1 1 6-1 2-1 5 1 0 0 2-1 14 1 6 0 1 0 0 0 1-1 14 2 2-2 8 1 2 0 18 1 11 0 4-1"/>
<path class=b3 d="M1152 137l34 0 1-2 7 0 0 0 9 1 3-1 6 0 0 1 2-1 6 0 2 1 2 0 3 1 13-1 1 0 1-1 2 1 7 0"/>
<path class=b2 d="M1164 135l15 1 15 0 3 0 3-1 15 2 1-1 17 0 6 0 5 1 5 0"/>
<path class=b1 d="M1197 137l22-1 21-1 2 0 1 1 1 0 24-1"/>
<path class=b0 d="M1211 136l56 4"/>
<path class=b4 d="M1153 136l5 0 1 0 1 0 3 0 0 1 8-2 4 1 14-1 6 2 1-1 1-1 9 1 2-1 4 1 3 0 2 1 2-2 18 0 3 0 10 0 2 0"/>
<path class=b1 d="M1167 134l57-1 1 1 5-1 21 1 3 0"/>
<path class=b3 d="M1169 133l27 2 2-2 5 0 0 0 5 1 13 0 4 0 4-1 2 0 4 0 0 1 4 0 3 0 13-1 3 1"/>
<path class=b4 d="M1142 133l11 0 12 1 30 0 2 0 12-1 1 1 2-1 3 2 3-1 3-1 1 0 2 1 9 0 5 0 2-2 20 1"/>
<path class=b2 d="M1159 133l35 1 2-1 0 1 6 1 1-2 1 1 2 0 3-1 3 0 6 1 5 0 0 0 3 1 13-1 7-1 11 0"/>
<path class=b0 d="M1215 134l5-1 16 2 5-1"/>
<path class=b1 d="M1175 131l47 1 2 0 17-1 0 1 2 0 14-1"/>
<path class=b3 d="M1134 131l24 1 6 0 13-1 17 1 0 0 1-1 0 0 1-1 0 2 1-1 1 0 1 0 5 0 3 1 4 0 3 0 2-1 0 1 0 0 1 0 6-1 6 0 2 1 10-1 4 0 0 0 6 1 4 0 3-1"/>
<path class=b4 d="M1158 131l1 0 13 1 22-1 0 1 0 0 6 0 6-1 2 0 9 1 5-1 20 1 4-1"/>
<path class=b2 d="M1197 132l17 0 12-1 4 1 6-1 0 1 5 0 6-1 2 1"/>
<path class=b3 d="M1194 129l4-1 11 1 12 0 2 1 4-1 5 1 9 0 1 0 1 0 0 0 3-1 0 0 5 1 3-1 7-1"/>
<path class=b2 d="M1160 130l21 0 14 0 2-1 0 1 2 0 1-1 7 1 10-1 0 0 4 0 16 1 8 0 8-1"/>
<path class=b4 d="M1145 129l3 0 12 0 2 1 1-1 0 0 0 1 4 0 12 0 5-1 13 0 5 0 5 0 11 0 4 1 20-1 2 0 4 0 1 1 5 0 4-1"/>
<path class=b1 d="M1158 129l7 1 29-1 0 0 0 1 1 0 49-1 3 1 4 0"/>
<path class=b1 d="M1221 127l6 1 13 0 1 0 1 0 1-2"/>
<path class=b0 d="M1214 126l26 2 4 4 39-4"/>
<path class=b3 d="M1142 126l35 0 17 1 1-1 0 2 2-1 6-1 0 1 0 0 5 0 0 1 3-1 2-1 2 1 4 1 3 0 19-2 1 1 1 0 4 1 1-1 3 1"/>
<path class=b2 d="M1167 128l14-2 12 0 1 1 1-1 0 1 31 1 14-1 2 1 12 0 1-1 22 1"/>
<path class=b4 d="M1113 128l42-2 5 1 0 0 5 0 3-1 7 0 25 0 1 0 3 1 7-1 4 1 0 1 17-2 1 1 8-1 7 1"/>
<path class=b0 d="M1218 124l28 0 44-1"/>
<path class=b1 d="M1192 123l9 0 13 1 4 0 7-1 15 1 2-1"/>
<path class=b2 d="M1177 124l18 0 5 1 15-2 15 3 2-3 5 3 12-2 7 2 4-2"/>
<path class=b3 d="M1143 124l51-1 0 1 9 2 3-2 8 1 2 0 6-1 5 0 6-1 0 1 5 0 2-1 0 0 0 1 1 0 0 1 16-2 3 0 5 1 2 1"/>
<path class=b4 d="M1158 124l1 0 0 1 9-2 25 0 1 0 1 2 0 0 2 0 1 0 1 0 1-1 8-1 8 0 8 1 6 0 6 0 8 1 6-2"/>
<path class=b3 d="M1130 122l32-1 32 0 2-1 0 0 0 2 5-1 2-1 4 2 3-2 4 0 3 0 2 1 5 1 17-2 1 1 1 1 8 0 2-1"/>
<path class=b2 d="M1158 120l1 2 1 0 28 0 7-1 12 1 4-1 0 1 9-2 6 1 4 1 6-2 8 2 8-2 3 1 18 0"/>
<path class=b4 d="M1160 121l33-1 1 1 2 1 4 0 3-1 8-1 5 1 1-1 0 0 13 0 11 1 13 0"/>
<path class=b0 d="M1241 122l10 0"/>
<path class=b1 d="M1195 123l4-3 3 0 13 2 7-1 14 1 5-2 1 2 6 1 4-2"/>
<path class=b3 d="M1158 120l26-2 10 0 0 1 1 0 0 0 2 1 2-2 1 1 1-1 0 1 0 0 6 1 4 0 3-1 8 0 0 0 12 0 1 0 6-1 0 1 1 0 3 0 1 0 3-1 2 1 1 0 7-1"/>
<path class=b2 d="M1149 120l9-2 7 1 6-1 20 0 23 1 1-1 14 0 9 0 11 0 25 1"/>
<path class=b1 d="M1195 119l8-1 38 0 2 1 5-1"/>
<path class=b4 d="M1143 118l12 1 4 0 1 0 0 0 3 0 0 0 9 0 2 0 0 1 20-1 8-1 37 0 3 1 5-1 7 1"/>
<path class=b0 d="M1250 115l3 2 6 0"/>
<path class=b4 d="M1130 116l22 1 1 0 34-2 7 1 1 1 4-2 1 2 6 1 10-1 7-2 8 2 11-1 10 1"/>
<path class=b1 d="M1210 116l8 1 6-1 38 1"/>
<path class=b3 d="M1160 117l3 0 11 0 21-1 1 1 15-1 6 1 3 0 2-2 1 1 7 1 4 1 2 0 1-1 3-1 0 0 1 1 5-1 2-1 11 1 24 0"/>
<path class=b2 d="M1187 116l7 1 8-1 1 0 1 0 11 2 5-1 4 0 1 1 17-1 0 0 1-1 2-1 1 3 6-1 10-1 4 0 2 0"/>
<path class=b4 d="M1130 114l9-1 19 2 1-1 6-1 14 2 16 0 1-2 6 1 2 0 17-1 7 0 2 0 0 0 11 1 3-1"/>
<path class=b1 d="M1216 115l29-1 4-1 5 0"/>
<path class=b2 d="M1140 114l54-1 0 0 0 2 1 0 27-2 16 1 3 0 4 1 2-2 2 1 3-1 5 0 7 0"/>
<path class=b3 d="M1168 114l7 0 19 0 1 1 2-1 1-1 17 1 2 0 1-1 0 0 1 0 0 1 14 0 7 0 2-1 7 0 2 0 3 2 3-2 1 2 1-1 4-1 0 1 5 0"/>
<path class=b0 d="M1218 113l37 2"/>
<path class=b4 d="M1163 112l5 0 11-1 16 1 0 1 1-1 8 0 10-1 26 1 1 0 1 0 3 0"/>
<path class=b3 d="M1167 111l6 1 21 0 27-1 1 2 4-2 2 0 14 1 1-1 3 0 7 1 3-1"/>
<path class=b1 d="M1175 111l25 2 15-2 6 1 19 0 7 0 4 0"/>
<path class=b2 d="M1143 111l36 1 15 0 17 0 9 0 0 0 2 0 18 0 0 0 3 0 1-1 3 1 4 0 2 1"/>
<path class=b0 d="M1216 111"/>
</g>
<text class="ax" x="36" y="543.8">clarity</text>
<circle class="lg" cx="107.5" cy="525.5" r="2.0" fill="#cc0000" stroke="#cc0000"/>
<text class="tk" x="129.0" y="530.7">I1</text>
<circle class="lg" cx="107.5" cy="548.7" r="2.0" fill="#e14a00" stroke="#e14a00"/>
<text class="tk" x="129.0" y="553.9">SI2</text>
<circle class="lg" cx="171.5" cy="525.5" r="2.0" fill="#a5ff30" stroke="#a5ff30"/>
<text class="tk" x="193.0" y="530.7">SI1</text>
<circle class="lg" cx="171.5" cy="548.7" r="2.0" fill="#109810" stroke="#109810"/>
<text class="tk" x="193.0" y="553.9">VS2</text>
<circle class="lg" cx="240.5" cy="525.5" r="2.0" fill="#92c1d8" stroke="#92c1d8"/>
<text class="tk" x="262.0" y="530.7">VS1</text>
<circle class="lg" cx="240.5" cy="548.7" r="2.0" fill="#155595" stroke="#155595"/>
<text class="tk" x="262.0" y="553.9">VVS2</text>
<circle class="lg" cx="320.5" cy="525.5" r="2.0" fill="#150a88" stroke="#150a88"/>
<text class="tk" x="342.0" y="530.7">VVS1</text>
<circle class="lg" cx="320.5" cy="548.7" r="2.0" fill="#66104f" stroke="#66104f"/>
<text class="tk" x="342.0" y="553.9">IF</text>
<text class="ax" x="315.5" y="555.8">cut</text>
<circle class="lg" cx="363" cy="548.6" r="2.0" fill="#1c2048" stroke="#1c2048"/>
<text class="tk" x="384.3" y="554.0">Fair</text>
<circle class="lg" cx="429.5" cy="548.6" r="2.0" fill="#562a48" stroke="#562a48"/>
<text class="tk" x="450.8" y="554.0">Good</text>
<circle class="lg" cx="507.4" cy="548.6" r="2.0" fill="#716249" stroke="#716249"/>
<text class="tk" x="528.6999999999999" y="554.0">Very Good</text>
<circle class="lg" cx="618.3" cy="548.6" r="2.0" fill="#c4182c" stroke="#c4182c"/>
<text class="tk" x="639.5999999999999" y="554.0">Premium</text>
<circle class="lg" cx="700" cy="548.6" r="2.0" fill="#ff4a12" stroke="#ff4a12"/>
<text class="tk" x="721.3" y="554.0">Ideal</text>
</svg>
</body></html>
